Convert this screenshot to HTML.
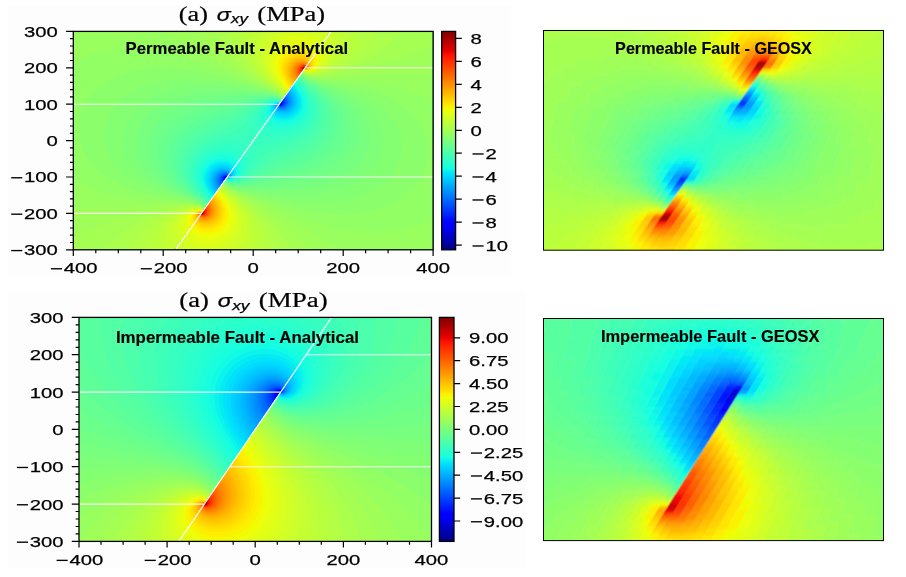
<!DOCTYPE html>
<html><head><meta charset="utf-8"><title>Fault stress verification</title>
<style>
html,body{margin:0;padding:0;background:#fff}
svg{display:block}
text{font-family:"Liberation Sans",sans-serif;fill:#000;stroke:#000;stroke-width:.25px}
.s{font-family:"Liberation Serif",serif;stroke-width:.2px}
.b{font-weight:bold;stroke-width:.15px}
.t{mix-blend-mode:multiply}
</style></head><body>
<svg width="906" height="577" viewBox="0 0 906 577">
<rect width="906" height="577" fill="#fff"/>
<rect x="8.2" y="5" width="503.3" height="271.5" fill="#fdfdfd"/><rect x="8.2" y="290.8" width="517.6" height="277.4" fill="#fdfdfd"/>
<defs><linearGradient id="jet" x1="0" y1="1" x2="0" y2="0"><stop offset="0" stop-color="#000080"/><stop offset="0.11" stop-color="#0000ff"/><stop offset="0.125" stop-color="#0000ff"/><stop offset="0.34" stop-color="#00dbff"/><stop offset="0.35" stop-color="#00e5f7"/><stop offset="0.375" stop-color="#15ffe2"/><stop offset="0.5" stop-color="#7bff7b"/><stop offset="0.64" stop-color="#efff08"/><stop offset="0.65" stop-color="#f7f600"/><stop offset="0.66" stop-color="#ffec00"/><stop offset="0.89" stop-color="#ff1300"/><stop offset="0.91" stop-color="#e80000"/><stop offset="1" stop-color="#800000"/></linearGradient></defs>
<g id="p1"><clipPath id="aL"><path d="M73.3 31.4H331.1L175.3 249.8H73.3z"/></clipPath><clipPath id="aR"><path d="M433.1 31.4H331.1L175.3 249.8H433.1z"/></clipPath><g clip-path="url(#aL)"><rect x="72.3" y="30.4" width="361.8" height="220.4" fill="#000084"/><path fill="#00008d" d="M73.3 249.8v-218.4h259.9l-1 1v1l-3 3v1l-2 2v1l-3 3v1l-2 2v1l-3 3v1l-3 3v1l-2 2v1l-3 3.1v1l-2 2v1l-3 3v1l-2 2v1l-3 3v1l-2 2v1l-3 3v1l-2 2v1l-3 3v1l-2 2v1l-3 3v1l-2 2v1l-3 3v1l-2 2v1l-3 3v1l-2 2.1v1l-3 3v1l-2 2v1l-3 3v1l-2 2v1l-3 3v1l-2 2v1l-3 3v1l-2 2v1l-3 3v1l-2 2v1l-3 3v1l-2 2v1l-3 3v1l-2 2v1l-3 3v1l-2 2.1v1l-3 3v1l-2 2v1l-1 0.9v-1.2l-1-0.5l-0.8 0.8l0.8 0.9l0.9 0.2l-1.9 1.9v1l-2 2v1l-3 3v1l-2 2v1l-3 3v1l-2 2v1l-3 3v1l-2 2v1l-3 3v1l-2 2v1l-3 3v1l-2 2v1l-3 3.1v1l-2 2v1l-3 3v1l-2 2v1l-3 3v1l-3 3v1l-2 2v1l-3 3v1l-1 1z"/><path fill="#000096" d="M73.3 249.8v-218.4h259.9l-1 1v1l-3 3v1l-2 2v1l-3 3v1l-2 2v1l-3 3v1l-3 3v1l-2 2v1l-3 3.1v1l-2 2v1l-3 3v1l-2 2v1l-3 3v1l-2 2v1l-3 3v1l-2 2v1l-3 3v1l-2 2v1l-3 3v1l-2 2v1l-3 3v1l-2 2v1l-3 3v1l-2 2.1v1l-3 3v1l-2 2v1l-3 3v1l-2 2v1l-3 3v1l-2 2v1l-3 3v1l-2 2v1l-3 3v1l-2 2v1l-3 3v1l-2 2v1l-3 3v1l-2 2v1l-3 3v1l-2 2.1v1l-3 3v1l-2 2v1l-0.9 0.9l0.1-0.9l-1.2-0.9l-0.9 0.9l0.9 1l0.7 0.3l-1.7 1.7v1l-2 2v1l-3 3v1l-2 2v1l-3 3v1l-2 2v1l-3 3v1l-2 2v1l-3 3v1l-2 2v1l-3 3v1l-2 2v1l-3 3.1v1l-2 2v1l-3 3v1l-2 2v1l-3 3v1l-3 3v1l-2 2v1l-3 3v1l-1 1z"/><path fill="#00009f" d="M73.3 249.8v-218.4h259.9l-1 1v1l-3 3v1l-2 2v1l-3 3v1l-2 2v1l-3 3v1l-3 3v1l-2 2v1l-3 3.1v1l-2 2v1l-3 3v1l-2 2v1l-3 3v1l-2 2v1l-3 3v1l-2 2v1l-3 3v1l-2 2v1l-3 3v1l-2 2v1l-3 3v1l-2 2v1l-3 3v1l-2 2.1v1l-3 3v1l-2 2v1l-3 3v1l-2 2v1l-3 3v1l-2 2v1l-3 3v1l-2 2v1l-3 3v1l-2 2v1l-3 3v1l-2 2v1l-3 3v1l-2 2v1l-3 3v1l-2 2.1v1l-3 3v1l-2 2v1l-0.9 0.9l0.1-0.9l-1.2-1l-1 0.9l0.8 1.1l0.8 0.4l-1.6 1.6v1l-2 2v1l-3 3v1l-2 2v1l-3 3v1l-2 2v1l-3 3v1l-2 2v1l-3 3v1l-2 2v1l-3 3v1l-2 2v1l-3 3.1v1l-2 2v1l-3 3v1l-2 2v1l-3 3v1l-3 3v1l-2 2v1l-3 3v1l-1 1z"/><path fill="#0000a8" d="M73.3 249.8v-218.4h259.9l-1 1v1l-3 3v1l-2 2v1l-3 3v1l-2 2v1l-3 3v1l-3 3v1l-2 2v1l-3 3.1v1l-2 2v1l-3 3v1l-2 2v1l-3 3v1l-2 2v1l-3 3v1l-2 2v1l-3 3v1l-2 2v1l-3 3v1l-2 2v1l-3 3v1l-2 2v1l-3 3v1l-2 2.1v1l-3 3v1l-2 2v1l-3 3v1l-2 2v1l-3 3v1l-2 2v1l-3 3v1l-2 2v1l-3 3v1l-2 2v1l-3 3v1l-2 2v1l-3 3v1l-2 2v1l-3 3v1l-2 2.1v1l-3 3v1l-2 2v1l-0.9 0.9l0.2-0.9l-1.3-1.1l-1 0.8v0.6l1.5 1.2l-1.5 1.5v1l-2 2v1l-3 3v1l-2 2v1l-3 3v1l-2 2v1l-3 3v1l-2 2v1l-3 3v1l-2 2v1l-3 3v1l-2 2v1l-3 3.1v1l-2 2v1l-3 3v1l-2 2v1l-3 3v1l-3 3v1l-2 2v1l-3 3v1l-1 1z"/><path fill="#0000b1" d="M73.3 249.8v-218.4h259.9l-1 1v1l-3 3v1l-2 2v1l-3 3v1l-2 2v1l-3 3v1l-3 3v1l-2 2v1l-3 3.1v1l-2 2v1l-3 3v1l-2 2v1l-3 3v1l-2 2v1l-3 3v1l-2 2v1l-3 3v1l-2 2v1l-3 3v1l-2 2v1l-3 3v1l-2 2v1l-3 3v1l-2 2.1v1l-3 3v1l-2 2v1l-3 3v1l-2 2v1l-3 3v1l-2 2v1l-3 3v1l-2 2v1l-3 3v1l-2 2v1l-3 3v1l-2 2v1l-3 3v1l-2 2v1l-3 3v1l-2 2.1v1l-3 3v1l-2 2v1l-0.8 0.8l0.1-0.8l-1.3-1.1l-1 0.6l-0.3 0.5l0.3 0.6l1.4 1l-1.4 1.4v1l-2 2v1l-3 3v1l-2 2v1l-3 3v1l-2 2v1l-3 3v1l-2 2v1l-3 3v1l-2 2v1l-3 3v1l-2 2v1l-3 3.1v1l-2 2v1l-3 3v1l-2 2v1l-3 3v1l-3 3v1l-2 2v1l-3 3v1l-1 1z"/><path fill="#0000ba" d="M73.3 249.8v-218.4h259.9l-1 1v1l-3 3v1l-2 2v1l-3 3v1l-2 2v1l-3 3v1l-3 3v1l-2 2v1l-3 3.1v1l-2 2v1l-3 3v1l-2 2v1l-3 3v1l-2 2v1l-3 3v1l-2 2v1l-3 3v1l-2 2v1l-3 3v1l-2 2v1l-3 3v1l-2 2v1l-3 3v1l-2 2.1v1l-3 3v1l-2 2v1l-3 3v1l-2 2v1l-3 3v1l-2 2v1l-3 3v1l-2 2v1l-3 3v1l-2 2v1l-3 3v1l-2 2v1l-3 3v1l-2 2v1l-3 3v1l-2 2.1v1l-3 3v1l-2 2v1l-0.8 0.8l0.1-0.8l-1.3-1.2l-1 0.5l-0.4 0.7l0.4 0.8l1.2 1l-1.2 1.2v1l-2 2v1l-3 3v1l-2 2v1l-3 3v1l-2 2v1l-3 3v1l-2 2v1l-3 3v1l-2 2v1l-3 3v1l-2 2v1l-3 3.1v1l-2 2v1l-3 3v1l-2 2v1l-3 3v1l-3 3v1l-2 2v1l-3 3v1l-1 1z"/><path fill="#0000c3" d="M73.3 249.8v-218.4h259.9l-1 1v1l-3 3v1l-2 2v1l-3 3v1l-2 2v1l-3 3v1l-3 3v1l-2 2v1l-3 3.1v1l-2 2v1l-3 3v1l-2 2v1l-3 3v1l-2 2v1l-3 3v1l-2 2v1l-3 3v1l-2 2v1l-3 3v1l-2 2v1l-3 3v1l-2 2v1l-3 3v1l-2 2.1v1l-3 3v1l-2 2v1l-3 3v1l-2 2v1l-3 3v1l-2 2v1l-3 3v1l-2 2v1l-3 3v1l-2 2v1l-3 3v1l-2 2v1l-3 3v1l-2 2v1l-3 3v1l-2 2.1v1l-3 3v1l-2 2v1l-0.8 0.8l0.1-0.8l-1.3-1.2l-1 0.3l-0.5 0.9l0.5 1.1l1.1 0.8l-1.1 1.1v1l-2 2v1l-3 3v1l-2 2v1l-3 3v1l-2 2v1l-3 3v1l-2 2v1l-3 3v1l-2 2v1l-3 3v1l-2 2v1l-3 3.1v1l-2 2v1l-3 3v1l-2 2v1l-3 3v1l-3 3v1l-2 2v1l-3 3v1l-1 1z"/><path fill="#0000cc" d="M73.3 249.8v-218.4h259.9l-1 1v1l-3 3v1l-2 2v1l-3 3v1l-2 2v1l-3 3v1l-3 3v1l-2 2v1l-3 3.1v1l-2 2v1l-3 3v1l-2 2v1l-3 3v1l-2 2v1l-3 3v1l-2 2v1l-3 3v1l-2 2v1l-3 3v1l-2 2v1l-3 3v1l-2 2v1l-3 3v1l-2 2.1v1l-3 3v1l-2 2v1l-3 3v1l-2 2v1l-3 3v1l-2 2v1l-3 3v1l-2 2v1l-3 3v1l-2 2v1l-3 3v1l-2 2v1l-3 3v1l-2 2v1l-3 3v1l-2 2.1v1l-3 3v1l-2 2v1l-0.8 0.7l0.2-0.7l-1.4-1.3l-1 0.3l-0.6 1l0.6 1.3l1 0.7l-1 1v1l-2 2v1l-3 3v1l-2 2v1l-3 3v1l-2 2v1l-3 3v1l-2 2v1l-3 3v1l-2 2v1l-3 3v1l-2 2v1l-3 3.1v1l-2 2v1l-3 3v1l-2 2v1l-3 3v1l-3 3v1l-2 2v1l-3 3v1l-1 1z"/><path fill="#0000d6" d="M73.3 249.8v-218.4h259.9l-1 1v1l-3 3v1l-2 2v1l-3 3v1l-2 2v1l-3 3v1l-3 3v1l-2 2v1l-3 3.1v1l-2 2v1l-3 3v1l-2 2v1l-3 3v1l-2 2v1l-3 3v1l-2 2v1l-3 3v1l-2 2v1l-3 3v1l-2 2v1l-3 3v1l-2 2v1l-3 3v1l-2 2.1v1l-3 3v1l-2 2v1l-3 3v1l-2 2v1l-3 3v1l-2 2v1l-3 3v1l-2 2v1l-3 3v1l-2 2v1l-3 3v1l-2 2v1l-3 3v1l-2 2v1l-3 3v1l-2 2.1v1l-3 3v1l-2 2v1l-0.7 0.7l0.1-0.7l-1.4-1.4l-1.2 0.4l-0.5 1l0.2 1l1.3 1.2l-0.8 0.8v1l-2 2v1l-3 3v1l-2 2v1l-3 3v1l-2 2v1l-3 3v1l-2 2v1l-3 3v1l-2 2v1l-3 3v1l-2 2v1l-3 3.1v1l-2 2v1l-3 3v1l-2 2v1l-3 3v1l-3 3v1l-2 2v1l-3 3v1l-1 1z"/><path fill="#0000df" d="M73.3 249.8v-218.4h259.9l-1 1v1l-3 3v1l-2 2v1l-3 3v1l-2 2v1l-3 3v1l-3 3v1l-2 2v1l-3 3.1v1l-2 2v1l-3 3v1l-2 2v1l-3 3v1l-2 2v1l-3 3v1l-2 2v1l-3 3v1l-2 2v1l-3 3v1l-2 2v1l-3 3v1l-2 2v1l-3 3v1l-2 2.1v1l-3 3v1l-2 2v1l-3 3v1l-2 2v1l-3 3v1l-2 2v1l-3 3v1l-2 2v1l-3 3v1l-2 2v1l-3 3v1l-2 2v1l-3 3v1l-2 2v1l-3 3v1l-2 2.1v1l-3 3v1l-2 2v1l-0.7 0.7l0.1-0.7l-1.4-1.4l-1.3 0.4l-0.6 1l0.3 1l1.2 1.4l-0.6 0.6v1l-2 2v1l-3 3v1l-2 2v1l-3 3v1l-2 2v1l-3 3v1l-2 2v1l-3 3v1l-2 2v1l-3 3v1l-2 2v1l-3 3.1v1l-2 2v1l-3 3v1l-2 2v1l-3 3v1l-3 3v1l-2 2v1l-3 3v1l-1 1z"/><path fill="#0000e8" d="M73.3 249.8v-218.4h259.9l-1 1v1l-3 3v1l-2 2v1l-3 3v1l-2 2v1l-3 3v1l-3 3v1l-2 2v1l-3 3.1v1l-2 2v1l-3 3v1l-2 2v1l-3 3v1l-2 2v1l-3 3v1l-2 2v1l-3 3v1l-2 2v1l-3 3v1l-2 2v1l-3 3v1l-2 2v1l-3 3v1l-2 2.1v1l-3 3v1l-2 2v1l-3 3v1l-2 2v1l-3 3v1l-2 2v1l-3 3v1l-2 2v1l-3 3v1l-2 2v1l-3 3v1l-2 2v1l-3 3v1l-2 2v1l-3 3v1l-2 2.1v1l-3 3v1l-2 2v1l-0.7 0.7l0.1-0.7l-1.4-1.5l-1.5 0.5l-0.5 1l0.2 1l1.3 1.5l-0.5 0.5v1l-2 2v1l-3 3v1l-2 2v1l-3 3v1l-2 2v1l-3 3v1l-2 2v1l-3 3v1l-2 2v1l-3 3v1l-2 2v1l-3 3.1v1l-2 2v1l-3 3v1l-2 2v1l-3 3v1l-3 3v1l-2 2v1l-3 3v1l-1 1z"/><path fill="#0000f1" d="M73.3 249.8v-218.4h259.9l-1 1v1l-3 3v1l-2 2v1l-3 3v1l-2 2v1l-3 3v1l-3 3v1l-2 2v1l-3 3.1v1l-2 2v1l-3 3v1l-2 2v1l-3 3v1l-2 2v1l-3 3v1l-2 2v1l-3 3v1l-2 2v1l-3 3v1l-2 2v1l-3 3v1l-2 2v1l-3 3v1l-2 2.1v1l-3 3v1l-2 2v1l-3 3v1l-2 2v1l-3 3v1l-2 2v1l-3 3v1l-2 2v1l-3 3v1l-2 2v1l-3 3v1l-2 2v1l-3 3v1l-2 2v1l-3 3v1l-2 2.1v1l-3 3v1l-2 2v1l-0.7 0.6l0.1-0.6l-1.4-1.5l-1.6 0.5l-0.6 1l0.2 1l1.3 1.7l-0.3 0.3v1l-2 2v1l-3 3v1l-2 2v1l-3 3v1l-2 2v1l-3 3v1l-2 2v1l-3 3v1l-2 2v1l-3 3v1l-2 2v1l-3 3.1v1l-2 2v1l-3 3v1l-2 2v1l-3 3v1l-3 3v1l-2 2v1l-3 3v1l-1 1zM279.2 104.3l-0.4 0.2l0.4 0.5z"/><path fill="#0000fa" d="M73.3 249.8v-218.4h259.9l-1 1v1l-3 3v1l-2 2v1l-3 3v1l-2 2v1l-3 3v1l-3 3v1l-2 2v1l-3 3.1v1l-2 2v1l-3 3v1l-2 2v1l-3 3v1l-2 2v1l-3 3v1l-2 2v1l-3 3v1l-2 2v1l-3 3v1l-2 2v1l-3 3v1l-2 2v1l-3 3v1l-2 2.1v1l-3 3v1l-2 2v1l-3 3v1l-2 2v1l-3 3v1l-2 2v1l-3 3v1l-2 2v1l-3 3v1l-2 2v1l-3 3v1l-2 2v1l-3 3v1l-2 2v1l-3 3v1l-2 2.1v1l-3 3v1l-2 2v1l-0.6 0.6l0.1-0.6l-1.5-1.6l-1 0.1l-0.8 0.5l-0.6 1l0.1 1l1.4 1.9l-0.1 1.1l-2 2v1l-3 3v1l-2 2v1l-3 3v1l-2 2v1l-3 3v1l-2 2v1l-3 3v1l-2 2v1l-3 3v1l-2 2v1l-3 3.1v1l-2 2v1l-3 3v1l-2 2v1l-3 3v1l-3 3v1l-2 2v1l-3 3v1l-1 1zM279.2 104.2l-0.5 0.3l0.5 0.6z"/><path fill="#0000ff" d="M73.3 249.8v-218.4h259.9l-1 1v1l-3 3v1l-2 2v1l-3 3v1l-2 2v1l-3 3v1l-3 3v1l-2 2v1l-3 3.1v1l-2 2v1l-3 3v1l-2 2v1l-3 3v1l-2 2v1l-3 3v1l-2 2v1l-3 3v1l-2 2v1l-3 3v1l-2 2v1l-3 3v1l-2 2v1l-3 3v1l-2 2.1v1l-3 3v1l-2 2v1l-3 3v1l-2 2v1l-3 3v1l-2 2v1l-3 3v1l-2 2v1l-3 3v1l-2 2v1l-3 3v1l-2 2v1l-3 3v1l-2 2v1l-3 3v1l-2 2.1v1l-3 3v1l-2 2v1l-0.6 0.6l0.1-0.6l-1.5-1.7l-1 0.1l-1 0.6l-0.5 1v1l1.5 2.1v0.9l-2 2v1l-3 3v1l-2 2v1l-3 3v1l-2 2v1l-3 3v1l-2 2v1l-3 3v1l-2 2v1l-3 3v1l-2 2v1l-3 3.1v1l-2 2v1l-3 3v1l-2 2v1l-3 3v1l-3 3v1l-2 2v1l-3 3v1l-1 1zM279.2 104.2l-0.6 0.3l0.6 0.7l0.2-0.7z"/><path fill="#0000ff" d="M73.3 249.8v-218.4h259.9l-1 1v1l-3 3v1l-2 2v1l-3 3v1l-2 2v1l-3 3v1l-3 3v1l-2 2v1l-3 3.1v1l-2 2v1l-3 3v1l-2 2v1l-3 3v1l-2 2v1l-3 3v1l-2 2v1l-3 3v1l-2 2v1l-3 3v1l-2 2v1l-3 3v1l-2 2v1l-3 3v1l-2 2.1v1l-3 3v1l-2 2v1l-3 3v1l-2 2v1l-3 3v1l-2 2v1l-3 3v1l-2 2v1l-3 3v1l-2 2v1l-3 3v1l-2 2v1l-3 3v1l-2 2v1l-3 3v1l-2 2.1v1l-3 3v1l-2 2v1l-0.6 0.6l0.1-0.6l-1.5-1.7h-1l-1.2 0.7l-0.5 1v1l0.7 1.5l1 1v0.5l-2 2v1l-3 3v1l-2 2v1l-3 3v1l-2 2v1l-3 3v1l-2 2v1l-3 3v1l-2 2v1l-3 3v1l-2 2v1l-3 3.1v1l-2 2v1l-3 3v1l-2 2v1l-3 3v1l-3 3v1l-2 2v1l-3 3v1l-1 1zM279.2 104.2l-0.6 0.3l0.6 0.7l0.2-0.7z"/><path fill="#0004ff" d="M73.3 249.8v-218.4h259.9l-1 1v1l-3 3v1l-2 2v1l-3 3v1l-2 2v1l-3 3v1l-3 3v1l-2 2v1l-3 3.1v1l-2 2v1l-3 3v1l-2 2v1l-3 3v1l-2 2v1l-3 3v1l-2 2v1l-3 3v1l-2 2v1l-3 3v1l-2 2v1l-3 3v1l-2 2v1l-3 3v1l-2 2.1v1l-3 3v1l-2 2v1l-3 3v1l-2 2v1l-3 3v1l-2 2v1l-3 3v1l-2 2v1l-3 3v1l-2 2v1l-3 3v1l-2 2v1l-3 3v1l-2 2v1l-3 3v1l-2 2.1v1l-3 3v1l-2 2v1l-0.5 0.5v-0.5l-1.5-1.8h-1l-1.4 0.8l-0.5 1v1l0.3 1l1.6 2l-2 2v1l-3 3v1l-2 2v1l-3 3v1l-2 2v1l-3 3v1l-2 2v1l-3 3v1l-2 2v1l-3 3v1l-2 2v1l-3 3.1v1l-2 2v1l-3 3v1l-2 2v1l-3 3v1l-3 3v1l-2 2v1l-3 3v1l-1 1zM279.2 104.1l-0.7 0.4l0.7 0.8l0.2-0.8z"/><path fill="#000cff" d="M73.3 249.8v-218.4h259.9l-1 1v1l-3 3v1l-2 2v1l-3 3v1l-2 2v1l-3 3v1l-3 3v1l-2 2v1l-3 3.1v1l-2 2v1l-3 3v1l-2 2v1l-3 3v1l-2 2v1l-3 3v1l-2 2v1l-3 3v1l-2 2v1l-3 3v1l-2 2v1l-3 3v1l-2 2v1l-3 3v1l-2 2.1v1l-3 3v1l-2 2v1l-3 3v1l-2 2v1l-3 3v1l-2 2v1l-3 3v1l-2 2v1l-3 3v1l-2 2v1l-3 3v1l-2 2v1l-3 3v1l-2 2v1l-3 3v1l-2 2.1v1l-3 3v1l-2 2v1l-0.5 0.5l0.1-0.5l-1.6-1.8l-1-0.1l-1.6 0.9l-0.5 1l0.1 1.8l0.7 1.2l1.2 1.1l-1.9 1.9v1l-3 3v1l-2 2v1l-3 3v1l-2 2v1l-3 3v1l-2 2v1l-3 3v1l-2 2v1l-3 3v1l-2 2v1l-3 3.1v1l-2 2v1l-3 3v1l-2 2v1l-3 3v1l-3 3v1l-2 2v1l-3 3v1l-1 1zM279.2 104.1l-0.7 0.4l0.7 0.8l0.3-0.8z"/><path fill="#0014ff" d="M73.3 249.8v-218.4h259.9l-1 1v1l-3 3v1l-2 2v1l-3 3v1l-2 2v1l-3 3v1l-3 3v1l-2 2v1l-3 3.1v1l-2 2v1l-3 3v1l-2 2v1l-3 3v1l-2 2v1l-3 3v1l-2 2v1l-3 3v1l-2 2v1l-3 3v1l-2 2v1l-3 3v1l-2 2v1l-3 3v1l-2 2.1v1l-3 3v1l-2 2v1l-3 3v1l-2 2v1l-3 3v1l-2 2v1l-3 3v1l-2 2v1l-3 3v1l-2 2v1l-3 3v1l-2 2v1l-3 3v1l-2 2v1l-3 3v1l-2 2.1v1l-3 3v1l-2 2v1l-0.5 0.5l0.1-0.5l-1.6-1.9l-2 0.2l-0.8 0.7l-0.6 1l0.2 2l1.8 2.4l-1.6 1.6v1l-3 3v1l-2 2v1l-3 3v1l-2 2v1l-3 3v1l-2 2v1l-3 3v1l-2 2v1l-3 3v1l-2 2v1l-3 3.1v1l-2 2v1l-3 3v1l-2 2v1l-3 3v1l-3 3v1l-2 2v1l-3 3v1l-1 1zM279.2 104.1l-0.8 0.4l0.8 0.9l0.3-0.9z"/><path fill="#001cff" d="M73.3 249.8v-218.4h259.9l-1 1v1l-3 3v1l-2 2v1l-3 3v1l-2 2v1l-3 3v1l-3 3v1l-2 2v1l-3 3.1v1l-2 2v1l-3 3v1l-2 2v1l-3 3v1l-2 2v1l-3 3v1l-2 2v1l-3 3v1l-2 2v1l-3 3v1l-2 2v1l-3 3v1l-2 2v1l-3 3v1l-2 2.1v1l-3 3v1l-2 2v1l-3 3v1l-2 2v1l-3 3v1l-2 2v1l-3 3v1l-2 2v1l-3 3v1l-2 2v1l-3 3v1l-2 2v1l-3 3v1l-2 2v1l-3 3v1l-2 2.1v1l-3 3v1l-2 2v1l-0.5 0.4l0.1-0.4l-1.6-2l-2 0.2l-1.1 0.8l-0.5 1v2l1.9 2.7l-1.3 1.3v1l-3 3v1l-2 2v1l-3 3v1l-2 2v1l-3 3v1l-2 2v1l-3 3v1l-2 2v1l-3 3v1l-2 2v1l-3 3.1v1l-2 2v1l-3 3v1l-2 2v1l-3 3v1l-3 3v1l-2 2v1l-3 3v1l-1 1zM279.2 104l-0.8 0.5l0.8 1l0.3-1z"/><path fill="#0024ff" d="M73.3 249.8v-218.4h259.9l-1 1v1l-3 3v1l-2 2v1l-3 3v1l-2 2v1l-3 3v1l-3 3v1l-2 2v1l-3 3.1v1l-2 2v1l-3 3v1l-2 2v1l-3 3v1l-2 2v1l-3 3v1l-2 2v1l-3 3v1l-2 2v1l-3 3v1l-2 2v1l-3 3v1l-1 1h-0.9l0.7 0.2l-0.8 0.8v1l-3 3v1l-2 2.1v1l-3 3v1l-2 2v1l-3 3v1l-2 2v1l-3 3v1l-2 2v1l-3 3v1l-2 2v1l-3 3v1l-2 2v1l-3 3v1l-2 2v1l-3 3v1l-2 2v1l-3 3v1l-2 2.1v1l-3 3v1l-2 2v1l-0.4 0.4v-0.4l-1.6-2l-1-0.2l-1 0.2l-1.4 1l-0.5 1v2l0.9 1.8l1.1 1.1l-1.1 1.1v1l-3 3v1l-2 2v1l-3 3v1l-2 2v1l-3 3v1l-2 2v1l-3 3v1l-2 2v1l-3 3v1l-2 2v1l-3 3.1v1l-2 2v1l-3 3v1l-2 2v1l-3 3v1l-3 3v1l-2 2v1l-3 3v1l-1 1zM279.2 104l-0.9 0.5l0.9 1l0.3-1z"/><path fill="#002cff" d="M73.3 249.8v-218.4h259.9l-1 1v1l-3 3v1l-2 2v1l-3 3v1l-2 2v1l-3 3v1l-3 3v1l-2 2v1l-3 3.1v1l-2 2v1l-3 3v1l-2 2v1l-3 3v1l-2 2v1l-3 3v1l-2 2v1l-3 3v1l-2 2v1l-3 3v1l-2 2v1l-3 3v1l-1 1l-1-1.5l-0.9 0.5l0.9 1.2l0.7 0.1l-0.7 0.7v1l-3 3v1l-2 2.1v1l-3 3v1l-2 2v1l-3 3v1l-2 2v1l-3 3v1l-2 2v1l-3 3v1l-2 2v1l-3 3v1l-2 2v1l-3 3v1l-2 2v1l-3 3v1l-2 2v1l-3 3v1l-2 2.1v1l-3 3v1l-2 2v1l-0.4 0.4l0.1-0.4l-1.5-2l-1.2-0.4l-1.4 0.4l-1.3 1l-0.5 1v2l0.9 2l1.1 1.2l-0.8 0.8v1l-3 3v1l-2 2v1l-3 3v1l-2 2v1l-3 3v1l-2 2v1l-3 3v1l-2 2v1l-3 3v1l-2 2v1l-3 3.1v1l-2 2v1l-3 3v1l-2 2v1l-3 3v1l-3 3v1l-2 2v1l-3 3v1l-1 1z"/><path fill="#0034ff" d="M73.3 249.8v-218.4h259.9l-1 1v1l-3 3v1l-2 2v1l-3 3v1l-2 2v1l-3 3v1l-3 3v1l-2 2v1l-3 3.1v1l-2 2v1l-3 3v1l-2 2v1l-3 3v1l-2 2v1l-3 3v1l-2 2v1l-3 3v1l-2 2v1l-3 3v1l-2 2v1l-3 3v1l-0.9 0.9l-1.1-1.5l-1 0.6l0.6 1l1 0.5l-0.6 0.5v1l-3 3v1l-2 2.1v1l-3 3v1l-2 2v1l-3 3v1l-2 2v1l-3 3v1l-2 2v1l-3 3v1l-2 2v1l-3 3v1l-2 2v1l-3 3v1l-2 2v1l-3 3v1l-2 2v1l-3 3v1l-2 2.1v1l-3 3v1l-2 2v1l-0.4 0.4l0.1-0.4l-1.3-2l-1.4-0.5l-1.8 0.5l-1.2 1l-0.5 1l-0.1 2l0.8 2l1.3 1.5l-0.5 0.5v1l-3 3v1l-2 2v1l-3 3v1l-2 2v1l-3 3v1l-2 2v1l-3 3v1l-2 2v1l-3 3v1l-2 2v1l-3 3.1v1l-2 2v1l-3 3v1l-2 2v1l-3 3v1l-3 3v1l-2 2v1l-3 3v1l-1 1z"/><path fill="#003cff" d="M73.3 249.8v-218.4h259.9l-1 1v1l-3 3v1l-2 2v1l-3 3v1l-2 2v1l-3 3v1l-3 3v1l-2 2v1l-3 3.1v1l-2 2v1l-3 3v1l-2 2v1l-3 3v1l-2 2v1l-3 3v1l-2 2v1l-3 3v1l-2 2v1l-3 3v1l-2 2v1l-3 3v1l-0.9 0.9l-1.1-1.5l-1 0.6l0.5 1l0.9 0.6l-0.4 0.4v1l-3 3v1l-2 2.1v1l-3 3v1l-2 2v1l-3 3v1l-2 2v1l-3 3v1l-2 2v1l-3 3v1l-2 2v1l-3 3v1l-2 2v1l-3 3v1l-2 2v1l-3 3v1l-2 2v1l-3 3v1l-2 2.1v1l-3 3v1l-2 2v1l-0.4 0.3l0.1-0.3l-1.2-2l-1.5-0.7l-2 0.5l-1.3 1.2l-0.5 1l-0.2 2l0.7 2l1.5 1.8l-0.2 1.2l-3 3v1l-2 2v1l-3 3v1l-2 2v1l-3 3v1l-2 2v1l-3 3v1l-2 2v1l-3 3v1l-2 2v1l-3 3.1v1l-2 2v1l-3 3v1l-2 2v1l-3 3v1l-3 3v1l-2 2v1l-3 3v1l-1 1z"/><path fill="#0044ff" d="M73.3 249.8v-218.4h259.9l-1 1v1l-3 3v1l-2 2v1l-3 3v1l-2 2v1l-3 3v1l-3 3v1l-2 2v1l-3 3.1v1l-2 2v1l-3 3v1l-2 2v1l-3 3v1l-2 2v1l-3 3v1l-2 2v1l-3 3v1l-2 2v1l-3 3v1l-2 2v1l-3 3v1l-0.9 0.9l-1.1-1.5l-1.1 0.6l0.4 1l1 0.7l-0.3 0.3v1l-3 3v1l-2 2.1v1l-3 3v1l-2 2v1l-3 3v1l-2 2v1l-3 3v1l-2 2v1l-3 3v1l-2 2v1l-3 3v1l-2 2v1l-3 3v1l-2 2v1l-3 3v1l-2 2v1l-3 3v1l-2 2.1v1l-3 3v1l-2 2v1l-0.3 0.3l-1-2.3l-0.7-0.6l-1-0.2l-2 0.4l-1.7 1.4l-0.5 1l-0.2 2l0.6 2l1.8 2.4v0.6l-3 3v1l-2 2v1l-3 3v1l-2 2v1l-3 3v1l-2 2v1l-3 3v1l-2 2v1l-3 3v1l-2 2v1l-3 3.1v1l-2 2v1l-3 3v1l-2 2v1l-3 3v1l-3 3v1l-2 2v1l-3 3v1l-1 1z"/><path fill="#004cff" d="M73.3 249.8v-218.4h259.9l-1 1v1l-3 3v1l-2 2v1l-3 3v1l-2 2v1l-3 3v1l-3 3v1l-2 2v1l-3 3.1v1l-2 2v1l-3 3v1l-2 2v1l-3 3v1l-2 2v1l-3 3v1l-2 2v1l-3 3v1l-2 2v1l-3 3v1l-2 2v1l-3 3v1l-0.9 0.9l-1.1-1.6l-1.2 0.7l0.3 1l1.1 0.8l-0.2 1.2l-3 3v1l-2 2.1v1l-3 3v1l-2 2v1l-3 3v1l-2 2v1l-3 3v1l-2 2v1l-3 3v1l-2 2v1l-3 3v1l-2 2v1l-3 3v1l-2 2v1l-3 3v1l-2 2v1l-3 3v1l-2 2.1v1l-3 3v1l-2 2v1l-0.3 0.3l-0.8-2.3l-0.9-0.8l-1-0.2l-2 0.3l-2.1 1.7l-0.7 2l0.2 2l0.9 2l1.7 2l-3 3v1l-2 2v1l-3 3v1l-2 2v1l-3 3v1l-2 2v1l-3 3v1l-2 2v1l-3 3v1l-2 2v1l-3 3.1v1l-2 2v1l-3 3v1l-2 2v1l-3 3v1l-3 3v1l-2 2v1l-3 3v1l-1 1z"/><path fill="#0054ff" d="M73.3 249.8v-218.4h259.9l-1 1v1l-3 3v1l-2 2v1l-3 3v1l-2 2v1l-3 3v1l-3 3v1l-2 2v1l-3 3.1v1l-2 2v1l-3 3v1l-2 2v1l-3 3v1l-2 2v1l-3 3v1l-2 2v1l-3 3v1l-2 2v1l-3 3v1l-2 2v1l-3 3v1l-0.8 0.8l-1.2-1.5l-1.4 0.7l0.4 1.2l1.1 0.8l-0.1 1l-3 3v1l-2 2.1v1l-3 3v1l-2 2v1l-3 3v1l-2 2v1l-3 3v1l-2 2v1l-3 3v1l-2 2v1l-3 3v1l-2 2v1l-3 3v1l-2 2v1l-3 3v1l-2 2v1l-3 3v1l-2 2.1v1l-3 3v1l-2 2v1l-0.3 0.3l-0.7-2.5l-1-0.7l-1-0.3l-1.6 0.2l-1.4 0.5l-1.5 1.5l-0.7 2l0.1 2l0.8 2l1.9 2.4l-2.6 2.6v1l-2 2v1l-3 3v1l-2 2v1l-3 3v1l-2 2v1l-3 3v1l-2 2v1l-3 3v1l-2 2v1l-3 3.1v1l-2 2v1l-3 3v1l-2 2v1l-3 3v1l-3 3v1l-2 2v1l-3 3v1l-1 1z"/><path fill="#005cff" d="M73.3 249.8v-218.4h259.9l-1 1v1l-3 3v1l-2 2v1l-3 3v1l-2 2v1l-3 3v1l-3 3v1l-2 2v1l-3 3.1v1l-2 2v1l-3 3v1l-2 2v1l-3 3v1l-2 2v1l-3 3v1l-2 2v1l-3 3v1l-2 2v1l-3 3v1l-2 2v1l-3 3v1l-0.8 0.8l-1.2-1.5l-1.5 0.7l0.5 1.4l1 0.7v0.9l-3 3v1l-2 2.1v1l-3 3v1l-2 2v1l-3 3v1l-2 2v1l-3 3v1l-2 2v1l-3 3v1l-2 2v1l-3 3v1l-2 2v1l-3 3v1l-2 2v1l-3 3v1l-2 2v1l-3 3v1l-2 2.1v1l-3 3v1l-2 2v1l-0.2 0.2l-0.8-2.6l-2-1h-1l-2 0.6l-1.9 1.8l-0.8 2l0.1 2l0.7 2l2.1 2.8l-2.2 2.2v1l-2 2v1l-3 3v1l-2 2v1l-3 3v1l-2 2v1l-3 3v1l-2 2v1l-3 3v1l-2 2v1l-3 3.1v1l-2 2v1l-3 3v1l-2 2v1l-3 3v1l-3 3v1l-2 2v1l-3 3v1l-1 1z"/><path fill="#0064ff" d="M73.3 249.8v-218.4h259.9l-1 1v1l-3 3v1l-2 2v1l-3 3v1l-2 2v1l-3 3v1l-3 3v1l-2 2v1l-3 3.1v1l-2 2v1l-3 3v1l-2 2v1l-3 3v1l-2 2v1l-3 3v1l-2 2v1l-3 3v1l-2 2v1l-3 3v1l-2 2v1l-3 3v1l-1 0.7l-1-1.5l-1.6 0.8l0.1 1l1.5 1.4v0.6l-3 3v1l-2 2.1v1l-3 3v1l-2 2v1l-3 3v1l-2 2v1l-3 3v1l-2 2v1l-3 3v1l-2 2v1l-3 3v1l-2 2v1l-3 3v1l-2 2v1l-3 3v1l-2 2v1l-3 3v1l-2 2.1v1l-3 3v1l-2 2v1l-0.2 0.2l-0.3-2.2l-0.5-0.7l-2-0.9l-3 0.4l-1.6 1.2l-0.8 1l-0.7 2v2l1.1 2.9l1.8 2.3l-1.8 1.8v1l-2 2v1l-3 3v1l-2 2v1l-3 3v1l-2 2v1l-3 3v1l-2 2v1l-3 3v1l-2 2v1l-3 3.1v1l-2 2v1l-3 3v1l-2 2v1l-3 3v1l-3 3v1l-2 2v1l-3 3v1l-1 1z"/><path fill="#006cff" d="M73.3 249.8v-218.4h259.9l-1 1v1l-3 3v1l-2 2v1l-3 3v1l-2 2v1l-3 3v1l-3 3v1l-2 2v1l-3 3.1v1l-2 2v1l-3 3v1l-2 2v1l-3 3v1l-2 2v1l-3 3v1l-2 2v1l-3 3v1l-2 2v1l-3 3v1l-2 2v1l-3 3v1l-1 0.7l-1-1.5l-1 0.2l-0.7 0.6l0.1 1l0.6 0.9l1 0.7v0.4l-3 3v1l-2 2.1v1l-3 3v1l-2 2v1l-3 3v1l-2 2v1l-3 3v1l-2 2v1l-3 3v1l-2 2v1l-3 3v1l-2 2v1l-3 3v1l-2 2v1l-3 3v1l-2 2v1l-3 3v1l-2 2.1v1l-3 3v1l-2 2v1l-0.2 0.2l-0.2-2.2l-0.6-0.9l-2-1l-3 0.4l-2 1.3l-0.9 1.2l-0.7 2l0.2 3l0.8 2l1.9 2.7l-1.3 1.3v1l-2 2v1l-3 3v1l-2 2v1l-3 3v1l-2 2v1l-3 3v1l-2 2v1l-3 3v1l-2 2v1l-3 3.1v1l-2 2v1l-3 3v1l-2 2v1l-3 3v1l-3 3v1l-2 2v1l-3 3v1l-1 1z"/><path fill="#0074ff" d="M73.3 249.8v-218.4h259.9l-1 1v1l-3 3v1l-2 2v1l-3 3v1l-2 2v1l-3 3v1l-3 3v1l-2 2v1l-3 3.1v1l-2 2v1l-3 3v1l-2 2v1l-3 3v1l-2 2v1l-3 3v1l-2 2v1l-3 3v1l-2 2v1l-3 3v1l-2 2v1l-3 3v1l-0.7 0.7h-0.3l-1-1.5l-1 0.1l-0.8 0.7v1l0.6 1l1.2 1l-3 3v1l-2 2.1v1l-3 3v1l-2 2v1l-3 3v1l-2 2v1l-3 3v1l-2 2v1l-3 3v1l-2 2v1l-3 3v1l-2 2v1l-3 3v1l-2 2v1l-3 3v1l-2 2v1l-3 3v1l-2 2.1v1l-3 3v1l-2 2v1l-0.2-2l-0.6-1l-1.2-0.9l-1-0.2l-3 0.2l-1.6 0.9l-1.4 1.3l-0.9 1.7l-0.3 3l1 3l2.1 3.1l-0.9 0.9v1l-2 2v1l-3 3v1l-2 2v1l-3 3v1l-2 2v1l-3 3v1l-2 2v1l-3 3v1l-2 2v1l-3 3.1v1l-2 2v1l-3 3v1l-2 2v1l-3 3v1l-3 3v1l-2 2v1l-3 3v1l-1 1z"/><path fill="#007cff" d="M73.3 249.8v-218.4h259.9l-1 1v1l-3 3v1l-2 2v1l-3 3v1l-2 2v1l-3 3v1l-3 3v1l-2 2v1l-3 3.1v1l-2 2v1l-3 3v1l-2 2v1l-3 3v1l-2 2v1l-3 3v1l-2 2v1l-3 3v1l-2 2v1l-3 3v1l-2 2v1l-3 3v1l-0.7 0.7h-0.3l-1-1.6l-1 0.1l-0.9 0.8l-0.1 1l0.5 1l1.4 1.1l-2.9 2.9v1l-2 2.1v1l-3 3v1l-2 2v1l-3 3v1l-2 2v1l-3 3v1l-2 2v1l-3 3v1l-2 2v1l-3 3v1l-2 2v1l-3 3v1l-2 2v1l-3 3v1l-2 2v1l-3 3v1l-2 2.1v1l-3 3v1l-2 2v1v-2l-1-1.6l-2-0.8l-2-0.1l-1.6 0.5l-1.4 0.7l-1.4 1.3l-1.1 2l-0.3 3l0.9 3l2.3 3.6l-0.4 0.4v1l-2 2v1l-3 3v1l-2 2v1l-3 3v1l-2 2v1l-3 3v1l-2 2v1l-3 3v1l-2 2v1l-3 3.1v1l-2 2v1l-3 3v1l-2 2v1l-3 3v1l-3 3v1l-2 2v1l-3 3v1l-1 1z"/><path fill="#0083ff" d="M73.3 249.8v-218.4h259.9l-1 1v1l-3 3v1l-2 2v1l-3 3v1l-2 2v1l-3 3v1l-3 3v1l-2 2v1l-3 3.1v1l-2 2v1l-3 3v1l-2 2v1l-3 3v1l-2 2v1l-3 3v1l-2 2v1l-3 3v1l-2 2v1l-3 3v1l-2 2v1l-3 3v1l-0.7 0.7l-0.3-0.1l-1-1.5h-1l-1.1 0.9l-0.1 1l0.4 1l1.5 1.3l-2.7 2.7v1l-2 2.1v1l-3 3v1l-2 2v1l-3 3v1l-2 2v1l-3 3v1l-2 2v1l-3 3v1l-2 2v1l-3 3v1l-2 2v1l-3 3v1l-2 2v1l-3 3v1l-2 2v1l-3 3v1l-2 2.1v1l-3 3v1l-1.9 1.9l-0.1-1.5l-1-1.3l-2-0.9h-2l-3 1l-2 1.8l-1.3 3l0.1 3l1.1 3l2.1 3.2v0.8l-2 2v1l-3 3v1l-2 2v1l-3 3v1l-2 2v1l-3 3v1l-2 2v1l-3 3v1l-2 2v1l-3 3.1v1l-2 2v1l-3 3v1l-2 2v1l-3 3v1l-3 3v1l-2 2v1l-3 3v1l-1 1z"/><path fill="#008bff" d="M73.3 249.8v-218.4h259.9l-1 1v1l-3 3v1l-2 2v1l-3 3v1l-2 2v1l-3 3v1l-3 3v1l-2 2v1l-3 3.1v1l-2 2v1l-3 3v1l-2 2v1l-3 3v1l-2 2v1l-3 3v1l-2 2v1l-3 3v1l-2 2v1l-3 3v1l-2 2v1l-3 3v1l-0.6 0.7l-0.4-0.1l-1-1.5l-1-0.1l-1.3 1l-0.2 1l0.4 1l1.5 1.6l-2.4 2.4v1l-2 2.1v1l-3 3v1l-2 2v1l-3 3v1l-2 2v1l-3 3v1l-2 2v1l-3 3v1l-2 2v1l-3 3v1l-2 2v1l-3 3v1l-2 2v1l-3 3v1l-2 2v1l-3 3v1l-2 2.1v1l-3 3v1l-1.6 1.6l-0.3-1.6l-1.1-1.3l-2-0.8l-2-0.1l-3 0.8l-2.7 2.4l-1.2 3v3l1 3l2.8 4.1l-1.9 1.9v1l-3 3v1l-2 2v1l-3 3v1l-2 2v1l-3 3v1l-2 2v1l-3 3v1l-2 2v1l-3 3.1v1l-2 2v1l-3 3v1l-2 2v1l-3 3v1l-3 3v1l-2 2v1l-3 3v1l-1 1z"/><path fill="#0093ff" d="M73.3 249.8v-218.4h259.9l-1 1v1l-3 3v1l-2 2v1l-3 3v1l-2 2v1l-3 3v1l-3 3v1l-2 2v1l-3 3.1v1l-2 2v1l-3 3v1l-2 2v1l-3 3v1l-2 2v1l-3 3v1l-2 2v1l-3 3v1l-2 2v1l-3 3v1l-2 2v1l-3 3v1l-0.6 0.6h-0.4l-1-1.6l-1-0.1l-1.5 1.1l-0.2 1l0.3 1l1.6 1.8l-2.2 2.2v1l-2 2.1v1l-3 3v1l-2 2v1l-3 3v1l-2 2v1l-3 3v1l-2 2v1l-3 3v1l-2 2v1l-3 3v1l-2 2v1l-3 3v1l-2 2v1l-3 3v1l-2 2v1l-3 3v1l-2 2.1v1l-3 3v1l-1.4 1.4l-0.2-1.4l-1.4-1.7l-2-0.8l-2-0.1l-2 0.3l-2 0.9l-2.4 2.4l-1.2 3v3l1.5 4l2.5 3.7l-1.4 1.3v1l-3 3v1l-2 2v1l-3 3v1l-2 2v1l-3 3v1l-2 2v1l-3 3v1l-2 2v1l-3 3.1v1l-2 2v1l-3 3v1l-2 2v1l-3 3v1l-3 3v1l-2 2v1l-3 3v1l-1 1z"/><path fill="#009bff" d="M73.3 249.8v-218.4h259.9l-1 1v1l-3 3v1l-2 2v1l-3 3v1l-2 2v1l-3 3v1l-3 3v1l-2 2v1l-3 3.1v1l-2 2v1l-3 3v1l-2 2v1l-3 3v1l-2 2v1l-3 3v1l-2 2v1l-3 3v1l-2 2v1l-3 3v1l-2 2v1l-3 3v1l-0.6 0.6l-0.4-0.1l-1-1.5l-1-0.2l-1.7 1.2l-0.1 2l0.8 1.3l1 0.8l-2 1.9v1l-2 2.1v1l-3 3v1l-2 2v1l-3 3v1l-2 2v1l-3 3v1l-2 2v1l-3 3v1l-2 2v1l-3 3v1l-2 2v1l-3 3v1l-2 2v1l-3 3v1l-2 2v1l-3 3v1l-2 2.1v1l-3 3v1l-1.1 1.1l-0.1-1.1l-0.6-1l-1.2-1.1l-2-0.8l-2-0.2l-2 0.3l-2 0.8l-1.4 1l-1.6 1.7l-1.3 3.3v3l1.4 4l2.7 4.2l-0.8 0.8v1l-3 3v1l-2 2v1l-3 3v1l-2 2v1l-3 3v1l-2 2v1l-3 3v1l-2 2v1l-3 3.1v1l-2 2v1l-3 3v1l-2 2v1l-3 3v1l-3 3v1l-2 2v1l-3 3v1l-1 1z"/><path fill="#00a3ff" d="M73.3 249.8v-218.4h259.9l-1 1v1l-3 3v1l-2 2v1l-3 3v1l-2 2v1l-3 3v1l-3 3v1l-2 2v1l-3 3.1v1l-2 2v1l-3 3v1l-2 2v1l-3 3v1l-2 2v1l-3 3v1l-2 2v1l-3 3v1l-2 2v1l-3 3v1l-2 2v1l-3 3v1l-0.6 0.6l-0.4-0.1l-1-1.6l-1-0.2l-0.8 0.3l-1.1 1l-0.2 2l0.5 1l1.2 1.4l-1.6 1.6v1l-2 2.1v1l-3 3v1l-2 2v1l-3 3v1l-2 2v1l-3 3v1l-2 2v1l-3 3v1l-2 2v1l-3 3v1l-2 2v1l-3 3v1l-2 2v1l-3 3v1l-2 2v1l-3 3v1l-2 2.1v1l-3 3v1l-0.8 0.8l-0.6-1.8l-1.6-1.6l-2-0.8l-2-0.2l-2 0.2l-2 0.7l-2 1.3l-1.3 1.4l-1.5 3l-0.3 2l0.1 2l1.2 4l3.1 4.7l-0.3 1.3l-3 3v1l-2 2v1l-3 3v1l-2 2v1l-3 3v1l-2 2v1l-3 3v1l-2 2v1l-3 3.1v1l-2 2v1l-3 3v1l-2 2v1l-3 3v1l-3 3v1l-2 2v1l-3 3v1l-1 1z"/><path fill="#00abff" d="M73.3 249.8v-218.4h259.9l-1 1v1l-3 3v1l-2 2v1l-3 3v1l-2 2v1l-3 3v1l-3 3v1l-2 2v1l-3 3.1v1l-2 2v1l-3 3v1l-2 2v1l-3 3v1l-2 2v1l-3 3v1l-2 2v1l-3 3v1l-2 2v1l-3 3v1l-2 2v1l-3 3v1l-0.5 0.6l-0.5-0.1l-1-1.7l-1-0.2l-1.1 0.4l-1 1l-0.4 2l0.5 1.2l1.3 1.5l-1.3 1.3v1l-2 2.1v1l-3 3v1l-2 2v1l-3 3v1l-2 2v1l-3 3v1l-2 2v1l-3 3v1l-2 2v1l-3 3v1l-2 2v1l-3 3v1l-2 2v1l-3 3v1l-2 2v1l-3 3v1l-2 2.1v1l-3 3v1l-0.5 0.5l-0.5-1.7l-2-1.9l-2-0.8l-2-0.2l-2 0.2l-2.6 0.9l-1.6 1l-2 2l-1.1 2l-0.5 2l0.2 4l1.5 4l3.1 5l-3 3v1l-2 2v1l-3 3v1l-2 2v1l-3 3v1l-2 2v1l-3 3v1l-2 2v1l-3 3.1v1l-2 2v1l-3 3v1l-2 2v1l-3 3v1l-3 3v1l-2 2v1l-3 3v1l-1 1z"/><path fill="#00b3ff" d="M73.3 249.8v-218.4h259.9l-1 1v1l-3 3v1l-2 2v1l-3 3v1l-2 2v1l-3 3v1l-3 3v1l-2 2v1l-3 3.1v1l-2 2v1l-3 3v1l-2 2v1l-3 3v1l-2 2v1l-3 3v1l-2 2v1l-3 3v1l-2 2v1l-3 3v1l-2 2v1l-3 3v1l-0.5 0.5l-0.5-0.1l-1-1.7l-1-0.2l-1.4 0.5l-1 1l-0.4 1l0.2 2l1.6 2l-1 1v1l-2 2.1v1l-3 3v1l-2 2v1l-3 3v1l-2 2v1l-3 3v1l-2 2v1l-3 3v1l-2 2v1l-3 3v1l-2 2v1l-3 3v1l-2 2v1l-3 3v1l-2 2v1l-3 3v1l-2 2.1v1l-3 3v1l-0.2 0.1l-0.8-2.1l-2-1.7l-2-0.8l-2-0.2l-3 0.3l-2 0.8l-2.4 1.6l-1.7 2l-1 2l-0.5 2l0.1 4l1.5 4l3.6 5.5l-2.6 2.5v1l-2 2v1l-3 3v1l-2 2v1l-3 3v1l-2 2v1l-3 3v1l-2 2v1l-3 3.1v1l-2 2v1l-3 3v1l-2 2v1l-3 3v1l-3 3v1l-2 2v1l-3 3v1l-1 1z"/><path fill="#00bbff" d="M73.3 249.8v-218.4h259.9l-1 1v1l-3 3v1l-2 2v1l-3 3v1l-2 2v1l-3 3v1l-3 3v1l-2 2v1l-3 3.1v1l-2 2v1l-3 3v1l-2 2v1l-3 3v1l-2 2v1l-3 3v1l-2 2v1l-3 3v1l-2 2v1l-3 3v1l-2 2v1l-3 3v1l-0.5 0.5l-0.5-0.1l-1-1.8l-1-0.2l-1.7 0.6l-1 1l-0.4 1l0.1 2l1.6 2.4l-0.6 0.6v1l-2 2.1v1l-3 3v1l-2 2v1l-3 3v1l-2 2v1l-3 3v1l-2 2v1l-3 3v1l-2 2v1l-3 3v1l-2 2v1l-3 3v1l-2 2v1l-3 3v1l-2 2v1l-3 3v1l-2 2.1v1l-3 3l-1-1.8l-2-1.5l-3-1h-3l-4 1.4l-2 1.3l-1.4 1.6l-1.2 2l-0.7 2l-0.3 2l0.3 3l1.9 5l3.4 5l-2 2v1l-2 2v1l-3 3v1l-2 2v1l-3 3v1l-2 2v1l-3 3v1l-2 2v1l-3 3.1v1l-2 2v1l-3 3v1l-2 2v1l-3 3v1l-3 3v1l-2 2v1l-3 3v1l-1 1z"/><path fill="#00c3ff" d="M73.3 249.8v-218.4h259.9l-1 1v1l-3 3v1l-2 2v1l-3 3v1l-2 2v1l-3 3v1l-3 3v1l-2 2v1l-3 3.1v1l-2 2v1l-3 3v1l-2 2v1l-3 3v1l-2 2v1l-3 3v1l-2 2v1l-3 3v1l-2 2v1l-3 3v1l-2 2v1l-3 3v1l-0.5 0.5l-0.5-0.1l-1-1.9l-1-0.2l-2 0.7l-1 1l-0.5 1v2l0.5 1.3l1.2 1.6l-0.2 1.1l-2 2.1v1l-3 3v1l-2 2v1l-3 3v1l-2 2v1l-3 3v1l-2 2v1l-3 3v1l-2 2v1l-3 3v1l-2 2v1l-3 3v1l-2 2v1l-3 3v1l-2 2v1l-3 3v1l-2 2.1v1l-2.6 2.5l-1.4-2.1l-2-1.4l-3-1h-3l-3 0.7l-2 1l-2 1.5l-1.5 1.8l-1.1 2l-0.6 2l-0.3 2l0.3 3l1.9 5l3.7 5.6l-1.4 1.4v1l-2 2v1l-3 3v1l-2 2v1l-3 3v1l-2 2v1l-3 3v1l-2 2v1l-3 3.1v1l-2 2v1l-3 3v1l-2 2v1l-3 3v1l-3 3v1l-2 2v1l-3 3v1l-1 1z"/><path fill="#00cbff" d="M73.3 249.8v-218.4h259.9l-1 1v1l-3 3v1l-2 2v1l-3 3v1l-2 2v1l-3 3v1l-3 3v1l-2 2v1l-3 3.1v1l-2 2v1l-3 3v1l-2 2v1l-3 3v1l-2 2v1l-3 3v1l-2 2v1l-3 3v1l-2 2v1l-3 3v1l-2 2v1l-3 3v1l-0.4 0.5l-0.6-0.2l-0.4-1.3l-0.6-0.6l-1-0.2l-2 0.6l-1.4 1.2l-0.5 1l-0.1 2l0.7 2l1.3 1.6v0.4l-2 2.1v1l-3 3v1l-2 2v1l-3 3v1l-2 2v1l-3 3v1l-2 2v1l-3 3v1l-2 2v1l-3 3v1l-2 2v1l-3 3v1l-2 2v1l-3 3v1l-2 2v1l-3 3v1l-2 2.1v1l-2.1 2.1l-1.4-2.1l-2.5-1.8l-3-0.9l-3-0.1l-3 0.6l-2 0.9l-2 1.3l-2 2l-1.2 2l-0.8 2l-0.4 2l0.1 3l0.7 3l1.3 3l4.1 6.2l-0.8 0.8v1l-2 2v1l-3 3v1l-2 2v1l-3 3v1l-2 2v1l-3 3v1l-2 2v1l-3 3.1v1l-2 2v1l-3 3v1l-2 2v1l-3 3v1l-3 3v1l-2 2v1l-3 3v1l-1 1z"/><path fill="#00d3ff" d="M73.3 249.8v-218.4h259.9l-1 1v1l-3 3v1l-2 2v1l-3 3v1l-2 2v1l-3 3v1l-3 3v1l-2 2v1l-3 3.1v1l-2 2v1l-3 3v1l-2 2v1l-3 3v1l-2 2v1l-3 3v1l-2 2v1l-3 3v1l-2 2v1l-3 3v1l-2 2v1l-3 3v1l-0.4 0.4l-0.6-0.1l-0.3-1.3l-0.7-0.7l-1-0.2l-2 0.5l-1.8 1.4l-0.8 2l0.2 2l0.9 2l1.2 1.3l-1.7 1.8v1l-3 3v1l-2 2v1l-3 3v1l-2 2v1l-3 3v1l-2 2v1l-3 3v1l-2 2v1l-3 3v1l-2 2v1l-3 3v1l-2 2v1l-3 3v1l-2 2v1l-3 3v1l-2 2.1v1l-1.6 1.6l-1.4-2.2l-3-2.1l-3-0.9l-3-0.1l-3 0.5l-3 1.3l-2.5 1.9l-1.7 2l-1.2 2l-0.8 3l-0.2 2l0.3 3l1.8 5l4.5 6.9l-0.2 1.1l-2 2v1l-3 3v1l-2 2v1l-3 3v1l-2 2v1l-3 3v1l-2 2v1l-3 3.1v1l-2 2v1l-3 3v1l-2 2v1l-3 3v1l-3 3v1l-2 2v1l-3 3v1l-1 1z"/><path fill="#00dbff" d="M73.3 249.8v-218.4h259.9l-1 1v1l-3 3v1l-2 2v1l-3 3v1l-2 2v1l-3 3v1l-3 3v1l-2 2v1l-3 3.1v1l-2 2v1l-3 3v1l-2 2v1l-3 3v1l-2 2v1l-3 3v1l-2 2v1l-3 3v1l-2 2v1l-3 3v1l-2 2v1l-3 3v1l-0.4 0.4l-0.6-0.1l-0.3-1.3l-0.7-0.8l-1-0.2l-2 0.3l-1.3 0.7l-0.9 1l-0.9 2v2l0.7 2l1.5 1.9l-1.1 1.2v1l-3 3v1l-2 2v1l-3 3v1l-2 2v1l-3 3v1l-2 2v1l-3 3v1l-2 2v1l-3 3v1l-2 2v1l-3 3v1l-2 2v1l-3 3v1l-2 2v1l-3 3v1l-2 2.1v1l-1.1 1.1l-1.2-2.1l-2.7-2.2l-3-1.2l-4-0.3l-3 0.5l-3 1.1l-3 2.1l-2 2.1l-1.5 2.9l-0.6 2l-0.3 3l0.3 3l0.9 3l1.5 3l4.7 7.1l-2 1.9v1l-3 3v1l-2 2v1l-3 3v1l-2 2v1l-3 3v1l-2 2v1l-3 3.1v1l-2 2v1l-3 3v1l-2 2v1l-3 3v1l-3 3v1l-2 2v1l-3 3v1l-1 1z"/><path fill="#00e3f9" d="M73.3 249.8v-218.4h259.9l-1 1v1l-3 3v1l-2 2v1l-3 3v1l-2 2v1l-3 3v1l-3 3v1l-2 2v1l-3 3.1v1l-2 2v1l-3 3v1l-2 2v1l-3 3v1l-2 2v1l-3 3v1l-2 2v1l-3 3v1l-2 2v1l-3 3v1l-2 2v1l-3 3v1l-0.4 0.4l-0.6-0.2l-0.2-1.2l-0.8-0.9l-1-0.2l-1.7 0.1l-1.3 0.6l-1.7 1.4l-1 2l-0.2 2l0.6 2l1.7 2.6l-0.4 0.5v1l-3 3v1l-2 2v1l-3 3v1l-2 2v1l-3 3v1l-2 2v1l-3 3v1l-2 2v1l-3 3v1l-2 2v1l-3 3v1l-2 2v1l-3 3v1l-2 2v1l-3 3v1l-2 2.1v1l-0.4 0.4l-1.6-2.5l-3-2.3l-3-1.1l-4-0.3l-4 0.7l-3 1.2l-2.6 1.9l-2.4 2.5l-1.4 2.5l-0.9 3l-0.2 3l0.3 3l1 3l1.4 3l5.1 7.7l-1.3 1.3v1l-3 3v1l-2 2v1l-3 3v1l-2 2v1l-3 3v1l-2 2v1l-3 3.1v1l-2 2v1l-3 3v1l-2 2v1l-3 3v1l-3 3v1l-2 2v1l-3 3v1l-1 1z"/><path fill="#04ebf2" d="M73.3 249.8v-218.4h259.9l-1 1v1l-3 3v1l-2 2v1l-3 3v1l-2 2v1l-3 3v1l-3 3v1l-2 2v1l-3 3.1v1l-2 2v1l-3 3v1l-2 2v1l-3 3v1l-2 2v1l-3 3v1l-2 2v1l-3 3v1l-2 2v1l-3 3v1l-2 2v1l-3 3v1l-0.3 0.4l-0.7-0.2l-0.1-1.2l-0.9-1l-2-0.3l-2 0.6l-2.3 1.7l-1 2l-0.3 3l0.7 2l1.9 2.7v0.4l-3 3v1l-2 2v1l-3 3v1l-2 2v1l-3 3v1l-2 2v1l-3 3v1l-2 2v1l-3 3v1l-2 2v1l-3 3v1l-2 2v1l-3 3v1l-2 2v1l-3 3v1l-2 2.2l-2-2.8l-3-2l-4-1.2l-4-0.1l-4 0.9l-3 1.4l-3 2.1l-2.2 2.6l-1.6 3l-0.8 3l-0.1 3l0.4 3l1 3l1.5 3l5.5 8.3l-0.7 0.7v1l-3 3v1l-2 2v1l-3 3v1l-2 2v1l-3 3v1l-2 2v1l-3 3.1v1l-2 2v1l-3 3v1l-2 2v1l-3 3v1l-3 3v1l-2 2v1l-3 3v1l-1 1z"/><path fill="#0bf3ec" d="M73.3 249.8v-218.4h259.9l-1 1v1l-3 3v1l-2 2v1l-3 3v1l-2 2v1l-3 3v1l-3 3v1l-2 2v1l-3 3.1v1l-2 2v1l-3 3v1l-2 2v1l-3 3v1l-2 2v1l-3 3v1l-2 2v1l-3 3v1l-2 2v1l-3 3v1l-2 2v1l-3 3v1l-0.3 0.3l-0.7-0.1v-1.2l-1-1.1l-2-0.4l-2.2 0.5l-2.7 2l-1.1 2l-0.5 3l0.8 3l2 2.8l-2.3 2.3v1l-2 2v1l-3 3v1l-2 2v1l-3 3v1l-2 2v1l-3 3v1l-2 2v1l-3 3v1l-2 2v1l-3 3v1l-2 2v1l-3 3v1l-2 2v1l-3 3v1l-1.2 1.3l-1.4-2.3l-1.4-1.3l-2-1.3l-2-0.9l-3-0.7h-4l-4 0.7l-3.5 1.5l-2.9 2l-2.8 3.1l-1.6 3l-0.9 3l-0.3 3l0.4 3l0.8 3l1.3 3l2.4 4l4.2 5.9l-0.1 1.1l-3 3v1l-2 2v1l-3 3v1l-2 2v1l-3 3v1l-2 2v1l-3 3.1v1l-2 2v1l-3 3v1l-2 2v1l-3 3v1l-3 3v1l-2 2v1l-3 3v1l-1 1z"/><path fill="#11fbe5" d="M73.3 249.8v-218.4h259.9l-1 1v1l-3 3v1l-2 2v1l-3 3v1l-2 2v1l-3 3v1l-3 3v1l-2 2v1l-3 3.1v1l-2 2v1l-3 3v1l-2 2v1l-3 3v1l-2 2v1l-3 3v1l-2 2v1l-3 3v1l-2 2v1l-3 3v1l-2 2v1l-3 3v1l-0.3 0.3l-0.7-0.1l0.1-1.2l-1.1-1.3l-1-0.3h-2l-3 1.3l-2.3 2.3l-0.9 2l-0.3 3l0.9 3.1l1.9 2.7l-1.3 1.3v1l-2 2v1l-3 3v1l-2 2v1l-3 3v1l-2 2v1l-3 3v1l-2 2v1l-3 3v1l-2 2v1l-3 3v1l-2 2v1l-3 3v1l-2 2v1l-3 3v1l-0.2 0.3l-1.4-2.3l-1.4-1.4l-3-1.9l-4-1.3l-4-0.3l-5 0.8l-4 1.7l-3.6 2.4l-2.7 3.1l-1.7 3l-0.9 3l-0.4 3l0.4 4l1.3 4l1.5 3l7 10.1l-2.9 2.9v1l-2 2v1l-3 3v1l-2 2v1l-3 3v1l-2 2v1l-3 3.1v1l-2 2v1l-3 3v1l-2 2v1l-3 3v1l-3 3v1l-2 2v1l-3 3v1l-1 1z"/><path fill="#18ffdf" d="M73.3 249.8v-218.4h259.9l-1 1v1l-3 3v1l-2 2v1l-3 3v1l-2 2v1l-3 3v1l-3 3v1l-2 2v1l-3 3.1v1l-2 2v1l-3 3v1l-2 2v1l-3 3v1l-2 2v1l-3 3v1l-2 2v1l-3 3v1l-2 2v1l-3 3v1l-2 2v1l-3 3v1l-0.3 0.3l-0.7-0.2l0.2-1.1l-1.2-1.5l-3-0.3l-3 1l-1.3 0.8l-1.8 2l-1.3 3l-0.2 3l0.8 3.1l1.9 2.9l-0.1 1.1l-2 2v1l-3 3v1l-2 2v1l-3 3v1l-2 2v1l-3 3v1l-2 2v1l-3 3v1l-2 2v1l-3 3v1l-2 2v1l-3 3v1l-2 2v1l-2.4 2.5l-2.6-3.3l-4-2.5l-5-1.2h-5l-4 0.9l-4 1.8l-4 2.8l-2.6 3l-1.7 3.1l-1.2 4l-0.2 3l0.5 4l1 3l2 4l7.5 10.7l-2.3 2.3v1l-2 2v1l-3 3v1l-2 2v1l-3 3v1l-2 2v1l-3 3.1v1l-2 2v1l-3 3v1l-2 2v1l-3 3v1l-3 3v1l-2 2v1l-3 3v1l-1 1z"/><path fill="#1effd9" d="M73.3 249.8v-218.4h259.9l-1 1v1l-3 3v1l-2 2v1l-3 3v1l-2 2v1l-3 3v1l-3 3v1l-2 2v1l-3 3.1v1l-2 2v1l-3 3v1l-2 2v1l-3 3v1l-2 2v1l-3 3v1l-2 2v1l-3 3v1l-2 2v1l-3 3v1l-2 2v1l-3 3v1l-0.2 0.3l-0.8-0.2l0.4-1.1l-0.4-0.8l-1-0.8l-3-0.5l-3.7 1.1l-1.5 1l-1.9 2l-1.5 3l-0.4 4l1 3.8l2.1 3.1l-1.1 1.2v1l-3 3v1l-2 2v1l-3 3v1l-2 2v1l-3 3v1l-2 2v1l-3 3v1l-2 2v1l-3 3v1l-2 2v1l-3 3v1l-2 2v1l-1.1 1.1l-1.3-2.1l-1.6-1.7l-2-1.4l-3-1.4l-4-1l-5-0.1l-5 1l-5 2.2l-4 2.8l-3 3.4l-1.8 3.3l-1.2 4l-0.2 4l0.7 4l1 3l2.1 4l8.1 11.3l-1.7 1.7v1l-2 2v1l-3 3v1l-2 2v1l-3 3v1l-2 2v1l-3 3.1v1l-2 2v1l-3 3v1l-2 2v1l-3 3v1l-3 3v1l-2 2v1l-3 3v1l-1 1z"/><path fill="#25ffd2" d="M73.3 249.8v-218.4h259.9l-1 1v1l-3 3v1l-2 2v1l-3 3v1l-2 2v1l-3 3v1l-3 3v1l-2 2v1l-3 3.1v1l-2 2v1l-3 3v1l-2 2v1l-3 3v1l-2 2v1l-3 3v1l-2 2v1l-3 3v1l-2 2v1l-3 3v1l-2 2v1l-3 3v1l-1 0.1l0.5-1.1l-0.5-1l-1-0.8l-2-0.6l-2 0.1l-2 0.6l-2 1l-2.2 1.7l-1.6 2l-1.7 4l-0.1 4.1l1.2 4l2.2 3.1l-2.8 2.9v1l-2 2v1l-3 3v1l-2 2v1l-3 3v1l-2 2v1l-3 3v1l-2 2v1l-3 3v1l-2 2v1l-3 3v1l-1.7 1.8l-1.3-1.9l-1.8-1.9l-4.2-2.5l-5-1.3l-6-0.1l-5 1l-5 2.1l-4.3 2.8l-3.8 4l-2.3 4.1l-1.2 4l-0.2 4l0.6 4l1.3 4l2.2 4l8.8 11.9l-1.1 1.1v1l-2 2v1l-3 3v1l-2 2v1l-3 3v1l-2 2v1l-3 3.1v1l-2 2v1l-3 3v1l-2 2v1l-3 3v1l-3 3v1l-2 2v1l-3 3v1l-1 1z"/><path fill="#2bffcc" d="M73.3 249.8v-218.4h259.9l-1 1v1l-3 3v1l-2 2v1l-3 3v1l-2 2v1l-3 3v1l-3 3v1l-2 2v1l-3 3.1v1l-2 2v1l-3 3v1l-2 2v1l-3 3v1l-2 2v1l-3 3v1l-2 2v1l-3 3v1l-2 2v1l-3 3v1l-2 2v1l-3 3v1h-1l0.6-1l-0.6-1.3l-1-0.7l-2-0.6h-2l-2.6 0.6l-2.1 1l-2.7 2l-1.7 2l-2 4l-0.7 4.1l0.3 3l0.5 2l1 2l1.6 2.3l-0.6 0.7v1l-2 2v1l-3 3v1l-2 2v1l-3 3v1l-2 2v1l-3 3v1l-2 2v1l-3 3v1l-2 2v1l-3 3l-1.3-2l-1.7-1.6l-4-2.5l-3-1l-3-0.5h-6l-6 1.1l-6 2.5l-5 3.4l-4 4.5l-2.2 4.1l-1.2 4.1l-0.2 4l0.8 5l1.5 4l2.3 4l9.5 12.5l-0.5 0.5v1l-2 2v1l-3 3v1l-2 2v1l-3 3v1l-2 2v1l-3 3.1v1l-2 2v1l-3 3v1l-2 2v1l-3 3v1l-3 3v1l-2 2v1l-3 3v1l-1 1z"/><path fill="#31ffc5" d="M73.3 249.8v-218.4h259.9l-1 1v1l-3 3v1l-2 2v1l-3 3v1l-2 2v1l-3 3v1l-3 3v1l-2 2v1l-3 3.1v1l-2 2v1l-3 3v1l-2 2v1l-3 3v1l-2 2v1l-3 3v1l-2 2v1l-3 3v1l-2 2v1l-3 3v1l-2 2v1l-3 3v1h-0.9l0.6-1l-0.3-1l-1.4-1.2l-2-0.6h-3l-3 0.8l-3 1.7l-2.7 2.3l-1.6 2l-1.2 2l-1.2 3l-0.7 5.1l0.8 5l1.3 3l1.4 1.8l-0.1 1.2l-3 3v1l-2 2v1l-3 3v1l-2 2v1l-3 3v1l-2 2v1l-3 3v1l-2 2l-0.1 1.1l-1.3-2.1l-1.9-2l-1.7-1.2l-3-1.5l-3-0.8l-3-0.5l-7 0.1l-7 1.5l-7 2.9l-5.1 3.5l-2.1 2l-2.4 3l-2.4 4.3l-1.3 4.8l-0.3 4l0.8 5l1.5 4l2.2 4l2.9 4l8.2 10.2v0.8l-2 2v1l-3 3v1l-2 2v1l-3 3v1l-2 2v1l-3 3.1v1l-2 2v1l-3 3v1l-2 2v1l-3 3v1l-3 3v1l-2 2v1l-3 3v1l-1 1z"/><path fill="#38ffbf" d="M73.3 249.8v-218.4h259.9l-1 1v1l-3 3v1l-2 2v1l-3 3v1l-2 2v1l-3 3v1l-3 3v1l-2 2v1l-3 3.1v1l-2 2v1l-3 3v1l-2 2v1l-3 3v1l-2 2v1l-3 3v1l-2 2v1l-3 3v1l-2 2v1l-3 3v1l-2 2v1l-3 3v1h-0.7l0.5-1l-0.2-1l-1.6-1.5l-3-0.7l-3 0.1l-3.5 1.1l-3.5 2l-2.3 2l-2.5 3l-1.8 3l-1.2 3.1l-0.9 3l-0.5 4l0.2 4l0.6 3l1.4 2.9l1.4 1.7l-1.4 1.4v1l-3 3v1l-2 2v1l-3 3v1l-2 2v1l-1.3 1.3l-1.5-2.3l-1.2-1.2l-2-1.2l-3-1.1l-4-0.7l-4-0.2l-9 0.8l-8 2.1l-7 3.1l-6 4.3l-2.1 2.1l-2.4 3l-2.7 5l-1.3 5.1l-0.1 5l1 5l1.7 4l2.3 4l3.1 4l6.5 7.5l2.8 3.8l-1.8 1.7v1l-3 3v1l-2 2v1l-3 3v1l-2 2v1l-3 3.1v1l-2 2v1l-3 3v1l-2 2v1l-3 3v1l-3 3v1l-2 2v1l-3 3v1l-1 1z"/><path fill="#3effb8" d="M73.3 249.8v-218.4h259.9l-1 1v1l-3 3v1l-2 2v1l-3 3v1l-2 2v1l-3 3v1l-3 3v1l-2 2v1l-3 3.1v1l-2 2v1l-3 3v1l-2 2v1l-3 3v1l-2 2v1l-3 3v1l-2 2v1l-3 3v1l-2 2v1l-3 3v1l-2 2v1l-3 3l-0.1 1.1l-0.4-0.1l0.5-1l-0.2-1l-0.8-1l-2-1.2l-2-0.4h-2l-3 0.5l-5.1 2.1l-2.9 2l-2.3 2l-4 5l-3.1 6.1l-4.8 12l-1.8 2.7l-2 2l-2.2 1.3l-2.8 1.1l-19 4.5l-5 1.6l-5 2.1l-5 2.7l-4 2.7l-3 2.7l-3.1 3.6l-2.9 5l-1.1 3l-0.7 3l-0.2 5.1l1.1 6l1.7 4l3.1 5l3.2 4l6.9 7.5l3.2 4.3l-1.2 1.2v1l-3 3v1l-2 2v1l-3 3v1l-2 2v1l-3 3.1v1l-2 2v1l-3 3v1l-2 2v1l-3 3v1l-3 3v1l-2 2v1l-3 3v1l-1 1z"/><path fill="#45ffb2" d="M73.3 249.8v-218.4h259.9l-1 1v1l-3 3v1l-2 2v1l-3 3v1l-2 2v1l-3 3v1l-3 3v1l-2 2v1l-3 3.1v1l-2 2v1l-3 3v1l-2 2v1l-3 3v1l-2 2v1l-3 3v1l-2 2v1l-3 3v1l-2 2v1l-3 3v1l-2 2v1l-2.9 2.9l-0.1-0.9l-0.7-1l-1.3-1l-2-0.7l-2-0.3l-5 0.5l-3 1l-3.1 1.5l-4.4 3l-3.3 3l-3.5 4l-8.7 11.6l-4.9 4.5l-6.1 3.4l-18 6.7l-8 3.9l-4 2.5l-4 3.1l-3 2.9l-2.8 3.5l-2.8 5l-1.8 6l-0.2 6.1l1.2 6l2.2 5l3.3 5l3.5 4l7.4 7.6l3.7 4.7l-0.7 0.7v1l-3 3v1l-2 2v1l-3 3v1l-2 2v1l-3 3.1v1l-2 2v1l-3 3v1l-2 2v1l-3 3v1l-3 3v1l-2 2v1l-3 3v1l-1 1z"/><path fill="#4bffac" d="M73.3 249.8v-218.4h259.9l-1 1v1l-3 3v1l-2 2v1l-3 3v1l-2 2v1l-3 3v1l-3 3v1l-2 2v1l-3 3.1v1l-2 2v1l-3 3v1l-2 2v1l-3 3v1l-2 2v1l-3 3v1l-2 2v1l-3 3v1l-2 2v1l-3 3v1l-2 2v1l-2.7 2.7l-0.7-1.7l-1.6-1.3l-2-0.8l-3-0.4l-3 0.2l-3 0.7l-6.6 2.6l-3.3 2l-4 3l-12.1 11.3l-6 4.7l-7 4.1l-17 7.6l-8 4.3l-4 2.7l-4 3.4l-2.9 3l-2.4 3l-3.3 6l-1.8 6l-0.3 3l0.2 4.1l1.3 6l2.3 5l3.4 5l4.5 5l9 8.7l3.2 4.1l-0.2 1.2l-3 3v1l-2 2v1l-3 3v1l-2 2v1l-3 3.1v1l-2 2v1l-3 3v1l-2 2v1l-3 3v1l-3 3v1l-2 2v1l-3 3v1l-1 1z"/><path fill="#52ffa5" d="M73.3 249.8v-218.4h259.9l-1 1v1l-3 3v1l-2 2v1l-3 3v1l-2 2v1l-3 3v1l-3 3v1l-2 2v1l-3 3.1v1l-2 2v1l-3 3v1l-2 2v1l-3 3v1l-2 2v1l-3 3v1l-2 2v1l-3 3v1l-2 2v1l-3 3v1l-2 2v1l-2.5 2.5l-0.6-1.5l-1.9-1.7l-3-1l-3-0.2l-3 0.1l-3.9 0.8l-3.1 1l-4.6 2l-6.7 4l-13.7 9.8l-6 3.7l-7 3.7l-15 7.1l-8 4.6l-4 2.7l-4 3.3l-3.2 3.2l-2.8 3.4l-2.3 3.6l-1.4 3l-1.3 3.5l-0.7 3.5l-0.4 4l0.2 3.1l0.5 3l1.1 4l3 6l3.7 5l4.9 5l9.7 8.8l2.8 3.2l1.2 2l-3 3v1l-2 2v1l-3 3v1l-2 2v1l-3 3.1v1l-2 2v1l-3 3v1l-2 2v1l-3 3v1l-3 3v1l-2 2v1l-3 3v1l-1 1z"/><path fill="#58ff9f" d="M73.3 249.8v-218.4h259.9l-1 1v1l-3 3v1l-2 2v1l-3 3v1l-2 2v1l-3 3v1l-3 3v1l-2 2v1l-3 3.1v1l-2 2v1l-3 3v1l-2 2v1l-3 3v1l-2 2v1l-3 3v1l-2 2v1l-3 3v1l-2 2v1l-3 3v1l-2 2v1l-2.3 2.3l-0.7-1.6l-2-1.7l-3-1.1l-3-0.4l-4 0.2l-4 0.7l-8.1 2.6l-8.3 4l-17.6 9.7l-21 10l-8 4.3l-5 3.2l-5 3.9l-4 3.8l-3.4 4.2l-2 3l-2 4l-1.4 4l-0.8 4l-0.3 4l0.3 4l0.8 4.1l1.1 3l3.1 6l3.8 5l5.1 5l11.7 9.8l3 3.2l1.6 2.4l-2.6 2.6v1l-2 2v1l-3 3v1l-2 2v1l-3 3.1v1l-2 2v1l-3 3v1l-2 2v1l-3 3v1l-3 3v1l-2 2v1l-3 3v1l-1 1z"/><path fill="#5eff98" d="M73.3 249.8v-218.4h259.9l-1 1v1l-3 3v1l-2 2v1l-3 3v1l-2 2v1l-3 3v1l-3 3v1l-2 2v1l-3 3.1v1l-2 2v1l-3 3v1l-2 2v1l-3 3v1l-2 2v1l-3 3v1l-2 2v1l-3 3v1l-2 2v1l-3 3v1l-2 2v1l-2.1 2.1l-0.9-1.9l-2-1.6l-3-1.1l-4-0.6l-4 0.1l-5 0.7l-5.1 1.3l-5.9 2l-39 16.6l-12 5.9l-6 3.6l-6 4.4l-4.8 4.6l-4.1 5l-2.4 4l-1.9 4l-1.2 4l-0.8 4l-0.1 4l0.3 4l0.9 4.1l1.4 4l3.4 6l4.9 6l5.5 5l12.9 9.9l3 3l2.1 3l-2.1 2.1v1l-2 2v1l-3 3v1l-2 2v1l-3 3.1v1l-2 2v1l-3 3v1l-2 2v1l-3 3v1l-3 3v1l-2 2v1l-3 3v1l-1 1z"/><path fill="#65ff92" d="M73.3 249.8v-218.4h259.9l-1 1v1l-3 3v1l-2 2v1l-3 3v1l-2 2v1l-3 3v1l-3 3v1l-2 2v1l-3 3.1v1l-2 2v1l-3 3v1l-2 2v1l-3 3v1l-2 2v1l-3 3v1l-2 2v1l-3 3v1l-2 2v1l-3 3v1l-2 2v1l-1.9 1.9l-1.1-2.1l-3-2.1l-4-1.1l-6-0.4l-6 0.6l-6.4 1.2l-16.9 5l-26.7 9.4l-8 3.4l-7 3.4l-6.5 3.9l-5.5 4l-5.4 5l-4.1 5l-2.5 4l-2 4l-1.3 4l-1 5l-0.2 5l0.5 4l1.2 5.1l1.6 4l1.6 3l2.7 4l5.5 6l6 5l15.4 10.9l3 2.9l1.7 2.5l-1.7 1.7v1l-2 2v1l-3 3v1l-2 2v1l-3 3.1v1l-2 2v1l-3 3v1l-2 2v1l-3 3v1l-3 3v1l-2 2v1l-3 3v1l-1 1z"/><path fill="#6bff8b" d="M73.3 249.8v-218.4h259.9l-1 1v1l-3 3v1l-2 2v1l-3 3v1l-2 2v1l-3 3v1l-3 3v1l-2 2v1l-3 3.1v1l-2 2v1l-3 3v1l-2 2v1l-3 3v1l-2 2v1l-3 3v1l-2 2v1l-3 3v1l-2 2v1l-3 3v1l-2 2v1l-1.6 1.7l-0.8-1.7l-1.6-1.6l-4-1.9l-5-0.9l-7-0.2l-8 0.9l-9.5 1.7l-26.5 6.6l-9 2.6l-8 2.8l-7.1 3.1l-6.9 3.5l-5.6 3.5l-5.2 4l-4.2 4l-4.2 5l-2.8 4.4l-2.1 4.6l-1.6 5l-0.7 5l-0.1 5l0.8 5l1.5 5l1.8 4.1l1.7 3l2.9 4l5.8 6l7.7 6l17.3 11l3 2.6l2.3 3.2l-1.3 1.2v1l-2 2v1l-3 3v1l-2 2v1l-3 3.1v1l-2 2v1l-3 3v1l-2 2v1l-3 3v1l-3 3v1l-2 2v1l-3 3v1l-1 1z"/><path fill="#72ff85" d="M73.3 249.8v-218.4h259.9l-1 1v1l-3 3v1l-2 2v1l-3 3v1l-2 2v1l-3 3v1l-3 3v1l-2 2v1l-3 3.1v1l-2 2v1l-3 3v1l-2 2v1l-3 3v1l-2 2v1l-3 3v1l-2 2v1l-3 3v1l-2 2v1l-3 3v1l-2 2v1l-1.4 1.4l-0.6-1.4l-1-1.2l-2-1.5l-2-1l-6-1.5l-8-0.4l-10 0.5l-12 1.4l-15 2.4l-13 2.6l-9 2.3l-7.5 2.4l-7.5 3l-6.1 3l-6.5 4.1l-5.2 4l-4.2 4l-4.1 5l-3.1 5l-2.3 5l-1.4 5l-0.7 5l0.1 6l0.8 5l1.7 5l2.4 5.1l5 7l3.9 4l3.4 3l8.7 6l18.6 10.4l4 3.1l2.9 3.7l-0.9 0.8v1l-2 2v1l-3 3v1l-2 2v1l-3 3.1v1l-2 2v1l-3 3v1l-2 2v1l-3 3v1l-3 3v1l-2 2v1l-3 3v1l-1 1z"/><path fill="#78ff7f" d="M73.3 249.8v-218.4h259.9l-1 1v1l-3 3v1l-2 2v1l-3 3v1l-2 2v1l-3 3v1l-3 3v1l-2 2v1l-3 3.1v1l-2 2v1l-3 3v1l-2 2v1l-3 3v1l-2 2v1l-3 3v1l-2 2v1l-3 3v1l-2 2v1l-3 3v1l-2 2v1l-1.1 1.2l-0.9-1.8l-1-1.1l-2-1.5l-2-1l-6-1.7l-8-0.9l-12-0.1l-17 0.9l-15 1.3l-13 1.9l-9 2l-8 2.3l-7 2.6l-7 3.3l-6 3.6l-6 4.5l-4.7 4.6l-4.1 5l-3 5l-2.6 6l-1.3 5l-0.7 6l0.4 6l1 5l2.3 6l2.7 5.1l2.9 4l3.5 4l4.3 4l3.8 3l9.7 6l17.8 8.5l5 2.8l4 3l2.5 3.2l-0.5 0.5v1l-2 2v1l-3 3v1l-2 2v1l-3 3.1v1l-2 2v1l-3 3v1l-2 2v1l-3 3v1l-3 3v1l-2 2v1l-3 3v1l-1 1z"/><path fill="#7fff78" d="M73.3 249.8v-218.4h259.9l-1 1v1l-3 3v1l-2 2v1l-3 3v1l-2 2v1l-3 3v1l-3 3v1l-2 2v1l-3 3.1v1l-2 2v1l-3 3v1l-2 2v1l-3 3v1l-2 2v1l-3 3v1l-2 2v1l-3 3v1l-2 2v1l-3 3v1l-2 2v1l-0.9 0.9l-0.9-1.9l-1.2-1.3l-4-2.5l-6-1.9l-9-1.4l-16-1l-20-0.4l-14 0.4l-13 1.2l-9 1.6l-9 2.2l-8 2.8l-7 3.2l-6.9 4l-5.6 4.1l-5.4 5.1l-4.1 5l-3.7 6l-2.5 6l-1.4 6l-0.5 6l0.5 6l1.4 6l2.4 6l3.6 6.1l4 5l4 4l4.8 4l4.3 3l6.9 4l6.2 3l19 7.7l6 2.8l4 2.6l1.9 1.9l1.3 1.9l-0.2 1.1l-2 2v1l-3 3v1l-2 2v1l-3 3.1v1l-2 2v1l-3 3v1l-2 2v1l-3 3v1l-3 3v1l-2 2v1l-3 3v1l-1 1z"/><path fill="#85ff72" d="M73.3 249.8v-218.4h259.9l-1 1v1l-3 3v1l-2 2v1l-3 3v1l-2 2v1l-3 3v1l-3 3v1l-2 2v1l-3 3.1v1l-2 2v1l-3 3v1l-2 2v1l-3 3v1l-2 2v1l-3 3v1l-2 2v1l-3 3v1l-2 2v1l-3 3v1l-2 2v1l-0.6 0.6l-0.7-1.6l-1.7-1.9l-4-2.5l-6-2.1l-7-1.5l-15-2.2l-22-2.4l-14-0.9l-13-0.1l-9 0.4l-9 1.1l-8 1.6l-8 2.2l-6.9 2.5l-7 3.3l-6 3.6l-6 4.5l-6 5.9l-5 6.6l-3.7 7l-1.4 4l-1 4l-0.6 4l-0.1 4l0.2 4l0.6 4l1 4l1.5 4l3.6 7l4.4 6.1l4.8 5l6 5l6 4l7.3 4l9.2 4l8.4 3l16.7 5.3l6 2.4l3 1.7l2.2 1.6l1.9 2l0.9 2l-2 2v1l-3 3v1l-2 2v1l-3 3.1v1l-2 2v1l-3 3v1l-2 2v1l-3 3v1l-3 3v1l-2 2v1l-3 3v1l-1 1z"/><path fill="#8bff6b" d="M73.3 249.8v-218.4h259.9l-1 1v1l-3 3v1l-2 2v1l-3 3v1l-2 2v1l-3 3v1l-3 3v1l-2 2v1l-3 3.1v1l-2 2v1l-3 3v1l-2 2v1l-3 3v1l-2 2v1l-3 3v1l-2 2v1l-3 3v1l-2 2v1l-3 3v1l-2 2v1l-0.3 0.3l-1.7-2.8l-4-3l-6-2.6l-8-2.2l-26-5.4l-21-3.8l-15-2l-13-0.8l-10 0.1l-9 0.8l-8.9 1.4l-9 2.2l-8.2 2.8l-7.8 3.6l-7 4.1l-5.8 4.3l-3.4 3l-3.8 4l-3.1 4l-2.6 4l-2.1 4.1l-1.7 4l-1.2 4l-1 5l-0.3 5l0.1 4l1.3 8l1.2 4l2.2 5l2.2 4l2.7 4l5 6.1l6.6 6l7 5l8.9 5l9.2 4l8.7 3l11 3l18.8 4.5l7 2.2l4 1.8l3 2l1.5 1.5l1.3 2.2l-1.8 1.8v1l-3 3v1l-2 2v1l-3 3.1v1l-2 2v1l-3 3v1l-2 2v1l-3 3v1l-3 3v1l-2 2v1l-3 3v1l-1 1z"/><path fill="#92ff65" d="M73.3 249.8v-218.4h259.9l-1 1v1l-3 3v1l-2 2v1l-3 3v1l-2 2v1l-3 3v1l-3 3v1l-2 2v1l-3 3.1v1l-2 2v1l-3 3v1l-2 2v1l-3 3v1l-2 2v1l-3 3v1l-2 2v1l-3 3v1l-2 2v1l-3 3v1l-2 2v0.9l-2-3.1l-4-3l-5-2.4l-9-3l-42-12.2l-15-4l-17-3.5l-16-1.9l-11-0.3l-10.9 0.5l-10 1.3l-10 2.2l-9 2.9l-9 3.9l-8 4.5l-7 5.2l-4.5 4l-3.7 4l-3.1 4l-3.2 5l-2.5 5l-1.9 5.1l-1.3 5l-0.8 5l-0.2 5l0.4 6l1 5l1.4 5l2.1 5l2.7 5l3.3 5l3.3 4l7 7.1l7.9 6l9.1 5.4l10 4.6l11.5 4l11.7 3l11.8 2.2l23.9 3.6l9 2l5 1.8l3 1.7l2 1.8l1.5 2.4l-1.5 1.5v1l-3 3v1l-2 2v1l-3 3.1v1l-2 2v1l-3 3v1l-2 2v1l-3 3v1l-3 3v1l-2 2v1l-3 3v1l-1 1z"/><path fill="#98ff5e" d="M73.3 62.8v-31.4h259.9l-1 1v1l-3 3v1l-2 2v1l-3 3v1l-2 2v1l-3 3v1l-3 3v1l-2 2v1l-3 3.1v1l-2 2v1l-3 3v1l-2 2v1l-3 3v1l-2 2v1l-3 3v1l-2 2v1l-3 3v1l-2 2v1l-3 3v1l-1.9 1.9l-1.3-1.9l-2.8-2.6l-3-1.9l-4-2l-30.6-11.5l-35.4-14.5l-13-4.9l-12-3.8l-11-2.9l-10.9-2.3l-12-1.7l-12-0.7l-12 0.1l-11 1.1l-11 2l-10 2.7l-10 3.8zM73.3 249.8v-70.4l9 4.9l9 4l9.6 3.4l11 3l12.4 2.5l14 1.8l14 1l26.9 1.3l11 1.2l6 1.3l4 1.6l3.4 2.3l0.9 1l0.9 1.9l-1.2 1.1v1l-3 3v1l-2 2v1l-3 3.1v1l-2 2v1l-3 3v1l-2 2v1l-3 3v1l-3 3v1l-2 2v1l-3 3v1l-1 1z"/><path fill="#9fff58" d="M163 31.4h170.2l-1 1v1l-3 3v1l-2 2v1l-3 3v1l-2 2v1l-3 3v1l-3 3v1l-2 2v1l-3 3.1v1l-2 2v1l-3 3v1l-2 2v1l-3 3v1l-2 2v1l-3 3v1l-2 2v1l-3 3v1l-2 2v1l-3 3v1l-1.6 1.6l-1.4-2.2l-2-2l-5-3.3l-24.5-11.1l-11.9-6l-14.2-8l-36.4-21.6l-13-7zM205.1 210.8l-0.9 0.9v1l-3 3v1l-2 2v1l-3 3.1v1l-2 2v1l-3 3v1l-2 2v1l-3 3v1l-3 3v1l-2 2v1l-3 3v1l-1 1h-103.9v-43l18 1l20-0.1l19-1l38.9-3.3l15-0.4l8 0.7l6 1.4l3 1.4l2 1.4l1 1.1z"/><path fill="#a5ff52" d="M196.4 31.4h136.8l-1 1v1l-3 3v1l-2 2v1l-3 3v1l-2 2v1l-3 3v1l-3 3v1l-2 2v1l-3 3.1v1l-2 2v1l-3 3v1l-2 2v1l-3 3v1l-2 2v1l-3 3v1l-2 2v1l-3 3v1l-2 2v1l-3 3v1l-1.2 1.2l-2.8-3.7l-4-3l-26.8-14.5l-9.4-6l-8.2-6l-8.7-7.1l-9.2-8zM204.9 211.1l-0.7 0.6v1l-3 3v1l-2 2v1l-3 3.1v1l-2 2v1l-3 3v1l-2 2v1l-3 3v1l-3 3v1l-2 2v1l-3 3v1l-1 1h-103.9v-14.4l36-12.6l28.2-9.1l14.5-4l12.2-2.8l11-1.8l9-0.8l8 0.2l6 1.2l4 1.9l2 2.1z"/><path fill="#acff4b" d="M215.2 31.4h118l-1 1v1l-3 3v1l-2 2v1l-3 3v1l-2 2v1l-3 3v1l-3 3v1l-2 2v1l-3 3.1v1l-2 2v1l-3 3v1l-2 2v1l-3 3v1l-2 2v1l-3 3v1l-2 2v1l-3 3v1l-2 2v1l-3 3v1l-0.8 0.8l-2.2-3.1l-4-3.4l-23.3-14.3l-8-6l-6.9-6l-7.7-8.1l-6.6-8l-6.2-9zM204.6 211.3l-0.4 0.4v1l-3 3v1l-2 2v1l-3 3.1v1l-2 2v1l-3 3v1l-2 2v1l-3 3v1l-3 3v1l-2 2v1l-3 3v1l-1 1h-73.9l6.1-6l6.8-6l6.4-5l7.1-5l7.9-5l7.2-4.1l8.3-4l7.2-3l8.8-3l7.1-1.8l7-1.3l6-0.4l5 0.2l5 1.2l3 1.5l1 0.9z"/><path fill="#b2ff45" d="M229.1 31.4h104.1l-1 1v1l-3 3v1l-2 2v1l-3 3v1l-2 2v1l-3 3v1l-3 3v1l-2 2v1l-3 3.1v1l-2 2v1l-3 3v1l-2 2v1l-3 3v1l-2 2v1l-3 3v1l-2 2v1l-3 3v1l-2 2v1l-3 3v1l-0.4 0.4l-2.4-3.4l-3.2-2.9l-16.5-11.1l-6.6-5l-5.6-5l-5.6-6l-5.9-8.1l-4.7-8l-3.5-8zM204.1 210.7l0.3 0.9l-0.2 1.1l-3 3v1l-2 2v1l-3 3.1v1l-2 2v1l-3 3v1l-2 2v1l-3 3v1l-3 3v1l-2 2v1l-3 3v1l-1 1h-47.9l2.6-5l3.2-5l3.7-5l4.5-5l5.3-5l5-4.1l5.9-4l5.3-3l6.4-3l6-2.2l6-1.6l6-0.8h5l5 0.9l3 1.5z"/><path fill="#b8ff3e" d="M240.4 33.4v-2h92.8l-1 1v1l-3 3v1l-2 2v1l-3 3v1l-2 2v1l-3 3v1l-3 3v1l-2 2v1l-3 3.1v1l-2 2v1l-3 3v1l-2 2v1l-3 3v1l-2 2v1l-3 3v1l-2 2v1l-3 3v1l-2 2v1l-3 3v0.9l-2-2.9l-3-3l-14.8-11l-5.9-5l-4.9-5l-4-5l-4.4-7.1l-3.6-8l-2.2-8zM203.8 210.7l0.4 1l-0.2 1.2l-2.8 2.8v1l-2 2v1l-3 3.1v1l-2 2v1l-3 3v1l-2 2v1l-3 3v1l-3 3v1l-2 2v1l-3 3v1l-1 1h-31.4l1-5l1.7-5l2.3-5l2.3-4l3-4l3.5-4l4.4-4.1l3.9-3l4.8-3l6.4-3l5.1-1.7l5-1l5-0.3l4 0.5l3 1.1l1.9 1.4z"/><path fill="#bfff38" d="M250.5 53.4l-1.1-5l-0.4-6l0.4-6l1-5h82.8l-1 1v1l-3 3v1l-2 2v1l-3 3v1l-2 2v1l-3 3v1l-3 3v1l-2 2v1l-3 3.1v1l-2 2v1l-3 3v1l-2 2v1l-3 3v1l-2 2v1l-3 3v1l-2 2v1l-3 3v1l-2 2v1l-2.9 2.9l-2.1-2.9l-2-2.1l-14.6-11.9l-6.9-7l-3-4l-3.2-5l-2.3-5.1zM203.2 210.3l0.7 1.4l0.1 1l-0.4 0.7l-2.4 2.3v1l-2 2v1l-3 3.1v1l-2 2v1l-3 3v1l-2 2v1l-3 3v1l-3 3v1l-2 2v1l-3 3v1l-1 1h-18.9l-0.4-4l0.3-5l0.7-4l1.7-5l1.9-4l2.6-4l3.3-4.1l3.2-3l4-3l5.2-3l4.4-1.8l4-1.1l4-0.5l4 0.2l3 0.7l2 1.1z"/><path fill="#c5ff31" d="M257.9 62.5l-1.4-4.1l-0.9-4l-0.4-4v-4l0.5-4l1-4l1.5-4l1.5-3h73.5l-1 1v1l-3 3v1l-2 2v1l-3 3v1l-2 2v1l-3 3v1l-3 3v1l-2 2v1l-3 3.1v1l-2 2v1l-3 3v1l-2 2v1l-3 3v1l-2 2v1l-3 3v1l-2 2v1l-3 3v1l-2 2v1l-2.4 2.4l-3.6-4.5l-12.3-10.9l-4.9-5l-4.5-6zM202.2 209.7l1.5 2l0.1 1l-0.6 1l-2 2v1l-2 2v1l-3 3.1v1l-2 2v1l-3 3v1l-2 2v1l-3 3v1l-3 3v1l-2 2v1l-3 3v1l-1 1h-8.4l-1.5-4l-0.9-4l-0.2-4l0.3-4l0.9-4l1.6-4l2.3-4.1l2.3-3l3-3l3.9-3l3.5-2l4.2-1.7l4-0.9l4-0.3l3 0.5z"/><path fill="#ccff2b" d="M327.9 31.4l2.7 3.6l-1.4 1.4v1l-2 2v1l-3 3v1l-2 2v1l-3 3v1l-3 3v1l-2 2v1l-3 3.1v1l-2 2v1l-3 3v1l-2 2v1l-3 3v1l-2 2v1l-3 3v1l-2 2v1l-3 3v1l-2 2v1l-1.9 1.9l-4.1-5.1l-9.4-8.8l-4.6-5l-4.3-6l-2.8-6l-1.8-7.1l-0.2-7l0.6-4l0.8-3l1.7-3.9l1.7-3.1l4-5zM201.2 209.4l1.7 1.3l0.6 1l0.1 1l-0.4 1.1l-2 1.9v1l-2 2v1l-3 3.1v1l-2 2v1l-3 3v1l-2 2v1l-3 3v1l-3 3v1l-2 2v1l-3 3v1l-0.3 0.3l-2.3-3.3l-1.9-4l-1-3l-0.6-4v-3l0.6-4l1.4-4l1.5-3.1l2.2-3l2.9-3l2.5-2l4-2.3l4-1.4l4-0.7l3 0.1z"/><path fill="#d2ff25" d="M317.5 31.4l2.9 2l2.8 2.5l3.7 4.8l-2.7 2.7v1l-2 2v1l-3 3v1l-3 3v1l-2 2v1l-3 3.1v1l-2 2v1l-3 3v1l-2 2v1l-3 3v1l-2 2v1l-3 3v1l-2 2v1l-3 3v1l-2 2v1l-1.4 1.4l-3.6-4.7l-8.7-8.7l-3.5-4l-3.5-5l-2-4l-2-6l-0.6-6.1l0.7-6l1.6-5l2.2-4l3.2-4l3.6-3.3l4-2.7zM201.2 209.7l1 0.6l1.1 1.4l0.1 1l-0.5 1l0.3 0.1l-2 1.9v1l-2 2v1l-3 3.1v1l-2 2v1l-3 3v1l-2 2v1l-3 3v1l-3 3v1l-1.6 1.7l-1.9-2.7l-1.5-3l-1-3l-0.6-3l-0.1-3l0.4-3l0.9-3l1.4-3.1l2-3l1.8-2l2.4-2l3.8-2.2l3-1.1l3-0.6h3z"/><path fill="#d9ff1e" d="M310.2 33.9l4 1.8l4 2.6l3 2.8l2.6 3.7l-1.6 1.6v1l-3 3v1l-3 3v1l-2 2v1l-3 3.1v1l-2 2v1l-3 3v1l-2 2v1l-3 3v1l-2 2v1l-3 3v1l-2 2v1l-3 3v1l-2 2v1l-0.9 0.9l-3.1-4.2l-10.6-11.7l-2.8-4l-2.1-4l-1.8-5l-0.7-5l0.2-5.1l1.3-5l2.6-5l3.9-4.6l5-3.9l5-2.5l6-1.8l7-0.7l6 0.4zM201.2 210l1 0.6l0.9 1.1l0.1 1l-0.5 1l0.4 0.1l-1.9 1.9v1l-2 2v1l-3 3.1v1l-2 2v1l-3 3v1l-2 2v1l-3 3v1l-1.6 1.6l-2.9-4.6l-1.1-3l-0.5-3l0.2-5l1.8-5.1l2.1-3l1.9-2l4.5-3l2.6-1l3-0.5l3 0.1z"/><path fill="#dfff18" d="M309.2 38.2l4 1.9l3 2l3 2.9l2.2 3.2l-2.2 2.2v1l-3 3v1l-2 2v1l-3 3.1v1l-2 2v1l-3 3v1l-2 2v1l-3 3v1l-2 2v1l-3 3v1l-2 2v1l-3 3v1l-2 2v1l-0.3 0.3l-2.7-3.7l-9.3-10.6l-2.7-4l-2.1-4l-1.3-4l-0.8-5l0.3-5.1l1.1-4l2.6-5l3.2-3.8l4-3.2l5-2.7l6-1.8l6-0.6l6 0.6zM201.2 210.2l1.7 1.5l0.2 1l-0.5 1l0.5 0.1l-1.9 1.9v1l-2 2v1l-3 3.1v1l-2 2v1l-3 3v1l-2 2v1l-2.2 2.2l-2.7-4.2l-0.8-2l-0.6-3l-0.1-3l0.4-2.1l1.4-4l3.1-4l2.6-2l1.9-1l2-0.7l3-0.5l2 0.1z"/><path fill="#e5ff11" d="M308.2 41.7l4 1.9l3 2.1l3.4 3.7l0.6 1v1l-3 3v1l-2 2v1l-3 3.1v1l-2 2v1l-3 3v1l-2 2v1l-3 3v1l-2 2v1l-3 3v1l-2 2v1l-3 3v1l-2 2v0.4l-10.8-13.4l-2.5-4l-1.5-3l-1.5-5l-0.5-4l0.3-4l1.1-4.1l2.4-4.4l3.1-3.6l3.9-3l5-2.5l5-1.4l5-0.5l5 0.4zM201.2 210.5l1.5 1.2l0.3 1l-0.6 1l0.7 0.2l-1.9 1.8v1l-2 2v1l-3 3.1v1l-2 2v1l-3 3v1l-2 2v0.8l-2.6-3.8l-1.3-4l-0.2-3l0.2-2.1l1.5-4l1.4-2l2.1-2l3.3-2l3.6-0.9l2 0.1z"/><path fill="#ecff0b" d="M308.2 44.9l3 1.5l2.8 2l2.2 2.2l1.5 2.3l-1.5 1.5v1l-2 2v1l-3 3.1v1l-2 2v1l-3 3v1l-2 2v1l-3 3v1l-2 2v1l-3 3v1l-2 2v1l-3 3v1l-1.6 1.6l-9.8-12.6l-2.4-4l-1.3-3l-1.1-4l-0.4-4l0.4-4l0.9-3.1l2.1-4l3.2-3.7l4-2.9l4-1.9l5-1.4l5-0.3l5 0.5zM201.2 210.7l1 0.7l0.7 1.3l-0.6 1l0.8 0.2l-1.9 1.8v1l-2 2v1l-3 3.1v1l-2 2v1l-3 3v1l-0.4 0.4l-2.4-3.4l-1.3-4l0.1-4.1l1-3l2.2-3l1.8-1.5l2-1.2l2-0.6l2-0.3z"/><path fill="#f2fb04" d="M307.2 47.3l3 1.4l3 2.2l2.3 2.5l0.7 1.1v0.9l-2 2v1l-3 3.1v1l-2 2v1l-3 3v1l-2 2v1l-3 3v1l-2 2v1l-3 3v1l-2 2v1l-3 3v1l-1 1l-8.3-11l-2.5-4l-1.3-3l-1.2-4l-0.4-3l0.3-4l0.8-3l2-4.1l2.5-3l3.1-2.5l4-2.2l4-1.3l5-0.6l5 0.4zM201.2 210.9l1 0.7l0.6 1.1l-0.6 1l0.8 0.2l-1.8 1.8v1l-2 2v1l-3 3.1v1l-2 2v1l-2.3 2.3l-2.1-3.3l-1-3v-4.1l1.2-3l2.5-3l2.7-1.6l3-0.7z"/><path fill="#f9f300" d="M307.2 49.6l3 1.6l2 1.5l1.7 1.7l1.3 2l-1 1v1l-3 3.1v1l-2 2v1l-3 3v1l-2 2v1l-3 3v1l-2 2v1l-3 3v1l-2 2v1l-3 3v1l-0.5 0.4l-8.2-11.4l-3-6l-1-4l-0.2-3l0.3-3l0.9-3l1.5-3.1l2.3-3l2.9-2.4l4-2.2l4-1.2l5-0.5l4 0.4zM201.2 211.1l1 0.8l0.4 0.8l-0.4 1l0.8 0.2l-1.8 1.8v1l-2 2v1l-3 3.1v1l-2 2v1l-0.9 0.9l-2.1-2.9l-1-3.1l-0.1-3l0.9-3l1.4-2l2.8-2.2l3-0.8z"/><path fill="#ffec00" d="M307.2 51.6l3 1.7l2 1.7l1.7 2.4l0.3 1l-3 3.1v1l-2 2v1l-3 3v1l-2 2v1l-3 3v1l-2 2v1l-3 3v1l-2 2v1l-3 3v0.6l-6.9-9.6l-3.1-6l-0.8-3l-0.5-4l0.3-3l0.9-3l1.6-3.1l2.5-3l3-2.2l4-1.9l4-1l4-0.2l4 0.5zM201.2 211.2l1.3 1.5l-0.3 1l0.8 0.3l-1.8 1.7v1l-2 2v1l-3 3.1v1l-2 2v0.4l-1.7-2.4l-1.1-3.1l-0.1-3l0.6-2l1.3-2l2.5-2l2.5-0.8z"/><path fill="#ffe500" d="M306.2 53l2 0.9l2.2 1.5l1.8 1.9l1.2 1.9l-2.2 2.3v1l-2 2v1l-3 3v1l-2 2v1l-3 3v1l-2 2v1l-3 3v1l-2 2v1l-2.6 2.6l-6.1-8.6l-3-6l-0.8-3l-0.3-3l0.3-3l0.8-3l1.6-3l2.1-2.5l3-2.3l3-1.5l3-0.9l4-0.5l4 0.3zM201.2 211.4l1.2 1.3l-0.3 1l0.9 0.3l-1.8 1.7v1l-2 2v1l-3 3.1v1l-1.1 1.1l-1.7-2.1l-0.8-2.1l-0.3-3l0.4-2l1.2-2l2.6-2l2.7-0.7z"/><path fill="#ffdd00" d="M306.2 54.5l2 1l2 1.5l2.3 3.1l-1.3 1.4v1l-2 2v1l-3 3v1l-2 2v1l-3 3v1l-2 2v1l-3 3v1l-2 2v1l-2 2l-5.6-8l-2.9-6l-0.7-3l-0.2-3l0.4-3l0.6-2l1.6-3l1.8-2.2l3-2.3l3-1.5l3-0.9l4-0.3l3 0.3zM201.2 211.6l1.1 1.1l-0.1 1.2l0.7 0.1l-1.7 1.7v1l-2 2v1l-3 3.1v1l-0.2 0.2l-1.8-2.2l-0.8-2.1l-0.2-2l0.3-2l1.1-2l1-1l1.6-1l2-0.5z"/><path fill="#ffd600" d="M306.2 55.8l3 1.8l1.7 1.9l0.9 1.3l-0.6 0.7v1l-2 2v1l-3 3v1l-2 2v1l-3 3v1l-2 2v1l-3 3v1l-2 2v1l-1.4 1.4l-5.1-7.4l-2.8-6l-0.8-5l0.3-3l0.8-2.6l1.3-2.4l2.7-3l2-1.4l3-1.4l3-0.8l3-0.3l3 0.3zM201.2 211.7l1 1v1.2l0.7 0.2l-1.7 1.6v1l-2 2v1l-2.9 3l-1.5-2l-0.7-2l-0.1-2l0.6-2l1.6-2l1-0.7l2-0.6z"/><path fill="#ffce00" d="M306.2 57l2 1.2l1.5 1.3l1.4 2l0.1 1l-2 2v1l-3 3v1l-2 2v1l-3 3v1l-2 2v1l-3 3v1l-2 2v1l-0.8 0.8l-4.6-6.8l-1.6-3l-1.2-3l-0.7-5l0.4-3l0.7-2l1.1-2l1.7-2.2l2.3-1.9l2.7-1.4l3-0.9l3-0.3l3 0.3zM201.2 211.8l0.9 0.9l0.1 1.2l0.7 0.2l-1.7 1.6v1l-2 2v1l-2.2 2.3l-1.1-1.3l-1-2l-0.2-2l0.4-2l1.6-2l1.5-0.8l2-0.3z"/><path fill="#ffc700" d="M305.2 57.7l3.1 1.8l1.9 2l0.6 1.3l-1.6 1.7v1l-3 3v1l-2 2v1l-3 3v1l-2 2v1l-3 3v1l-2 2l-0.2 1.2l-4.2-6.2l-2.4-5l-1-5l0.3-3l0.6-2l1-2l1.5-2l2.4-2l2-1.2l3-1l3-0.4l3 0.3zM201.2 211.9l0.8 0.8l0.2 1.3l0.7 0.1l-1.7 1.6v1l-2 2v1l-1.6 1.7l-1.4-1.7l-0.8-2l0.2-3l1.6-2l2-0.9z"/><path fill="#ffc000" d="M306.2 59.1l3 2.3l1.1 1.9l-1.1 1.2v1l-3 3v1l-2 2v1l-3 3v1l-2 2v1l-3 3v1l-2 2l-3.9-6l-2.2-5l-0.5-3l-0.1-2l1-4l1.2-2l1.7-2l1.8-1.4l3-1.5l2-0.5l3-0.2l3 0.4zM201.2 212l0.7 0.7l0.3 1.3l0.6 0.1l-1.6 1.6v1l-2 2v1l-1 1.1l-1-1.1l-1.1-2l-0.2-2l0.7-2l1.6-1.4l1-0.3z"/><path fill="#ffb800" d="M306.2 59.9l2 1.4l1.6 2.5l-0.6 0.7v1l-3 3v1l-2 2v1l-3 3v1l-2 2v1l-3 3v1l-1.4 1.3l-3.5-5.3l-2.2-5l-0.5-3v-2l1.1-4l1.3-2l2-2l2.2-1.4l2-0.8l2-0.4l3-0.1zM201.2 212.1l0.6 0.6l0.4 1.3l0.6 0.2l-1.6 1.5v1l-2 2v1l-0.5 0.6l-2-2.6l-0.3-1l0.1-2l0.5-1l1.2-1.1l2-0.7z"/><path fill="#ffb100" d="M305.2 60.2l2 1.1l1.2 1.2l1 1.7l-0.2 0.3v1l-3 3v1l-2 2v1l-3 3v1l-2 2v1l-3 3v1l-0.8 0.7l-3.7-5.7l-1.7-4l-0.5-4l0.8-4l1.9-3l2-1.8l2-1.1l2-0.7l3-0.4zM201.2 212.2l0.6 0.5l0.4 1.4l0.6 0.1l-1.6 1.5v1l-2 2l-0.1 1.1l-1.9-2.2l-0.4-1.9l0.1-1l0.5-1l0.9-1l1.9-0.7z"/><path fill="#ffaa00" d="M305.2 60.9l2 1.1l1 1l0.8 1.5l0.2 1l-3 3v1l-2 2v1l-3 3v1l-2 2v1l-3 3l-0.2 1.1l-3.4-5.1l-1.7-4l-0.5-4l0.3-2l0.7-2l2.1-3l1.7-1.4l2-1l4-0.9zM201.2 212.3l1 1.8l0.6 0.1l-1.6 1.5v1l-2 2v0.5l-1-1l-0.8-1.5l-0.1-2l0.4-1l0.9-1l1.6-0.6z"/><path fill="#ffa200" d="M305.2 61.5l1.6 1l1.1 1l1 2.3l-2.7 2.7v1l-2 2v1l-3 3v1l-2 2v1l-3 3l-2.7-4l-1.7-4l-0.5-4l0.6-3l1.8-3l1.5-1.4l2-1.2l4-1l2 0.1zM201.2 212.4l1 1.7l0.5 0.1l-1.5 1.5v1l-1.8 1.9l-1.5-1.9l-0.3-2l0.4-1l1-1l1.2-0.4z"/><path fill="#ff9b00" d="M305.2 62.1l2.1 1.4l0.8 1l0.4 1.6l-2.3 2.4v1l-2 2v1l-3 3v1l-2 2v1l-2.4 2.4l-2.6-3.9l-1.5-3.5l-0.6-4l0.7-3l1.9-3l1.5-1.3l2-1l2-0.6l2-0.1zM201.2 212.4l1 1.8l0.5 0.1l-1.5 1.4v1l-1.5 1.6l-1.4-1.6l-0.4-2l0.3-1l1.1-1l0.9-0.3z"/><path fill="#ff9300" d="M305.2 62.6l1 0.5l1.4 1.4l0.6 1.9l-2 2.1v1l-2 2v1l-3 3v1l-2 2v1l-1.8 1.8l-2.6-3.8l-1.3-3l-0.6-4l0.7-3l2.1-3l2.5-1.7l2-0.6l2-0.2zM201.2 212.5l1 1.7l0.5 0.1l-1.5 1.4v1l-1.2 1.3l-1.2-1.3l-0.6-2l0.3-1l1-1z"/><path fill="#ff8c00" d="M305.2 63l2 1.5l0.6 1l0.1 1.2l-1.7 1.8v1l-2 2v1l-3 3v1l-2 2v1l-1.3 1.3l-2.7-4.2l-1.2-3.1l-0.4-3l0.8-3l1.8-2.6l3-1.9l3-0.5zM201.2 212.6l1 1.6l0.5 0.1l-1.5 1.4v1l-0.9 1l-1.1-1l-0.8-2l0.3-1l1.1-1z"/><path fill="#ff8500" d="M305.2 63.4l2 1.6l0.5 1.5v0.5l-1.5 1.5v1l-2 2v1l-3 3v1l-2 2v1l-0.8 0.7l-2.5-3.7l-1.2-3l-0.3-3l0.7-3l1.4-2l2.7-1.9l3-0.7zM200.2 212.7h1l1 1.6h0.4l-1.4 1.4v1l-0.7 0.7l-1.3-1.2l-0.5-1.5l0.2-1z"/><path fill="#ff7d00" d="M305.2 63.8l2 1.7l0.3 1l-0.1 0.8l-1.2 1.2v1l-2 2v1l-3 3v1l-2 2l-0.2 1.2l-2.3-3.2l-1.3-3l-0.4-3l0.4-2l1.8-2.9l2-1.5l3-0.8zM200.2 212.8h1l1 1.5l0.4 0.1l-1.4 1.3v1l-0.4 0.5l-1.6-1.5l-0.3-1l0.2-1z"/><path fill="#ff7600" d="M305.2 64.1l1.7 1.4l0.4 1l-0.1 1l-1 1v1l-2 2v1l-3 3v1l-2 2v0.3l-2-2.9l-1.1-2.4l-0.4-3l0.3-2l1.2-2.1l2.4-1.9l2.6-0.8zM201.2 212.8l1 1.5l0.4 0.1l-1.4 1.3l-0.2 1.3l-1.5-1.3l-0.4-1l0.2-1l0.9-0.8z"/><path fill="#ff6f00" d="M305.2 64.5l1.3 1l0.6 1v1l-0.9 1v1l-2 2v1l-3 3v1l-1.7 1.6l-1.8-2.6l-0.9-2l-0.5-3l0.3-2l1.1-2l2.5-1.9l3-0.6zM201.2 212.8l1 1.6h0.3l-1.3 1.3v1l-1-0.6l-0.9-1.4l0.1-1l0.8-0.7z"/><path fill="#ff6700" d="M305.2 64.7l1 0.8l0.7 1l0.2 1l-0.9 1v1l-2 2v1l-3 3v1l-1.2 1.2l-1.8-2.6l-1.1-2.6l-0.3-2l0.4-2l1.2-2l1.8-1.4l3-0.8zM201.2 212.9l1.3 1.5l-1.3 1.3v0.8l-1-0.7l-0.7-1.1v-1l0.7-0.6z"/><path fill="#ff6000" d="M305.2 65l1 0.7l0.5 0.8l0.1 1l0.3 0.1l-0.9 0.9v1l-2 2v1l-3 3v1l-0.8 0.7l-1.9-2.7l-0.8-2l-0.3-2l0.3-2l1.3-2l2.2-1.5l2-0.4zM201.2 212.9l1.3 1.6l-1.3 1.2v0.5l-1.5-1.5l-0.1-1l0.6-0.5z"/><path fill="#ff5800" d="M305.2 65.2l1 0.7l0.5 1.6l0.3 0.1l-0.8 0.9v1l-2 2v1l-3 3v1l-0.3 0.3l-1.7-2.3l-1-2l-0.3-2l0.3-2l1.3-2l1.7-1.2l2-0.5zM199.7 213.7l1.5-0.8l1.3 1.6l-1.3 1.5l-1.3-1.3z"/><path fill="#ff5100" d="M304.2 65.1l2 1.1l0.3 1.3l0.5 0.1l-0.8 0.9v1l-2 2v1l-3 3v0.7l-1.4-1.7l-1-2l-0.4-2l0.3-2l1.3-2l1.2-0.8l2-0.6zM199.9 213.7l1.3-0.7l1.2 1.5l-1.2 1.2l-1-0.7z"/><path fill="#ff4a00" d="M305.2 65.6l1 0.9l0.2 1l0.6 0.1l-0.8 0.9v1l-2 2v1l-3 2.9l-1.4-1.9l-0.8-2l-0.1-2l0.7-2l1.6-1.5l2-0.7zM200 213.7l1.2-0.7l1.2 1.5l-1.2 1.1l-1-0.9z"/><path fill="#ff4200" d="M305.2 65.8l0.8 0.7l0.3 1l0.7 0.2l-0.8 0.8v1l-2 2v1l-2.6 2.6l-1.2-1.6l-0.9-2l-0.2-2l0.2-1l1.5-2l1.2-0.7l2-0.3zM200.1 213.7l1.1-0.7l1.2 1.6l-1.2 0.8l-0.8-0.7z"/><path fill="#ff3b00" d="M305.2 65.9l0.6 0.6l0.4 1l0.7 0.2l-0.7 0.8v1l-2 2v1l-2.3 2.2l-2-3.2l-0.2-2l0.7-2l1.8-1.4l2-0.4zM200.2 213.7l1-0.6l1.2 1.5l-0.8 0.8l-1-0.7z"/><path fill="#ff3400" d="M305.2 66.1l0.9 1.4l0.8 0.2l-0.7 0.8v1l-2 2v1l-1.9 1.9l-1.9-2.9l-0.3-2l0.2-1l0.5-1l1.4-1.2l2-0.5zM200.3 213.7l0.9-0.6l1.1 1.5l-0.6 0.7l-0.5-0.2z"/><path fill="#ff2c00" d="M305.2 66.2l0.9 1.3l0.8 0.3l-0.7 0.7v1l-2 2v1l-1.6 1.6l-1.8-2.6l-0.4-2l0.2-1l0.6-1l1.1-1l1.9-0.5zM200.3 213.7l0.9-0.6l1.1 1.6l-0.5 0.4l-0.6-0.1z"/><path fill="#ff2500" d="M304.2 66.1l1 0.3l0.8 1.1l0.8 0.3l-0.6 0.7v1l-2 2v1l-1.3 1.2l-1.7-2.2l-0.4-2l0.7-2l1.3-1zM200.4 213.7l0.8-0.5l1.1 1.5l-0.3 0.3l-0.8-0.2z"/><path fill="#ff1d00" d="M304.2 66.3l1 0.2l0.8 1l0.8 0.3l-0.6 0.7v1l-2 2v1l-1 0.9l-1.6-1.9l-0.5-2l0.6-2l1.5-1zM201.2 213.2l0.4 0.5l-0.4 1l-0.8-1z"/><path fill="#ff1600" d="M305.2 66.6l0.7 0.9l0.9 0.3l-0.6 0.7v1l-2 2v1l-0.7 0.7l-1.3-1.5l-0.7-1.2v-2l0.5-1l1.2-0.9zM201.2 213.2l0.3 0.5l-0.3 0.9l-0.7-0.9z"/><path fill="#fa0f00" d="M305.2 66.6l0.7 0.9l0.9 0.4l-0.6 0.6v1l-2 2v1l-0.5 0.4l-1.8-2.4l-0.2-2l0.6-1l0.9-0.7zM201.2 213.3l0.3 0.4l-0.3 0.9l-0.7-0.9z"/><path fill="#f10700" d="M305.2 66.7l0.6 0.8l0.9 0.4l-0.5 0.6v1l-2 2l-0.2 1.1l-1.8-2.1l-0.2-2l0.5-1l1.7-0.9zM201.2 213.3l0.3 0.4l-0.3 0.8l-0.6-0.8z"/><path fill="#e80000" d="M305.2 66.8l0.6 0.7l0.9 0.4l-0.5 0.6v1l-2 2v0.8l-1.7-1.8l-0.3-2l1-1.4l1-0.4zM201.2 213.3l0.3 0.4l-0.3 0.7l-0.6-0.7z"/><path fill="#df0000" d="M305.2 66.8l1.5 1.2l-0.5 0.5v1l-2 2v0.5l-1.4-1.5l-0.4-2l0.8-1.2l1-0.5zM201.2 213.4l0.3 0.3l-0.3 0.7l-0.5-0.7z"/><path fill="#d60000" d="M305.2 66.9l1.4 1.1l-0.4 0.5v1l-2 2.1l-1.1-1.1l-0.5-1v-1l0.6-1l1-0.6zM201.2 213.4l0.2 0.3l-0.2 0.6l-0.5-0.6z"/><path fill="#cc0000" d="M305.2 66.9l1.4 1.1l-0.4 0.5v1l-1.9 1.9l-1.1-1.3l-0.4-1.6l0.5-1l0.9-0.5zM201.2 213.4v0.9l-0.4-0.6z"/><path fill="#c30000" d="M305.2 67l1.4 1l-0.4 0.5v1l-1.7 1.7l-1.3-1.5l-0.3-1.2l0.6-1l0.7-0.4z"/><path fill="#ba0000" d="M305.2 67.1l1.4 1l-0.4 0.4v1l-1.6 1.5l-1.3-1.5l-0.2-1l0.5-1z"/><path fill="#b10000" d="M305.2 67.1l1.3 1l-0.3 0.4v1l-1.4 1.4l-1.3-1.4l-0.2-1l0.5-1z"/><path fill="#a80000" d="M305.2 67.2l1.3 0.9l-0.3 0.4v1l-1.3 1.2l-1.2-1.2l-0.3-1l0.5-1z"/><path fill="#9f0000" d="M305.2 67.3l1.3 0.9l-0.3 0.3v1l-1.1 1l-0.9-0.6l-0.7-1.4l0.6-1z"/><path fill="#960000" d="M304.3 67.5l0.9-0.2l1.2 0.9l-0.2 0.3v1l-0.9 0.9l-1.1-0.8l-0.6-1.1z"/><path fill="#8d0000" d="M305.2 67.4l1.2 0.8l-0.2 1.3l-0.8 0.8l-1.2-0.9l-0.5-0.9l0.5-0.8z"/><path fill="#840000" d="M305.2 67.4l1.2 0.8l-0.2 1.3l-0.7 0.6l-1-0.6l-0.7-1l0.4-0.6z"/></g><g clip-path="url(#aR)"><rect x="72.3" y="30.4" width="361.8" height="220.4" fill="#000084"/><path fill="#00008d" d="M433.1 31.4v218.4h-259.9l1-1v-1l3-3v-1l2-2v-1l3-3v-1l2-2v-1l3-3v-1l3-3v-1l2-2v-1l3-3.1v-1l2-2v-1l3-3v-1l2-2v-1l3-3v-1l2-2v-1l3-3v-1l2-2v-1l3-3v-1l2-2v-1l3-3v-1l2-2v-1l3-3v-1l2-2v-1l3-3v-1l2-2.1v-1l3-3v-1l2-2v-1l3-3v-1l2-2v-1l3-3v-1l2-2v-1l3-3v-1l2-2v-1l3-3v-1l2-2v-1l3-3v-1l2-2v-1l3-3v-1l2-2v-1l3-3v-1l2-2.1v-1l3-3v-1l2-2v-1l1-0.9v1.2l1 0.5l0.8-0.8l-0.8-0.9l-0.9-0.2l1.9-1.9v-1l2-2v-1l3-3v-1l2-2v-1l3-3v-1l2-2v-1l3-3v-1l2-2v-1l3-3v-1l2-2v-1l3-3v-1l2-2v-1l3-3.1v-1l2-2v-1l3-3v-1l2-2v-1l3-3v-1l3-3v-1l2-2v-1l3-3v-1l1-1z"/><path fill="#000096" d="M433.1 31.4v218.4h-259.9l1-1v-1l3-3v-1l2-2v-1l3-3v-1l2-2v-1l3-3v-1l3-3v-1l2-2v-1l3-3.1v-1l2-2v-1l3-3v-1l2-2v-1l3-3v-1l2-2v-1l3-3v-1l2-2v-1l3-3v-1l2-2v-1l3-3v-1l2-2v-1l3-3v-1l2-2v-1l3-3v-1l2-2.1v-1l3-3v-1l2-2v-1l3-3v-1l2-2v-1l3-3v-1l2-2v-1l3-3v-1l2-2v-1l3-3v-1l2-2v-1l3-3v-1l2-2v-1l3-3v-1l2-2v-1l3-3v-1l2-2.1v-1l3-3v-1l2-2v-1l0.9-0.9l-0.1 0.9l1.2 0.9l0.9-0.9l-0.9-1l-0.7-0.3l1.7-1.7v-1l2-2v-1l3-3v-1l2-2v-1l3-3v-1l2-2v-1l3-3v-1l2-2v-1l3-3v-1l2-2v-1l3-3v-1l2-2v-1l3-3.1v-1l2-2v-1l3-3v-1l2-2v-1l3-3v-1l3-3v-1l2-2v-1l3-3v-1l1-1z"/><path fill="#00009f" d="M433.1 31.4v218.4h-259.9l1-1v-1l3-3v-1l2-2v-1l3-3v-1l2-2v-1l3-3v-1l3-3v-1l2-2v-1l3-3.1v-1l2-2v-1l3-3v-1l2-2v-1l3-3v-1l2-2v-1l3-3v-1l2-2v-1l3-3v-1l2-2v-1l3-3v-1l2-2v-1l3-3v-1l2-2v-1l3-3v-1l2-2.1v-1l3-3v-1l2-2v-1l3-3v-1l2-2v-1l3-3v-1l2-2v-1l3-3v-1l2-2v-1l3-3v-1l2-2v-1l3-3v-1l2-2v-1l3-3v-1l2-2v-1l3-3v-1l2-2.1v-1l3-3v-1l2-2v-1l0.9-0.9l-0.1 0.9l1.2 1l1-0.9l-0.8-1.1l-0.8-0.4l1.6-1.6v-1l2-2v-1l3-3v-1l2-2v-1l3-3v-1l2-2v-1l3-3v-1l2-2v-1l3-3v-1l2-2v-1l3-3v-1l2-2v-1l3-3.1v-1l2-2v-1l3-3v-1l2-2v-1l3-3v-1l3-3v-1l2-2v-1l3-3v-1l1-1z"/><path fill="#0000a8" d="M433.1 31.4v218.4h-259.9l1-1v-1l3-3v-1l2-2v-1l3-3v-1l2-2v-1l3-3v-1l3-3v-1l2-2v-1l3-3.1v-1l2-2v-1l3-3v-1l2-2v-1l3-3v-1l2-2v-1l3-3v-1l2-2v-1l3-3v-1l2-2v-1l3-3v-1l2-2v-1l3-3v-1l2-2v-1l3-3v-1l2-2.1v-1l3-3v-1l2-2v-1l3-3v-1l2-2v-1l3-3v-1l2-2v-1l3-3v-1l2-2v-1l3-3v-1l2-2v-1l3-3v-1l2-2v-1l3-3v-1l2-2v-1l3-3v-1l2-2.1v-1l3-3v-1l2-2v-1l0.9-0.9l-0.2 0.9l1.3 1.1l1-0.8v-0.6l-1.5-1.2l1.5-1.5v-1l2-2v-1l3-3v-1l2-2v-1l3-3v-1l2-2v-1l3-3v-1l2-2v-1l3-3v-1l2-2v-1l3-3v-1l2-2v-1l3-3.1v-1l2-2v-1l3-3v-1l2-2v-1l3-3v-1l3-3v-1l2-2v-1l3-3v-1l1-1z"/><path fill="#0000b1" d="M433.1 31.4v218.4h-259.9l1-1v-1l3-3v-1l2-2v-1l3-3v-1l2-2v-1l3-3v-1l3-3v-1l2-2v-1l3-3.1v-1l2-2v-1l3-3v-1l2-2v-1l3-3v-1l2-2v-1l3-3v-1l2-2v-1l3-3v-1l2-2v-1l3-3v-1l2-2v-1l3-3v-1l2-2v-1l3-3v-1l2-2.1v-1l3-3v-1l2-2v-1l3-3v-1l2-2v-1l3-3v-1l2-2v-1l3-3v-1l2-2v-1l3-3v-1l2-2v-1l3-3v-1l2-2v-1l3-3v-1l2-2v-1l3-3v-1l2-2.1v-1l3-3v-1l2-2v-1l0.8-0.8l-0.1 0.8l1.3 1.1l1-0.6l0.3-0.5l-0.3-0.6l-1.4-1l1.4-1.4v-1l2-2v-1l3-3v-1l2-2v-1l3-3v-1l2-2v-1l3-3v-1l2-2v-1l3-3v-1l2-2v-1l3-3v-1l2-2v-1l3-3.1v-1l2-2v-1l3-3v-1l2-2v-1l3-3v-1l3-3v-1l2-2v-1l3-3v-1l1-1z"/><path fill="#0000ba" d="M433.1 31.4v218.4h-259.9l1-1v-1l3-3v-1l2-2v-1l3-3v-1l2-2v-1l3-3v-1l3-3v-1l2-2v-1l3-3.1v-1l2-2v-1l3-3v-1l2-2v-1l3-3v-1l2-2v-1l3-3v-1l2-2v-1l3-3v-1l2-2v-1l3-3v-1l2-2v-1l3-3v-1l2-2v-1l3-3v-1l2-2.1v-1l3-3v-1l2-2v-1l3-3v-1l2-2v-1l3-3v-1l2-2v-1l3-3v-1l2-2v-1l3-3v-1l2-2v-1l3-3v-1l2-2v-1l3-3v-1l2-2v-1l3-3v-1l2-2.1v-1l3-3v-1l2-2v-1l0.8-0.8l-0.1 0.8l1.3 1.2l1-0.5l0.4-0.7l-0.4-0.8l-1.2-1l1.2-1.2v-1l2-2v-1l3-3v-1l2-2v-1l3-3v-1l2-2v-1l3-3v-1l2-2v-1l3-3v-1l2-2v-1l3-3v-1l2-2v-1l3-3.1v-1l2-2v-1l3-3v-1l2-2v-1l3-3v-1l3-3v-1l2-2v-1l3-3v-1l1-1z"/><path fill="#0000c3" d="M433.1 31.4v218.4h-259.9l1-1v-1l3-3v-1l2-2v-1l3-3v-1l2-2v-1l3-3v-1l3-3v-1l2-2v-1l3-3.1v-1l2-2v-1l3-3v-1l2-2v-1l3-3v-1l2-2v-1l3-3v-1l2-2v-1l3-3v-1l2-2v-1l3-3v-1l2-2v-1l3-3v-1l2-2v-1l3-3v-1l2-2.1v-1l3-3v-1l2-2v-1l3-3v-1l2-2v-1l3-3v-1l2-2v-1l3-3v-1l2-2v-1l3-3v-1l2-2v-1l3-3v-1l2-2v-1l3-3v-1l2-2v-1l3-3v-1l2-2.1v-1l3-3v-1l2-2v-1l0.8-0.8l-0.1 0.8l1.3 1.2l1-0.3l0.5-0.9l-0.5-1.1l-1.1-0.8l1.1-1.1v-1l2-2v-1l3-3v-1l2-2v-1l3-3v-1l2-2v-1l3-3v-1l2-2v-1l3-3v-1l2-2v-1l3-3v-1l2-2v-1l3-3.1v-1l2-2v-1l3-3v-1l2-2v-1l3-3v-1l3-3v-1l2-2v-1l3-3v-1l1-1z"/><path fill="#0000cc" d="M433.1 31.4v218.4h-259.9l1-1v-1l3-3v-1l2-2v-1l3-3v-1l2-2v-1l3-3v-1l3-3v-1l2-2v-1l3-3.1v-1l2-2v-1l3-3v-1l2-2v-1l3-3v-1l2-2v-1l3-3v-1l2-2v-1l3-3v-1l2-2v-1l3-3v-1l2-2v-1l3-3v-1l2-2v-1l3-3v-1l2-2.1v-1l3-3v-1l2-2v-1l3-3v-1l2-2v-1l3-3v-1l2-2v-1l3-3v-1l2-2v-1l3-3v-1l2-2v-1l3-3v-1l2-2v-1l3-3v-1l2-2v-1l3-3v-1l2-2.1v-1l3-3v-1l2-2v-1l0.8-0.7l-0.2 0.7l1.4 1.3l1-0.3l0.6-1l-0.6-1.3l-1-0.7l1-1v-1l2-2v-1l3-3v-1l2-2v-1l3-3v-1l2-2v-1l3-3v-1l2-2v-1l3-3v-1l2-2v-1l3-3v-1l2-2v-1l3-3.1v-1l2-2v-1l3-3v-1l2-2v-1l3-3v-1l3-3v-1l2-2v-1l3-3v-1l1-1z"/><path fill="#0000d6" d="M433.1 31.4v218.4h-259.9l1-1v-1l3-3v-1l2-2v-1l3-3v-1l2-2v-1l3-3v-1l3-3v-1l2-2v-1l3-3.1v-1l2-2v-1l3-3v-1l2-2v-1l3-3v-1l2-2v-1l3-3v-1l2-2v-1l3-3v-1l2-2v-1l3-3v-1l2-2v-1l3-3v-1l2-2v-1l3-3v-1l2-2.1v-1l3-3v-1l2-2v-1l3-3v-1l2-2v-1l3-3v-1l2-2v-1l3-3v-1l2-2v-1l3-3v-1l2-2v-1l3-3v-1l2-2v-1l3-3v-1l2-2v-1l3-3v-1l2-2.1v-1l3-3v-1l2-2v-1l0.7-0.7l-0.1 0.7l1.4 1.4l1.2-0.4l0.5-1l-0.2-1l-1.3-1.2l0.8-0.8v-1l2-2v-1l3-3v-1l2-2v-1l3-3v-1l2-2v-1l3-3v-1l2-2v-1l3-3v-1l2-2v-1l3-3v-1l2-2v-1l3-3.1v-1l2-2v-1l3-3v-1l2-2v-1l3-3v-1l3-3v-1l2-2v-1l3-3v-1l1-1z"/><path fill="#0000df" d="M433.1 31.4v218.4h-259.9l1-1v-1l3-3v-1l2-2v-1l3-3v-1l2-2v-1l3-3v-1l3-3v-1l2-2v-1l3-3.1v-1l2-2v-1l3-3v-1l2-2v-1l3-3v-1l2-2v-1l3-3v-1l2-2v-1l3-3v-1l2-2v-1l3-3v-1l2-2v-1l3-3v-1l2-2v-1l3-3v-1l2-2.1v-1l3-3v-1l2-2v-1l3-3v-1l2-2v-1l3-3v-1l2-2v-1l3-3v-1l2-2v-1l3-3v-1l2-2v-1l3-3v-1l2-2v-1l3-3v-1l2-2v-1l3-3v-1l2-2.1v-1l3-3v-1l2-2v-1l0.7-0.7l-0.1 0.7l1.4 1.4l1.3-0.4l0.6-1l-0.3-1l-1.2-1.4l0.6-0.6v-1l2-2v-1l3-3v-1l2-2v-1l3-3v-1l2-2v-1l3-3v-1l2-2v-1l3-3v-1l2-2v-1l3-3v-1l2-2v-1l3-3.1v-1l2-2v-1l3-3v-1l2-2v-1l3-3v-1l3-3v-1l2-2v-1l3-3v-1l1-1z"/><path fill="#0000e8" d="M433.1 31.4v218.4h-259.9l1-1v-1l3-3v-1l2-2v-1l3-3v-1l2-2v-1l3-3v-1l3-3v-1l2-2v-1l3-3.1v-1l2-2v-1l3-3v-1l2-2v-1l3-3v-1l2-2v-1l3-3v-1l2-2v-1l3-3v-1l2-2v-1l3-3v-1l2-2v-1l3-3v-1l2-2v-1l3-3v-1l2-2.1v-1l3-3v-1l2-2v-1l3-3v-1l2-2v-1l3-3v-1l2-2v-1l3-3v-1l2-2v-1l3-3v-1l2-2v-1l3-3v-1l2-2v-1l3-3v-1l2-2v-1l3-3v-1l2-2.1v-1l3-3v-1l2-2v-1l0.7-0.7l-0.1 0.7l1.4 1.5l1.5-0.5l0.5-1l-0.2-1l-1.3-1.5l0.5-0.5v-1l2-2v-1l3-3v-1l2-2v-1l3-3v-1l2-2v-1l3-3v-1l2-2v-1l3-3v-1l2-2v-1l3-3v-1l2-2v-1l3-3.1v-1l2-2v-1l3-3v-1l2-2v-1l3-3v-1l3-3v-1l2-2v-1l3-3v-1l1-1z"/><path fill="#0000f1" d="M433.1 31.4v218.4h-259.9l1-1v-1l3-3v-1l2-2v-1l3-3v-1l2-2v-1l3-3v-1l3-3v-1l2-2v-1l3-3.1v-1l2-2v-1l3-3v-1l2-2v-1l3-3v-1l2-2v-1l3-3v-1l2-2v-1l3-3v-1l2-2v-1l3-3v-1l2-2v-1l3-3v-1l2-2v-1l3-3v-1l2-2.1v-1l3-3v-1l2-2v-1l3-3v-1l2-2v-1l3-3v-1l2-2v-1l3-3v-1l2-2v-1l3-3v-1l2-2v-1l3-3v-1l2-2v-1l3-3v-1l2-2v-1l3-3v-1l2-2.1v-1l3-3v-1l2-2v-1l0.7-0.6l-0.1 0.6l1.4 1.5l1.6-0.5l0.6-1l-0.2-1l-1.3-1.7l0.3-0.3v-1l2-2v-1l3-3v-1l2-2v-1l3-3v-1l2-2v-1l3-3v-1l2-2v-1l3-3v-1l2-2v-1l3-3v-1l2-2v-1l3-3.1v-1l2-2v-1l3-3v-1l2-2v-1l3-3v-1l3-3v-1l2-2v-1l3-3v-1l1-1zM227.2 176.2v0.7l0.4-0.2z"/><path fill="#0000fa" d="M433.1 31.4v218.4h-259.9l1-1v-1l3-3v-1l2-2v-1l3-3v-1l2-2v-1l3-3v-1l3-3v-1l2-2v-1l3-3.1v-1l2-2v-1l3-3v-1l2-2v-1l3-3v-1l2-2v-1l3-3v-1l2-2v-1l3-3v-1l2-2v-1l3-3v-1l2-2v-1l3-3v-1l2-2v-1l3-3v-1l2-2.1v-1l3-3v-1l2-2v-1l3-3v-1l2-2v-1l3-3v-1l2-2v-1l3-3v-1l2-2v-1l3-3v-1l2-2v-1l3-3v-1l2-2v-1l3-3v-1l2-2v-1l3-3v-1l2-2.1v-1l3-3v-1l2-2v-1l0.6-0.6l-0.1 0.6l1.5 1.6l1-0.1l0.8-0.5l0.6-1l-0.1-1l-1.4-1.9l0.1-1.1l2-2v-1l3-3v-1l2-2v-1l3-3v-1l2-2v-1l3-3v-1l2-2v-1l3-3v-1l2-2v-1l3-3v-1l2-2v-1l3-3.1v-1l2-2v-1l3-3v-1l2-2v-1l3-3v-1l3-3v-1l2-2v-1l3-3v-1l1-1zM227.2 176.1v0.9l0.5-0.3z"/><path fill="#0000ff" d="M433.1 31.4v218.4h-259.9l1-1v-1l3-3v-1l2-2v-1l3-3v-1l2-2v-1l3-3v-1l3-3v-1l2-2v-1l3-3.1v-1l2-2v-1l3-3v-1l2-2v-1l3-3v-1l2-2v-1l3-3v-1l2-2v-1l3-3v-1l2-2v-1l3-3v-1l2-2v-1l3-3v-1l2-2v-1l3-3v-1l2-2.1v-1l3-3v-1l2-2v-1l3-3v-1l2-2v-1l3-3v-1l2-2v-1l3-3v-1l2-2v-1l3-3v-1l2-2v-1l3-3v-1l2-2v-1l3-3v-1l2-2v-1l3-3v-1l2-2.1v-1l3-3v-1l2-2v-1l0.6-0.6l-0.1 0.6l1.5 1.7l1-0.1l1-0.6l0.5-1v-1l-0.5-1l-1-1.1v-0.9l2-2v-1l3-3v-1l2-2v-1l3-3v-1l2-2v-1l3-3v-1l2-2v-1l3-3v-1l2-2v-1l3-3v-1l2-2v-1l3-3.1v-1l2-2v-1l3-3v-1l2-2v-1l3-3v-1l3-3v-1l2-2v-1l3-3v-1l1-1zM227.2 176l-0.2 0.7l0.2 0.3l0.6-0.3z"/><path fill="#0000ff" d="M433.1 31.4v218.4h-259.9l1-1v-1l3-3v-1l2-2v-1l3-3v-1l2-2v-1l3-3v-1l3-3v-1l2-2v-1l3-3.1v-1l2-2v-1l3-3v-1l2-2v-1l3-3v-1l2-2v-1l3-3v-1l2-2v-1l3-3v-1l2-2v-1l3-3v-1l2-2v-1l3-3v-1l2-2v-1l3-3v-1l2-2.1v-1l3-3v-1l2-2v-1l3-3v-1l2-2v-1l3-3v-1l2-2v-1l3-3v-1l2-2v-1l3-3v-1l2-2v-1l3-3v-1l2-2v-1l3-3v-1l2-2v-1l3-3v-1l2-2.1v-1l3-3v-1l2-2v-1l0.6-0.6l-0.1 0.6l1.5 1.7h1l1.2-0.7l0.5-1v-1l-0.7-1.5l-1-1v-0.5l2-2v-1l3-3v-1l2-2v-1l3-3v-1l2-2v-1l3-3v-1l2-2v-1l3-3v-1l2-2v-1l3-3v-1l2-2v-1l3-3.1v-1l2-2v-1l3-3v-1l2-2v-1l3-3v-1l3-3v-1l2-2v-1l3-3v-1l1-1zM227.2 176l-0.2 0.7l0.2 0.3l0.6-0.3z"/><path fill="#0004ff" d="M433.1 31.4v218.4h-259.9l1-1v-1l3-3v-1l2-2v-1l3-3v-1l2-2v-1l3-3v-1l3-3v-1l2-2v-1l3-3.1v-1l2-2v-1l3-3v-1l2-2v-1l3-3v-1l2-2v-1l3-3v-1l2-2v-1l3-3v-1l2-2v-1l3-3v-1l2-2v-1l3-3v-1l2-2v-1l3-3v-1l2-2.1v-1l3-3v-1l2-2v-1l3-3v-1l2-2v-1l3-3v-1l2-2v-1l3-3v-1l2-2v-1l3-3v-1l2-2v-1l3-3v-1l2-2v-1l3-3v-1l2-2v-1l3-3v-1l2-2.1v-1l3-3v-1l2-2v-1l0.5-0.5v0.5l1.5 1.8h1l1.4-0.8l0.5-1v-1l-0.3-1l-1.6-2l2-2v-1l3-3v-1l2-2v-1l3-3v-1l2-2v-1l3-3v-1l2-2v-1l3-3v-1l2-2v-1l3-3v-1l2-2v-1l3-3.1v-1l2-2v-1l3-3v-1l2-2v-1l3-3v-1l3-3v-1l2-2v-1l3-3v-1l1-1zM227.2 175.9l-0.2 0.8l0.2 0.4l0.7-0.4z"/><path fill="#000cff" d="M433.1 31.4v218.4h-259.9l1-1v-1l3-3v-1l2-2v-1l3-3v-1l2-2v-1l3-3v-1l3-3v-1l2-2v-1l3-3.1v-1l2-2v-1l3-3v-1l2-2v-1l3-3v-1l2-2v-1l3-3v-1l2-2v-1l3-3v-1l2-2v-1l3-3v-1l2-2v-1l3-3v-1l2-2v-1l3-3v-1l2-2.1v-1l3-3v-1l2-2v-1l3-3v-1l2-2v-1l3-3v-1l2-2v-1l3-3v-1l2-2v-1l3-3v-1l2-2v-1l3-3v-1l2-2v-1l3-3v-1l2-2v-1l3-3v-1l2-2.1v-1l3-3v-1l2-2v-1l0.5-0.5l-0.1 0.5l1.6 1.8l1 0.1l1.6-0.9l0.5-1l-0.1-1.8l-0.7-1.2l-1.2-1.1l1.9-1.9v-1l3-3v-1l2-2v-1l3-3v-1l2-2v-1l3-3v-1l2-2v-1l3-3v-1l2-2v-1l3-3v-1l2-2v-1l3-3.1v-1l2-2v-1l3-3v-1l2-2v-1l3-3v-1l3-3v-1l2-2v-1l3-3v-1l1-1zM227.2 175.9l-0.3 0.8l0.3 0.4l0.7-0.4z"/><path fill="#0014ff" d="M433.1 31.4v218.4h-259.9l1-1v-1l3-3v-1l2-2v-1l3-3v-1l2-2v-1l3-3v-1l3-3v-1l2-2v-1l3-3.1v-1l2-2v-1l3-3v-1l2-2v-1l3-3v-1l2-2v-1l3-3v-1l2-2v-1l3-3v-1l2-2v-1l3-3v-1l2-2v-1l3-3v-1l2-2v-1l3-3v-1l2-2.1v-1l3-3v-1l2-2v-1l3-3v-1l2-2v-1l3-3v-1l2-2v-1l3-3v-1l2-2v-1l3-3v-1l2-2v-1l3-3v-1l2-2v-1l3-3v-1l2-2v-1l3-3v-1l2-2.1v-1l3-3v-1l2-2v-1l0.5-0.5l-0.1 0.5l1.6 1.9l2-0.2l0.8-0.7l0.6-1l-0.2-2l-1.8-2.4l1.6-1.6v-1l3-3v-1l2-2v-1l3-3v-1l2-2v-1l3-3v-1l2-2v-1l3-3v-1l2-2v-1l3-3v-1l2-2v-1l3-3.1v-1l2-2v-1l3-3v-1l2-2v-1l3-3v-1l3-3v-1l2-2v-1l3-3v-1l1-1zM227.2 175.8l-0.3 0.9l0.3 0.4l0.8-0.4z"/><path fill="#001cff" d="M433.1 31.4v218.4h-259.9l1-1v-1l3-3v-1l2-2v-1l3-3v-1l2-2v-1l3-3v-1l3-3v-1l2-2v-1l3-3.1v-1l2-2v-1l3-3v-1l2-2v-1l3-3v-1l2-2v-1l3-3v-1l2-2v-1l3-3v-1l2-2v-1l3-3v-1l2-2v-1l3-3v-1l2-2v-1l3-3v-1l2-2.1v-1l3-3v-1l2-2v-1l3-3v-1l2-2v-1l3-3v-1l2-2v-1l3-3v-1l2-2v-1l3-3v-1l2-2v-1l3-3v-1l2-2v-1l3-3v-1l2-2v-1l3-3v-1l2-2.1v-1l3-3v-1l2-2v-1l0.5-0.4l-0.1 0.4l1.6 2l2-0.2l1.1-0.8l0.5-1v-2l-1.9-2.7l1.3-1.3v-1l3-3v-1l2-2v-1l3-3v-1l2-2v-1l3-3v-1l2-2v-1l3-3v-1l2-2v-1l3-3v-1l2-2v-1l3-3.1v-1l2-2v-1l3-3v-1l2-2v-1l3-3v-1l3-3v-1l2-2v-1l3-3v-1l1-1zM227.2 175.7l-0.3 1l0.3 0.5l0.8-0.5z"/><path fill="#0024ff" d="M433.1 31.4v218.4h-259.9l1-1v-1l3-3v-1l2-2v-1l3-3v-1l2-2v-1l3-3v-1l3-3v-1l2-2v-1l3-3.1v-1l2-2v-1l3-3v-1l2-2v-1l3-3v-1l2-2v-1l3-3v-1l2-2v-1l3-3v-1l2-2v-1l3-3v-1l2-2v-1l3-3v-1l1-1h0.9l-0.7-0.2l0.8-0.8v-1l3-3v-1l2-2.1v-1l3-3v-1l2-2v-1l3-3v-1l2-2v-1l3-3v-1l2-2v-1l3-3v-1l2-2v-1l3-3v-1l2-2v-1l3-3v-1l2-2v-1l3-3v-1l2-2v-1l3-3v-1l2-2.1v-1l3-3v-1l2-2v-1l0.4-0.4v0.4l1.6 2l1 0.2l1-0.2l1.4-1l0.5-1v-2l-0.9-1.8l-1.1-1.1l1.1-1.1v-1l3-3v-1l2-2v-1l3-3v-1l2-2v-1l3-3v-1l2-2v-1l3-3v-1l2-2v-1l3-3v-1l2-2v-1l3-3.1v-1l2-2v-1l3-3v-1l2-2v-1l3-3v-1l3-3v-1l2-2v-1l3-3v-1l1-1zM227.2 175.7l-0.3 1l0.3 0.5l0.9-0.5z"/><path fill="#002cff" d="M433.1 31.4v218.4h-259.9l1-1v-1l3-3v-1l2-2v-1l3-3v-1l2-2v-1l3-3v-1l3-3v-1l2-2v-1l3-3.1v-1l2-2v-1l3-3v-1l2-2v-1l3-3v-1l2-2v-1l3-3v-1l2-2v-1l3-3v-1l2-2v-1l3-3v-1l2-2v-1l3-3v-1l1-1l1 1.5l0.9-0.5l-0.9-1.2l-0.7-0.1l0.7-0.7v-1l3-3v-1l2-2.1v-1l3-3v-1l2-2v-1l3-3v-1l2-2v-1l3-3v-1l2-2v-1l3-3v-1l2-2v-1l3-3v-1l2-2v-1l3-3v-1l2-2v-1l3-3v-1l2-2v-1l3-3v-1l2-2.1v-1l3-3v-1l2-2v-1l0.4-0.4l-0.1 0.4l1.5 2l1.2 0.4l1.4-0.4l1.3-1l0.5-1v-2l-0.9-2l-1.1-1.2l0.8-0.8v-1l3-3v-1l2-2v-1l3-3v-1l2-2v-1l3-3v-1l2-2v-1l3-3v-1l2-2v-1l3-3v-1l2-2v-1l3-3.1v-1l2-2v-1l3-3v-1l2-2v-1l3-3v-1l3-3v-1l2-2v-1l3-3v-1l1-1z"/><path fill="#0034ff" d="M433.1 31.4v218.4h-259.9l1-1v-1l3-3v-1l2-2v-1l3-3v-1l2-2v-1l3-3v-1l3-3v-1l2-2v-1l3-3.1v-1l2-2v-1l3-3v-1l2-2v-1l3-3v-1l2-2v-1l3-3v-1l2-2v-1l3-3v-1l2-2v-1l3-3v-1l2-2v-1l3-3v-1l0.9-0.9l1.1 1.5l1-0.6l-0.6-1l-1-0.5l0.6-0.5v-1l3-3v-1l2-2.1v-1l3-3v-1l2-2v-1l3-3v-1l2-2v-1l3-3v-1l2-2v-1l3-3v-1l2-2v-1l3-3v-1l2-2v-1l3-3v-1l2-2v-1l3-3v-1l2-2v-1l3-3v-1l2-2.1v-1l3-3v-1l2-2v-1l0.4-0.4l-0.1 0.4l1.3 2l1.4 0.5l1.8-0.5l1.2-1l0.5-1l0.1-2l-0.8-2l-1.3-1.5l0.5-0.5v-1l3-3v-1l2-2v-1l3-3v-1l2-2v-1l3-3v-1l2-2v-1l3-3v-1l2-2v-1l3-3v-1l2-2v-1l3-3.1v-1l2-2v-1l3-3v-1l2-2v-1l3-3v-1l3-3v-1l2-2v-1l3-3v-1l1-1z"/><path fill="#003cff" d="M433.1 31.4v218.4h-259.9l1-1v-1l3-3v-1l2-2v-1l3-3v-1l2-2v-1l3-3v-1l3-3v-1l2-2v-1l3-3.1v-1l2-2v-1l3-3v-1l2-2v-1l3-3v-1l2-2v-1l3-3v-1l2-2v-1l3-3v-1l2-2v-1l3-3v-1l2-2v-1l3-3v-1l0.9-0.9l1.1 1.5l1-0.6l-0.5-1l-0.9-0.6l0.4-0.4v-1l3-3v-1l2-2.1v-1l3-3v-1l2-2v-1l3-3v-1l2-2v-1l3-3v-1l2-2v-1l3-3v-1l2-2v-1l3-3v-1l2-2v-1l3-3v-1l2-2v-1l3-3v-1l2-2v-1l3-3v-1l2-2.1v-1l3-3v-1l2-2v-1l0.4-0.3l-0.1 0.3l1.2 2l1.5 0.7l2-0.5l1.3-1.2l0.5-1l0.2-2l-0.7-2l-1.5-1.8l0.2-1.2l3-3v-1l2-2v-1l3-3v-1l2-2v-1l3-3v-1l2-2v-1l3-3v-1l2-2v-1l3-3v-1l2-2v-1l3-3.1v-1l2-2v-1l3-3v-1l2-2v-1l3-3v-1l3-3v-1l2-2v-1l3-3v-1l1-1z"/><path fill="#0044ff" d="M433.1 31.4v218.4h-259.9l1-1v-1l3-3v-1l2-2v-1l3-3v-1l2-2v-1l3-3v-1l3-3v-1l2-2v-1l3-3.1v-1l2-2v-1l3-3v-1l2-2v-1l3-3v-1l2-2v-1l3-3v-1l2-2v-1l3-3v-1l2-2v-1l3-3v-1l2-2v-1l3-3v-1l0.9-0.9l1.1 1.5l1.1-0.6l-0.4-1l-1-0.7l0.3-0.3v-1l3-3v-1l2-2.1v-1l3-3v-1l2-2v-1l3-3v-1l2-2v-1l3-3v-1l2-2v-1l3-3v-1l2-2v-1l3-3v-1l2-2v-1l3-3v-1l2-2v-1l3-3v-1l2-2v-1l3-3v-1l2-2.1v-1l3-3v-1l2-2v-1l0.3-0.3l1 2.3l0.7 0.6l1 0.2l2-0.4l1.7-1.4l0.5-1l0.2-2l-0.6-2l-1.8-2.4v-0.6l3-3v-1l2-2v-1l3-3v-1l2-2v-1l3-3v-1l2-2v-1l3-3v-1l2-2v-1l3-3v-1l2-2v-1l3-3.1v-1l2-2v-1l3-3v-1l2-2v-1l3-3v-1l3-3v-1l2-2v-1l3-3v-1l1-1z"/><path fill="#004cff" d="M433.1 31.4v218.4h-259.9l1-1v-1l3-3v-1l2-2v-1l3-3v-1l2-2v-1l3-3v-1l3-3v-1l2-2v-1l3-3.1v-1l2-2v-1l3-3v-1l2-2v-1l3-3v-1l2-2v-1l3-3v-1l2-2v-1l3-3v-1l2-2v-1l3-3v-1l2-2v-1l3-3v-1l0.9-0.9l1.1 1.6l1.2-0.7l-0.3-1l-1.1-0.8l0.2-1.2l3-3v-1l2-2.1v-1l3-3v-1l2-2v-1l3-3v-1l2-2v-1l3-3v-1l2-2v-1l3-3v-1l2-2v-1l3-3v-1l2-2v-1l3-3v-1l2-2v-1l3-3v-1l2-2v-1l3-3v-1l2-2.1v-1l3-3v-1l2-2v-1l0.3-0.3l0.8 2.3l0.9 0.8l1 0.2l2-0.3l2.1-1.7l0.7-2l-0.2-2l-0.9-2l-1.7-2l3-3v-1l2-2v-1l3-3v-1l2-2v-1l3-3v-1l2-2v-1l3-3v-1l2-2v-1l3-3v-1l2-2v-1l3-3.1v-1l2-2v-1l3-3v-1l2-2v-1l3-3v-1l3-3v-1l2-2v-1l3-3v-1l1-1z"/><path fill="#0054ff" d="M433.1 31.4v218.4h-259.9l1-1v-1l3-3v-1l2-2v-1l3-3v-1l2-2v-1l3-3v-1l3-3v-1l2-2v-1l3-3.1v-1l2-2v-1l3-3v-1l2-2v-1l3-3v-1l2-2v-1l3-3v-1l2-2v-1l3-3v-1l2-2v-1l3-3v-1l2-2v-1l3-3v-1l0.8-0.8l1.2 1.5l1.4-0.7l-0.4-1.2l-1.1-0.8l0.1-1l3-3v-1l2-2.1v-1l3-3v-1l2-2v-1l3-3v-1l2-2v-1l3-3v-1l2-2v-1l3-3v-1l2-2v-1l3-3v-1l2-2v-1l3-3v-1l2-2v-1l3-3v-1l2-2v-1l3-3v-1l2-2.1v-1l3-3v-1l2-2v-1l0.3-0.3l0.7 2.5l1 0.7l1 0.3l1.6-0.2l1.4-0.5l1.5-1.5l0.7-2l-0.1-2l-0.8-2l-1.9-2.4l2.6-2.6v-1l2-2v-1l3-3v-1l2-2v-1l3-3v-1l2-2v-1l3-3v-1l2-2v-1l3-3v-1l2-2v-1l3-3.1v-1l2-2v-1l3-3v-1l2-2v-1l3-3v-1l3-3v-1l2-2v-1l3-3v-1l1-1z"/><path fill="#005cff" d="M433.1 31.4v218.4h-259.9l1-1v-1l3-3v-1l2-2v-1l3-3v-1l2-2v-1l3-3v-1l3-3v-1l2-2v-1l3-3.1v-1l2-2v-1l3-3v-1l2-2v-1l3-3v-1l2-2v-1l3-3v-1l2-2v-1l3-3v-1l2-2v-1l3-3v-1l2-2v-1l3-3v-1l0.8-0.8l1.2 1.5l1.5-0.7l-0.5-1.4l-1-0.7v-0.9l3-3v-1l2-2.1v-1l3-3v-1l2-2v-1l3-3v-1l2-2v-1l3-3v-1l2-2v-1l3-3v-1l2-2v-1l3-3v-1l2-2v-1l3-3v-1l2-2v-1l3-3v-1l2-2v-1l3-3v-1l2-2.1v-1l3-3v-1l2-2v-1l0.2-0.2l0.8 2.6l2 1h1l2-0.6l1.9-1.8l0.8-2l-0.1-2l-0.7-2l-2.1-2.8l2.2-2.2v-1l2-2v-1l3-3v-1l2-2v-1l3-3v-1l2-2v-1l3-3v-1l2-2v-1l3-3v-1l2-2v-1l3-3.1v-1l2-2v-1l3-3v-1l2-2v-1l3-3v-1l3-3v-1l2-2v-1l3-3v-1l1-1z"/><path fill="#0064ff" d="M433.1 31.4v218.4h-259.9l1-1v-1l3-3v-1l2-2v-1l3-3v-1l2-2v-1l3-3v-1l3-3v-1l2-2v-1l3-3.1v-1l2-2v-1l3-3v-1l2-2v-1l3-3v-1l2-2v-1l3-3v-1l2-2v-1l3-3v-1l2-2v-1l3-3v-1l2-2v-1l3-3v-1l1-0.7l1 1.5l1.6-0.8l-0.1-1l-1.5-1.4v-0.6l3-3v-1l2-2.1v-1l3-3v-1l2-2v-1l3-3v-1l2-2v-1l3-3v-1l2-2v-1l3-3v-1l2-2v-1l3-3v-1l2-2v-1l3-3v-1l2-2v-1l3-3v-1l2-2v-1l3-3v-1l2-2.1v-1l3-3v-1l2-2v-1l0.2-0.2l0.3 2.2l0.5 0.7l2 0.9l3-0.4l1.6-1.2l0.8-1l0.7-2v-2l-1.1-2.9l-1.8-2.3l1.8-1.8v-1l2-2v-1l3-3v-1l2-2v-1l3-3v-1l2-2v-1l3-3v-1l2-2v-1l3-3v-1l2-2v-1l3-3.1v-1l2-2v-1l3-3v-1l2-2v-1l3-3v-1l3-3v-1l2-2v-1l3-3v-1l1-1z"/><path fill="#006cff" d="M433.1 31.4v218.4h-259.9l1-1v-1l3-3v-1l2-2v-1l3-3v-1l2-2v-1l3-3v-1l3-3v-1l2-2v-1l3-3.1v-1l2-2v-1l3-3v-1l2-2v-1l3-3v-1l2-2v-1l3-3v-1l2-2v-1l3-3v-1l2-2v-1l3-3v-1l2-2v-1l3-3v-1l1-0.7l1 1.5l1-0.2l0.7-0.6l-0.1-1l-0.6-0.9l-1-0.7v-0.4l3-3v-1l2-2.1v-1l3-3v-1l2-2v-1l3-3v-1l2-2v-1l3-3v-1l2-2v-1l3-3v-1l2-2v-1l3-3v-1l2-2v-1l3-3v-1l2-2v-1l3-3v-1l2-2v-1l3-3v-1l2-2.1v-1l3-3v-1l2-2v-1l0.2-0.2l0.2 2.2l0.6 0.9l2 1l3-0.4l2-1.3l0.9-1.2l0.7-2l-0.2-3l-0.8-2l-1.9-2.7l1.3-1.3v-1l2-2v-1l3-3v-1l2-2v-1l3-3v-1l2-2v-1l3-3v-1l2-2v-1l3-3v-1l2-2v-1l3-3.1v-1l2-2v-1l3-3v-1l2-2v-1l3-3v-1l3-3v-1l2-2v-1l3-3v-1l1-1z"/><path fill="#0074ff" d="M433.1 31.4v218.4h-259.9l1-1v-1l3-3v-1l2-2v-1l3-3v-1l2-2v-1l3-3v-1l3-3v-1l2-2v-1l3-3.1v-1l2-2v-1l3-3v-1l2-2v-1l3-3v-1l2-2v-1l3-3v-1l2-2v-1l3-3v-1l2-2v-1l3-3v-1l2-2v-1l3-3v-1l0.7-0.7h0.3l1 1.5l1-0.1l0.8-0.7v-1l-0.6-1l-1.2-1l3-3v-1l2-2.1v-1l3-3v-1l2-2v-1l3-3v-1l2-2v-1l3-3v-1l2-2v-1l3-3v-1l2-2v-1l3-3v-1l2-2v-1l3-3v-1l2-2v-1l3-3v-1l2-2v-1l3-3v-1l2-2.1v-1l3-3v-1l2-2v-1l0.2 2l0.6 1l1.2 0.9l1 0.2l3-0.2l1.6-0.9l1.4-1.3l0.9-1.7l0.3-3l-1-3l-2.1-3.1l0.9-0.9v-1l2-2v-1l3-3v-1l2-2v-1l3-3v-1l2-2v-1l3-3v-1l2-2v-1l3-3v-1l2-2v-1l3-3.1v-1l2-2v-1l3-3v-1l2-2v-1l3-3v-1l3-3v-1l2-2v-1l3-3v-1l1-1z"/><path fill="#007cff" d="M433.1 31.4v218.4h-259.9l1-1v-1l3-3v-1l2-2v-1l3-3v-1l2-2v-1l3-3v-1l3-3v-1l2-2v-1l3-3.1v-1l2-2v-1l3-3v-1l2-2v-1l3-3v-1l2-2v-1l3-3v-1l2-2v-1l3-3v-1l2-2v-1l3-3v-1l2-2v-1l3-3v-1l0.7-0.7h0.3l1 1.6l1-0.1l0.9-0.8l0.1-1l-0.5-1l-1.4-1.1l2.9-2.9v-1l2-2.1v-1l3-3v-1l2-2v-1l3-3v-1l2-2v-1l3-3v-1l2-2v-1l3-3v-1l2-2v-1l3-3v-1l2-2v-1l3-3v-1l2-2v-1l3-3v-1l2-2v-1l3-3v-1l2-2.1v-1l3-3v-1l2-2v-1v2l1 1.6l2 0.8l2 0.1l1.6-0.5l1.4-0.7l1.4-1.3l1.1-2l0.3-3l-0.9-3l-2.3-3.6l0.4-0.4v-1l2-2v-1l3-3v-1l2-2v-1l3-3v-1l2-2v-1l3-3v-1l2-2v-1l3-3v-1l2-2v-1l3-3.1v-1l2-2v-1l3-3v-1l2-2v-1l3-3v-1l3-3v-1l2-2v-1l3-3v-1l1-1z"/><path fill="#0083ff" d="M433.1 31.4v218.4h-259.9l1-1v-1l3-3v-1l2-2v-1l3-3v-1l2-2v-1l3-3v-1l3-3v-1l2-2v-1l3-3.1v-1l2-2v-1l3-3v-1l2-2v-1l3-3v-1l2-2v-1l3-3v-1l2-2v-1l3-3v-1l2-2v-1l3-3v-1l2-2v-1l3-3v-1l0.7-0.7l0.3 0.1l1 1.5h1l1.1-0.9l0.1-1l-0.4-1l-1.5-1.3l2.7-2.7v-1l2-2.1v-1l3-3v-1l2-2v-1l3-3v-1l2-2v-1l3-3v-1l2-2v-1l3-3v-1l2-2v-1l3-3v-1l2-2v-1l3-3v-1l2-2v-1l3-3v-1l2-2v-1l3-3v-1l2-2.1v-1l3-3v-1l1.9-1.9l0.1 1.5l1 1.3l2 0.9h2l3-1l2-1.8l1.3-3l-0.1-3l-1.1-3l-2.1-3.2v-0.8l2-2v-1l3-3v-1l2-2v-1l3-3v-1l2-2v-1l3-3v-1l2-2v-1l3-3v-1l2-2v-1l3-3.1v-1l2-2v-1l3-3v-1l2-2v-1l3-3v-1l3-3v-1l2-2v-1l3-3v-1l1-1z"/><path fill="#008bff" d="M433.1 31.4v218.4h-259.9l1-1v-1l3-3v-1l2-2v-1l3-3v-1l2-2v-1l3-3v-1l3-3v-1l2-2v-1l3-3.1v-1l2-2v-1l3-3v-1l2-2v-1l3-3v-1l2-2v-1l3-3v-1l2-2v-1l3-3v-1l2-2v-1l3-3v-1l2-2v-1l3-3v-1l0.6-0.7l0.4 0.1l1 1.5l1 0.1l1.3-1l0.2-1l-0.4-1l-1.5-1.6l2.4-2.4v-1l2-2.1v-1l3-3v-1l2-2v-1l3-3v-1l2-2v-1l3-3v-1l2-2v-1l3-3v-1l2-2v-1l3-3v-1l2-2v-1l3-3v-1l2-2v-1l3-3v-1l2-2v-1l3-3v-1l2-2.1v-1l3-3v-1l1.6-1.6l0.3 1.6l1.1 1.3l2 0.8l2 0.1l3-0.8l2.7-2.4l1.2-3v-3l-1-3l-2.8-4.1l1.9-1.9v-1l3-3v-1l2-2v-1l3-3v-1l2-2v-1l3-3v-1l2-2v-1l3-3v-1l2-2v-1l3-3.1v-1l2-2v-1l3-3v-1l2-2v-1l3-3v-1l3-3v-1l2-2v-1l3-3v-1l1-1z"/><path fill="#0093ff" d="M433.1 31.4v218.4h-259.9l1-1v-1l3-3v-1l2-2v-1l3-3v-1l2-2v-1l3-3v-1l3-3v-1l2-2v-1l3-3.1v-1l2-2v-1l3-3v-1l2-2v-1l3-3v-1l2-2v-1l3-3v-1l2-2v-1l3-3v-1l2-2v-1l3-3v-1l2-2v-1l3-3v-1l0.6-0.6h0.4l1 1.6l1 0.1l1.5-1.1l0.2-1l-0.3-1l-1.6-1.8l2.2-2.2v-1l2-2.1v-1l3-3v-1l2-2v-1l3-3v-1l2-2v-1l3-3v-1l2-2v-1l3-3v-1l2-2v-1l3-3v-1l2-2v-1l3-3v-1l2-2v-1l3-3v-1l2-2v-1l3-3v-1l2-2.1v-1l3-3v-1l1.4-1.4l0.2 1.4l1.4 1.7l2 0.8l2 0.1l2-0.3l2-0.9l2.4-2.4l1.2-3v-3l-1.5-4l-2.5-3.7l1.4-1.3v-1l3-3v-1l2-2v-1l3-3v-1l2-2v-1l3-3v-1l2-2v-1l3-3v-1l2-2v-1l3-3.1v-1l2-2v-1l3-3v-1l2-2v-1l3-3v-1l3-3v-1l2-2v-1l3-3v-1l1-1z"/><path fill="#009bff" d="M433.1 31.4v218.4h-259.9l1-1v-1l3-3v-1l2-2v-1l3-3v-1l2-2v-1l3-3v-1l3-3v-1l2-2v-1l3-3.1v-1l2-2v-1l3-3v-1l2-2v-1l3-3v-1l2-2v-1l3-3v-1l2-2v-1l3-3v-1l2-2v-1l3-3v-1l2-2v-1l3-3v-1l0.6-0.6l0.4 0.1l1 1.5l1 0.2l1.7-1.2l0.1-2l-0.8-1.3l-1-0.8l2-1.9v-1l2-2.1v-1l3-3v-1l2-2v-1l3-3v-1l2-2v-1l3-3v-1l2-2v-1l3-3v-1l2-2v-1l3-3v-1l2-2v-1l3-3v-1l2-2v-1l3-3v-1l2-2v-1l3-3v-1l2-2.1v-1l3-3v-1l1.1-1.1l0.1 1.1l0.6 1l1.2 1.1l2 0.8l2 0.2l2-0.3l2-0.8l1.4-1l1.6-1.7l1.3-3.3v-3l-1.4-4l-2.7-4.2l0.8-0.8v-1l3-3v-1l2-2v-1l3-3v-1l2-2v-1l3-3v-1l2-2v-1l3-3v-1l2-2v-1l3-3.1v-1l2-2v-1l3-3v-1l2-2v-1l3-3v-1l3-3v-1l2-2v-1l3-3v-1l1-1z"/><path fill="#00a3ff" d="M433.1 31.4v218.4h-259.9l1-1v-1l3-3v-1l2-2v-1l3-3v-1l2-2v-1l3-3v-1l3-3v-1l2-2v-1l3-3.1v-1l2-2v-1l3-3v-1l2-2v-1l3-3v-1l2-2v-1l3-3v-1l2-2v-1l3-3v-1l2-2v-1l3-3v-1l2-2v-1l3-3v-1l0.6-0.6l0.4 0.1l1 1.6l1 0.2l0.8-0.3l1.1-1l0.2-2l-0.5-1l-1.2-1.4l1.6-1.6v-1l2-2.1v-1l3-3v-1l2-2v-1l3-3v-1l2-2v-1l3-3v-1l2-2v-1l3-3v-1l2-2v-1l3-3v-1l2-2v-1l3-3v-1l2-2v-1l3-3v-1l2-2v-1l3-3v-1l2-2.1v-1l3-3v-1l0.8-0.8l0.6 1.8l1.6 1.6l2 0.8l2 0.2l2-0.2l2-0.7l2-1.3l1.3-1.4l1.5-3l0.3-2l-0.1-2l-1.2-4l-3.1-4.7l0.3-1.3l3-3v-1l2-2v-1l3-3v-1l2-2v-1l3-3v-1l2-2v-1l3-3v-1l2-2v-1l3-3.1v-1l2-2v-1l3-3v-1l2-2v-1l3-3v-1l3-3v-1l2-2v-1l3-3v-1l1-1z"/><path fill="#00abff" d="M433.1 31.4v218.4h-259.9l1-1v-1l3-3v-1l2-2v-1l3-3v-1l2-2v-1l3-3v-1l3-3v-1l2-2v-1l3-3.1v-1l2-2v-1l3-3v-1l2-2v-1l3-3v-1l2-2v-1l3-3v-1l2-2v-1l3-3v-1l2-2v-1l3-3v-1l2-2v-1l3-3v-1l0.5-0.6l0.5 0.1l1 1.7l1 0.2l1.1-0.4l1-1l0.4-2l-0.5-1.2l-1.3-1.5l1.3-1.3v-1l2-2.1v-1l3-3v-1l2-2v-1l3-3v-1l2-2v-1l3-3v-1l2-2v-1l3-3v-1l2-2v-1l3-3v-1l2-2v-1l3-3v-1l2-2v-1l3-3v-1l2-2v-1l3-3v-1l2-2.1v-1l3-3v-1l0.5-0.5l0.5 1.7l2 1.9l2 0.8l2 0.2l2-0.2l2.6-0.9l1.6-1l2-2l1.1-2l0.5-2l-0.2-4l-1.5-4l-3.1-5l3-3v-1l2-2v-1l3-3v-1l2-2v-1l3-3v-1l2-2v-1l3-3v-1l2-2v-1l3-3.1v-1l2-2v-1l3-3v-1l2-2v-1l3-3v-1l3-3v-1l2-2v-1l3-3v-1l1-1z"/><path fill="#00b3ff" d="M433.1 31.4v218.4h-259.9l1-1v-1l3-3v-1l2-2v-1l3-3v-1l2-2v-1l3-3v-1l3-3v-1l2-2v-1l3-3.1v-1l2-2v-1l3-3v-1l2-2v-1l3-3v-1l2-2v-1l3-3v-1l2-2v-1l3-3v-1l2-2v-1l3-3v-1l2-2v-1l3-3v-1l0.5-0.5l0.5 0.1l1 1.7l1 0.2l1.4-0.5l1-1l0.4-1l-0.2-2l-1.6-2l1-1v-1l2-2.1v-1l3-3v-1l2-2v-1l3-3v-1l2-2v-1l3-3v-1l2-2v-1l3-3v-1l2-2v-1l3-3v-1l2-2v-1l3-3v-1l2-2v-1l3-3v-1l2-2v-1l3-3v-1l2-2.1v-1l3-3v-1l0.2-0.1l0.8 2.1l2 1.7l2 0.8l2 0.2l3-0.3l2-0.8l2.4-1.6l1.7-2l1-2l0.5-2l-0.1-4l-1.5-4l-3.6-5.5l2.6-2.5v-1l2-2v-1l3-3v-1l2-2v-1l3-3v-1l2-2v-1l3-3v-1l2-2v-1l3-3.1v-1l2-2v-1l3-3v-1l2-2v-1l3-3v-1l3-3v-1l2-2v-1l3-3v-1l1-1z"/><path fill="#00bbff" d="M433.1 31.4v218.4h-259.9l1-1v-1l3-3v-1l2-2v-1l3-3v-1l2-2v-1l3-3v-1l3-3v-1l2-2v-1l3-3.1v-1l2-2v-1l3-3v-1l2-2v-1l3-3v-1l2-2v-1l3-3v-1l2-2v-1l3-3v-1l2-2v-1l3-3v-1l2-2v-1l3-3v-1l0.5-0.5l0.5 0.1l1 1.8l1 0.2l1.7-0.6l1-1l0.4-1l-0.1-2l-1.6-2.4l0.6-0.6v-1l2-2.1v-1l3-3v-1l2-2v-1l3-3v-1l2-2v-1l3-3v-1l2-2v-1l3-3v-1l2-2v-1l3-3v-1l2-2v-1l3-3v-1l2-2v-1l3-3v-1l2-2v-1l3-3v-1l2-2.1v-1l3-3l1 1.8l2 1.5l3 1h3l4-1.4l2-1.3l1.4-1.6l1.2-2l0.7-2l0.3-2l-0.3-3l-1.9-5l-3.4-5l2-2v-1l2-2v-1l3-3v-1l2-2v-1l3-3v-1l2-2v-1l3-3v-1l2-2v-1l3-3.1v-1l2-2v-1l3-3v-1l2-2v-1l3-3v-1l3-3v-1l2-2v-1l3-3v-1l1-1z"/><path fill="#00c3ff" d="M433.1 31.4v218.4h-259.9l1-1v-1l3-3v-1l2-2v-1l3-3v-1l2-2v-1l3-3v-1l3-3v-1l2-2v-1l3-3.1v-1l2-2v-1l3-3v-1l2-2v-1l3-3v-1l2-2v-1l3-3v-1l2-2v-1l3-3v-1l2-2v-1l3-3v-1l2-2v-1l3-3v-1l0.5-0.5l0.5 0.1l1 1.9l1 0.2l2-0.7l1-1l0.5-1v-2l-0.5-1.3l-1.2-1.6l0.2-1.1l2-2.1v-1l3-3v-1l2-2v-1l3-3v-1l2-2v-1l3-3v-1l2-2v-1l3-3v-1l2-2v-1l3-3v-1l2-2v-1l3-3v-1l2-2v-1l3-3v-1l2-2v-1l3-3v-1l2-2.1v-1l2.6-2.5l1.4 2.1l2 1.4l3 1h3l3-0.7l2-1l2-1.5l1.5-1.8l1.1-2l0.6-2l0.3-2l-0.3-3l-1.9-5l-3.7-5.6l1.4-1.4v-1l2-2v-1l3-3v-1l2-2v-1l3-3v-1l2-2v-1l3-3v-1l2-2v-1l3-3.1v-1l2-2v-1l3-3v-1l2-2v-1l3-3v-1l3-3v-1l2-2v-1l3-3v-1l1-1z"/><path fill="#00cbff" d="M433.1 31.4v218.4h-259.9l1-1v-1l3-3v-1l2-2v-1l3-3v-1l2-2v-1l3-3v-1l3-3v-1l2-2v-1l3-3.1v-1l2-2v-1l3-3v-1l2-2v-1l3-3v-1l2-2v-1l3-3v-1l2-2v-1l3-3v-1l2-2v-1l3-3v-1l2-2v-1l3-3v-1l0.4-0.5l0.6 0.2l0.4 1.3l0.6 0.6l1 0.2l2-0.6l1.4-1.2l0.5-1l0.1-2l-0.7-2l-1.3-1.6v-0.4l2-2.1v-1l3-3v-1l2-2v-1l3-3v-1l2-2v-1l3-3v-1l2-2v-1l3-3v-1l2-2v-1l3-3v-1l2-2v-1l3-3v-1l2-2v-1l3-3v-1l2-2v-1l3-3v-1l2-2.1v-1l2.1-2.1l1.4 2.1l2.5 1.8l3 0.9l3 0.1l3-0.6l2-0.9l2-1.3l2-2l1.2-2l0.8-2l0.4-2l-0.1-3l-0.7-3l-1.3-3l-4.1-6.2l0.8-0.8v-1l2-2v-1l3-3v-1l2-2v-1l3-3v-1l2-2v-1l3-3v-1l2-2v-1l3-3.1v-1l2-2v-1l3-3v-1l2-2v-1l3-3v-1l3-3v-1l2-2v-1l3-3v-1l1-1z"/><path fill="#00d3ff" d="M433.1 31.4v218.4h-259.9l1-1v-1l3-3v-1l2-2v-1l3-3v-1l2-2v-1l3-3v-1l3-3v-1l2-2v-1l3-3.1v-1l2-2v-1l3-3v-1l2-2v-1l3-3v-1l2-2v-1l3-3v-1l2-2v-1l3-3v-1l2-2v-1l3-3v-1l2-2v-1l3-3v-1l0.4-0.4l0.6 0.1l0.3 1.3l0.7 0.7l1 0.2l2-0.5l1.8-1.4l0.8-2l-0.2-2l-0.9-2l-1.2-1.3l1.7-1.8v-1l3-3v-1l2-2v-1l3-3v-1l2-2v-1l3-3v-1l2-2v-1l3-3v-1l2-2v-1l3-3v-1l2-2v-1l3-3v-1l2-2v-1l3-3v-1l2-2v-1l3-3v-1l2-2.1v-1l1.6-1.6l1.4 2.2l3 2.1l3 0.9l3 0.1l3-0.5l3-1.3l2.5-1.9l1.7-2l1.2-2l0.8-3l0.2-2l-0.3-3l-1.8-5l-4.5-6.9l0.2-1.1l2-2v-1l3-3v-1l2-2v-1l3-3v-1l2-2v-1l3-3v-1l2-2v-1l3-3.1v-1l2-2v-1l3-3v-1l2-2v-1l3-3v-1l3-3v-1l2-2v-1l3-3v-1l1-1z"/><path fill="#00dbff" d="M433.1 31.4v218.4h-259.9l1-1v-1l3-3v-1l2-2v-1l3-3v-1l2-2v-1l3-3v-1l3-3v-1l2-2v-1l3-3.1v-1l2-2v-1l3-3v-1l2-2v-1l3-3v-1l2-2v-1l3-3v-1l2-2v-1l3-3v-1l2-2v-1l3-3v-1l2-2v-1l3-3v-1l0.4-0.4l0.6 0.1l0.3 1.3l0.7 0.8l1 0.2l2-0.3l1.3-0.7l0.9-1l0.9-2v-2l-0.7-2l-1.5-1.9l1.1-1.2v-1l3-3v-1l2-2v-1l3-3v-1l2-2v-1l3-3v-1l2-2v-1l3-3v-1l2-2v-1l3-3v-1l2-2v-1l3-3v-1l2-2v-1l3-3v-1l2-2v-1l3-3v-1l2-2.1v-1l1.1-1.1l1.2 2.1l2.7 2.2l3 1.2l4 0.3l3-0.5l3-1.1l3-2.1l2-2.1l1.5-2.9l0.6-2l0.3-3l-0.3-3l-0.9-3l-1.5-3l-4.7-7.1l2-1.9v-1l3-3v-1l2-2v-1l3-3v-1l2-2v-1l3-3v-1l2-2v-1l3-3.1v-1l2-2v-1l3-3v-1l2-2v-1l3-3v-1l3-3v-1l2-2v-1l3-3v-1l1-1z"/><path fill="#00e3f9" d="M433.1 31.4v218.4h-259.9l1-1v-1l3-3v-1l2-2v-1l3-3v-1l2-2v-1l3-3v-1l3-3v-1l2-2v-1l3-3.1v-1l2-2v-1l3-3v-1l2-2v-1l3-3v-1l2-2v-1l3-3v-1l2-2v-1l3-3v-1l2-2v-1l3-3v-1l2-2v-1l3-3v-1l0.4-0.4l0.6 0.2l0.2 1.2l0.8 0.9l1 0.2l1.7-0.1l1.3-0.6l1.7-1.4l1-2l0.2-2l-0.6-2l-1.7-2.6l0.4-0.5v-1l3-3v-1l2-2v-1l3-3v-1l2-2v-1l3-3v-1l2-2v-1l3-3v-1l2-2v-1l3-3v-1l2-2v-1l3-3v-1l2-2v-1l3-3v-1l2-2v-1l3-3v-1l2-2.1v-1l0.4-0.4l1.6 2.5l3 2.3l3 1.1l4 0.3l4-0.7l3-1.2l2.6-1.9l2.4-2.5l1.4-2.5l0.9-3l0.2-3l-0.3-3l-1-3l-1.4-3l-5.1-7.7l1.3-1.3v-1l3-3v-1l2-2v-1l3-3v-1l2-2v-1l3-3v-1l2-2v-1l3-3.1v-1l2-2v-1l3-3v-1l2-2v-1l3-3v-1l3-3v-1l2-2v-1l3-3v-1l1-1z"/><path fill="#04ebf2" d="M433.1 31.4v218.4h-259.9l1-1v-1l3-3v-1l2-2v-1l3-3v-1l2-2v-1l3-3v-1l3-3v-1l2-2v-1l3-3.1v-1l2-2v-1l3-3v-1l2-2v-1l3-3v-1l2-2v-1l3-3v-1l2-2v-1l3-3v-1l2-2v-1l3-3v-1l2-2v-1l3-3v-1l0.3-0.4l0.7 0.2l0.1 1.2l0.9 1l2 0.3l2-0.6l2.3-1.7l1-2l0.3-3l-0.7-2l-1.9-2.7v-0.4l3-3v-1l2-2v-1l3-3v-1l2-2v-1l3-3v-1l2-2v-1l3-3v-1l2-2v-1l3-3v-1l2-2v-1l3-3v-1l2-2v-1l3-3v-1l2-2v-1l3-3v-1l2-2.2l2 2.8l3 2l4 1.2l4 0.1l4-0.9l3-1.4l3-2.1l2.2-2.6l1.6-3l0.8-3l0.1-3l-0.4-3l-1-3l-1.5-3l-5.5-8.3l0.7-0.7v-1l3-3v-1l2-2v-1l3-3v-1l2-2v-1l3-3v-1l2-2v-1l3-3.1v-1l2-2v-1l3-3v-1l2-2v-1l3-3v-1l3-3v-1l2-2v-1l3-3v-1l1-1z"/><path fill="#0bf3ec" d="M433.1 31.4v218.4h-259.9l1-1v-1l3-3v-1l2-2v-1l3-3v-1l2-2v-1l3-3v-1l3-3v-1l2-2v-1l3-3.1v-1l2-2v-1l3-3v-1l2-2v-1l3-3v-1l2-2v-1l3-3v-1l2-2v-1l3-3v-1l2-2v-1l3-3v-1l2-2v-1l3-3v-1l0.3-0.3l0.7 0.1v1.2l1 1.1l2 0.4l2.2-0.5l2.7-2l1.1-2l0.5-3l-0.8-3l-2-2.8l2.3-2.3v-1l2-2v-1l3-3v-1l2-2v-1l3-3v-1l2-2v-1l3-3v-1l2-2v-1l3-3v-1l2-2v-1l3-3v-1l2-2v-1l3-3v-1l2-2v-1l3-3v-1l1.2-1.3l1.4 2.3l1.4 1.3l2 1.3l2 0.9l3 0.7h4l4-0.7l3.5-1.5l2.9-2l2.8-3.1l1.6-3l0.9-3l0.3-3l-0.4-3l-0.8-3l-1.3-3l-2.4-4l-4.2-5.9l0.1-1.1l3-3v-1l2-2v-1l3-3v-1l2-2v-1l3-3v-1l2-2v-1l3-3.1v-1l2-2v-1l3-3v-1l2-2v-1l3-3v-1l3-3v-1l2-2v-1l3-3v-1l1-1z"/><path fill="#11fbe5" d="M433.1 31.4v218.4h-259.9l1-1v-1l3-3v-1l2-2v-1l3-3v-1l2-2v-1l3-3v-1l3-3v-1l2-2v-1l3-3.1v-1l2-2v-1l3-3v-1l2-2v-1l3-3v-1l2-2v-1l3-3v-1l2-2v-1l3-3v-1l2-2v-1l3-3v-1l2-2v-1l3-3v-1l0.3-0.3l0.7 0.1l-0.1 1.2l1.1 1.3l1 0.3h2l3-1.3l2.3-2.3l0.9-2l0.3-3l-0.9-3.1l-1.9-2.7l1.3-1.3v-1l2-2v-1l3-3v-1l2-2v-1l3-3v-1l2-2v-1l3-3v-1l2-2v-1l3-3v-1l2-2v-1l3-3v-1l2-2v-1l3-3v-1l2-2v-1l3-3v-1l0.2-0.3l1.4 2.3l1.4 1.4l3 1.9l4 1.3l4 0.3l5-0.8l4-1.7l3.6-2.4l2.7-3.1l1.7-3l0.9-3l0.4-3l-0.4-4l-1.3-4l-1.5-3l-7-10.1l2.9-2.9v-1l2-2v-1l3-3v-1l2-2v-1l3-3v-1l2-2v-1l3-3.1v-1l2-2v-1l3-3v-1l2-2v-1l3-3v-1l3-3v-1l2-2v-1l3-3v-1l1-1z"/><path fill="#18ffdf" d="M433.1 31.4v218.4h-259.9l1-1v-1l3-3v-1l2-2v-1l3-3v-1l2-2v-1l3-3v-1l3-3v-1l2-2v-1l3-3.1v-1l2-2v-1l3-3v-1l2-2v-1l3-3v-1l2-2v-1l3-3v-1l2-2v-1l3-3v-1l2-2v-1l3-3v-1l2-2v-1l3-3v-1l0.3-0.3l0.7 0.2l-0.2 1.1l1.2 1.5l3 0.3l3-1l1.3-0.8l1.8-2l1.3-3l0.2-3l-0.8-3.1l-1.9-2.9l0.1-1.1l2-2v-1l3-3v-1l2-2v-1l3-3v-1l2-2v-1l3-3v-1l2-2v-1l3-3v-1l2-2v-1l3-3v-1l2-2v-1l3-3v-1l2-2v-1l2.4-2.5l2.6 3.3l4 2.5l5 1.2h5l4-0.9l4-1.8l4-2.8l2.6-3l1.7-3.1l1.2-4l0.2-3l-0.5-4l-1-3l-2-4l-7.5-10.7l2.3-2.3v-1l2-2v-1l3-3v-1l2-2v-1l3-3v-1l2-2v-1l3-3.1v-1l2-2v-1l3-3v-1l2-2v-1l3-3v-1l3-3v-1l2-2v-1l3-3v-1l1-1z"/><path fill="#1effd9" d="M433.1 31.4v218.4h-259.9l1-1v-1l3-3v-1l2-2v-1l3-3v-1l2-2v-1l3-3v-1l3-3v-1l2-2v-1l3-3.1v-1l2-2v-1l3-3v-1l2-2v-1l3-3v-1l2-2v-1l3-3v-1l2-2v-1l3-3v-1l2-2v-1l3-3v-1l2-2v-1l3-3v-1l0.2-0.3l0.8 0.2l-0.4 1.1l0.4 0.8l1 0.8l3 0.5l3.7-1.1l1.5-1l1.9-2l1.5-3l0.4-4l-1-3.8l-2.1-3.1l1.1-1.2v-1l3-3v-1l2-2v-1l3-3v-1l2-2v-1l3-3v-1l2-2v-1l3-3v-1l2-2v-1l3-3v-1l2-2v-1l3-3v-1l2-2v-1l1.1-1.1l1.3 2.1l1.6 1.7l2 1.4l3 1.4l4 1l5 0.1l5-1l5-2.2l4-2.8l3-3.4l1.8-3.3l1.2-4l0.2-4l-0.7-4l-1-3l-2.1-4l-8.1-11.3l1.7-1.7v-1l2-2v-1l3-3v-1l2-2v-1l3-3v-1l2-2v-1l3-3.1v-1l2-2v-1l3-3v-1l2-2v-1l3-3v-1l3-3v-1l2-2v-1l3-3v-1l1-1z"/><path fill="#25ffd2" d="M433.1 31.4v218.4h-259.9l1-1v-1l3-3v-1l2-2v-1l3-3v-1l2-2v-1l3-3v-1l3-3v-1l2-2v-1l3-3.1v-1l2-2v-1l3-3v-1l2-2v-1l3-3v-1l2-2v-1l3-3v-1l2-2v-1l3-3v-1l2-2v-1l3-3v-1l2-2v-1l3-3v-1l1-0.1l-0.5 1.1l0.5 1l1 0.8l2 0.6l2-0.1l2-0.6l2-1l2.2-1.7l1.6-2l1.7-4l0.1-4.1l-1.2-4l-2.2-3.1l2.8-2.9v-1l2-2v-1l3-3v-1l2-2v-1l3-3v-1l2-2v-1l3-3v-1l2-2v-1l3-3v-1l2-2v-1l3-3v-1l1.7-1.8l1.3 1.9l1.8 1.9l4.2 2.5l5 1.3l6 0.1l5-1l5-2.1l4.3-2.8l3.8-4l2.3-4.1l1.2-4l0.2-4l-0.6-4l-1.3-4l-2.2-4l-8.8-11.9l1.1-1.1v-1l2-2v-1l3-3v-1l2-2v-1l3-3v-1l2-2v-1l3-3.1v-1l2-2v-1l3-3v-1l2-2v-1l3-3v-1l3-3v-1l2-2v-1l3-3v-1l1-1z"/><path fill="#2bffcc" d="M433.1 31.4v218.4h-259.9l1-1v-1l3-3v-1l2-2v-1l3-3v-1l2-2v-1l3-3v-1l3-3v-1l2-2v-1l3-3.1v-1l2-2v-1l3-3v-1l2-2v-1l3-3v-1l2-2v-1l3-3v-1l2-2v-1l3-3v-1l2-2v-1l3-3v-1l2-2v-1l3-3v-1h1l-0.6 1l0.6 1.3l1 0.7l2 0.6h2l2.6-0.6l2.1-1l2.7-2l1.7-2l2-4l0.7-4.1l-0.3-3l-0.5-2l-1-2l-1.6-2.3l0.6-0.7v-1l2-2v-1l3-3v-1l2-2v-1l3-3v-1l2-2v-1l3-3v-1l2-2v-1l3-3v-1l2-2v-1l3-3l1.3 2l1.7 1.6l4 2.5l3 1l3 0.5h6l6-1.1l6-2.5l5-3.4l4-4.5l2.2-4.1l1.2-4.1l0.2-4l-0.8-5l-1.5-4l-2.3-4l-9.5-12.5l0.5-0.5v-1l2-2v-1l3-3v-1l2-2v-1l3-3v-1l2-2v-1l3-3.1v-1l2-2v-1l3-3v-1l2-2v-1l3-3v-1l3-3v-1l2-2v-1l3-3v-1l1-1z"/><path fill="#31ffc5" d="M433.1 31.4v218.4h-259.9l1-1v-1l3-3v-1l2-2v-1l3-3v-1l2-2v-1l3-3v-1l3-3v-1l2-2v-1l3-3.1v-1l2-2v-1l3-3v-1l2-2v-1l3-3v-1l2-2v-1l3-3v-1l2-2v-1l3-3v-1l2-2v-1l3-3v-1l2-2v-1l3-3v-1h0.9l-0.6 1l0.3 1l1.4 1.2l2 0.6h3l3-0.8l3-1.7l2.7-2.3l1.6-2l1.2-2l1.2-3l0.7-5.1l-0.8-5l-1.3-3l-1.4-1.8l0.1-1.2l3-3v-1l2-2v-1l3-3v-1l2-2v-1l3-3v-1l2-2v-1l3-3v-1l2-2l0.1-1.1l1.3 2.1l1.9 2l1.7 1.2l3 1.5l3 0.8l3 0.5l7-0.1l7-1.5l7-2.9l5.1-3.5l2.1-2l2.4-3l2.4-4.3l1.3-4.8l0.3-4l-0.8-5l-1.5-4l-2.2-4l-2.9-4l-8.2-10.2v-0.8l2-2v-1l3-3v-1l2-2v-1l3-3v-1l2-2v-1l3-3.1v-1l2-2v-1l3-3v-1l2-2v-1l3-3v-1l3-3v-1l2-2v-1l3-3v-1l1-1z"/><path fill="#38ffbf" d="M433.1 31.4v218.4h-259.9l1-1v-1l3-3v-1l2-2v-1l3-3v-1l2-2v-1l3-3v-1l3-3v-1l2-2v-1l3-3.1v-1l2-2v-1l3-3v-1l2-2v-1l3-3v-1l2-2v-1l3-3v-1l2-2v-1l3-3v-1l2-2v-1l3-3v-1l2-2v-1l3-3v-1h0.7l-0.5 1l0.2 1l1.6 1.5l3 0.7l3-0.1l3.5-1.1l3.5-2l2.3-2l2.5-3l1.8-3l1.2-3.1l0.9-3l0.5-4l-0.2-4l-0.6-3l-1.4-2.9l-1.4-1.7l1.4-1.4v-1l3-3v-1l2-2v-1l3-3v-1l2-2v-1l1.3-1.3l1.5 2.3l1.2 1.2l2 1.2l3 1.1l4 0.7l4 0.2l9-0.8l8-2.1l7-3.1l6-4.3l2.1-2.1l2.4-3l2.7-5l1.3-5.1l0.1-5l-1-5l-1.7-4l-2.3-4l-3.1-4l-6.5-7.5l-2.8-3.8l1.8-1.7v-1l3-3v-1l2-2v-1l3-3v-1l2-2v-1l3-3.1v-1l2-2v-1l3-3v-1l2-2v-1l3-3v-1l3-3v-1l2-2v-1l3-3v-1l1-1z"/><path fill="#3effb8" d="M433.1 31.4v218.4h-259.9l1-1v-1l3-3v-1l2-2v-1l3-3v-1l2-2v-1l3-3v-1l3-3v-1l2-2v-1l3-3.1v-1l2-2v-1l3-3v-1l2-2v-1l3-3v-1l2-2v-1l3-3v-1l2-2v-1l3-3v-1l2-2v-1l3-3v-1l2-2v-1l3-3l0.1-1.1l0.4 0.1l-0.5 1l0.2 1l0.8 1l2 1.2l2 0.4h2l3-0.5l5.1-2.1l2.9-2l2.3-2l4-5l3.1-6.1l4.8-12l1.8-2.7l2-2l2.2-1.3l2.8-1.1l19-4.5l5-1.6l5-2.1l5-2.7l4-2.7l3-2.7l3.1-3.6l2.9-5l1.1-3l0.7-3l0.2-5.1l-1.1-6l-2.2-5l-2.6-4l-3.2-4l-6.9-7.5l-3.2-4.3l1.2-1.2v-1l3-3v-1l2-2v-1l3-3v-1l2-2v-1l3-3.1v-1l2-2v-1l3-3v-1l2-2v-1l3-3v-1l3-3v-1l2-2v-1l3-3v-1l1-1z"/><path fill="#45ffb2" d="M433.1 31.4v218.4h-259.9l1-1v-1l3-3v-1l2-2v-1l3-3v-1l2-2v-1l3-3v-1l3-3v-1l2-2v-1l3-3.1v-1l2-2v-1l3-3v-1l2-2v-1l3-3v-1l2-2v-1l3-3v-1l2-2v-1l3-3v-1l2-2v-1l3-3v-1l2-2v-1l2.9-2.9l0.1 0.9l0.7 1l1.3 1l2 0.7l2 0.3l5-0.5l3-1l3.1-1.5l4.4-3l3.3-3l3.5-4l8.7-11.6l4.9-4.5l6.1-3.4l18-6.7l8-3.9l4-2.5l4-3.1l3-2.9l2.8-3.5l2.8-5l1.8-6l0.2-6.1l-1.2-6l-2.2-5l-3.3-5l-3.5-4l-7.4-7.6l-3.7-4.7l0.7-0.7v-1l3-3v-1l2-2v-1l3-3v-1l2-2v-1l3-3.1v-1l2-2v-1l3-3v-1l2-2v-1l3-3v-1l3-3v-1l2-2v-1l3-3v-1l1-1z"/><path fill="#4bffac" d="M433.1 31.4v218.4h-259.9l1-1v-1l3-3v-1l2-2v-1l3-3v-1l2-2v-1l3-3v-1l3-3v-1l2-2v-1l3-3.1v-1l2-2v-1l3-3v-1l2-2v-1l3-3v-1l2-2v-1l3-3v-1l2-2v-1l3-3v-1l2-2v-1l3-3v-1l2-2v-1l2.7-2.7l0.7 1.7l1.6 1.3l2 0.8l3 0.4l3-0.2l3-0.7l6.6-2.6l3.3-2l4-3l12.1-11.3l6-4.7l7-4.1l17-7.6l8-4.3l4-2.7l4-3.4l2.9-3l2.4-3l3.3-6l1.8-6l0.3-3l-0.2-4.1l-1.3-6l-2.3-5l-3.4-5l-4.5-5l-9-8.7l-3.2-4.1l0.2-1.2l3-3v-1l2-2v-1l3-3v-1l2-2v-1l3-3.1v-1l2-2v-1l3-3v-1l2-2v-1l3-3v-1l3-3v-1l2-2v-1l3-3v-1l1-1z"/><path fill="#52ffa5" d="M433.1 31.4v218.4h-259.9l1-1v-1l3-3v-1l2-2v-1l3-3v-1l2-2v-1l3-3v-1l3-3v-1l2-2v-1l3-3.1v-1l2-2v-1l3-3v-1l2-2v-1l3-3v-1l2-2v-1l3-3v-1l2-2v-1l3-3v-1l2-2v-1l3-3v-1l2-2v-1l2.5-2.5l0.6 1.5l1.9 1.7l3 1l3 0.2l3-0.1l3.9-0.8l3.1-1l4.6-2l6.7-4l13.7-9.8l6-3.7l7-3.7l15-7.1l8-4.6l4-2.7l4-3.3l3.2-3.2l2.8-3.4l2.3-3.6l1.4-3l1.3-3.5l0.7-3.5l0.4-4l-0.2-3.1l-0.5-3l-1.1-4l-3-6l-3.7-5l-4.9-5l-9.7-8.8l-2.8-3.2l-1.2-2l3-3v-1l2-2v-1l3-3v-1l2-2v-1l3-3.1v-1l2-2v-1l3-3v-1l2-2v-1l3-3v-1l3-3v-1l2-2v-1l3-3v-1l1-1z"/><path fill="#58ff9f" d="M433.1 31.4v218.4h-259.9l1-1v-1l3-3v-1l2-2v-1l3-3v-1l2-2v-1l3-3v-1l3-3v-1l2-2v-1l3-3.1v-1l2-2v-1l3-3v-1l2-2v-1l3-3v-1l2-2v-1l3-3v-1l2-2v-1l3-3v-1l2-2v-1l3-3v-1l2-2v-1l2.3-2.3l0.7 1.6l2 1.7l3 1.1l3 0.4l4-0.2l4-0.7l8.1-2.6l8.3-4l17.6-9.7l21-10l8-4.3l5-3.2l5-3.9l4-3.8l3.4-4.2l2-3l2-4l1.4-4l0.8-4l0.3-4l-0.3-4l-0.8-4.1l-1.1-3l-3.1-6l-3.8-5l-5.1-5l-11.7-9.8l-3-3.2l-1.6-2.4l2.6-2.6v-1l2-2v-1l3-3v-1l2-2v-1l3-3.1v-1l2-2v-1l3-3v-1l2-2v-1l3-3v-1l3-3v-1l2-2v-1l3-3v-1l1-1z"/><path fill="#5eff98" d="M433.1 31.4v218.4h-259.9l1-1v-1l3-3v-1l2-2v-1l3-3v-1l2-2v-1l3-3v-1l3-3v-1l2-2v-1l3-3.1v-1l2-2v-1l3-3v-1l2-2v-1l3-3v-1l2-2v-1l3-3v-1l2-2v-1l3-3v-1l2-2v-1l3-3v-1l2-2v-1l2.1-2.1l0.9 1.9l2 1.6l3 1.1l4 0.6l4-0.1l5-0.7l5.1-1.3l5.9-2l39-16.6l12-5.9l6-3.6l6-4.4l4.8-4.6l4.1-5l2.4-4l1.9-4l1.2-4l0.8-4l0.1-4l-0.3-4l-0.9-4.1l-1.4-4l-3.4-6l-4.9-6l-5.5-5l-12.9-9.9l-3-3l-2.1-3l2.1-2.1v-1l2-2v-1l3-3v-1l2-2v-1l3-3.1v-1l2-2v-1l3-3v-1l2-2v-1l3-3v-1l3-3v-1l2-2v-1l3-3v-1l1-1z"/><path fill="#65ff92" d="M433.1 31.4v218.4h-259.9l1-1v-1l3-3v-1l2-2v-1l3-3v-1l2-2v-1l3-3v-1l3-3v-1l2-2v-1l3-3.1v-1l2-2v-1l3-3v-1l2-2v-1l3-3v-1l2-2v-1l3-3v-1l2-2v-1l3-3v-1l2-2v-1l3-3v-1l2-2v-1l1.9-1.9l1.1 2.1l3 2.1l4 1.1l6 0.4l6-0.6l6.4-1.2l16.9-5l26.7-9.4l8-3.4l7-3.4l6.5-3.9l5.5-4l5.4-5l4.1-5l2.5-4l2-4l1.3-4l1-5l0.2-5l-0.5-4l-1.2-5.1l-1.6-4l-1.6-3l-2.7-4l-5.5-6l-6-5l-15.4-10.9l-3-2.9l-1.7-2.5l1.7-1.7v-1l2-2v-1l3-3v-1l2-2v-1l3-3.1v-1l2-2v-1l3-3v-1l2-2v-1l3-3v-1l3-3v-1l2-2v-1l3-3v-1l1-1z"/><path fill="#6bff8b" d="M433.1 31.4v218.4h-259.9l1-1v-1l3-3v-1l2-2v-1l3-3v-1l2-2v-1l3-3v-1l3-3v-1l2-2v-1l3-3.1v-1l2-2v-1l3-3v-1l2-2v-1l3-3v-1l2-2v-1l3-3v-1l2-2v-1l3-3v-1l2-2v-1l3-3v-1l2-2v-1l1.6-1.7l0.8 1.7l1.6 1.6l4 1.9l5 0.9l7 0.2l8-0.9l9.5-1.7l26.5-6.6l9-2.6l8-2.8l7.1-3.1l6.9-3.5l5.6-3.5l5.2-4l4.2-4l4.2-5l2.8-4.4l2.1-4.6l1.6-5l0.7-5l0.1-5l-0.8-5l-1.5-5l-1.8-4.1l-1.7-3l-2.9-4l-5.8-6l-7.7-6l-17.3-11l-3-2.6l-2.3-3.2l1.3-1.2v-1l2-2v-1l3-3v-1l2-2v-1l3-3.1v-1l2-2v-1l3-3v-1l2-2v-1l3-3v-1l3-3v-1l2-2v-1l3-3v-1l1-1z"/><path fill="#72ff85" d="M433.1 31.4v218.4h-259.9l1-1v-1l3-3v-1l2-2v-1l3-3v-1l2-2v-1l3-3v-1l3-3v-1l2-2v-1l3-3.1v-1l2-2v-1l3-3v-1l2-2v-1l3-3v-1l2-2v-1l3-3v-1l2-2v-1l3-3v-1l2-2v-1l3-3v-1l2-2v-1l1.4-1.4l0.6 1.4l1 1.2l2 1.5l2 1l6 1.5l8 0.4l10-0.5l12-1.4l15-2.4l13-2.6l9-2.3l7.5-2.4l7.5-3l6.1-3l6.5-4.1l5.2-4l4.2-4l4.1-5l3.1-5l2.3-5l1.4-5l0.7-5l-0.1-6l-0.8-5l-1.7-5l-2.4-5.1l-5-7l-3.9-4l-3.4-3l-8.7-6l-18.6-10.4l-4-3.1l-2.9-3.7l0.9-0.8v-1l2-2v-1l3-3v-1l2-2v-1l3-3.1v-1l2-2v-1l3-3v-1l2-2v-1l3-3v-1l3-3v-1l2-2v-1l3-3v-1l1-1z"/><path fill="#78ff7f" d="M433.1 31.4v218.4h-259.9l1-1v-1l3-3v-1l2-2v-1l3-3v-1l2-2v-1l3-3v-1l3-3v-1l2-2v-1l3-3.1v-1l2-2v-1l3-3v-1l2-2v-1l3-3v-1l2-2v-1l3-3v-1l2-2v-1l3-3v-1l2-2v-1l3-3v-1l2-2v-1l1.1-1.2l0.9 1.8l1 1.1l2 1.5l2 1l6 1.7l8 0.9l12 0.1l17-0.9l15-1.3l13-1.9l9-2l8-2.3l7-2.6l7-3.3l6-3.6l6-4.5l4.7-4.6l4.1-5l3-5l2.6-6l1.3-5l0.7-6l-0.4-6l-1-5l-2.3-6l-2.7-5.1l-2.9-4l-3.5-4l-4.3-4l-3.8-3l-9.7-6l-17.8-8.5l-5-2.8l-4-3l-2.5-3.2l0.5-0.5v-1l2-2v-1l3-3v-1l2-2v-1l3-3.1v-1l2-2v-1l3-3v-1l2-2v-1l3-3v-1l3-3v-1l2-2v-1l3-3v-1l1-1z"/><path fill="#7fff78" d="M433.1 31.4v218.4h-259.9l1-1v-1l3-3v-1l2-2v-1l3-3v-1l2-2v-1l3-3v-1l3-3v-1l2-2v-1l3-3.1v-1l2-2v-1l3-3v-1l2-2v-1l3-3v-1l2-2v-1l3-3v-1l2-2v-1l3-3v-1l2-2v-1l3-3v-1l2-2v-1l0.9-0.9l0.9 1.9l1.2 1.3l4 2.5l6 1.9l9 1.4l16 1l20 0.4l14-0.4l13-1.2l9-1.6l9-2.2l8-2.8l7-3.2l6.9-4l5.6-4.1l5.4-5.1l4.1-5l3.7-6l2.5-6l1.4-6l0.5-6l-0.5-6l-1.4-6l-2.4-6l-3.6-6.1l-4-5l-4-4l-4.8-4l-4.3-3l-6.9-4l-6.2-3l-19-7.7l-6-2.8l-4-2.6l-1.9-1.9l-1.3-1.9l0.2-1.1l2-2v-1l3-3v-1l2-2v-1l3-3.1v-1l2-2v-1l3-3v-1l2-2v-1l3-3v-1l3-3v-1l2-2v-1l3-3v-1l1-1z"/><path fill="#85ff72" d="M433.1 31.4v218.4h-259.9l1-1v-1l3-3v-1l2-2v-1l3-3v-1l2-2v-1l3-3v-1l3-3v-1l2-2v-1l3-3.1v-1l2-2v-1l3-3v-1l2-2v-1l3-3v-1l2-2v-1l3-3v-1l2-2v-1l3-3v-1l2-2v-1l3-3v-1l2-2v-1l0.6-0.6l0.7 1.6l1.7 1.9l4 2.5l6 2.1l7 1.5l15 2.2l22 2.4l14 0.9l13 0.1l9-0.4l9-1.1l8-1.6l8-2.2l6.9-2.5l7-3.3l6-3.6l6-4.5l6-5.9l5-6.6l3.7-7l1.4-4l1-4l0.6-4l0.1-4l-0.2-4l-0.6-4l-1-4l-1.5-4l-3.6-7l-4.4-6.1l-4.8-5l-6-5l-6-4l-7.3-4l-9.2-4l-8.4-3l-16.7-5.3l-6-2.4l-3-1.7l-2.2-1.6l-1.9-2l-0.9-2l2-2v-1l3-3v-1l2-2v-1l3-3.1v-1l2-2v-1l3-3v-1l2-2v-1l3-3v-1l3-3v-1l2-2v-1l3-3v-1l1-1z"/><path fill="#8bff6b" d="M433.1 31.4v218.4h-259.9l1-1v-1l3-3v-1l2-2v-1l3-3v-1l2-2v-1l3-3v-1l3-3v-1l2-2v-1l3-3.1v-1l2-2v-1l3-3v-1l2-2v-1l3-3v-1l2-2v-1l3-3v-1l2-2v-1l3-3v-1l2-2v-1l3-3v-1l2-2v-1l0.3-0.3l1.7 2.8l4 3l6 2.6l8 2.2l26 5.4l21 3.8l15 2l13 0.8l10-0.1l9-0.8l8.9-1.4l9-2.2l8.2-2.8l7.8-3.6l7-4.1l5.8-4.3l3.4-3l3.8-4l3.1-4l2.6-4l2.1-4.1l1.7-4l1.2-4l1-5l0.3-5l-0.1-4l-1.3-8l-1.2-4l-2.2-5l-2.2-4l-2.7-4l-5-6.1l-6.6-6l-7-5l-8.9-5l-9.2-4l-8.7-3l-11-3l-18.8-4.5l-7-2.2l-4-1.8l-3-2l-1.5-1.5l-1.3-2.2l1.8-1.8v-1l3-3v-1l2-2v-1l3-3.1v-1l2-2v-1l3-3v-1l2-2v-1l3-3v-1l3-3v-1l2-2v-1l3-3v-1l1-1z"/><path fill="#92ff65" d="M433.1 31.4v218.4h-259.9l1-1v-1l3-3v-1l2-2v-1l3-3v-1l2-2v-1l3-3v-1l3-3v-1l2-2v-1l3-3.1v-1l2-2v-1l3-3v-1l2-2v-1l3-3v-1l2-2v-1l3-3v-1l2-2v-1l3-3v-1l2-2v-1l3-3v-1l2-2v-0.9l2 3.1l4 3l5 2.4l9 3l42 12.2l15 4l17 3.5l16 1.9l11 0.3l10.9-0.5l10-1.3l10-2.2l9-2.9l9-3.9l8-4.5l7-5.2l4.5-4l3.7-4l3.1-4l3.2-5l2.5-5l1.9-5.1l1.3-5l0.8-5l0.2-5l-0.4-6l-1-5l-1.4-5l-2.1-5l-2.7-5l-3.3-5l-3.3-4l-7-7.1l-7.9-6l-9.1-5.4l-10-4.6l-11.5-4l-11.7-3l-11.8-2.2l-23.9-3.6l-9-2l-5-1.8l-3-1.7l-2-1.8l-1.5-2.4l1.5-1.5v-1l3-3v-1l2-2v-1l3-3.1v-1l2-2v-1l3-3v-1l2-2v-1l3-3v-1l3-3v-1l2-2v-1l3-3v-1l1-1z"/><path fill="#98ff5e" d="M301 70.6l1.2-1.1v-1l3-3v-1l2-2v-1l3-3.1v-1l2-2v-1l3-3v-1l2-2v-1l3-3v-1l3-3v-1l2-2v-1l3-3v-1l1-1h103.9v70.4l-9-4.9l-9-4l-9.6-3.4l-11-3l-12.4-2.5l-14-1.8l-14-1l-26.9-1.3l-11-1.2l-6-1.3l-4-1.6l-3.4-2.3l-0.9-1zM173.2 249.8l1-1v-1l3-3v-1l2-2v-1l3-3v-1l2-2v-1l3-3v-1l3-3v-1l2-2v-1l3-3.1v-1l2-2v-1l3-3v-1l2-2v-1l3-3v-1l2-2v-1l3-3v-1l2-2v-1l3-3v-1l2-2v-1l3-3v-1l1.9-1.9l1.3 1.9l2.8 2.6l3 1.9l4 2l30.6 11.5l35.4 14.5l13 4.9l12 3.8l11 2.9l10.9 2.3l12 1.7l12 0.7l12-0.1l11-1.1l11-2l10-2.7l10-3.8l9-4.4v31.4z"/><path fill="#9fff58" d="M301.3 70.4l0.9-0.9v-1l3-3v-1l2-2v-1l3-3.1v-1l2-2v-1l3-3v-1l2-2v-1l3-3v-1l3-3v-1l2-2v-1l3-3v-1l1-1h103.9v43l-18-1l-20 0.1l-19 1l-38.9 3.3l-15 0.4l-8-0.7l-6-1.4l-3-1.4l-2-1.4l-1-1.1zM173.2 249.8l1-1v-1l3-3v-1l2-2v-1l3-3v-1l2-2v-1l3-3v-1l3-3v-1l2-2v-1l3-3.1v-1l2-2v-1l3-3v-1l2-2v-1l3-3v-1l2-2v-1l3-3v-1l2-2v-1l3-3v-1l2-2v-1l3-3v-1l1.6-1.6l1.4 2.2l2 2l5 3.3l24.5 11.1l11.9 6l14.2 8l36.4 21.6l13 7l13.2 6.5z"/><path fill="#a5ff52" d="M301.5 70.1l0.7-0.6v-1l3-3v-1l2-2v-1l3-3.1v-1l2-2v-1l3-3v-1l2-2v-1l3-3v-1l3-3v-1l2-2v-1l3-3v-1l1-1h103.9v14.4l-36 12.6l-28.2 9.1l-14.5 4l-12.2 2.8l-11 1.8l-9 0.8l-8-0.2l-6-1.2l-4-1.9l-2-2.1zM173.2 249.8l1-1v-1l3-3v-1l2-2v-1l3-3v-1l2-2v-1l3-3v-1l3-3v-1l2-2v-1l3-3.1v-1l2-2v-1l3-3v-1l2-2v-1l3-3v-1l2-2v-1l3-3v-1l2-2v-1l3-3v-1l2-2v-1l3-3v-1l1.2-1.2l2.8 3.7l4 3l26.8 14.5l9.4 6l8.2 6l8.7 7.1l9.2 8l19.5 19z"/><path fill="#acff4b" d="M301.8 69.9l0.4-0.4v-1l3-3v-1l2-2v-1l3-3.1v-1l2-2v-1l3-3v-1l2-2v-1l3-3v-1l3-3v-1l2-2v-1l3-3v-1l1-1h73.9l-6.1 6l-6.8 6l-6.4 5l-7.1 5l-7.9 5l-7.2 4.1l-8.3 4l-7.2 3l-8.8 3l-7.1 1.8l-7 1.3l-6 0.4l-5-0.2l-5-1.2l-3-1.5l-1-0.9zM173.2 249.8l1-1v-1l3-3v-1l2-2v-1l3-3v-1l2-2v-1l3-3v-1l3-3v-1l2-2v-1l3-3.1v-1l2-2v-1l3-3v-1l2-2v-1l3-3v-1l2-2v-1l3-3v-1l2-2v-1l3-3v-1l2-2v-1l3-3v-1l0.8-0.8l2.2 3.1l4 3.4l23.3 14.3l8 6l6.9 6l7.7 8.1l6.6 8l6.2 9l5.3 9z"/><path fill="#b2ff45" d="M302.3 70.5l-0.3-0.9l0.2-1.1l3-3v-1l2-2v-1l3-3.1v-1l2-2v-1l3-3v-1l2-2v-1l3-3v-1l3-3v-1l2-2v-1l3-3v-1l1-1h47.9l-2.6 5l-3.2 5l-3.7 5l-4.5 5l-5.3 5l-5 4.1l-5.9 4l-5.3 3l-6.4 3l-6 2.2l-6 1.6l-6 0.8h-5l-5-0.9l-3-1.5zM173.2 249.8l1-1v-1l3-3v-1l2-2v-1l3-3v-1l2-2v-1l3-3v-1l3-3v-1l2-2v-1l3-3.1v-1l2-2v-1l3-3v-1l2-2v-1l3-3v-1l2-2v-1l3-3v-1l2-2v-1l3-3v-1l2-2v-1l3-3v-1l0.4-0.4l2.4 3.4l3.2 2.9l16.5 11.1l6.6 5l5.6 5l5.6 6l5.9 8.1l4.7 8l3.5 8l2.7 9z"/><path fill="#b8ff3e" d="M360.6 31.4l-1 5l-1.7 5l-2.3 5l-2.3 4l-3 4l-3.5 4l-4.4 4.1l-3.9 3l-4.8 3l-6.4 3l-5.1 1.7l-5 1l-5 0.3l-4-0.5l-3-1.1l-1.9-1.4l-0.7-1l-0.4-1l0.2-1.2l2.8-2.8v-1l2-2v-1l3-3.1v-1l2-2v-1l3-3v-1l2-2v-1l3-3v-1l3-3v-1l2-2v-1l3-3v-1l1-1zM266 247.8v2h-92.8l1-1v-1l3-3v-1l2-2v-1l3-3v-1l2-2v-1l3-3v-1l3-3v-1l2-2v-1l3-3.1v-1l2-2v-1l3-3v-1l2-2v-1l3-3v-1l2-2v-1l3-3v-1l2-2v-1l3-3v-1l2-2v-1l3-3v-0.9l2 2.9l3 3l14.8 11l5.9 5l4.9 5l4 5l4.4 7.1l3.6 8l2.2 8z"/><path fill="#bfff38" d="M348.1 31.4l0.4 4l-0.3 5l-0.7 4l-1.7 5l-1.9 4l-2.6 4l-3.3 4.1l-3.2 3l-4 3l-5.2 3l-4.4 1.8l-4 1.1l-4 0.5l-4-0.2l-3-0.7l-2-1.1l-1-1l-0.7-1.4l-0.1-1l0.4-0.7l2.4-2.3v-1l2-2v-1l3-3.1v-1l2-2v-1l3-3v-1l2-2v-1l3-3v-1l3-3v-1l2-2v-1l3-3v-1l1-1zM255.9 227.8l1.1 5l0.4 6l-0.4 6l-1 5h-82.8l1-1v-1l3-3v-1l2-2v-1l3-3v-1l2-2v-1l3-3v-1l3-3v-1l2-2v-1l3-3.1v-1l2-2v-1l3-3v-1l2-2v-1l3-3v-1l2-2v-1l3-3v-1l2-2v-1l3-3v-1l2-2v-1l2.9-2.9l2.1 2.9l2 2.1l14.6 11.9l6.9 7l3 4l3.2 5l2.3 5.1z"/><path fill="#c5ff31" d="M337.6 31.4l1.5 4l0.9 4l0.2 4l-0.3 4l-0.9 4l-1.6 4l-2.3 4.1l-2.3 3l-3 3l-3.9 3l-3.5 2l-4.2 1.7l-4 0.9l-4 0.3l-3-0.5l-3-1.4l-1.5-2l-0.1-1l0.6-1l2-2v-1l2-2v-1l3-3.1v-1l2-2v-1l3-3v-1l2-2v-1l3-3v-1l3-3v-1l2-2v-1l3-3v-1l1-1zM248.5 218.7l1.4 4.1l0.9 4l0.4 4v4l-0.5 4l-1 4l-1.5 4l-1.5 3h-73.5l1-1v-1l3-3v-1l2-2v-1l3-3v-1l2-2v-1l3-3v-1l3-3v-1l2-2v-1l3-3.1v-1l2-2v-1l3-3v-1l2-2v-1l3-3v-1l2-2v-1l3-3v-1l2-2v-1l3-3v-1l2-2v-1l2.4-2.4l3.6 4.5l12.3 10.9l4.9 5l4.5 6z"/><path fill="#ccff2b" d="M328.5 32.1l2.3 3.3l1.9 4l1 3l0.6 4v3l-0.6 4l-1.4 4l-1.5 3.1l-2.2 3l-2.9 3l-2.5 2l-4 2.3l-4 1.4l-4 0.7l-3-0.1l-3-1l-1.7-1.3l-0.6-1l-0.1-1l0.4-1.1l2-1.9v-1l2-2v-1l3-3.1v-1l2-2v-1l3-3v-1l2-2v-1l3-3v-1l3-3v-1l2-2v-1l3-3v-1zM219.1 185.8l4.1 5.1l9.4 8.8l4.6 5l4.3 6l2.8 6l1.8 7.1l0.2 7l-0.6 4l-0.8 3l-1.7 3.9l-1.7 3.1l-4 5h-59l-2.7-3.6l1.4-1.4v-1l2-2v-1l3-3v-1l2-2v-1l3-3v-1l3-3v-1l2-2v-1l3-3.1v-1l2-2v-1l3-3v-1l2-2v-1l3-3v-1l2-2v-1l3-3v-1l2-2v-1l3-3v-1l2-2v-1z"/><path fill="#d2ff25" d="M324.8 37.7l1.9 2.7l1.5 3l1 3l0.6 3l0.1 3l-0.4 3l-0.9 3l-1.4 3.1l-2 3l-1.8 2l-2.4 2l-3.8 2.2l-3 1.1l-3 0.6h-3l-3-0.9l-1-0.6l-1.1-1.4l-0.1-1l0.5-1l-0.3-0.1l2-1.9v-1l2-2v-1l3-3.1v-1l2-2v-1l3-3v-1l2-2v-1l3-3v-1l3-3v-1zM218.6 186.3l3.6 4.7l8.7 8.7l3.5 4l3.5 5l2 4l2 6l0.6 6.1l-0.7 6l-1.6 5l-2.2 4l-3.2 4l-3.6 3.3l-4 2.7h-38.3l-2.9-2l-2.8-2.5l-3.7-4.8l2.7-2.7v-1l2-2v-1l3-3v-1l3-3v-1l2-2v-1l3-3.1v-1l2-2v-1l3-3v-1l2-2v-1l3-3v-1l2-2v-1l3-3v-1l2-2v-1l3-3v-1l2-2v-1z"/><path fill="#d9ff1e" d="M321.8 41.8l2.9 4.6l1.1 3l0.5 3l-0.2 5l-1.8 5.1l-2.1 3l-1.9 2l-4.5 3l-2.6 1l-3 0.5l-3-0.1l-2-0.7l-1-0.6l-0.9-1.1l-0.1-1l0.5-1l-0.4-0.1l1.9-1.9v-1l2-2v-1l3-3.1v-1l2-2v-1l3-3v-1l2-2v-1l3-3v-1zM218.1 186.8l3.1 4.2l10.6 11.7l2.8 4l2.1 4l1.8 5l0.7 5l-0.2 5.1l-1.3 5l-2.6 5l-3.9 4.6l-5 3.9l-5 2.5l-6 1.8l-7 0.7l-6-0.4l-6-1.6l-4-1.8l-4-2.6l-3-2.8l-2.6-3.7l1.6-1.6v-1l3-3v-1l3-3v-1l2-2v-1l3-3.1v-1l2-2v-1l3-3v-1l2-2v-1l3-3v-1l2-2v-1l3-3v-1l2-2v-1l3-3v-1l2-2v-1z"/><path fill="#dfff18" d="M319.4 45.2l2.7 4.2l0.8 2l0.6 3l0.1 3l-0.4 2.1l-1.4 4l-3.1 4l-2.6 2l-1.9 1l-2 0.7l-3 0.5l-2-0.1l-2-0.6l-1.7-1.5l-0.2-1l0.5-1l-0.5-0.1l1.9-1.9v-1l2-2v-1l3-3.1v-1l2-2v-1l3-3v-1l2-2v-1zM217.5 187.4l2.7 3.7l9.3 10.6l2.7 4l2.1 4l1.3 4l0.8 5l-0.3 5.1l-1.1 4l-2.6 5l-3.2 3.8l-4 3.2l-5 2.7l-6 1.8l-6 0.6l-6-0.6l-5-1.3l-4-1.9l-3-2l-3-2.9l-2.2-3.2l2.2-2.2v-1l3-3v-1l2-2v-1l3-3.1v-1l2-2v-1l3-3v-1l2-2v-1l3-3v-1l2-2v-1l3-3v-1l2-2v-1l3-3v-1l2-2v-1z"/><path fill="#e5ff11" d="M317.2 47.6l2.6 3.8l1.3 4l0.2 3l-0.2 2.1l-1.5 4l-1.4 2l-2.1 2l-3.3 2l-3.6 0.9l-2-0.1l-2-0.6l-1.5-1.2l-0.3-1l0.6-1l-0.7-0.2l1.9-1.8v-1l2-2v-1l3-3.1v-1l2-2v-1l3-3v-1l2-2zM217.2 188.3l10.8 13.4l2.5 4l1.5 3l1.5 5l0.5 4l-0.3 4l-1.1 4.1l-2.4 4.4l-3.1 3.6l-3.9 3l-5 2.5l-5 1.4l-5 0.5l-5-0.4l-5-1.3l-4-1.9l-3-2.1l-3.4-3.7l-0.6-1v-1l3-3v-1l2-2v-1l3-3.1v-1l2-2v-1l3-3v-1l2-2v-1l3-3v-1l2-2v-1l3-3v-1l2-2v-1l3-3v-1l2-2z"/><path fill="#ecff0b" d="M315.6 50l2.4 3.4l1.3 4l-0.1 4.1l-1 3l-2.2 3l-1.8 1.5l-2 1.2l-2 0.6l-2 0.3l-3-0.6l-1-0.7l-0.7-1.3l0.6-1l-0.8-0.2l1.9-1.8v-1l2-2v-1l3-3.1v-1l2-2v-1l3-3v-1zM216.8 189.1l9.8 12.6l2.4 4l1.3 3l1.1 4l0.4 4l-0.4 4l-0.9 3.1l-2.1 4l-3.2 3.7l-4 2.9l-4 1.9l-5 1.4l-5 0.3l-5-0.5l-4-1.2l-3-1.5l-2.8-2l-2.2-2.2l-1.5-2.3l1.5-1.5v-1l2-2v-1l3-3.1v-1l2-2v-1l3-3v-1l2-2v-1l3-3v-1l2-2v-1l3-3v-1l2-2v-1l3-3v-1z"/><path fill="#f2fb04" d="M314.5 52.1l2.1 3.3l1 3v4.1l-1.2 3l-2.5 3l-2.7 1.6l-3 0.7l-3-0.5l-1-0.7l-0.6-1.1l0.6-1l-0.8-0.2l1.8-1.8v-1l2-2v-1l3-3.1v-1l2-2v-1zM216.2 189.7l8.3 11l2.5 4l1.3 3l1.2 4l0.4 3l-0.3 4l-0.8 3l-2 4.1l-2.5 3l-3.1 2.5l-4 2.2l-4 1.3l-5 0.6l-5-0.4l-4-1.1l-3-1.4l-3-2.2l-2.3-2.5l-0.7-1.1v-0.9l2-2v-1l3-3.1v-1l2-2v-1l3-3v-1l2-2v-1l3-3v-1l2-2v-1l3-3v-1l2-2v-1l3-3v-1z"/><path fill="#f9f300" d="M313.1 53.5l2.1 2.9l1 3.1l0.1 3l-0.9 3l-1.4 2l-2.8 2.2l-3 0.8l-3-0.4l-1-0.8l-0.4-0.8l0.4-1l-0.8-0.2l1.8-1.8v-1l2-2v-1l3-3.1v-1l2-2v-1zM215.7 190.3l8.2 11.4l3 6l1 4l0.2 3l-0.3 3l-0.9 3l-1.5 3.1l-2.3 3l-2.9 2.4l-4 2.2l-4 1.2l-5 0.5l-4-0.4l-4-1.1l-3-1.6l-2-1.5l-1.7-1.7l-1.3-2l1-1v-1l3-3.1v-1l2-2v-1l3-3v-1l2-2v-1l3-3v-1l2-2v-1l3-3v-1l2-2v-1l3-3v-1z"/><path fill="#ffec00" d="M312.2 55l1.7 2.4l1.1 3.1l0.1 3l-0.6 2l-1.3 2l-2.5 2l-2.5 0.8l-3-0.3l-1.3-1.5l0.3-1l-0.8-0.3l1.8-1.7v-1l2-2v-1l3-3.1v-1l2-2zM215.2 191.1l6.9 9.6l3.1 6l0.8 3l0.5 4l-0.3 3l-0.9 3l-1.6 3.1l-2.5 3l-3 2.2l-4 1.9l-4 1l-4 0.2l-4-0.5l-3-1l-3-1.7l-2-1.7l-1.7-2.4l-0.3-1l3-3.1v-1l2-2v-1l3-3v-1l2-2v-1l3-3v-1l2-2v-1l3-3v-1l2-2v-1l3-3z"/><path fill="#ffe500" d="M311.3 56.3l1.7 2.1l0.8 2.1l0.3 3l-0.4 2l-1.2 2l-2.6 2l-2.7 0.7l-2-0.4l-1.2-1.3l0.3-1l-0.9-0.3l1.8-1.7v-1l2-2v-1l3-3.1v-1zM214.8 192.1l6.1 8.6l3 6l0.8 3l0.3 3l-0.3 3l-0.8 3l-1.6 3l-2.1 2.5l-3 2.3l-3 1.5l-3 0.9l-4 0.5l-4-0.3l-3-0.9l-2-0.9l-2.2-1.5l-1.8-1.9l-1.2-1.9l2.2-2.3v-1l2-2v-1l3-3v-1l2-2v-1l3-3v-1l2-2v-1l3-3v-1l2-2v-1z"/><path fill="#ffdd00" d="M310.4 57.2l1.8 2.2l0.8 2.1l0.2 2l-0.3 2l-1.1 2l-1 1l-1.6 1l-2 0.5l-2-0.4l-1.1-1.1l0.1-1.2l-0.7-0.1l1.7-1.7v-1l2-2v-1l3-3.1v-1zM214.2 192.7l5.6 8l2.9 6l0.7 3l0.2 3l-0.4 3l-0.6 2l-1.6 3l-1.8 2.2l-3 2.3l-3 1.5l-3 0.9l-4 0.3l-3-0.3l-3-0.9l-2-1l-2-1.5l-2.3-3.1l1.3-1.4v-1l2-2v-1l3-3v-1l2-2v-1l3-3v-1l2-2v-1l3-3v-1l2-2v-1z"/><path fill="#ffd600" d="M310.1 58.5l1.5 2l0.7 2l0.1 2l-0.6 2l-1.6 2l-1 0.7l-2 0.6l-2-0.3l-1-1v-1.2l-0.7-0.2l1.7-1.6v-1l2-2v-1zM213.6 193.3l5.1 7.4l2.8 6l0.8 5l-0.3 3l-0.8 2.6l-1.3 2.4l-2.7 3l-2 1.4l-3 1.4l-3 0.8l-3 0.3l-3-0.3l-3-0.9l-3-1.8l-1.7-1.9l-0.9-1.3l0.6-0.7v-1l2-2v-1l3-3v-1l2-2v-1l3-3v-1l2-2v-1l3-3v-1l2-2v-1z"/><path fill="#ffce00" d="M309.4 59.2l1.1 1.3l1 2l0.2 2l-0.4 2l-1.6 2l-1.5 0.8l-2 0.3l-1-0.2l-0.9-0.9l-0.1-1.2l-0.7-0.2l1.7-1.6v-1l2-2v-1zM213 193.9l4.6 6.8l1.6 3l1.2 3l0.7 5l-0.4 3l-0.7 2l-1.1 2l-1.7 2.2l-2.3 1.9l-2.7 1.4l-3 0.9l-3 0.3l-3-0.3l-3-0.9l-2-1.2l-1.5-1.3l-1.4-2l-0.1-1l2-2v-1l3-3v-1l2-2v-1l3-3v-1l2-2v-1l3-3v-1l2-2v-1z"/><path fill="#ffc700" d="M308.8 59.8l1.4 1.7l0.8 2l-0.2 3l-1.6 2l-2 0.9l-2-0.1l-0.8-0.8l-0.2-1.3l-0.7-0.1l1.7-1.6v-1l2-2v-1zM212.4 194.5l4.2 6.2l2.4 5l1 5l-0.3 3l-0.6 2l-1 2l-1.5 2l-2.4 2l-2 1.2l-3 1l-3 0.4l-3-0.3l-2-0.5l-3.1-1.8l-1.9-2l-0.6-1.3l1.6-1.7v-1l3-3v-1l2-2v-1l3-3v-1l2-2v-1l3-3v-1l2-2z"/><path fill="#ffc000" d="M308.2 60.4l1 1.1l1.1 2l0.2 2l-0.7 2l-1.6 1.4l-1 0.3h-2l-0.7-0.7l-0.3-1.3l-0.6-0.1l1.6-1.6v-1l2-2v-1zM212.2 195.7l3.9 6l2.2 5l0.5 3l0.1 2l-1 4l-1.2 2l-1.7 2l-1.8 1.4l-3 1.5l-2 0.5l-3 0.2l-3-0.4l-2-0.8l-3-2.3l-1.1-1.9l1.1-1.2v-1l3-3v-1l2-2v-1l3-3v-1l2-2v-1l3-3v-1z"/><path fill="#ffb800" d="M307.7 60.9l2 2.6l0.3 1l-0.1 2l-0.5 1l-1.2 1.1l-2 0.7l-1-0.2l-0.6-0.6l-0.4-1.3l-0.6-0.2l1.6-1.5v-1l2-2v-1zM211.6 196.4l3.5 5.3l2.2 5l0.5 3v2l-1.1 4l-1.3 2l-2 2l-2.2 1.4l-2 0.8l-2 0.4l-3 0.1l-4-1.1l-2-1.4l-1.6-2.5l0.6-0.7v-1l3-3v-1l2-2v-1l3-3v-1l2-2v-1l3-3v-1z"/><path fill="#ffb100" d="M307.3 61.4l1.9 2.2l0.4 1.9l-0.1 1l-0.5 1l-0.9 1l-1.9 0.7l-1-0.2l-0.6-0.5l-0.4-1.4l-0.6-0.1l1.6-1.5v-1l2-2zM211 197l3.7 5.7l1.7 4l0.5 4l-0.8 4l-1.9 3l-2 1.8l-2 1.1l-2 0.7l-3 0.4l-4-0.7l-2-1.1l-1.2-1.2l-1-1.7l0.2-0.3v-1l3-3v-1l2-2v-1l3-3v-1l2-2v-1l3-3v-1z"/><path fill="#ffaa00" d="M307.2 62l1 1l0.8 1.5l0.1 2l-0.4 1l-0.9 1l-1.6 0.6l-1-0.2l-1-1.8l-0.6-0.1l1.6-1.5v-1l2-2zM210.4 197.6l3.4 5.1l1.7 4l0.5 4l-0.3 2l-0.7 2l-2.1 3l-1.7 1.4l-2 1l-4 0.9l-4-0.7l-2-1.1l-1-1l-0.8-1.5l-0.2-1l3-3v-1l2-2v-1l3-3v-1l2-2v-1l3-3z"/><path fill="#ffa200" d="M307 62.6l1.5 1.9l0.3 2l-0.4 1l-1 1l-1.2 0.4l-1-0.1l-1-1.7l-0.5-0.1l1.5-1.5v-1zM210.2 198.7l2.7 4l1.7 4l0.5 4l-0.6 3l-1.8 3l-1.5 1.4l-2 1.2l-4 1l-2-0.1l-2-0.5l-1.6-1l-1.1-1l-1-2.3l2.7-2.7v-1l2-2v-1l3-3v-1l2-2v-1z"/><path fill="#ff9b00" d="M306.7 62.9l1.4 1.6l0.4 2l-0.3 1l-1.1 1l-0.9 0.3h-1l-1-1.8l-0.5-0.1l1.5-1.4v-1zM209.6 199.3l2.6 3.9l1.5 3.5l0.6 4l-0.7 3l-1.9 3l-1.5 1.3l-2 1l-2 0.6l-2 0.1l-3-0.6l-2.1-1.4l-0.8-1l-0.4-1.6l2.3-2.4v-1l2-2v-1l3-3v-1l2-2v-1z"/><path fill="#ff9300" d="M306.4 63.2l1.2 1.3l0.6 2l-0.3 1l-1 1l-1.7 0.2l-1-1.7l-0.5-0.1l1.5-1.4v-1zM209 199.9l2.6 3.8l1.3 3l0.6 4l-0.7 3l-2.1 3l-2.5 1.7l-2 0.6l-2 0.2l-3-0.6l-1-0.5l-1.4-1.4l-0.6-1.9l2-2.1v-1l2-2v-1l3-3v-1l2-2v-1z"/><path fill="#ff8c00" d="M306.1 63.5l1.1 1l0.8 2l-0.3 1l-1.1 1l-1.4 0.1l-1-1.6l-0.5-0.1l1.5-1.4v-1zM208.5 200.4l2.7 4.2l1.2 3.1l0.4 3l-0.8 3l-1.8 2.6l-3 1.9l-3 0.5l-3-0.5l-2-1.5l-0.6-1l-0.1-1.2l1.7-1.8v-1l2-2v-1l3-3v-1l2-2v-1z"/><path fill="#ff8500" d="M305.9 63.8l1.3 1.2l0.5 1.5l-0.2 1l-1.3 1h-1l-1-1.6h-0.4l1.4-1.4v-1zM208 201l2.5 3.7l1.2 3l0.3 3l-0.7 3l-1.4 2l-2.7 1.9l-3 0.7l-3-0.5l-2-1.6l-0.5-1.5v-0.5l1.5-1.5v-1l2-2v-1l3-3v-1l2-2v-1z"/><path fill="#ff7d00" d="M305.6 64l1.6 1.5l0.3 1l-0.2 1l-1.1 0.9h-1l-1-1.5l-0.4-0.1l1.4-1.3v-1zM207.4 201.5l2.3 3.2l1.3 3l0.4 3l-0.4 2l-1.8 2.9l-2 1.5l-3 0.8l-3-0.5l-2-1.7l-0.3-1l0.1-0.8l1.2-1.2v-1l2-2v-1l3-3v-1l2-2z"/><path fill="#ff7600" d="M305.4 64.2l1.5 1.3l0.4 1l-0.2 1l-0.9 0.8l-1 0.1l-1-1.5l-0.4-0.1l1.4-1.3zM207.2 202.4l2 2.9l1.1 2.4l0.4 3l-0.3 2l-1.2 2.1l-2.4 1.9l-2.6 0.8l-3-0.4l-1.7-1.4l-0.4-1l0.1-1l1-1v-1l2-2v-1l3-3v-1l2-2z"/><path fill="#ff6f00" d="M305.2 64.5l1 0.6l0.9 1.4l-0.1 1l-0.8 0.7l-1 0.2l-1-1.6h-0.3l1.3-1.3zM206.9 203.1l1.8 2.6l0.9 2l0.5 3l-0.3 2l-1.1 2l-2.5 1.9l-3 0.6l-2-0.5l-1.3-1l-0.6-1v-1l0.9-1v-1l2-2v-1l3-3v-1z"/><path fill="#ff6700" d="M305.2 64.7l1 0.7l0.7 1.1v1l-0.7 0.6l-1 0.2l-1.3-1.5l1.3-1.3zM206.4 203.5l1.8 2.6l1.1 2.6l0.3 2l-0.4 2l-1.2 2l-1.8 1.4l-3 0.8l-2-0.4l-1-0.8l-0.7-1l-0.2-1l0.9-1v-1l2-2v-1l3-3v-1z"/><path fill="#ff6000" d="M305.2 65l1.5 1.5l0.1 1l-0.6 0.5l-1 0.3l-1.3-1.6l1.3-1.2zM206 204l1.9 2.7l0.8 2l0.3 2l-0.3 2l-1.3 2l-2.2 1.5l-2 0.4l-2-0.4l-1-0.7l-0.5-0.8l-0.1-1l-0.3-0.1l0.9-0.9v-1l2-2v-1l3-3v-1z"/><path fill="#ff5800" d="M305.2 65.2l1.3 1.3l0.2 1l-1.5 0.8l-1.3-1.6zM205.5 204.4l1.7 2.3l1 2l0.3 2l-0.3 2l-1.3 2l-1.7 1.2l-2 0.5l-2-0.4l-1-0.7l-0.5-1.6l-0.3-0.1l0.8-0.9v-1l2-2v-1l3-3v-1z"/><path fill="#ff5100" d="M305.2 65.5l1 0.7l0.3 1.3l-1.3 0.7l-1.2-1.5zM205.2 205l1.4 1.7l1 2l0.4 2l-0.3 2l-1.3 2l-1.2 0.8l-2 0.6h-1l-2-1.1l-0.3-1.3l-0.5-0.1l0.8-0.9v-1l2-2v-1l3-3z"/><path fill="#ff4a00" d="M304 66.7l1.2-1.1l1 0.9l0.2 1l-1.2 0.7zM205.2 205.8l1.4 1.9l0.8 2l0.1 2l-0.7 2l-1.6 1.5l-2 0.7l-2-0.3l-1-0.9l-0.2-1l-0.6-0.1l0.8-0.9v-1l2-2v-1z"/><path fill="#ff4200" d="M304 66.6l1.2-0.8l0.8 0.7l0.3 1l-1.1 0.7zM204.8 206.1l1.2 1.6l0.9 2l0.2 2l-0.2 1l-1.5 2l-1.2 0.7l-2 0.3l-1-0.3l-0.8-0.7l-0.3-1l-0.7-0.2l0.8-0.8v-1l2-2v-1z"/><path fill="#ff3b00" d="M304 66.6l0.8-0.8l1 0.7l0.4 1l-1 0.6zM204.5 206.5l2 3.2l0.2 2l-0.7 2l-1.8 1.4l-2 0.4l-1-0.2l-0.6-0.6l-0.4-1l-0.7-0.2l0.7-0.8v-1l2-2v-1z"/><path fill="#ff3400" d="M304.1 66.6l0.6-0.7l0.5 0.2l0.9 1.4l-0.9 0.6zM204.1 206.8l1.9 2.9l0.3 2l-0.2 1l-0.5 1l-1.4 1.2l-2 0.5l-1-0.3l-0.9-1.4l-0.8-0.2l0.7-0.8v-1l2-2v-1z"/><path fill="#ff2c00" d="M304.1 66.5l0.5-0.4l0.6 0.1l0.9 1.3l-0.9 0.6zM203.8 207.1l1.8 2.6l0.4 2l-0.2 1l-0.6 1l-1.1 1l-1.9 0.5l-1-0.2l-0.9-1.3l-0.8-0.3l0.7-0.7v-1l2-2v-1z"/><path fill="#ff2500" d="M304.1 66.5l0.3-0.3l0.8 0.2l0.8 1.1l-0.8 0.5zM203.5 207.5l1.7 2.2l0.4 2l-0.7 2l-1.3 1l-1.4 0.4l-1-0.3l-0.8-1.1l-0.8-0.3l0.6-0.7v-1l2-2v-1z"/><path fill="#ff1d00" d="M305.2 66.5l0.8 1l-0.8 0.5l-0.4-0.5zM203.2 207.8l1.6 1.9l0.5 2l-0.6 2l-1.5 1l-1 0.2l-1-0.2l-0.8-1l-0.8-0.3l0.6-0.7v-1l2-2v-1z"/><path fill="#ff1600" d="M305.2 66.6l0.7 0.9l-0.7 0.5l-0.3-0.5zM202.9 208l1.3 1.5l0.7 1.2v2l-0.5 1l-1.2 0.9h-2l-0.7-0.9l-0.9-0.3l0.6-0.7v-1l2-2v-1z"/><path fill="#fa0f00" d="M305.2 66.6l0.7 0.9l-0.7 0.4l-0.3-0.4zM202.7 208.3l1.8 2.4l0.2 2l-0.6 1l-0.9 0.7l-2 0.2l-0.7-0.9l-0.9-0.4l0.6-0.6v-1l2-2v-1z"/><path fill="#f10700" d="M305.2 66.7l0.6 0.8l-0.6 0.4l-0.3-0.4zM202.4 208.6l1.8 2.1l0.2 2l-0.5 1l-1.7 0.9l-1-0.1l-0.6-0.8l-0.9-0.4l0.5-0.6v-1l2-2z"/><path fill="#e80000" d="M305.2 66.8l0.6 0.7l-0.6 0.4l-0.3-0.4zM202.2 208.9l1.7 1.8l0.3 2l-1 1.4l-1 0.4l-1-0.1l-0.6-0.7l-0.9-0.4l0.5-0.6v-1l2-2z"/><path fill="#df0000" d="M305.2 66.8l0.5 0.7l-0.5 0.3l-0.3-0.3zM202.2 209.2l1.4 1.5l0.4 2l-0.8 1.2l-1 0.5h-1l-1.5-1.2l0.5-0.5v-1l2-2z"/><path fill="#d60000" d="M305.2 66.9l0.5 0.6l-0.5 0.3l-0.2-0.3zM202.2 209.6l1.1 1.1l0.5 1v1l-0.6 1l-1 0.6h-1l-1.4-1.1l0.4-0.5v-1z"/><path fill="#cc0000" d="M305.2 66.9l0.4 0.6l-0.4 0.3zM202.1 209.8l1.1 1.3l0.4 1.6l-0.5 1l-0.9 0.5l-1 0.1l-1.4-1.1l0.4-0.5v-1z"/><path fill="#c30000" d="M201.9 210l1.3 1.5l0.3 1.2l-0.6 1l-0.7 0.4l-1 0.1l-1.4-1l0.4-0.5v-1z"/><path fill="#ba0000" d="M201.8 210.2l1.3 1.5l0.2 1l-0.5 1l-1.6 0.4l-1.4-1l0.4-0.4v-1z"/><path fill="#b10000" d="M201.6 210.3l1.3 1.4l0.2 1l-0.5 1l-1.4 0.4l-1.3-1l0.3-0.4v-1z"/><path fill="#a80000" d="M201.5 210.5l1.2 1.2l0.3 1l-0.5 1l-1.3 0.3l-1.3-0.9l0.3-0.4v-1z"/><path fill="#9f0000" d="M201.3 210.7l0.9 0.6l0.7 1.4l-0.6 1l-1.1 0.2l-1.3-0.9l0.3-0.3v-1z"/><path fill="#960000" d="M201.1 210.8l1.1 0.8l0.6 1.1l-0.7 1l-0.9 0.2l-1.2-0.9l0.2-0.3v-1z"/><path fill="#8d0000" d="M201 210.9l1.2 0.9l0.5 0.9l-0.5 0.8l-1 0.3l-1.2-0.8l0.2-1.3z"/><path fill="#840000" d="M200 213l0.2-1.3l0.7-0.6l1 0.6l0.7 1l-0.4 0.6l-1 0.5z"/></g>
<g stroke="#fff" fill="none">
<path stroke-width="1.15" stroke-opacity="1" d="M175.3 249.8L331.1 31.4"/>
<path stroke-width="1.1" stroke-opacity="0.9" d="M73.3 104.2H279.2M73.3 213.4H201.3M305.1 67.8H433.1M227.2 177H433.1"/>
</g>
<rect x="73.3" y="31.4" width="359.8" height="218.4" fill="none" stroke="#000" stroke-width="1.3"/>
<path stroke="#000" stroke-width="1.2" fill="none" d="M73.3 249.8v6.2M95.8 249.8v3.4M118.3 249.8v3.4M140.8 249.8v3.4M163.2 249.8v6.2M185.7 249.8v3.4M208.2 249.8v3.4M230.7 249.8v3.4M253.2 249.8v6.2M275.7 249.8v3.4M298.2 249.8v3.4M320.7 249.8v3.4M343.2 249.8v6.2M365.6 249.8v3.4M388.1 249.8v3.4M410.6 249.8v3.4M433.1 249.8v6.2M73.3 249.8h-7.2M73.3 242.5h-3.4M73.3 235.2h-3.4M73.3 228h-3.4M73.3 220.7h-3.4M73.3 213.4h-7.2M73.3 206.1h-3.4M73.3 198.8h-3.4M73.3 191.6h-3.4M73.3 184.3h-3.4M73.3 177h-7.2M73.3 169.7h-3.4M73.3 162.4h-3.4M73.3 155.2h-3.4M73.3 147.9h-3.4M73.3 140.6h-7.2M73.3 133.3h-3.4M73.3 126h-3.4M73.3 118.8h-3.4M73.3 111.5h-3.4M73.3 104.2h-7.2M73.3 96.9h-3.4M73.3 89.6h-3.4M73.3 82.4h-3.4M73.3 75.1h-3.4M73.3 67.8h-7.2M73.3 60.5h-3.4M73.3 53.2h-3.4M73.3 46h-3.4M73.3 38.7h-3.4M73.3 31.4h-7.2"/>
<rect x="441.7" y="31.4" width="13.9" height="218.4" fill="url(#jet)" stroke="#000" stroke-width="1.3"/>
<path stroke="#000" stroke-width="1.2" fill="none" d="M455.6 245.2h6.2M455.6 222.2h6.2M455.6 199.2h6.2M455.6 176.2h6.2M455.6 153.2h6.2M455.6 130.3h6.2M455.6 107.3h6.2M455.6 84.3h6.2M455.6 61.3h6.2M455.6 38.3h6.2"/>
</g>
<g id="p3"><clipPath id="bL"><path d="M79 317.4H331.6L178.9 541.4H79z"/></clipPath><clipPath id="bR"><path d="M431.5 317.4H331.6L178.9 541.4H431.5z"/></clipPath><g clip-path="url(#bL)"><rect x="78" y="316.4" width="354.5" height="226" fill="#000084"/><path fill="#00008d" d="M79 541.4v-224h254.4v1l-3 3v1l-2 2v1l-2 2v1l-2.1 2v1l-2 2v1l-2 2v1l-2 2v1l-2 2v1l-3 3v1l-2 2v1l-2 2v1l-2 2v1l-2 2v1l-2 2v1l-2 2v1l-2 2v1l-3 3v1l-2 2v1l-2 2v1l-2 2v1l-2 2v1l-2 2v1l-2 2v1l-2.8 2.8l-0.2-1.2l-1-0.2l-0.9 0.6l0.2 1l1.5 1.2l-1.8 1.8v1l-2 2v1l-2 2v1l-2 2v1l-2 2v1l-2 2v1l-2 2v1l-3 3v1l-2 2v1l-2 2v1l-2 2v1l-2 2v1l-2.1 2v1l-2 2v1l-2 2v1l-3 3v1l-2 2v1l-2 2v1l-2 2v1l-2 2v1l-2 2v1l-2 2v1l-2 2v1l-3 3v1l-2 2v1l-2 2v1l-2 2v1l-2 2v1l-2 2v1l-2 2v1l-3 3v1l-2 2v1l-2 2v1l-2 2v1l-2 2v1l-2 2v1l-2 2v1l-2 2v1l-3 3v1l-2 2v1l-2 2v1l-2 2v1l-2 2v1l-2 2v1l-2 2v1l-2.1 2v1l-3 3v1z"/><path fill="#000096" d="M79 541.4v-224h254.4v1l-3 3v1l-2 2v1l-2 2v1l-2.1 2v1l-2 2v1l-2 2v1l-2 2v1l-2 2v1l-3 3v1l-2 2v1l-2 2v1l-2 2v1l-2 2v1l-2 2v1l-2 2v1l-2 2v1l-3 3v1l-2 2v1l-2 2v1l-2 2v1l-2 2v1l-2 2v1l-2 2v1l-2.8 2.7l-0.2-1.1l-1-0.3l-1 0.7l0.1 1l1.5 1.4l-1.6 1.6v1l-2 2v1l-2 2v1l-2 2v1l-2 2v1l-2 2v1l-2 2v1l-3 3v1l-2 2v1l-2 2v1l-2 2v1l-2 2v1l-2.1 2v1l-2 2v1l-2 2v1l-3 3v1l-2 2v1l-2 2v1l-2 2v1l-2 2v1l-2 2v1l-2 2v1l-2 2v1l-3 3v1l-2 2v1l-2 2v1l-2 2v1l-2 2v1l-2 2v1l-2 2v1l-3 3v1l-2 2v1l-2 2v1l-2 2v1l-2 2v1l-2 2v1l-2 2v1l-2 2v1l-3 3v1l-2 2v1l-2 2v1l-2 2v1l-2 2v1l-2 2v1l-2 2v1l-2.1 2v1l-3 3v1z"/><path fill="#00009f" d="M79 541.4v-224h254.4v1l-3 3v1l-2 2v1l-2 2v1l-2.1 2v1l-2 2v1l-2 2v1l-2 2v1l-2 2v1l-3 3v1l-2 2v1l-2 2v1l-2 2v1l-2 2v1l-2 2v1l-2 2v1l-2 2v1l-3 3v1l-2 2v1l-2 2v1l-2 2v1l-2 2v1l-2 2v1l-2 2v1l-2.7 2.7l-0.3-1.2l-1-0.3l-1.2 0.8l0.2 1.2l1.4 1.4l-1.4 1.4v1l-2 2v1l-2 2v1l-2 2v1l-2 2v1l-2 2v1l-2 2v1l-3 3v1l-2 2v1l-2 2v1l-2 2v1l-2 2v1l-2.1 2v1l-2 2v1l-2 2v1l-3 3v1l-2 2v1l-2 2v1l-2 2v1l-2 2v1l-2 2v1l-2 2v1l-2 2v1l-3 3v1l-2 2v1l-2 2v1l-2 2v1l-2 2v1l-2 2v1l-2 2v1l-3 3v1l-2 2v1l-2 2v1l-2 2v1l-2 2v1l-2 2v1l-2 2v1l-2 2v1l-3 3v1l-2 2v1l-2 2v1l-2 2v1l-2 2v1l-2 2v1l-2 2v1l-2.1 2v1l-3 3v1z"/><path fill="#0000a8" d="M79 541.4v-224h254.4v1l-3 3v1l-2 2v1l-2 2v1l-2.1 2v1l-2 2v1l-2 2v1l-2 2v1l-2 2v1l-3 3v1l-2 2v1l-2 2v1l-2 2v1l-2 2v1l-2 2v1l-2 2v1l-2 2v1l-3 3v1l-2 2v1l-2 2v1l-2 2v1l-2 2v1l-2 2v1l-2 2v1l-2.7 2.7l-0.3-1.2l-1-0.4l-1.3 0.9l0.3 1.6l1.2 1.1l-1.2 1.3v1l-2 2v1l-2 2v1l-2 2v1l-2 2v1l-2 2v1l-2 2v1l-3 3v1l-2 2v1l-2 2v1l-2 2v1l-2 2v1l-2.1 2v1l-2 2v1l-2 2v1l-3 3v1l-2 2v1l-2 2v1l-2 2v1l-2 2v1l-2 2v1l-2 2v1l-2 2v1l-3 3v1l-2 2v1l-2 2v1l-2 2v1l-2 2v1l-2 2v1l-2 2v1l-3 3v1l-2 2v1l-2 2v1l-2 2v1l-2 2v1l-2 2v1l-2 2v1l-2 2v1l-3 3v1l-2 2v1l-2 2v1l-2 2v1l-2 2v1l-2 2v1l-2 2v1l-2.1 2v1l-3 3v1z"/><path fill="#0000b1" d="M79 541.4v-224h254.4v1l-3 3v1l-2 2v1l-2 2v1l-2.1 2v1l-2 2v1l-2 2v1l-2 2v1l-2 2v1l-3 3v1l-2 2v1l-2 2v1l-2 2v1l-2 2v1l-2 2v1l-2 2v1l-2 2v1l-3 3v1l-2 2v1l-2 2v1l-2 2v1l-2 2v1l-2 2v1l-2 2v1l-2.7 2.6l-0.3-1.2l-1-0.4l-1.5 1v1l0.5 1l1.1 0.9l-1.1 1.1v1l-2 2v1l-2 2v1l-2 2v1l-2 2v1l-2 2v1l-2 2v1l-3 3v1l-2 2v1l-2 2v1l-2 2v1l-2 2v1l-2.1 2v1l-2 2v1l-2 2v1l-3 3v1l-2 2v1l-2 2v1l-2 2v1l-2 2v1l-2 2v1l-2 2v1l-2 2v1l-3 3v1l-2 2v1l-2 2v1l-2 2v1l-2 2v1l-2 2v1l-2 2v1l-3 3v1l-2 2v1l-2 2v1l-2 2v1l-2 2v1l-2 2v1l-2 2v1l-2 2v1l-3 3v1l-2 2v1l-2 2v1l-2 2v1l-2 2v1l-2 2v1l-2 2v1l-2.1 2v1l-3 3v1z"/><path fill="#0000ba" d="M79 541.4v-224h254.4v1l-3 3v1l-2 2v1l-2 2v1l-2.1 2v1l-2 2v1l-2 2v1l-2 2v1l-2 2v1l-3 3v1l-2 2v1l-2 2v1l-2 2v1l-2 2v1l-2 2v1l-2 2v1l-2 2v1l-3 3v1l-2 2v1l-2 2v1l-2 2v1l-2 2v1l-2 2v1l-2 2v1l-2.6 2.6l-0.4-1.2l-1-0.5l-1 0.4l-0.7 0.7v1l0.4 1l1.1 1.2l-0.8 0.8v1l-2 2v1l-2 2v1l-2 2v1l-2 2v1l-2 2v1l-2 2v1l-3 3v1l-2 2v1l-2 2v1l-2 2v1l-2 2v1l-2.1 2v1l-2 2v1l-2 2v1l-3 3v1l-2 2v1l-2 2v1l-2 2v1l-2 2v1l-2 2v1l-2 2v1l-2 2v1l-3 3v1l-2 2v1l-2 2v1l-2 2v1l-2 2v1l-2 2v1l-2 2v1l-3 3v1l-2 2v1l-2 2v1l-2 2v1l-2 2v1l-2 2v1l-2 2v1l-2 2v1l-3 3v1l-2 2v1l-2 2v1l-2 2v1l-2 2v1l-2 2v1l-2 2v1l-2.1 2v1l-3 3v1z"/><path fill="#0000c3" d="M79 541.4v-224h254.4v1l-3 3v1l-2 2v1l-2 2v1l-2.1 2v1l-2 2v1l-2 2v1l-2 2v1l-2 2v1l-3 3v1l-2 2v1l-2 2v1l-2 2v1l-2 2v1l-2 2v1l-2 2v1l-2 2v1l-3 3v1l-2 2v1l-2 2v1l-2 2v1l-2 2v1l-2 2v1l-2 2v1l-2.6 2.6l-0.4-1.3l-1-0.5l-1 0.3l-0.8 0.9l-0.1 1l0.3 1l1.2 1.4l-0.6 0.6v1l-2 2v1l-2 2v1l-2 2v1l-2 2v1l-2 2v1l-2 2v1l-3 3v1l-2 2v1l-2 2v1l-2 2v1l-2 2v1l-2.1 2v1l-2 2v1l-2 2v1l-3 3v1l-2 2v1l-2 2v1l-2 2v1l-2 2v1l-2 2v1l-2 2v1l-2 2v1l-3 3v1l-2 2v1l-2 2v1l-2 2v1l-2 2v1l-2 2v1l-2 2v1l-3 3v1l-2 2v1l-2 2v1l-2 2v1l-2 2v1l-2 2v1l-2 2v1l-2 2v1l-3 3v1l-2 2v1l-2 2v1l-2 2v1l-2 2v1l-2 2v1l-2 2v1l-2.1 2v1l-3 3v1z"/><path fill="#0000cc" d="M79 541.4v-224h254.4v1l-3 3v1l-2 2v1l-2 2v1l-2.1 2v1l-2 2v1l-2 2v1l-2 2v1l-2 2v1l-3 3v1l-2 2v1l-2 2v1l-2 2v1l-2 2v1l-2 2v1l-2 2v1l-2 2v1l-3 3v1l-2 2v1l-2 2v1l-2 2v1l-2 2v1l-2 2v1l-2 2v1l-2.6 2.6l-0.4-1.3l-1-0.6l-1.1 0.3l-0.9 1l-0.2 1l0.3 1l1.2 1.6l-0.3 0.4v1l-2 2v1l-2 2v1l-2 2v1l-2 2v1l-2 2v1l-2 2v1l-3 3v1l-2 2v1l-2 2v1l-2 2v1l-2 2v1l-2.1 2v1l-2 2v1l-2 2v1l-3 3v1l-2 2v1l-2 2v1l-2 2v1l-2 2v1l-2 2v1l-2 2v1l-2 2v1l-3 3v1l-2 2v1l-2 2v1l-2 2v1l-2 2v1l-2 2v1l-2 2v1l-3 3v1l-2 2v1l-2 2v1l-2 2v1l-2 2v1l-2 2v1l-2 2v1l-2 2v1l-3 3v1l-2 2v1l-2 2v1l-2 2v1l-2 2v1l-2 2v1l-2 2v1l-2.1 2v1l-3 3v1z"/><path fill="#0000d6" d="M79 541.4v-224h254.4v1l-3 3v1l-2 2v1l-2 2v1l-2.1 2v1l-2 2v1l-2 2v1l-2 2v1l-2 2v1l-3 3v1l-2 2v1l-2 2v1l-2 2v1l-2 2v1l-2 2v1l-2 2v1l-2 2v1l-3 3v1l-2 2v1l-2 2v1l-2 2v1l-2 2v1l-2 2v1l-2 2v1l-2.5 2.5l-0.5-1.3l-1-0.6l-1.4 0.4l-0.8 1l-0.2 1l0.2 1l1.3 1.9l-0.1 1.1l-2 2v1l-2 2v1l-2 2v1l-2 2v1l-2 2v1l-2 2v1l-3 3v1l-2 2v1l-2 2v1l-2 2v1l-2 2v1l-2.1 2v1l-2 2v1l-2 2v1l-3 3v1l-2 2v1l-2 2v1l-2 2v1l-2 2v1l-2 2v1l-2 2v1l-2 2v1l-3 3v1l-2 2v1l-2 2v1l-2 2v1l-2 2v1l-2 2v1l-2 2v1l-3 3v1l-2 2v1l-2 2v1l-2 2v1l-2 2v1l-2 2v1l-2 2v1l-2 2v1l-3 3v1l-2 2v1l-2 2v1l-2 2v1l-2 2v1l-2 2v1l-2 2v1l-2.1 2v1l-3 3v1z"/><path fill="#0000df" d="M79 541.4v-224h254.4v1l-3 3v1l-2 2v1l-2 2v1l-2.1 2v1l-2 2v1l-2 2v1l-2 2v1l-2 2v1l-3 3v1l-2 2v1l-2 2v1l-2 2v1l-2 2v1l-2 2v1l-2 2v1l-2 2v1l-3 3v1l-2 2v1l-2 2v1l-2 2v1l-2 2v1l-2 2v1l-2 2v1l-2.5 2.5l-0.5-1.4l-1-0.6l-1.6 0.5l-0.9 1l-0.1 2l1.6 2.3v0.7l-2 2v1l-2 2v1l-2 2v1l-2 2v1l-2 2v1l-2 2v1l-3 3v1l-2 2v1l-2 2v1l-2 2v1l-2 2v1l-2.1 2v1l-2 2v1l-2 2v1l-3 3v1l-2 2v1l-2 2v1l-2 2v1l-2 2v1l-2 2v1l-2 2v1l-2 2v1l-3 3v1l-2 2v1l-2 2v1l-2 2v1l-2 2v1l-2 2v1l-2 2v1l-3 3v1l-2 2v1l-2 2v1l-2 2v1l-2 2v1l-2 2v1l-2 2v1l-2 2v1l-3 3v1l-2 2v1l-2 2v1l-2 2v1l-2 2v1l-2 2v1l-2 2v1l-2.1 2v1l-3 3v1z"/><path fill="#0000e8" d="M79 541.4v-224h254.4v1l-3 3v1l-2 2v1l-2 2v1l-2.1 2v1l-2 2v1l-2 2v1l-2 2v1l-2 2v1l-3 3v1l-2 2v1l-2 2v1l-2 2v1l-2 2v1l-2 2v1l-2 2v1l-2 2v1l-3 3v1l-2 2v1l-2 2v1l-2 2v1l-2 2v1l-2 2v1l-2 2v1l-2.5 2.5l-0.5-1.4l-1-0.7l-1.9 0.6l-0.9 1l-0.1 2l0.3 1l1.6 2l-2 2v1l-2 2v1l-2 2v1l-2 2v1l-2 2v1l-2 2v1l-3 3v1l-2 2v1l-2 2v1l-2 2v1l-2 2v1l-2.1 2v1l-2 2v1l-2 2v1l-3 3v1l-2 2v1l-2 2v1l-2 2v1l-2 2v1l-2 2v1l-2 2v1l-2 2v1l-3 3v1l-2 2v1l-2 2v1l-2 2v1l-2 2v1l-2 2v1l-2 2v1l-3 3v1l-2 2v1l-2 2v1l-2 2v1l-2 2v1l-2 2v1l-2 2v1l-2 2v1l-3 3v1l-2 2v1l-2 2v1l-2 2v1l-2 2v1l-2 2v1l-2 2v1l-2.1 2v1l-3 3v1z"/><path fill="#0000f1" d="M79 541.4v-224h254.4v1l-3 3v1l-2 2v1l-2 2v1l-2.1 2v1l-2 2v1l-2 2v1l-2 2v1l-2 2v1l-3 3v1l-2 2v1l-2 2v1l-2 2v1l-2 2v1l-2 2v1l-2 2v1l-2 2v1l-3 3v1l-2 2v1l-2 2v1l-2 2v1l-2 2v1l-2 2v1l-2 2v1l-2.4 2.4l-0.6-1.4l-1-0.7l-2 0.5l-1 1.2l-0.3 1l0.3 1.9l1.7 2.4l-1.7 1.7v1l-2 2v1l-2 2v1l-2 2v1l-2 2v1l-2 2v1l-3 3v1l-2 2v1l-2 2v1l-2 2v1l-2 2v1l-2.1 2v1l-2 2v1l-2 2v1l-3 3v1l-2 2v1l-2 2v1l-2 2v1l-2 2v1l-2 2v1l-2 2v1l-2 2v1l-3 3v1l-2 2v1l-2 2v1l-2 2v1l-2 2v1l-2 2v1l-2 2v1l-3 3v1l-2 2v1l-2 2v1l-2 2v1l-2 2v1l-2 2v1l-2 2v1l-2 2v1l-3 3v1l-2 2v1l-2 2v1l-2 2v1l-2 2v1l-2 2v1l-2 2v1l-2.1 2v1l-3 3v1z"/><path fill="#0000fa" d="M79 541.4v-224h254.4v1l-3 3v1l-2 2v1l-2 2v1l-2.1 2v1l-2 2v1l-2 2v1l-2 2v1l-2 2v1l-3 3v1l-2 2v1l-2 2v1l-2 2v1l-2 2v1l-2 2v1l-2 2v1l-2 2v1l-3 3v1l-2 2v1l-2 2v1l-2 2v1l-2 2v1l-2 2v1l-2 2v1l-2.4 2.4l-0.6-1.4l-1-0.8l-2 0.4l-1.4 1.4l-0.3 1l0.2 2l1.8 2.6l-1.3 1.4v1l-2 2v1l-2 2v1l-2 2v1l-2 2v1l-2 2v1l-3 3v1l-2 2v1l-2 2v1l-2 2v1l-2 2v1l-2.1 2v1l-2 2v1l-2 2v1l-3 3v1l-2 2v1l-2 2v1l-2 2v1l-2 2v1l-2 2v1l-2 2v1l-2 2v1l-3 3v1l-2 2v1l-2 2v1l-2 2v1l-2 2v1l-2 2v1l-2 2v1l-3 3v1l-2 2v1l-2 2v1l-2 2v1l-2 2v1l-2 2v1l-2 2v1l-2 2v1l-3 3v1l-2 2v1l-2 2v1l-2 2v1l-2 2v1l-2 2v1l-2 2v1l-2.1 2v1l-3 3v1z"/><path fill="#0000ff" d="M79 541.4v-224h254.4v1l-3 3v1l-2 2v1l-2 2v1l-2.1 2v1l-2 2v1l-2 2v1l-2 2v1l-2 2v1l-3 3v1l-2 2v1l-2 2v1l-2 2v1l-2 2v1l-2 2v1l-2 2v1l-2 2v1l-3 3v1l-2 2v1l-2 2v1l-2 2v1l-2 2v1l-2 2v1l-2 2v1l-2.4 2.4l-0.6-1.6l-1-0.7l-2 0.3l-1.7 1.6l-0.3 1l0.1 2l0.9 1.9l1 1.1l-1 1v1l-2 2v1l-2 2v1l-2 2v1l-2 2v1l-2 2v1l-3 3v1l-2 2v1l-2 2v1l-2 2v1l-2 2v1l-2.1 2v1l-2 2v1l-2 2v1l-3 3v1l-2 2v1l-2 2v1l-2 2v1l-2 2v1l-2 2v1l-2 2v1l-2 2v1l-3 3v1l-2 2v1l-2 2v1l-2 2v1l-2 2v1l-2 2v1l-2 2v1l-3 3v1l-2 2v1l-2 2v1l-2 2v1l-2 2v1l-2 2v1l-2 2v1l-2 2v1l-3 3v1l-2 2v1l-2 2v1l-2 2v1l-2 2v1l-2 2v1l-2 2v1l-2.1 2v1l-3 3v1z"/><path fill="#0000ff" d="M79 541.4v-224h254.4v1l-3 3v1l-2 2v1l-2 2v1l-2.1 2v1l-2 2v1l-2 2v1l-2 2v1l-2 2v1l-3 3v1l-2 2v1l-2 2v1l-2 2v1l-2 2v1l-2 2v1l-2 2v1l-2 2v1l-3 3v1l-2 2v1l-2 2v1l-2 2v1l-2 2v1l-2 2v1l-2 2v1l-2.3 2.3l-0.7-1.7l-1-0.6l-1-0.1l-2 0.8l-1.1 1.3l-0.4 1l0.1 2l0.8 2l1.1 1.5l-0.5 0.5v1l-2 2v1l-2 2v1l-2 2v1l-2 2v1l-2 2v1l-3 3v1l-2 2v1l-2 2v1l-2 2v1l-2 2v1l-2.1 2v1l-2 2v1l-2 2v1l-3 3v1l-2 2v1l-2 2v1l-2 2v1l-2 2v1l-2 2v1l-2 2v1l-2 2v1l-3 3v1l-2 2v1l-2 2v1l-2 2v1l-2 2v1l-2 2v1l-2 2v1l-3 3v1l-2 2v1l-2 2v1l-2 2v1l-2 2v1l-2 2v1l-2 2v1l-2 2v1l-3 3v1l-2 2v1l-2 2v1l-2 2v1l-2 2v1l-2 2v1l-2 2v1l-2.1 2v1l-3 3v1z"/><path fill="#0004ff" d="M79 541.4v-224h254.4v1l-3 3v1l-2 2v1l-2 2v1l-2.1 2v1l-2 2v1l-2 2v1l-2 2v1l-2 2v1l-3 3v1l-2 2v1l-2 2v1l-2 2v1l-2 2v1l-2 2v1l-2 2v1l-2 2v1l-3 3v1l-2 2v1l-2 2v1l-2 2v1l-2 2v1l-2 2v1l-2 2v1l-2.3 2.3l-0.7-1.9l-1-0.6l-1-0.1l-2 0.7l-1.5 1.6l-0.4 1l-0.1 2l0.7 2l1.4 1.9l-0.1 1.1l-2 2v1l-2 2v1l-2 2v1l-2 2v1l-2 2v1l-3 3v1l-2 2v1l-2 2v1l-2 2v1l-2 2v1l-2.1 2v1l-2 2v1l-2 2v1l-3 3v1l-2 2v1l-2 2v1l-2 2v1l-2 2v1l-2 2v1l-2 2v1l-2 2v1l-3 3v1l-2 2v1l-2 2v1l-2 2v1l-2 2v1l-2 2v1l-2 2v1l-3 3v1l-2 2v1l-2 2v1l-2 2v1l-2 2v1l-2 2v1l-2 2v1l-2 2v1l-3 3v1l-2 2v1l-2 2v1l-2 2v1l-2 2v1l-2 2v1l-2 2v1l-2.1 2v1l-3 3v1z"/><path fill="#000cff" d="M79 541.4v-224h254.4v1l-3 3v1l-2 2v1l-2 2v1l-2.1 2v1l-2 2v1l-2 2v1l-2 2v1l-2 2v1l-3 3v1l-2 2v1l-2 2v1l-2 2v1l-2 2v1l-2 2v1l-2 2v1l-2 2v1l-3 3v1l-2 2v1l-2 2v1l-2 2v1l-2 2v1l-2 2v1l-2 2v1l-2.3 2.3l-0.7-2.1l-1-0.6l-1-0.1l-2 0.5l-1.3 1l-0.7 1l-0.5 2l0.2 2l0.8 2l1.5 2l-2 2v1l-2 2v1l-2 2v1l-2 2v1l-2 2v1l-3 3v1l-2 2v1l-2 2v1l-2 2v1l-2 2v1l-2.1 2v1l-2 2v1l-2 2v1l-3 3v1l-2 2v1l-2 2v1l-2 2v1l-2 2v1l-2 2v1l-2 2v1l-2 2v1l-3 3v1l-2 2v1l-2 2v1l-2 2v1l-2 2v1l-2 2v1l-2 2v1l-3 3v1l-2 2v1l-2 2v1l-2 2v1l-2 2v1l-2 2v1l-2 2v1l-2 2v1l-3 3v1l-2 2v1l-2 2v1l-2 2v1l-2 2v1l-2 2v1l-2 2v1l-2.1 2v1l-3 3v1z"/><path fill="#0014ff" d="M79 541.4v-224h254.4v1l-3 3v1l-2 2v1l-2 2v1l-2.1 2v1l-2 2v1l-2 2v1l-2 2v1l-2 2v1l-3 3v1l-2 2v1l-2 2v1l-2 2v1l-2 2v1l-2 2v1l-2 2v1l-2 2v1l-3 3v1l-2 2v1l-2 2v1l-2 2v1l-2 2v1l-2 2v1l-2 2v1l-2.2 2.2l-0.2-1.2l-0.6-1l-1-0.6h-2l-2 0.9l-1.5 1.7l-0.6 2l0.1 2l0.7 2l1.8 2.5l-1.5 1.5v1l-2 2v1l-2 2v1l-2 2v1l-2 2v1l-3 3v1l-2 2v1l-2 2v1l-2 2v1l-2 2v1l-2.1 2v1l-2 2v1l-2 2v1l-3 3v1l-2 2v1l-2 2v1l-2 2v1l-2 2v1l-2 2v1l-2 2v1l-2 2v1l-3 3v1l-2 2v1l-2 2v1l-2 2v1l-2 2v1l-2 2v1l-2 2v1l-3 3v1l-2 2v1l-2 2v1l-2 2v1l-2 2v1l-2 2v1l-2 2v1l-2 2v1l-3 3v1l-2 2v1l-2 2v1l-2 2v1l-2 2v1l-2 2v1l-2 2v1l-2.1 2v1l-3 3v1z"/><path fill="#001cff" d="M79 541.4v-224h254.4v1l-3 3v1l-2 2v1l-2 2v1l-2.1 2v1l-2 2v1l-2 2v1l-2 2v1l-2 2v1l-3 3v1l-2 2v1l-2 2v1l-2 2v1l-2 2v1l-2 2v1l-2 2v1l-2 2v1l-3 3v1l-2 2v1l-2 2v1l-2 2v1l-2 2v1l-2 2v1l-2 2v1l-2.2 2.2l-0.1-1.2l-0.5-1l-1.2-0.8l-2-0.1l-1 0.3l-2.4 1.6l-1.1 2l-0.2 2l0.6 3l2 3.1l-0.9 0.9v1l-2 2v1l-2 2v1l-2 2v1l-2 2v1l-3 3v1l-2 2v1l-2 2v1l-2 2v1l-2 2v1l-2.1 2v1l-2 2v1l-2 2v1l-3 3v1l-2 2v1l-2 2v1l-2 2v1l-2 2v1l-2 2v1l-2 2v1l-2 2v1l-3 3v1l-2 2v1l-2 2v1l-2 2v1l-2 2v1l-2 2v1l-2 2v1l-3 3v1l-2 2v1l-2 2v1l-2 2v1l-2 2v1l-2 2v1l-2 2v1l-2 2v1l-3 3v1l-2 2v1l-2 2v1l-2 2v1l-2 2v1l-2 2v1l-2 2v1l-2.1 2v1l-3 3v1z"/><path fill="#0024ff" d="M79 541.4v-224h254.4v1l-3 3v1l-2 2v1l-2 2v1l-2.1 2v1l-2 2v1l-2 2v1l-2 2v1l-2 2v1l-3 3v1l-2 2v1l-2 2v1l-2 2v1l-2 2v1l-2 2v1l-2 2v1l-2 2v1l-3 3v1l-2 2v1l-2 2v1l-2 2v1l-2 2v1l-2 2v1l-2 2v1l-2.2 2.2v-1.2l-0.8-1.5l-1-0.5l-2-0.2l-2.9 1.2l-1.7 2l-0.7 2l-0.1 2l0.9 3l1.8 2.7l-0.3 0.3v1l-2 2v1l-2 2v1l-2 2v1l-2 2v1l-3 3v1l-2 2v1l-2 2v1l-2 2v1l-2 2v1l-2.1 2v1l-2 2v1l-2 2v1l-3 3v1l-2 2v1l-2 2v1l-2 2v1l-2 2v1l-2 2v1l-2 2v1l-2 2v1l-3 3v1l-2 2v1l-2 2v1l-2 2v1l-2 2v1l-2 2v1l-2 2v1l-3 3v1l-2 2v1l-2 2v1l-2 2v1l-2 2v1l-2 2v1l-2 2v1l-2 2v1l-3 3v1l-2 2v1l-2 2v1l-2 2v1l-2 2v1l-2 2v1l-2 2v1l-2.1 2v1l-3 3v1z"/><path fill="#002cff" d="M79 541.4v-224h254.4v1l-3 3v1l-2 2v1l-2 2v1l-2.1 2v1l-2 2v1l-2 2v1l-2 2v1l-2 2v1l-3 3v1l-2 2v1l-2 2v1l-2 2v1l-2 2v1l-2 2v1l-2 2v1l-2 2v1l-3 3v1l-2 2v1l-2 2v1l-2 2v1l-2 2v1l-2 2v1l-2 2v1l-2.1 2.1l-0.3-2.1l-0.6-0.7l-1-0.6l-2-0.2l-3 1l-1.6 1.5l-1.4 3v3l1 3l2 3l-2 2v1l-2 2v1l-2 2v1l-2 2v1l-3 3v1l-2 2v1l-2 2v1l-2 2v1l-2 2v1l-2.1 2v1l-2 2v1l-2 2v1l-3 3v1l-2 2v1l-2 2v1l-2 2v1l-2 2v1l-2 2v1l-2 2v1l-2 2v1l-3 3v1l-2 2v1l-2 2v1l-2 2v1l-2 2v1l-2 2v1l-2 2v1l-3 3v1l-2 2v1l-2 2v1l-2 2v1l-2 2v1l-2 2v1l-2 2v1l-2 2v1l-3 3v1l-2 2v1l-2 2v1l-2 2v1l-2 2v1l-2 2v1l-2 2v1l-2.1 2v1l-3 3v1z"/><path fill="#0034ff" d="M79 541.4v-224h254.4v1l-3 3v1l-2 2v1l-2 2v1l-2.1 2v1l-2 2v1l-2 2v1l-2 2v1l-2 2v1l-3 3v1l-2 2v1l-2 2v1l-2 2v1l-2 2v1l-2 2v1l-2 2v1l-2 2v1l-3 3v1l-2 2v1l-2 2v1l-2 2v1l-2 2v1l-2 2v1l-2 2v1l-2.1 2.1l0.2-1.1l-0.2-1l-0.9-1l-1-0.5l-2-0.3l-3 0.8l-2.4 2l-1.1 2l-0.5 3l0.3 2l0.7 2l2.3 3.7l-1.3 1.3v1l-2 2v1l-2 2v1l-2 2v1l-3 3v1l-2 2v1l-2 2v1l-2 2v1l-2 2v1l-2.1 2v1l-2 2v1l-2 2v1l-3 3v1l-2 2v1l-2 2v1l-2 2v1l-2 2v1l-2 2v1l-2 2v1l-2 2v1l-3 3v1l-2 2v1l-2 2v1l-2 2v1l-2 2v1l-2 2v1l-2 2v1l-3 3v1l-2 2v1l-2 2v1l-2 2v1l-2 2v1l-2 2v1l-2 2v1l-2 2v1l-3 3v1l-2 2v1l-2 2v1l-2 2v1l-2 2v1l-2 2v1l-2 2v1l-2.1 2v1l-3 3v1z"/><path fill="#003cff" d="M79 541.4v-224h254.4v1l-3 3v1l-2 2v1l-2 2v1l-2.1 2v1l-2 2v1l-2 2v1l-2 2v1l-2 2v1l-3 3v1l-2 2v1l-2 2v1l-2 2v1l-2 2v1l-2 2v1l-2 2v1l-2 2v1l-3 3v1l-2 2v1l-2 2v1l-2 2v1l-2 2v1l-2 2v1l-2 2v1l-2.1 2.1l0.4-1.1l-0.2-1l-1.1-1.3l-2-0.8h-2l-3 1.1l-2.2 2l-1.4 3l-0.2 3l1.1 4l2.2 3.5l-0.5 0.5v1l-2 2v1l-2 2v1l-2 2v1l-3 3v1l-2 2v1l-2 2v1l-2 2v1l-2 2v1l-2.1 2v1l-2 2v1l-2 2v1l-3 3v1l-2 2v1l-2 2v1l-2 2v1l-2 2v1l-2 2v1l-2 2v1l-2 2v1l-3 3v1l-2 2v1l-2 2v1l-2 2v1l-2 2v1l-2 2v1l-2 2v1l-3 3v1l-2 2v1l-2 2v1l-2 2v1l-2 2v1l-2 2v1l-2 2v1l-2 2v1l-3 3v1l-2 2v1l-2 2v1l-2 2v1l-2 2v1l-2 2v1l-2 2v1l-2.1 2v1l-3 3v1z"/><path fill="#0044ff" d="M79 541.4v-224h254.4v1l-3 3v1l-2 2v1l-2 2v1l-2.1 2v1l-2 2v1l-2 2v1l-2 2v1l-2 2v1l-3 3v1l-2 2v1l-2 2v1l-2 2v1l-2 2v1l-2 2v1l-2 2v1l-2 2v1l-3 3v1l-2 2v1l-2 2v1l-2 2v1l-2 2v1l-2 2v1l-2 2v1l-2 2l0.5-1l-0.1-1l-0.7-1l-1.7-1.2l-3-0.3l-3 0.9l-2 1.4l-1 1.2l-1.5 3l-0.2 4l1.3 4l2.4 4l-2 2v1l-2 2v1l-2 2v1l-3 3v1l-2 2v1l-2 2v1l-2 2v1l-2 2v1l-2.1 2v1l-2 2v1l-2 2v1l-3 3v1l-2 2v1l-2 2v1l-2 2v1l-2 2v1l-2 2v1l-2 2v1l-2 2v1l-3 3v1l-2 2v1l-2 2v1l-2 2v1l-2 2v1l-2 2v1l-2 2v1l-3 3v1l-2 2v1l-2 2v1l-2 2v1l-2 2v1l-2 2v1l-2 2v1l-2 2v1l-3 3v1l-2 2v1l-2 2v1l-2 2v1l-2 2v1l-2 2v1l-2 2v1l-2.1 2v1l-3 3v1z"/><path fill="#004cff" d="M79 541.4v-224h254.4v1l-3 3v1l-2 2v1l-2 2v1l-2.1 2v1l-2 2v1l-2 2v1l-2 2v1l-2 2v1l-3 3v1l-2 2v1l-2 2v1l-2 2v1l-2 2v1l-2 2v1l-2 2v1l-2 2v1l-3 3v1l-2 2v1l-2 2v1l-2 2v1l-2 2v1l-2 2v1l-2 2v1l-2 2l0.6-1v-1l-0.6-1.2l-2-1.4l-3-0.4l-2 0.4l-2 0.9l-3 2.7l-1.4 3l-0.3 4l1 4l2.9 4.8l-1.2 1.2v1l-2 2v1l-2 2v1l-3 3v1l-2 2v1l-2 2v1l-2 2v1l-2 2v1l-2.1 2v1l-2 2v1l-2 2v1l-3 3v1l-2 2v1l-2 2v1l-2 2v1l-2 2v1l-2 2v1l-2 2v1l-2 2v1l-3 3v1l-2 2v1l-2 2v1l-2 2v1l-2 2v1l-2 2v1l-2 2v1l-3 3v1l-2 2v1l-2 2v1l-2 2v1l-2 2v1l-2 2v1l-2 2v1l-2 2v1l-3 3v1l-2 2v1l-2 2v1l-2 2v1l-2 2v1l-2 2v1l-2 2v1l-2.1 2v1l-3 3v1z"/><path fill="#0054ff" d="M79 541.4v-224h254.4v1l-3 3v1l-2 2v1l-2 2v1l-2.1 2v1l-2 2v1l-2 2v1l-2 2v1l-2 2v1l-3 3v1l-2 2v1l-2 2v1l-2 2v1l-2 2v1l-2 2v1l-2 2v1l-2 2v1l-3 3v1l-2 2v1l-2 2v1l-2 2v1l-2 2v1l-2 2v1l-2 2v1l-1.4 1.4l0.3-1.4l-0.4-1l-0.9-1l-1.6-1l-3-0.5l-2.7 0.5l-2.2 1l-1.3 1l-1.8 2l-1.1 2l-0.6 2l-0.1 4l1.1 4l2.9 4.8l-0.2 1.2l-2 2v1l-2 2v1l-3 3v1l-2 2v1l-2 2v1l-2 2v1l-2 2v1l-2.1 2v1l-2 2v1l-2 2v1l-3 3v1l-2 2v1l-2 2v1l-2 2v1l-2 2v1l-2 2v1l-2 2v1l-2 2v1l-3 3v1l-2 2v1l-2 2v1l-2 2v1l-2 2v1l-2 2v1l-2 2v1l-3 3v1l-2 2v1l-2 2v1l-2 2v1l-2 2v1l-2 2v1l-2 2v1l-2 2v1l-3 3v1l-2 2v1l-2 2v1l-2 2v1l-2 2v1l-2 2v1l-2 2v1l-2.1 2v1l-3 3v1z"/><path fill="#005cff" d="M79 541.4v-224h254.4v1l-3 3v1l-2 2v1l-2 2v1l-2.1 2v1l-2 2v1l-2 2v1l-2 2v1l-2 2v1l-3 3v1l-2 2v1l-2 2v1l-2 2v1l-2 2v1l-2 2v1l-2 2v1l-2 2v1l-3 3v1l-2 2v1l-2 2v1l-2 2v1l-2 2v1l-2 2v1l-2 2v1l-0.9 0.9l-0.1-1.4l-0.9-1.5l-2.1-1.5l-2-0.4h-2l-3 0.7l-2 1.1l-1.5 1.1l-1.6 2l-1.1 2l-0.6 2l-0.3 2l0.2 3l1.6 5l2.8 4.4l-1.5 1.6v1l-2 2v1l-3 3v1l-2 2v1l-2 2v1l-2 2v1l-2 2v1l-2.1 2v1l-2 2v1l-2 2v1l-3 3v1l-2 2v1l-2 2v1l-2 2v1l-2 2v1l-2 2v1l-2 2v1l-2 2v1l-3 3v1l-2 2v1l-2 2v1l-2 2v1l-2 2v1l-2 2v1l-2 2v1l-3 3v1l-2 2v1l-2 2v1l-2 2v1l-2 2v1l-2 2v1l-2 2v1l-2 2v1l-3 3v1l-2 2v1l-2 2v1l-2 2v1l-2 2v1l-2 2v1l-2 2v1l-2.1 2v1l-3 3v1z"/><path fill="#0064ff" d="M79 541.4v-224h254.4v1l-3 3v1l-2 2v1l-2 2v1l-2.1 2v1l-2 2v1l-2 2v1l-2 2v1l-2 2v1l-3 3v1l-2 2v1l-2 2v1l-2 2v1l-2 2v1l-2 2v1l-2 2v1l-2 2v1l-3 3v1l-2 2v1l-2 2v1l-2 2v1l-2 2v1l-2 2v1l-2 2v1l-0.6 0.6l-0.4-2.1l-2-2l-2-0.8l-3-0.3l-2.9 0.6l-2.3 1l-2.6 2l-1.6 2l-1.6 4l-0.3 2v3l1.4 5l1.5 3l1.8 2.6l-0.4 0.4v1l-2 2v1l-3 3v1l-2 2v1l-2 2v1l-2 2v1l-2 2v1l-2.1 2v1l-2 2v1l-2 2v1l-3 3v1l-2 2v1l-2 2v1l-2 2v1l-2 2v1l-2 2v1l-2 2v1l-2 2v1l-3 3v1l-2 2v1l-2 2v1l-2 2v1l-2 2v1l-2 2v1l-2 2v1l-3 3v1l-2 2v1l-2 2v1l-2 2v1l-2 2v1l-2 2v1l-2 2v1l-2 2v1l-3 3v1l-2 2v1l-2 2v1l-2 2v1l-2 2v1l-2 2v1l-2 2v1l-2.1 2v1l-3 3v1z"/><path fill="#006cff" d="M79 541.4v-224h254.4v1l-3 3v1l-2 2v1l-2 2v1l-2.1 2v1l-2 2v1l-2 2v1l-2 2v1l-2 2v1l-3 3v1l-2 2v1l-2 2v1l-2 2v1l-2 2v1l-2 2v1l-2 2v1l-2 2v1l-3 3v1l-2 2v1l-2 2v1l-2 2v1l-2 2v1l-2 2v1l-2 2v1l-0.2 0.2l-0.2-1.2l-0.6-1.3l-2-1.7l-2-0.9l-3-0.3l-3 0.4l-3 1.3l-3 2.4l-1.7 2.1l-1 2l-0.9 3v5l0.7 3l1.2 3l3.3 5.4l-1.6 1.6v1l-3 3v1l-2 2v1l-2 2v1l-2 2v1l-2 2v1l-2.1 2v1l-2 2v1l-2 2v1l-3 3v1l-2 2v1l-2 2v1l-2 2v1l-2 2v1l-2 2v1l-2 2v1l-2 2v1l-3 3v1l-2 2v1l-2 2v1l-2 2v1l-2 2v1l-2 2v1l-2 2v1l-3 3v1l-2 2v1l-2 2v1l-2 2v1l-2 2v1l-2 2v1l-2 2v1l-2 2v1l-3 3v1l-2 2v1l-2 2v1l-2 2v1l-2 2v1l-2 2v1l-2 2v1l-2.1 2v1l-3 3v1z"/><path fill="#0074ff" d="M79 541.4v-224h254.4v1l-3 3v1l-2 2v1l-2 2v1l-2.1 2v1l-2 2v1l-2 2v1l-2 2v1l-2 2v1l-3 3v1l-2 2v1l-2 2v1l-2 2v1l-2 2v1l-2 2v1l-2 2v1l-2 2v1l-3 3v1l-2 2v1l-2 2v1l-2 2v1l-2 2v1l-2 2v1l-2 2l-1-2l-2-1.7l-3-1l-4-0.1l-3 0.8l-2.1 1l-2.6 2l-1.8 2l-1.2 2l-1.1 3l-0.4 3v3l0.6 3l1 3l1.6 3.1l2.3 3.6l-0.3 0.3v1l-3 3v1l-2 2v1l-2 2v1l-2 2v1l-2 2v1l-2.1 2v1l-2 2v1l-2 2v1l-3 3v1l-2 2v1l-2 2v1l-2 2v1l-2 2v1l-2 2v1l-2 2v1l-2 2v1l-3 3v1l-2 2v1l-2 2v1l-2 2v1l-2 2v1l-2 2v1l-2 2v1l-3 3v1l-2 2v1l-2 2v1l-2 2v1l-2 2v1l-2 2v1l-2 2v1l-2 2v1l-3 3v1l-2 2v1l-2 2v1l-2 2v1l-2 2v1l-2 2v1l-2 2v1l-2.1 2v1l-3 3v1z"/><path fill="#007cff" d="M79 541.4v-224h254.4v1l-3 3v1l-2 2v1l-2 2v1l-2.1 2v1l-2 2v1l-2 2v1l-2 2v1l-2 2v1l-3 3v1l-2 2v1l-2 2v1l-2 2v1l-2 2v1l-2 2v1l-2 2v1l-2 2v1l-3 3v1l-2 2v1l-2 2v1l-2 2v1l-2 2v1l-2 2v1l-1.6 1.6l-1.4-2.5l-2-1.5l-3-1.1l-4-0.1l-3 0.6l-3 1.4l-3 2.2l-2 2.4l-1.6 3l-0.9 3l-0.4 3l0.2 3l0.9 4l1.1 3l1.7 3.1l2.3 3.5l-2.3 2.4v1l-2 2v1l-2 2v1l-2 2v1l-2 2v1l-2.1 2v1l-2 2v1l-2 2v1l-3 3v1l-2 2v1l-2 2v1l-2 2v1l-2 2v1l-2 2v1l-2 2v1l-2 2v1l-3 3v1l-2 2v1l-2 2v1l-2 2v1l-2 2v1l-2 2v1l-2 2v1l-3 3v1l-2 2v1l-2 2v1l-2 2v1l-2 2v1l-2 2v1l-2 2v1l-2 2v1l-3 3v1l-2 2v1l-2 2v1l-2 2v1l-2 2v1l-2 2v1l-2 2v1l-2.1 2v1l-3 3v1z"/><path fill="#0083ff" d="M79 541.4v-224h254.4v1l-3 3v1l-2 2v1l-2 2v1l-2.1 2v1l-2 2v1l-2 2v1l-2 2v1l-2 2v1l-3 3v1l-2 2v1l-2 2v1l-2 2v1l-2 2v1l-2 2v1l-2 2v1l-2 2v1l-3 3v1l-2 2v1l-2 2v1l-2 2v1l-2 2v1l-2 2v1l-1.2 1.2l-0.8-1.7l-1-1.2l-2-1.5l-2-0.8l-3-0.5l-3 0.1l-3 0.7l-3.7 1.7l-2.5 2l-2.5 3l-1.6 3l-0.9 3l-0.4 3l0.1 3l0.8 4l1 3l1.9 4l2.7 4.1l-0.9 0.9v1l-2 2v1l-2 2v1l-2 2v1l-2 2v1l-2.1 2v1l-2 2v1l-2 2v1l-3 3v1l-2 2v1l-2 2v1l-2 2v1l-2 2v1l-2 2v1l-2 2v1l-2 2v1l-3 3v1l-2 2v1l-2 2v1l-2 2v1l-2 2v1l-2 2v1l-2 2v1l-3 3v1l-2 2v1l-2 2v1l-2 2v1l-2 2v1l-2 2v1l-2 2v1l-2 2v1l-3 3v1l-2 2v1l-2 2v1l-2 2v1l-2 2v1l-2 2v1l-2 2v1l-2.1 2v1l-3 3v1z"/><path fill="#008bff" d="M79 541.4v-224h254.4v1l-3 3v1l-2 2v1l-2 2v1l-2.1 2v1l-2 2v1l-2 2v1l-2 2v1l-2 2v1l-3 3v1l-2 2v1l-2 2v1l-2 2v1l-2 2v1l-2 2v1l-2 2v1l-2 2v1l-3 3v1l-2 2v1l-2 2v1l-2 2v1l-2 2v1l-2 2v1l-0.7 0.7l-1.6-2.7l-2.7-2l-3-1.1l-4-0.4l-4 0.6l-4 1.7l-3.2 2.2l-2.7 3l-1.7 3l-1.1 3l-0.7 4l0.1 4l0.8 4l1.5 4l2 4l2.8 4.2l-1.8 1.8v1l-2 2v1l-2 2v1l-2 2v1l-2.1 2v1l-2 2v1l-2 2v1l-3 3v1l-2 2v1l-2 2v1l-2 2v1l-2 2v1l-2 2v1l-2 2v1l-2 2v1l-3 3v1l-2 2v1l-2 2v1l-2 2v1l-2 2v1l-2 2v1l-2 2v1l-3 3v1l-2 2v1l-2 2v1l-2 2v1l-2 2v1l-2 2v1l-2 2v1l-2 2v1l-3 3v1l-2 2v1l-2 2v1l-2 2v1l-2 2v1l-2 2v1l-2 2v1l-2.1 2v1l-3 3v1z"/><path fill="#0093ff" d="M79 541.4v-224h254.4v1l-3 3v1l-2 2v1l-2 2v1l-2.1 2v1l-2 2v1l-2 2v1l-2 2v1l-2 2v1l-3 3v1l-2 2v1l-2 2v1l-2 2v1l-2 2v1l-2 2v1l-2 2v1l-2 2v1l-3 3v1l-2 2v1l-2 2v1l-2 2v1l-2 2v1l-2 2l-0.2 1.2l-1.8-2.9l-3-2.3l-4-1.3l-4-0.2l-4 0.6l-4.4 1.9l-3.6 2.7l-2.9 3.3l-1.7 3l-1.3 4l-0.5 4l0.2 4l0.6 3l1.3 4l2.4 5l3 4.8l-0.1 1.2l-2 2v1l-2 2v1l-2 2v1l-2.1 2v1l-2 2v1l-2 2v1l-3 3v1l-2 2v1l-2 2v1l-2 2v1l-2 2v1l-2 2v1l-2 2v1l-2 2v1l-3 3v1l-2 2v1l-2 2v1l-2 2v1l-2 2v1l-2 2v1l-2 2v1l-3 3v1l-2 2v1l-2 2v1l-2 2v1l-2 2v1l-2 2v1l-2 2v1l-2 2v1l-3 3v1l-2 2v1l-2 2v1l-2 2v1l-2 2v1l-2 2v1l-2 2v1l-2.1 2v1l-3 3v1z"/><path fill="#009bff" d="M79 541.4v-224h254.4v1l-3 3v1l-2 2v1l-2 2v1l-2.1 2v1l-2 2v1l-2 2v1l-2 2v1l-2 2v1l-3 3v1l-2 2v1l-2 2v1l-2 2v1l-2 2v1l-2 2v1l-2 2v1l-2 2v1l-3 3v1l-2 2v1l-2 2v1l-2 2v1l-2 2v1l-2 2l-2-2.9l-3-2.1l-4-1.4l-5-0.3l-5 1.1l-3.7 1.6l-4.1 3l-2.6 3l-1.8 3l-1.5 4l-0.7 4v4l0.8 5l1.7 5l2.5 5l3.3 5.1l-0.9 0.9v1l-2 2v1l-2 2v1l-2.1 2v1l-2 2v1l-2 2v1l-3 3v1l-2 2v1l-2 2v1l-2 2v1l-2 2v1l-2 2v1l-2 2v1l-2 2v1l-3 3v1l-2 2v1l-2 2v1l-2 2v1l-2 2v1l-2 2v1l-2 2v1l-3 3v1l-2 2v1l-2 2v1l-2 2v1l-2 2v1l-2 2v1l-2 2v1l-2 2v1l-3 3v1l-2 2v1l-2 2v1l-2 2v1l-2 2v1l-2 2v1l-2 2v1l-2.1 2v1l-3 3v1z"/><path fill="#00a3ff" d="M79 541.4v-224h254.4v1l-3 3v1l-2 2v1l-2 2v1l-2.1 2v1l-2 2v1l-2 2v1l-2 2v1l-2 2v1l-3 3v1l-2 2v1l-2 2v1l-2 2v1l-2 2v1l-2 2v1l-2 2v1l-2 2v1l-3 3v1l-2 2v1l-2 2v1l-2 2v1l-2 2v1l-1.3 1.3l-2.4-3.3l-3.3-2.2l-5-1.6l-5-0.1l-5 1l-4.2 1.9l-4.1 3l-3.4 4l-2.2 4l-1.2 4l-0.5 4l0.1 5l1.1 5l1.8 5l2.5 5l3.6 5.5l-1.5 1.5v1l-2 2v1l-2.1 2v1l-2 2v1l-2 2v1l-3 3v1l-2 2v1l-2 2v1l-2 2v1l-2 2v1l-2 2v1l-2 2v1l-2 2v1l-3 3v1l-2 2v1l-2 2v1l-2 2v1l-2 2v1l-2 2v1l-2 2v1l-3 3v1l-2 2v1l-2 2v1l-2 2v1l-2 2v1l-2 2v1l-2 2v1l-2 2v1l-3 3v1l-2 2v1l-2 2v1l-2 2v1l-2 2v1l-2 2v1l-2 2v1l-2.1 2v1l-3 3v1z"/><path fill="#00abff" d="M79 541.4v-224h254.4v1l-3 3v1l-2 2v1l-2 2v1l-2.1 2v1l-2 2v1l-2 2v1l-2 2v1l-2 2v1l-3 3v1l-2 2v1l-2 2v1l-2 2v1l-2 2v1l-2 2v1l-2 2v1l-2 2v1l-3 3v1l-2 2v1l-2 2v1l-2 2v1l-2 2v1l-0.6 0.6l-2.4-3.4l-2-1.6l-2-1.2l-5-1.5l-5-0.3l-5 0.8l-5 2l-5 3.5l-3.6 4.1l-2.3 4l-1.6 5l-0.5 5l0.3 5l1 5l1.8 5l2.5 5l4.4 7l-2 2v1l-2.1 2v1l-2 2v1l-2 2v1l-3 3v1l-2 2v1l-2 2v1l-2 2v1l-2 2v1l-2 2v1l-2 2v1l-2 2v1l-3 3v1l-2 2v1l-2 2v1l-2 2v1l-2 2v1l-2 2v1l-2 2v1l-3 3v1l-2 2v1l-2 2v1l-2 2v1l-2 2v1l-2 2v1l-2 2v1l-2 2v1l-3 3v1l-2 2v1l-2 2v1l-2 2v1l-2 2v1l-2 2v1l-2 2v1l-2.1 2v1l-3 3v1z"/><path fill="#00b3ff" d="M79 541.4v-224h254.4v1l-3 3v1l-2 2v1l-2 2v1l-2.1 2v1l-2 2v1l-2 2v1l-2 2v1l-2 2v1l-3 3v1l-2 2v1l-2 2v1l-2 2v1l-2 2v1l-2 2v1l-2 2v1l-2 2v1l-3 3v1l-2 2v1l-2 2v1l-2 2v1l-2 2v0.7l-1-1.8l-2-2.3l-4-2.6l-5-1.7l-6-0.3l-6 1.1l-5 2.2l-5.1 3.6l-3.6 4.1l-2.3 4l-1.8 5l-0.7 5l0.2 6l1 5l1.7 5l3.4 7l4.3 6.8l-0.1 1.2l-2.1 2v1l-2 2v1l-2 2v1l-3 3v1l-2 2v1l-2 2v1l-2 2v1l-2 2v1l-2 2v1l-2 2v1l-2 2v1l-3 3v1l-2 2v1l-2 2v1l-2 2v1l-2 2v1l-2 2v1l-2 2v1l-3 3v1l-2 2v1l-2 2v1l-2 2v1l-2 2v1l-2 2v1l-2 2v1l-2 2v1l-3 3v1l-2 2v1l-2 2v1l-2 2v1l-2 2v1l-2 2v1l-2 2v1l-2.1 2v1l-3 3v1z"/><path fill="#00bbff" d="M79 541.4v-224h254.4v1l-3 3v1l-2 2v1l-2 2v1l-2.1 2v1l-2 2v1l-2 2v1l-2 2v1l-2 2v1l-3 3v1l-2 2v1l-2 2v1l-2 2v1l-2 2v1l-2 2v1l-2 2v1l-2 2v1l-3 3v1l-2 2v1l-2 2v1l-2 2v1l-1.3 1.3l-2.7-3.6l-2-1.7l-3-1.7l-3-1.1l-3-0.7l-6-0.2l-6 1.1l-6.2 2.6l-5.3 4l-4.2 5l-2.5 5l-1.5 5l-0.5 5l0.3 6l1.1 5l1.7 5l3.3 7l5.4 8.4l-0.7 0.6v1l-2 2v1l-2 2v1l-3 3v1l-2 2v1l-2 2v1l-2 2v1l-2 2v1l-2 2v1l-2 2v1l-2 2v1l-3 3v1l-2 2v1l-2 2v1l-2 2v1l-2 2v1l-2 2v1l-2 2v1l-3 3v1l-2 2v1l-2 2v1l-2 2v1l-2 2v1l-2 2v1l-2 2v1l-2 2v1l-3 3v1l-2 2v1l-2 2v1l-2 2v1l-2 2v1l-2 2v1l-2 2v1l-2.1 2v1l-3 3v1z"/><path fill="#00c3ff" d="M79 541.4v-224h254.4v1l-3 3v1l-2 2v1l-2 2v1l-2.1 2v1l-2 2v1l-2 2v1l-2 2v1l-2 2v1l-3 3v1l-2 2v1l-2 2v1l-2 2v1l-2 2v1l-2 2v1l-2 2v1l-2 2v1l-3 3v1l-2 2v1l-2 2v1l-2 2v1l-0.4 0.4l-1.6-2.6l-2-2.1l-2-1.6l-3-1.6l-6-1.9l-3-0.3h-4l-3 0.4l-4 1l-6.1 2.6l-5 3.7l-4.5 5l-2.8 5l-1.9 6l-0.7 6l0.3 6l1.3 6l2.6 7l3.6 7l5.1 8l-1 1v1l-2 2v1l-3 3v1l-2 2v1l-2 2v1l-2 2v1l-2 2v1l-2 2v1l-2 2v1l-2 2v1l-3 3v1l-2 2v1l-2 2v1l-2 2v1l-2 2v1l-2 2v1l-2 2v1l-3 3v1l-2 2v1l-2 2v1l-2 2v1l-2 2v1l-2 2v1l-2 2v1l-2 2v1l-3 3v1l-2 2v1l-2 2v1l-2 2v1l-2 2v1l-2 2v1l-2 2v1l-2.1 2v1l-3 3v1z"/><path fill="#00cbff" d="M79 541.4v-224h254.4v1l-3 3v1l-2 2v1l-2 2v1l-2.1 2v1l-2 2v1l-2 2v1l-2 2v1l-2 2v1l-3 3v1l-2 2v1l-2 2v1l-2 2v1l-2 2v1l-2 2v1l-2 2v1l-2 2v1l-3 3v1l-2 2v1l-2 2v1l-1.6 1.6l-1.8-2.6l-1.9-2l-2.7-2l-3-1.6l-3-1.1l-4-0.9l-7-0.3l-7 1.3l-4 1.5l-3.1 1.6l-3 1.9l-3 2.5l-4.3 5.1l-3.2 6l-1.8 6l-0.7 6l0.5 7l1.7 7l2.8 7l3.7 7l5.6 8.7l-1.3 1.3v1l-3 3v1l-2 2v1l-2 2v1l-2 2v1l-2 2v1l-2 2v1l-2 2v1l-2 2v1l-3 3v1l-2 2v1l-2 2v1l-2 2v1l-2 2v1l-2 2v1l-2 2v1l-3 3v1l-2 2v1l-2 2v1l-2 2v1l-2 2v1l-2 2v1l-2 2v1l-2 2v1l-3 3v1l-2 2v1l-2 2v1l-2 2v1l-2 2v1l-2 2v1l-2 2v1l-2.1 2v1l-3 3v1z"/><path fill="#00d3ff" d="M79 541.4v-224h254.4v1l-3 3v1l-2 2v1l-2 2v1l-2.1 2v1l-2 2v1l-2 2v1l-2 2v1l-2 2v1l-3 3v1l-2 2v1l-2 2v1l-2 2v1l-2 2v1l-2 2v1l-2 2v1l-2 2v1l-3 3v1l-2 2v1l-2 2v1l-0.4 0.4l-1.6-2.6l-2-2.2l-3-2.4l-3-1.7l-4-1.6l-4-0.9l-4-0.4l-4 0.1l-4 0.5l-4 1l-4.1 1.6l-3 1.5l-3 1.9l-3.4 2.8l-2.8 3l-2.3 3l-3.1 6l-2 7l-0.5 7l0.7 7l1.8 7l3.3 8l4.3 7.9l5.6 8.5l-2.6 2.6v1l-2 2v1l-2 2v1l-2 2v1l-2 2v1l-2 2v1l-2 2v1l-2 2v1l-3 3v1l-2 2v1l-2 2v1l-2 2v1l-2 2v1l-2 2v1l-2 2v1l-3 3v1l-2 2v1l-2 2v1l-2 2v1l-2 2v1l-2 2v1l-2 2v1l-2 2v1l-3 3v1l-2 2v1l-2 2v1l-2 2v1l-2 2v1l-2 2v1l-2 2v1l-2.1 2v1l-3 3v1z"/><path fill="#00dbff" d="M79 541.4v-224h254.4v1l-3 3v1l-2 2v1l-2 2v1l-2.1 2v1l-2 2v1l-2 2v1l-2 2v1l-2 2v1l-3 3v1l-2 2v1l-2 2v1l-2 2v1l-2 2v1l-2 2v1l-2 2v1l-2 2v1l-3 3v1l-2 2v1l-1.3 1.3l-2.4-3.3l-2.3-2.3l-3-2.2l-4-2.1l-4-1.4l-4-0.8l-4-0.3h-4l-4 0.5l-4 1l-4.1 1.4l-4 2l-3.5 2.2l-3.5 2.9l-3 3.1l-2.3 3l-3.3 6l-2.2 7l-0.7 7l0.6 8l1.6 7l2.7 7l4.6 9l7.4 11.6l-0.4 0.4v1l-2 2v1l-2 2v1l-2 2v1l-2 2v1l-2 2v1l-2 2v1l-2 2v1l-3 3v1l-2 2v1l-2 2v1l-2 2v1l-2 2v1l-2 2v1l-2 2v1l-3 3v1l-2 2v1l-2 2v1l-2 2v1l-2 2v1l-2 2v1l-2 2v1l-2 2v1l-3 3v1l-2 2v1l-2 2v1l-2 2v1l-2 2v1l-2 2v1l-2 2v1l-2.1 2v1l-3 3v1z"/><path fill="#00e3f9" d="M79 541.4v-224h254.4v1l-3 3v1l-2 2v1l-2 2v1l-2.1 2v1l-2 2v1l-2 2v1l-2 2v1l-2 2v1l-3 3v1l-2 2v1l-2 2v1l-2 2v1l-2 2v1l-2 2v1l-2 2v1l-2 2v1l-3 3v1l-2 2.3l-2-2.9l-3-3.1l-3-2.2l-4-2.2l-4-1.5l-5-1.2l-4-0.4h-5l-5 0.7l-4.1 1l-4 1.4l-4.2 2.1l-3.8 2.4l-3.3 2.6l-3 3l-3.2 4l-1.8 3l-2 4l-2.1 7l-0.8 8l0.7 8l2.1 8l3.6 9l5 9l7.5 11.4l-0.7 0.6v1l-2 2v1l-2 2v1l-2 2v1l-2 2v1l-2 2v1l-2 2v1l-3 3v1l-2 2v1l-2 2v1l-2 2v1l-2 2v1l-2 2v1l-2 2v1l-3 3v1l-2 2v1l-2 2v1l-2 2v1l-2 2v1l-2 2v1l-2 2v1l-2 2v1l-3 3v1l-2 2v1l-2 2v1l-2 2v1l-2 2v1l-2 2v1l-2 2v1l-2.1 2v1l-3 3v1z"/><path fill="#04ebf2" d="M79 541.4v-224h254.4v1l-3 3v1l-2 2v1l-2 2v1l-2.1 2v1l-2 2v1l-2 2v1l-2 2v1l-2 2v1l-3 3v1l-2 2v1l-2 2v1l-2 2v1l-2 2v1l-2 2v1l-2 2v1l-2 2v1l-3 3v1l-0.3 0.3l-2.7-3.9l-3-2.9l-4-2.9l-4-2.1l-4-1.5l-5-1.1l-5-0.6l-5 0.1l-5 0.6l-5.1 1.2l-4.9 1.8l-4.1 2l-4 2.6l-4 3.3l-3 3.1l-3.1 4l-3.8 7l-1.4 4l-1 4l-0.7 8l0.1 4l0.7 5l2.4 9l3.9 9l5.7 10l8.1 12.2l-0.9 0.8v1l-2 2v1l-2 2v1l-2 2v1l-2 2v1l-2 2v1l-3 3v1l-2 2v1l-2 2v1l-2 2v1l-2 2v1l-2 2v1l-2 2v1l-3 3v1l-2 2v1l-2 2v1l-2 2v1l-2 2v1l-2 2v1l-2 2v1l-2 2v1l-3 3v1l-2 2v1l-2 2v1l-2 2v1l-2 2v1l-2 2v1l-2 2v1l-2.1 2v1l-3 3v1z"/><path fill="#0bf3ec" d="M79 541.4v-224h254.4v1l-3 3v1l-2 2v1l-2 2v1l-2.1 2v1l-2 2v1l-2 2v1l-2 2v1l-2 2v1l-3 3v1l-2 2v1l-2 2v1l-2 2v1l-2 2v1l-2 2v1l-2 2v1l-2 2v1l-1.6 1.6l-2.4-3.5l-3-3.1l-4-3.1l-4-2.3l-5-2l-5-1.4l-5-0.7l-6-0.1l-5 0.4l-6.1 1.3l-5 1.7l-5 2.3l-4.6 2.9l-3.8 3l-4 4l-3.2 4l-2.4 4l-1.9 4l-1.4 4l-1 4l-0.6 4l-0.3 5l0.3 5l0.8 5l2.5 9l4.5 10l5.8 10l9.4 14l-1.1 1v1l-2 2v1l-2 2v1l-2 2v1l-2 2v1l-3 3v1l-2 2v1l-2 2v1l-2 2v1l-2 2v1l-2 2v1l-2 2v1l-3 3v1l-2 2v1l-2 2v1l-2 2v1l-2 2v1l-2 2v1l-2 2v1l-2 2v1l-3 3v1l-2 2v1l-2 2v1l-2 2v1l-2 2v1l-2 2v1l-2 2v1l-2.1 2v1l-3 3v1z"/><path fill="#11fbe5" d="M79 541.4v-224h254.4v1l-3 3v1l-2 2v1l-2 2v1l-2.1 2v1l-2 2v1l-2 2v1l-2 2v1l-2 2v1l-3 3v1l-2 2v1l-2 2v1l-2 2v1l-2 2v1l-2 2v1l-2 2v1l-1.5 1.5l-2.5-3.5l-4-4.1l-4-3l-5-2.7l-5-2l-6-1.5l-5-0.7l-6-0.1l-6 0.6l-6.1 1.2l-5 1.7l-5.6 2.6l-5 3l-4.4 3.4l-4 4l-3.6 4.6l-2.5 4l-1.9 4l-1.5 4l-1.3 5l-0.7 5l-0.1 5l0.3 5l0.8 5l1.2 5l1.7 5l4.6 10l5.9 10l11.4 16.8l-1.3 1.2v1l-2 2v1l-2 2v1l-2 2v1l-3 3v1l-2 2v1l-2 2v1l-2 2v1l-2 2v1l-2 2v1l-2 2v1l-3 3v1l-2 2v1l-2 2v1l-2 2v1l-2 2v1l-2 2v1l-2 2v1l-2 2v1l-3 3v1l-2 2v1l-2 2v1l-2 2v1l-2 2v1l-2 2v1l-2 2v1l-2.1 2v1l-3 3v1z"/><path fill="#18ffdf" d="M79 541.4v-224h254.4v1l-3 3v1l-2 2v1l-2 2v1l-2.1 2v1l-2 2v1l-2 2v1l-2 2v1l-2 2v1l-3 3v1l-2 2v1l-2 2v1l-2 2v1l-2 2v1l-2 2v1l-1.2 1.2l-2.9-4.2l-3.9-3.9l-5-3.8l-5-2.8l-6-2.3l-6-1.5l-6-0.8l-7-0.1l-6.1 0.7l-6 1.2l-6 2l-6 2.8l-5 3.1l-5 3.9l-4.5 4.5l-3.8 5l-2.5 4l-2.3 5l-1.7 5l-1.1 5l-0.5 5l-0.1 5l0.4 5l1.1 6l3.2 10l5.3 11l6.2 10l12.8 18.5l-1.5 1.5v1l-2 2v1l-2 2v1l-3 3v1l-2 2v1l-2 2v1l-2 2v1l-2 2v1l-2 2v1l-2 2v1l-3 3v1l-2 2v1l-2 2v1l-2 2v1l-2 2v1l-2 2v1l-2 2v1l-2 2v1l-3 3v1l-2 2v1l-2 2v1l-2 2v1l-2 2v1l-2 2v1l-2 2v1l-2.1 2v1l-3 3v1z"/><path fill="#1effd9" d="M79 541.4v-224h254.4v1l-3 3v1l-2 2v1l-2 2v1l-2.1 2v1l-2 2v1l-2 2v1l-2 2v1l-2 2v1l-3 3v1l-2 2v1l-2 2v1l-2 2v1l-2 2v1l-0.3 0.3l-3.7-5l-4-4l-5-3.8l-6-3.4l-6-2.3l-7-1.8l-7-1h-7l-7.1 0.7l-6 1.2l-7 2.3l-6 2.8l-6 3.6l-5 4l-5 5l-4 5.2l-2.6 4.2l-2.4 5.1l-1.7 4.9l-1.4 6l-0.6 5l-0.1 6l0.6 6l1.2 6l1.4 5l2.3 6l5.6 11l6.4 10l15 21.3l-1.7 1.7v1l-2 2v1l-3 3v1l-2 2v1l-2 2v1l-2 2v1l-2 2v1l-2 2v1l-2 2v1l-3 3v1l-2 2v1l-2 2v1l-2 2v1l-2 2v1l-2 2v1l-2 2v1l-2 2v1l-3 3v1l-2 2v1l-2 2v1l-2 2v1l-2 2v1l-2 2v1l-2 2v1l-2.1 2v1l-3 3v1z"/><path fill="#25ffd2" d="M79 541.4v-224h254.4v1l-3 3v1l-2 2v1l-2 2v1l-2.1 2v1l-2 2v1l-2 2v1l-2 2v1l-2 2v1l-3 3v1l-2 2v1l-2 2v1l-1.3 1.4l-4-5.4l-4.7-4.6l-6-4.4l-6-3.3l-7-2.7l-7-1.7l-7-1l-8-0.2l-7.1 0.7l-8 1.6l-7 2.3l-7 3.3l-6 3.6l-6 4.8l-5 5l-4.3 5.6l-3 5l-2.7 5.9l-1.7 5.1l-1.3 6l-0.6 6v6l0.8 7l1.4 6l1.9 6l2 5l5.7 11l6.6 10l18.2 25l-2 2v1l-3 3v1l-2 2v1l-2 2v1l-2 2v1l-2 2v1l-2 2v1l-2 2v1l-3 3v1l-2 2v1l-2 2v1l-2 2v1l-2 2v1l-2 2v1l-2 2v1l-2 2v1l-3 3v1l-2 2v1l-2 2v1l-2 2v1l-2 2v1l-2 2v1l-2 2v1l-2.1 2v1l-3 3v1z"/><path fill="#2bffcc" d="M79 541.4v-224h254.4v1l-3 3v1l-2 2v1l-2 2v1l-2.1 2v1l-2 2v1l-2 2v1l-2 2v1l-2 2v1l-3 3v1l-1.7 1.7l-4.3-5.7l-5-5l-6-4.5l-7-3.9l-7-2.8l-8-2.2l-8-1.1l-9-0.3l-9.1 0.9l-8 1.7l-8 2.7l-7 3.2l-7 4.3l-6 4.8l-5.2 5.2l-4.8 6.1l-3.5 5.9l-2.8 6l-1.9 6l-1.3 6l-0.6 6l0.1 7l0.6 6l1.5 7l1.9 6l2.5 6l2.9 6l3.5 6l7.6 11l17.5 22.8l3 4.3v0.9l-3 3v1l-2 2v1l-2 2v1l-2 2v1l-2 2v1l-2 2v1l-2 2v1l-3 3v1l-2 2v1l-2 2v1l-2 2v1l-2 2v1l-2 2v1l-2 2v1l-2 2v1l-3 3v1l-2 2v1l-2 2v1l-2 2v1l-2 2v1l-2 2v1l-2 2v1l-2.1 2v1l-3 3v1z"/><path fill="#31ffc5" d="M79 317.4h157l-8.8 3.1l-9 4.5l-7 4.6l-7 6l-6 6.7l-5 7.3l-4 8.2l-2.8 8.6l-1 5l-0.6 6l-0.1 5l0.4 6l1 6l1.4 6l2.1 6l2 5l4.7 9l6.5 10l6.9 9l15.5 18.9l6.3 8.8l-1.3 1.3v1l-2 2v1l-2 2v1l-2 2v1l-2 2v1l-2 2v1l-2 2v1l-3 3v1l-2 2v1l-2 2v1l-2 2v1l-2 2v1l-2 2v1l-2 2v1l-2 2v1l-3 3v1l-2 2v1l-2 2v1l-2 2v1l-2 2v1l-2 2v1l-2 2v1l-2.1 2v1l-3 3v1h-102.1zM280.8 317.4h52.6v1l-3 3v1l-2 2v1l-2 2v1l-2.1 2v1l-2 2v1l-2 2v1l-2 2v1l-2 2v0.5l-3-4.2l-3.7-4.3l-4.2-4l-4.1-3.1l-5-3.3l-5-2.6l-5-2.1z"/><path fill="#38ffbf" d="M79 317.4h129.8l-8.6 6.6l-7 7.1l-6 8l-4.6 8.3l-3.5 9l-2.2 10l-0.6 9l0.7 10l1.8 9l3 9l3.6 8l5.1 9l4.1 6l5.3 7l22.3 25.8l7.8 10.4l-1.8 1.8v1l-2 2v1l-2 2v1l-2 2v1l-2 2v1l-2 2v1l-3 3v1l-2 2v1l-2 2v1l-2 2v1l-2 2v1l-2 2v1l-2 2v1l-2 2v1l-3 3v1l-2 2v1l-2 2v1l-2 2v1l-2 2v1l-2 2v1l-2 2v1l-2.1 2v1l-3 3v1h-102.1zM304.6 317.4h28.8v1l-3 3v1l-2 2v1l-2 2v1l-2.1 2v1l-2 2v1l-0.6 0.6l-3.4-4.7l-4-4.6l-4.5-4.3z"/><path fill="#3effb8" d="M79 317.4h108.8l-6.7 7.9l-5 7.7l-4.1 8.4l-3 9l-1.8 9l-0.6 10l0.7 10l1.7 9l2.5 8l3.4 8l4.2 8l5.2 8l5.2 7l5.8 7l25.9 27.9l7 9.4v0.7l-2 2v1l-2 2v1l-2 2v1l-2 2v1l-2 2v1l-3 3v1l-2 2v1l-2 2v1l-2 2v1l-2 2v1l-2 2v1l-2 2v1l-2 2v1l-3 3v1l-2 2v1l-2 2v1l-2 2v1l-2 2v1l-2 2v1l-2 2v1l-2.1 2v1l-3 3v1h-102.1zM322.2 317.4h11.2v1l-3 3v1l-2 2l-0.1 1.1z"/><path fill="#45ffb2" d="M79 317.4h88.9l-4.6 8l-3.8 9l-2.6 9l-1.6 10l-0.3 9l0.8 10l2 10l2.9 9l3.5 8l4.3 8l5.1 8l5.3 7l5.1 6l6.4 7l26.8 26.5l5 5.8l4.5 6.2l-0.5 0.5v1l-2 2v1l-2 2v1l-2 2v1l-2 2v1l-3 3v1l-2 2v1l-2 2v1l-2 2v1l-2 2v1l-2 2v1l-2 2v1l-2 2v1l-3 3v1l-2 2v1l-2 2v1l-2 2v1l-2 2v1l-2 2v1l-2 2v1l-2.1 2v1l-3 3v1h-102.1z"/><path fill="#4bffac" d="M79 317.4h68.3l-3.1 9l-2.2 10l-1 9v10l0.9 9l2.2 10l3.2 10l4 9l4.4 8l4.5 7l5.2 7l5.9 7l12.7 13l29.2 26.4l7 7.5l5.1 7l-1.1 1.1v1l-2 2v1l-2 2v1l-2 2v1l-3 3v1l-2 2v1l-2 2v1l-2 2v1l-2 2v1l-2 2v1l-2 2v1l-2 2v1l-3 3v1l-2 2v1l-2 2v1l-2 2v1l-2 2v1l-2 2v1l-2 2v1l-2.1 2v1l-3 3v1h-102.1z"/><path fill="#52ffa5" d="M79 317.4h46.1l-1.4 9l-0.5 10l0.4 10l1.4 10l2.5 10l3.1 9l4 9l5.5 10l4.7 7l5.2 7l5.9 7l6.7 7l14.2 13l25.4 20.4l8 6.9l8 8l5.9 7.8l-1.9 1.9v1l-2 2v1l-2 2v1l-3 3v1l-2 2v1l-2 2v1l-2 2v1l-2 2v1l-2 2v1l-2 2v1l-2 2v1l-3 3v1l-2 2v1l-2 2v1l-2 2v1l-2 2v1l-2 2v1l-2 2v1l-2.1 2v1l-3 3v1h-102.1z"/><path fill="#58ff9f" d="M79 317.4h21.1l0.5 12l1.5 11l2.6 11l4.1 12l5 11l6.3 11l7 10l8.1 10l11.7 12l12.6 11l13 10l27.7 19.7l9 7.2l8 7.8l5.3 7l-0.3 0.3v1l-2 2v1l-2 2v1l-3 3v1l-2 2v1l-2 2v1l-2 2v1l-2 2v1l-2 2v1l-2 2v1l-2 2v1l-3 3v1l-2 2v1l-2 2v1l-2 2v1l-2 2v1l-2 2v1l-2 2v1l-2.1 2v1l-3 3v1h-102.1z"/><path fill="#5eff98" d="M79 346.7l3.4 7.7l4.1 8l4.7 8l4.6 7l5.2 7l5.7 7l6.3 7l7 7l13.6 12l16 12l15 10l28.6 17.7l11 7.6l5 4l5 4.6l4 4.4l3.2 4.5l-1.2 1.2v1l-2 2v1l-3 3v1l-2 2v1l-2 2v1l-2 2v1l-2 2v1l-2 2v1l-2 2v1l-2 2v1l-3 3v1l-2 2v1l-2 2v1l-2 2v1l-2 2v1l-2 2v1l-2 2v1l-2.1 2v1l-3 3v1h-102.1z"/><path fill="#65ff92" d="M79 386.3l8.4 8.1l9.3 8l10.1 8l9.8 7l12.2 8l13.5 8l42.9 22.9l13 7.5l7 4.8l6 4.9l4.9 4.9l3.1 4l1 2l-2 2v1l-3 3v1l-2 2v1l-2 2v1l-2 2v1l-2 2v1l-2 2v1l-2 2v1l-2 2v1l-3 3v1l-2 2v1l-2 2v1l-2 2v1l-2 2v1l-2 2v1l-2 2v1l-2.1 2v1l-3 3v1h-102.1z"/><path fill="#6bff8b" d="M79 409.2l19.4 11.2l19.6 10l19.5 9l38.6 16.6l16.1 7.7l8 4.5l7 4.8l5.1 4.4l4.6 5l2.1 3.2l-0.8 0.8v1l-3 3v1l-2 2v1l-2 2v1l-2 2v1l-2 2v1l-2 2v1l-2 2v1l-2 2v1l-3 3v1l-2 2v1l-2 2v1l-2 2v1l-2 2v1l-2 2v1l-2 2v1l-2.1 2v1l-3 3v1h-102.1z"/><path fill="#72ff85" d="M79 427l25.8 9.4l57.3 18.8l21 7.7l11.1 4.9l8 4.5l7 5l5 4.7l4 5.4l-3 3v1l-2 2v1l-2 2v1l-2 2v1l-2 2v1l-2 2v1l-2 2v1l-2 2v1l-3 3v1l-2 2v1l-2 2v1l-2 2v1l-2 2v1l-2 2v1l-2 2v1l-2.1 2v1l-3 3v1h-102.1z"/><path fill="#78ff7f" d="M79 541.4v-99l69.1 14.2l18 4.5l14 4.1l7.1 2.5l7 3l5 2.5l5 2.9l4 2.8l3.9 3.5l2.7 3l2.2 3.2l-1.8 1.8v1l-2 2v1l-2 2v1l-2 2v1l-2 2v1l-2 2v1l-2 2v1l-2 2v1l-3 3v1l-2 2v1l-2 2v1l-2 2v1l-2 2v1l-2 2v1l-2 2v1l-2.1 2v1l-3 3v1z"/><path fill="#7fff78" d="M79 541.4v-84.8l31 1.9l26.1 2.4l21 2.8l18 3.6l8 2.1l7.1 2.3l6 2.5l5 2.5l5 3.1l4 3.1l3 3l2.7 3.8l-0.7 0.7v1l-2 2v1l-2 2v1l-2 2v1l-2 2v1l-2 2v1l-2 2v1l-2 2v1l-3 3v1l-2 2v1l-2 2v1l-2 2v1l-2 2v1l-2 2v1l-2 2v1l-2.1 2v1l-3 3v1z"/><path fill="#85ff72" d="M79 541.4v-71.1l27-2.2l24.1-0.7l22 0.6l10 0.8l9 1.2l8 1.5l7.1 1.7l7 2.2l6 2.5l5 2.7l5 3.6l3.3 3.2l2.7 3.8l-2 2.2v1l-2 2v1l-2 2v1l-2 2v1l-2 2v1l-2 2v1l-2 2v1l-3 3v1l-2 2v1l-2 2v1l-2 2v1l-2 2v1l-2 2v1l-2 2v1l-2.1 2v1l-3 3v1z"/><path fill="#8bff6b" d="M214.3 492.3l-1.1 1.1v1l-2 2v1l-2 2v1l-2 2v1l-2 2v1l-2 2v1l-2 2v1l-3 3v1l-2 2v1l-2 2v1l-2 2v1l-2 2v1l-2 2v1l-2 2v1l-2.1 2v1l-3 3v1h-102.1v-57.1l23-5.5l12-2.2l11.1-1.7l11-1.2l11-0.7l10-0.2l9 0.3l9 0.8l8 1.2l7.1 1.7l7 2.3l6 2.9l5 3.3l3.3 3.1z"/><path fill="#92ff65" d="M213.4 493.1l-0.2 1.3l-2 2v1l-2 2v1l-2 2v1l-2 2v1l-2 2v1l-2 2v1l-3 3v1l-2 2v1l-2 2v1l-2 2v1l-2 2v1l-2 2v1l-2 2v1l-2.1 2v1l-3 3v1h-102.1v-42.1l12-5.4l11.6-4.5l9.4-3.2l9.6-2.8l17.5-4l9-1.4l8-0.8l8-0.5h8l7 0.5l7.1 1l6 1.3l6 2l5 2.3l4 2.6l3.4 3z"/><path fill="#98ff5e" d="M213 494.6l-1.8 1.8v1l-2 2v1l-2 2v1l-2 2v1l-2 2v1l-2 2v1l-3 3v1l-2 2v1l-2 2v1l-2 2v1l-2 2v1l-2 2v1l-2 2v1l-2.1 2v1l-3 3v1h-102.1v-24.2l11.9-8.8l13.1-8l13.8-7l14.3-5.7l13-3.9l13-2.6l12-1.3l12 0.1l6.1 0.8l5 1l5 1.5l4 1.7l4 2.3l2.6 2.1l2.4 2.5z"/><path fill="#9fff58" d="M212.2 495.4l-1 1v1l-2 2v1l-2 2v1l-2 2v1l-2 2v1l-2 2v1l-3 3v1l-2 2v1l-2 2v1l-2 2v1l-2 2v1l-2 2v1l-2 2v1l-2.1 2v1l-3 3v1h-101.1l6.4-9l6.9-8l8-8l8.2-7l8.3-6l9.8-6l10-5l10-4l10.5-3.1l10-2l10-0.9l9.1 0.3l8 1.4l4 1.2l4 1.8l3 1.8l3 2.4l1.8 2.1z"/><path fill="#a5ff52" d="M211.5 496l-0.3 0.4v1l-2 2v1l-2 2v1l-2 2v1l-2 2v1l-2 2v1l-3 3v1l-2 2v1l-2 2v1l-2 2v1l-2 2v1l-2 2v1l-2 2v1l-2.1 2v1l-3 3v1h-81.6l4.5-8l5.4-8l5.8-7l6.9-7l7-6l8.5-6l8.5-4.8l8-3.7l9-3.1l9-2.1l9-1l8.1 0.1l7 1.2l4 1.2l3 1.3l5 3.3l2 2.2z"/><path fill="#acff4b" d="M211.2 497.3l-2 2.1v1l-2 2v1l-2 2v1l-2 2v1l-2 2v1l-3 3v1l-2 2v1l-2 2v1l-2 2v1l-2 2v1l-2 2v1l-2 2v1l-2.1 2v1l-3 3v1h-66.2l3.4-8l3.8-7l4.8-7l4.9-6l6-6l6-5l7.4-5l7.9-4.2l8-3.2l8-2.1l8-1.2h8.1l7 1.3l6 2.4l4.2 3l1.7 2z"/><path fill="#b2ff45" d="M210.6 497.9l-1.4 1.5v1l-2 2v1l-2 2v1l-2 2v1l-2 2v1l-3 3v1l-2 2v1l-2 2v1l-2 2v1l-2 2v1l-2 2v1l-2 2v1l-2.1 2v1l-3 3v1h-53.5l2-7l2.9-7l3.8-7l4.2-6l5.2-6l5.4-5l5.3-4l6.6-4l7.1-3.3l7-2.2l7-1.3l7.1-0.3l6 0.8l6 1.9l4 2.5l2 2.1z"/><path fill="#b8ff3e" d="M210.1 498.5l-0.9 0.9v1l-2 2v1l-2 2v1l-2 2v1l-2 2v1l-3 3v1l-2 2v1l-2 2v1l-2 2v1l-2 2v1l-2 2v1l-2 2v1l-2.1 2v1l-3 3v1h-42.7l1.1-7l1.8-6l2.4-6l3.4-6l4.3-6l4.6-5l4.5-4l5.8-4l5.8-3.1l7-2.6l6.1-1.4l6-0.5l6 0.5l5 1.4l4 2.2l2 1.7z"/><path fill="#bfff38" d="M208.7 497.4l0.9 1.6l-0.4 0.4v1l-2 2v1l-2 2v1l-2 2v1l-2 2v1l-3 3v1l-2 2v1l-2 2v1l-2 2v1l-2 2v1l-2 2v1l-2 2v1l-2.1 2v1l-3 3v1h-33.4l0.2-6l1-6l1.7-6l2.7-6l2.9-5l3.9-5l3.9-4l4.9-4l5.2-3.2l6-2.7l6.1-1.6l5-0.6l6 0.2l5 1.2l4 2.2z"/><path fill="#c5ff31" d="M207.9 497.4l1.2 2l0.1 1l-2 2v1l-2 2v1l-2 2v1l-2 2v1l-3 3v1l-2 2v1l-2 2v1l-2 2v1l-2 2v1l-2 2v1l-2 2v1l-2.1 2v1l-3 3v1h-25.2l-0.4-6l0.2-5l1-6l1.6-5l2.2-5l3.1-5l3.3-4l4.2-4l5-3.6l4.8-2.4l5.3-1.9l5-0.9l5-0.1l5 0.9l4 1.7z"/><path fill="#ccff2b" d="M207.2 497.6l1 1.2l0.8 1.8l-1.8 1.8v1l-2 2v1l-2 2v1l-2 2v1l-3 3v1l-2 2v1l-2 2v1l-2 2v1l-2 2v1l-2 2v1l-2 2v1l-2.1 2v1l-3 3v1h-17.7l-1-5l-0.5-5l0.2-5l0.8-5l1.6-5l2.4-5l2.6-4l3.6-4l3.4-3l4.6-3l5.1-2.2l5-1.3l5-0.4l4 0.5l4 1.4z"/><path fill="#d2ff25" d="M206.2 497.5l1.7 1.9l0.7 1.6l-1.4 1.4v1l-2 2v1l-2 2v1l-2 2v1l-3 3v1l-2 2v1l-2 2v1l-2 2v1l-2 2v1l-2 2v1l-2 2v1l-2.1 2v1l-3 3v1h-10.7l-1.5-4l-1.2-5l-0.5-5l0.3-5l1-5l1.4-4l2.1-4l2.8-4l2.9-3l3.8-3l4.7-2.6l4-1.4l5-0.8l4 0.1l4 1z"/><path fill="#d9ff1e" d="M205.2 497.4l2 1.8l1 2.1l-1 1.1v1l-2 2v1l-2 2v1l-2 2v1l-3 3v1l-2 2v1l-2 2v1l-2 2v1l-2 2v1l-2 2v1l-2 2v1l-2.1 2v1l-3 3v1h-4l-2.2-4l-1.5-4l-1.1-4l-0.5-5l0.2-5l0.9-4l1.4-4l2.2-4l2.3-3l3.3-3.2l4.2-2.8l3.9-1.7l4-1l4-0.3l4 0.7z"/><path fill="#dfff18" d="M204.2 497.5l2 1.3l1.2 1.6l0.5 1.3l-0.7 0.7v1l-2 2v1l-2 2v1l-2 2v1l-3 3v1l-2 2v1l-2 2v1l-2 2v1l-2 2v1l-2 2v1l-2 2v1l-2.1 2v1l-2 2l-2.6-4l-1.9-4l-1.2-4l-0.7-4l-0.1-4l0.6-4l1.2-4l1.4-3l2-3l2.7-3l3.7-2.8l3-1.6l3-1.1l4-0.6l4 0.2z"/><path fill="#e5ff11" d="M204.2 498.1l2 1.4l1 1.3l0.4 1.1l-0.4 0.5v1l-2 2v1l-2 2v1l-2 2v1l-3 3v1l-2 2v1l-2 2v1l-2 2v1l-2 2v1l-2 2v1l-2 2v1l-1.2 1.2l-2.2-3.2l-1.5-3l-1.5-4l-0.6-3l-0.3-4l0.3-3l0.9-4l1.3-3l1.8-3l2.7-3l2.4-2l2.9-1.6l3-1.2l4-0.6l3 0.1z"/><path fill="#ecff0b" d="M204.2 498.6l2.3 1.8l0.8 1.8l-0.1 1.2l-2 2v1l-2 2v1l-2 2v1l-3 3v1l-2 2v1l-2 2v1l-2 2v1l-2 2v1l-2 2v1l-0.8 0.8l-2-2.8l-1.5-3l-1.2-3l-0.6-3l-0.3-3l0.1-3l0.6-3l1.1-3l1.7-3l1.7-2l2.1-2l3.2-2l2.9-1.1l3-0.6h3z"/><path fill="#f2fb04" d="M204.2 499.1l1.8 1.3l0.7 1l0.3 2l-1.8 2v1l-2 2v1l-2 2v1l-3 3v1l-2 2v1l-2 2v1l-2 2v1l-2 2v1l-0.8 0.8l-3.2-5.3l-1.7-5.5l-0.2-3l0.2-3l1.6-5l1.9-3l1.8-2l2.4-1.8l2-1.1l2-0.7l3-0.6l3 0.2z"/><path fill="#f9f300" d="M204.2 499.5l2 1.6l0.6 1.3v1l-1.6 2v1l-2 2v1l-2 2v1l-3 3v1l-2 2v1l-2 2v1l-2 2v1l-1.1 1.1l-2.6-4.1l-1.7-5l-0.3-5l0.3-2l1-3l2.7-4l2.2-2l2.5-1.4l3-1l2-0.2l2 0.1z"/><path fill="#ffec00" d="M204.2 499.9l1.8 1.5l0.6 1v1l-0.4 1l-1 1v1l-2 2v1l-2 2v1l-3 3v1l-2 2v1l-2 2v1l-1.7 1.7l-2.8-4.7l-1.2-4v-5l1.3-4l1.3-2l1.8-2l3.3-2.1l4-1l2 0.1z"/><path fill="#ffe500" d="M204.2 500.3l1 0.6l1.1 1.5l0.1 1l-0.5 1l0.2 0.1l-0.9 0.9v1l-2 2v1l-2 2v1l-3 3v1l-2 2v1l-2 2v1l-2.6-4l-1.4-4l-0.1-4l1.1-4l2-3l2-1.7l2-1.1l2-0.7l2-0.2z"/><path fill="#ffdd00" d="M204.2 500.6l1 0.7l0.9 1.1l0.1 1l-0.5 1l0.4 0.1l-0.9 0.9v1l-2 2v1l-2 2v1l-3 3v1l-2 2v1l-1 1l-2-3l-1.5-4l-0.1-4l0.8-3l2-3l2.8-2.2l2-0.8l2-0.3z"/><path fill="#ffd600" d="M204.2 500.9l1.6 1.5l0.3 1l-0.6 1l0.6 0.1l-0.9 0.9v1l-2 2v1l-2 2v1l-3 3v1l-2 2v0.4l-2-3.1l-1.2-3.3l-0.2-3l0.7-3l1.9-3l2.7-2l3.1-0.9z"/><path fill="#ffce00" d="M204.2 501.2l1.4 1.2l0.3 1l-0.5 1l0.6 0.1l-0.8 0.9v1l-2 2v1l-2 2v1l-3 3v1l-1.1 1l-2-3l-0.9-3l-0.1-3l0.9-3l1.3-2l2.9-2l3-0.6z"/><path fill="#ffc700" d="M204.2 501.5l1 0.6l0.6 1.3l-0.6 1l0.8 0.2l-0.8 0.8v1l-2 2v1l-2 2v1l-3 3v1l-1.5-2l-1.3-3l-0.4-3l0.8-3l1.4-2l2-1.5l3-0.8z"/><path fill="#ffc000" d="M204.2 501.7l1 0.7l0.5 1l-0.5 1l0.8 0.2l-0.8 0.8v1l-2 2v1l-2 2v1l-2.6 2.6l-1.7-2.6l-0.7-2l-0.2-3l0.6-2l1.3-2l2.3-1.5l2-0.5z"/><path fill="#ffb800" d="M204.2 501.9l1 0.7l0.4 0.8l-0.5 1l0.8 0.2l-0.7 0.8v1l-2 2v1l-2 2v1l-1.8 1.8l-1.8-2.8l-0.7-2l-0.1-2l0.5-2l1.3-2l1.6-1.1l2-0.7z"/><path fill="#ffb100" d="M204.2 502.1l1.2 1.3l-0.3 1l0.8 0.3l-0.7 0.7v1l-2 2v1l-2 2v1l-1 1l-1.6-2l-0.8-2l-0.3-2l0.4-2l1.3-2l1.4-1l1.6-0.5z"/><path fill="#ffaa00" d="M204.2 502.3l1.1 1.1l-0.2 1l0.8 0.3l-0.7 0.7v1l-2 2v1l-2 2v1l-0.4 0.4l-1.1-1.4l-1.1-2l-0.4-2l0.3-2l1.3-2l1.4-0.9l2-0.5z"/><path fill="#ffa200" d="M204.2 502.4l1 1l-0.2 1l0.8 0.3l-0.6 0.7v1l-2 2v1l-2 2v0.5l-1.3-1.5l-0.9-2l-0.2-2l0.7-2l1.7-1.6l2-0.6z"/><path fill="#ff9b00" d="M204.2 502.5l0.9 0.9l-0.1 1l0.8 0.4l-0.6 0.6v1l-2 2v1l-1.8 1.7l-1.7-2.7l-0.4-2l0.6-2l1.3-1.3l1-0.5z"/><path fill="#ff9300" d="M204.2 502.6l0.8 0.8v1l0.8 0.4l-0.6 0.6v1l-2 2v1l-1.3 1.2l-1.6-2.2l-0.5-2l0.1-1l1.3-2l1-0.6z"/><path fill="#ff8c00" d="M204.2 502.7l0.7 0.7l0.3 1.3l0.6 0.1l-0.6 0.6v1l-2 2v1l-0.8 0.8l-1.2-1.4l-0.8-1.4l-0.1-2l0.4-1l0.8-1l1.7-0.7z"/><path fill="#ff8500" d="M204.2 502.8l0.6 0.6l0.4 1.3l0.5 0.2l-0.5 0.5v1l-2 2v1l-0.4 0.4l-1.9-2.4l-0.2-2l0.3-1l0.9-1l1.3-0.6z"/><path fill="#ff7d00" d="M204.2 502.9l0.5 0.5l0.5 1.4l0.5 0.1l-0.5 0.5v1l-2 2v1l-1.8-2l-0.4-2l0.3-1l0.9-1l1-0.5z"/><path fill="#ff7600" d="M204.2 503l1 1.8l0.5 0.1l-0.5 0.5v1l-2 2v0.4l-1.3-1.4l-0.6-2l0.3-1l0.9-1z"/><path fill="#ff6f00" d="M204.2 503.1l1 1.7l0.4 0.1l-0.4 0.5v1l-2 1.9l-1-1.1l-0.6-1.8l0.2-1l1-1z"/><path fill="#ff6700" d="M204.2 503.2l1 1.7l0.4 0.1l-0.4 0.4v1l-1.7 1.7l-1.3-1.6l-0.4-1.1l0.2-1l1-1z"/><path fill="#ff6000" d="M204.2 503.3l1 1.6l0.4 0.1l-0.4 0.4v1l-1.4 1.4l-1.4-1.4l-0.3-1l0.1-1l1-0.9z"/><path fill="#ff5800" d="M204.2 503.4l1 1.6h0.3l-0.3 0.4v1l-1.2 1.2l-1.2-1.2l-0.5-1l0.1-1l0.8-0.8z"/><path fill="#ff5100" d="M204.2 503.5l1 1.5l0.3 0.1l-0.3 0.3v1l-1 0.9l-1-0.8l-0.7-1.1v-1l0.7-0.6z"/><path fill="#ff4a00" d="M204.2 503.5l1.3 1.6l-0.3 0.3v1l-0.8 0.7l-1.2-0.9l-0.5-0.8v-1z"/><path fill="#ff4200" d="M204.2 503.6l1.2 1.5l-0.2 0.3v1l-0.6 0.5l-1.7-1.5l-0.1-1z"/><path fill="#ff3b00" d="M204.2 503.6l1.2 1.6l-0.2 1.2l-0.4 0.3l-1.7-1.3l-0.1-1z"/><path fill="#ff3400" d="M204.2 503.6l1.2 1.6l-0.4 1.4l-0.8-0.4l-0.9-0.8l-0.2-1z"/><path fill="#ff2c00" d="M204.2 503.7l1.2 1.5l-0.2 1.2l-1-0.3l-0.7-0.7l-0.3-1z"/><path fill="#ff2500" d="M204.2 503.7l1.1 1.6l-0.1 0.9l-1-0.3l-0.9-1.5z"/><path fill="#ff1d00" d="M204.2 503.8l1.1 1.5l-0.1 0.7l-1-0.3l-0.8-1.3z"/><path fill="#ff1600" d="M203.4 504.4l0.8-0.6l1.1 1.5l-0.1 0.6l-1-0.4z"/><path fill="#fa0f00" d="M204.2 503.9l0.3 0.5l-0.3 1l-0.7-1zM204.4 505.4l0.8-0.1v0.4z"/><path fill="#f10700" d="M204.2 503.9l0.3 0.5l-0.3 0.9l-0.6-0.9z"/><path fill="#e80000" d="M204.2 504l0.2 0.4l-0.2 0.8l-0.6-0.8z"/><path fill="#df0000" d="M204.2 504l0.2 0.4l-0.2 0.7l-0.5-0.7z"/><path fill="#d60000" d="M204.2 504.1v0.9l-0.5-0.6z"/></g><g clip-path="url(#bR)"><rect x="78" y="316.4" width="354.5" height="226" fill="#0000b1"/><path fill="#0000ba" d="M431.5 317.4v224h-254.4v-1l3-3v-1l2-2v-1l2-2v-1l2.1-2v-1l2-2v-1l2-2v-1l2-2v-1l2-2v-1l3-3v-1l2-2v-1l2-2v-1l2-2v-1l2-2v-1l2-2v-1l2-2v-1l2-2v-1l3-3v-1l2-2v-1l2-2v-1l2-2v-1l2-2v-1l2-2v-1l2-2v-1l3-3v-1l2-2v-1l2-2v-1l2-2v-1l2-2v-1l2-2v-1l2-2v-1l2-2v-1l3-3v-1l2-2v-1l2-2v-1l2-2v-1l2-2v-1l2.1-2v-1l2-2v-1l2-2v-1l3-3v-1l2-2v-1l2-2v-1l2-2v-1l2-2v-1l2-2v-1l2-2v-1l2-2v-1l3-3v-1l2-2v-1l2-2v-1l2-2v-1l2-2v-1l2-2v-1l2-2v-1l3-3v-1l2-2v-1l2-2v-1l2-2v-1l2-2v-1l2-2v-1l2-2v-1l2-2v-1l3-3v-1l2-2v-1l2-2v-1l2-2v-1l2-2v-1l2-2v-1l2-2v-1l2.1-2v-1l3-3v-1z"/><path fill="#0000c3" d="M431.5 317.4v224h-254.4v-1l3-3v-1l2-2v-1l2-2v-1l2.1-2v-1l2-2v-1l2-2v-1l2-2v-1l2-2v-1l3-3v-1l2-2v-1l2-2v-1l2-2v-1l2-2v-1l2-2v-1l2-2v-1l2-2v-1l3-3v-1l2-2v-1l2-2v-1l2-2v-1l2-2v-1l2-2v-1l2-2v-1l3-3v-1l2-2v-1l2-2v-1l2-2v-1l2-2v-1l2-2v-1l2-2v-1l2-2v-1l3-3v-1l2-2v-1l2-2v-1l2-2v-1l2-2v-1l2.1-2v-1l2-2v-1l2-2v-1l3-3v-1l2-2v-1l2-2v-1l2-2v-1l2-2v-1l2-2v-1l2-2v-1l2-2v-1l3-3v-1l2-2v-1l2-2v-1l2-2v-1l2-2v-1l2-2v-1l2-2v-1l3-3v-1l2-2v-1l2-2v-1l2-2v-1l2-2v-1l2-2v-1l2-2v-1l2-2v-1l3-3v-1l2-2v-1l2-2v-1l2-2v-1l2-2v-1l2-2v-1l2-2v-1l2.1-2v-1l3-3v-1z"/><path fill="#0000cc" d="M431.5 317.4v224h-254.4v-1l3-3v-1l2-2v-1l2-2v-1l2.1-2v-1l2-2v-1l2-2v-1l2-2v-1l2-2v-1l3-3v-1l2-2v-1l2-2v-1l2-2v-1l2-2v-1l2-2v-1l2-2v-1l2-2v-1l3-3v-1l2-2v-1l2-2v-1l2-2v-1l2-2v-1l2-2v-1l2-2v-1l3-3v-1l2-2v-1l2-2v-1l2-2v-1l2-2v-1l2-2v-1l2-2v-1l2-2v-1l3-3v-1l2-2v-1l2-2v-1l2-2v-1l2-2v-1l2.1-2v-1l2-2v-1l2-2v-1l3-3v-1l2-2v-1l2-2v-1l2-2v-1l2-2v-1l2-2v-1l2-2v-1l2-2v-1l3-3v-1l2-2v-1l2-2v-1l2-2v-1l2-2v-1l2-2v-1l2-2v-1l3-3v-1l2-2v-1l2-2v-1l2-2v-1l2-2v-1l2-2v-1l2-2v-1l2-2v-1l3-3v-1l2-2v-1l2-2v-1l2-2v-1l2-2v-1l2-2v-1l2-2v-1l2.1-2v-1l3-3v-1z"/><path fill="#0000d6" d="M431.5 317.4v224h-254.4v-1l3-3v-1l2-2v-1l2-2v-1l2.1-2v-1l2-2v-1l2-2v-1l2-2v-1l2-2v-1l3-3v-1l2-2v-1l2-2v-1l2-2v-1l2-2v-1l2-2v-1l2-2v-1l2-2v-1l3-3v-1l2-2v-1l2-2v-1l2-2v-1l2-2v-1l2-2v-1l2-2v-1l3-3v-1l2-2v-1l2-2v-1l2-2v-1l2-2v-1l2-2v-1l2-2v-1l2-2v-1l3-3v-1l2-2v-1l2-2v-1l2-2v-1l2-2v-1l2.1-2v-1l2-2v-1l2-2v-1l3-3v-1l2-2v-1l2-2v-1l2-2v-1l2-2v-1l2-2v-1l2-2v-1l2-2v-1l3-3v-1l2-2v-1l2-2v-1l2-2v-1l2-2v-1l2-2v-1l2-2v-1l3-3v-1l2-2v-1l2-2v-1l2-2v-1l2-2v-1l2-2v-1l2-2v-1l2-2v-1l3-3v-1l2-2v-1l2-2v-1l2-2v-1l2-2v-1l2-2v-1l2-2v-1l2.1-2v-1l3-3v-1zM280.3 391v0.6l0.5-0.2z"/><path fill="#0000df" d="M431.5 317.4v224h-254.4v-1l3-3v-1l2-2v-1l2-2v-1l2.1-2v-1l2-2v-1l2-2v-1l2-2v-1l2-2v-1l3-3v-1l2-2v-1l2-2v-1l2-2v-1l2-2v-1l2-2v-1l2-2v-1l2-2v-1l3-3v-1l2-2v-1l2-2v-1l2-2v-1l2-2v-1l2-2v-1l2-2v-1l3-3v-1l2-2v-1l2-2v-1l2-2v-1l2-2v-1l2-2v-1l2-2v-1l2-2v-1l3-3v-1l2-2v-1l2-2v-1l2-2v-1l2-2v-1l2.1-2v-1l2-2v-1l2-2v-1l3-3v-1l2-2v-1l2-2v-1l2-2v-1l2-2v-1l2-2v-1l2-2v-1l2-2v-1l3-3v-1l2-2v-1l2-2v-1l2-2v-1l2-2v-1l2-2v-1l2-2v-1l3-3v-1l2-2v-1l2-2v-1l2-2v-1l2-2v-1l2-2v-1l2-2v-1l2-2v-1l3-3v-1l2-2v-1l2-2v-1l2-2v-1l2-2v-1l2-2v-1l2-2v-1l2.1-2v-1l3-3v-1zM280.3 390.9v0.7l0.6-0.2z"/><path fill="#0000e8" d="M431.5 317.4v224h-254.4v-1l3-3v-1l2-2v-1l2-2v-1l2.1-2v-1l2-2v-1l2-2v-1l2-2v-1l2-2v-1l3-3v-1l2-2v-1l2-2v-1l2-2v-1l2-2v-1l2-2v-1l2-2v-1l2-2v-1l3-3v-1l2-2v-1l2-2v-1l2-2v-1l2-2v-1l2-2v-1l2-2v-1l3-3v-1l2-2v-1l2-2v-1l2-2v-1l2-2v-1l2-2v-1l2-2v-1l2-2v-1l3-3v-1l2-2v-1l2-2v-1l2-2v-1l2-2v-1l2.1-2v-1l2-2v-1l2-2v-1l3-3v-1l2-2v-1l2-2v-1l2-2v-1l2-2v-1l2-2v-1l2-2v-1l2-2v-1l3-3v-1l2-2v-1l2-2v-1l2-2v-1l2-2v-1l2-2v-1l2-2v-1l3-3v-1l2-2v-1l2-2v-1l2-2v-1l2-2v-1l2-2v-1l2-2v-1l2-2v-1l3-3v-1l2-2v-1l2-2v-1l2-2v-1l2-2v-1l2-2v-1l2-2v-1l2.1-2v-1l3-3v-1zM280.3 390.8v0.9l0.8-0.3z"/><path fill="#0000f1" d="M431.5 317.4v224h-254.4v-1l3-3v-1l2-2v-1l2-2v-1l2.1-2v-1l2-2v-1l2-2v-1l2-2v-1l2-2v-1l3-3v-1l2-2v-1l2-2v-1l2-2v-1l2-2v-1l2-2v-1l2-2v-1l2-2v-1l3-3v-1l2-2v-1l2-2v-1l2-2v-1l2-2v-1l2-2v-1l2-2v-1l3-3v-1l2-2v-1l2-2v-1l2-2v-1l2-2v-1l2-2v-1l2-2v-1l2-2v-1l3-3v-1l2-2v-1l2-2v-1l2-2v-1l2-2v-1l2.1-2v-1l2-2v-1l2-2v-1l3-3v-1l2-2v-1l2-2v-1l2-2v-1l2-2v-1l2-2v-1l2-2v-1l2-2v-1l3-3v-1l2-2v-1l2-2v-1l2-2v-1l2-2v-1l2-2v-1l2-2v-1l3-3v-1l2-2v-1l2-2v-1l2-2v-1l2-2v-1l2-2v-1l2-2v-1l2-2v-1l3-3v-1l2-2v-1l2-2v-1l2-2v-1l2-2v-1l2-2v-1l2-2v-1l2.1-2v-1l3-3v-1zM280.3 390.7v1l0.9-0.3z"/><path fill="#0000fa" d="M431.5 317.4v224h-254.4v-1l3-3v-1l2-2v-1l2-2v-1l2.1-2v-1l2-2v-1l2-2v-1l2-2v-1l2-2v-1l3-3v-1l2-2v-1l2-2v-1l2-2v-1l2-2v-1l2-2v-1l2-2v-1l2-2v-1l3-3v-1l2-2v-1l2-2v-1l2-2v-1l2-2v-1l2-2v-1l2-2v-1l3-3v-1l2-2v-1l2-2v-1l2-2v-1l2-2v-1l2-2v-1l2-2v-1l2-2v-1l3-3v-1l2-2v-1l2-2v-1l2-2v-1l2-2v-1l2.1-2v-1l2-2v-1l2-2v-1l3-3v-1l2-2v-1l2-2v-1l2-2v-1l2-2v-1l2-2v-1l2-2v-1l2-2v-1l3-3v-1l2-2v-1l2-2v-1l2-2v-1l2-2v-1l2-2v-1l2-2v-1l3-3v-1l2-2v-1l2-2v-1l2-2v-1l2-2v-1l2-2v-1l2-2v-1l2-2v-1l3-3v-1l2-2v-1l2-2v-1l2-2v-1l2-2v-1l2-2v-1l2-2v-1l2.1-2v-1l3-3v-1zM280.3 390.6v1.2l1-0.4z"/><path fill="#0000ff" d="M431.5 317.4v224h-254.4v-1l3-3v-1l2-2v-1l2-2v-1l2.1-2v-1l2-2v-1l2-2v-1l2-2v-1l2-2v-1l3-3v-1l2-2v-1l2-2v-1l2-2v-1l2-2v-1l2-2v-1l2-2v-1l2-2v-1l3-3v-1l2-2v-1l2-2v-1l2-2v-1l2-2v-1l2-2v-1l2-2v-1l3-3v-1l2-2v-1l2-2v-1l2-2v-1l2-2v-1l2-2v-1l2-2v-1l2-2v-1l3-3v-1l2-2v-1l2-2v-1l2-2v-1l2-2v-1l2.1-2v-1l2-2v-1l2-2v-1l3-3v-1l2-2v-1l2-2v-1l2-2v-1l2-2v-1l2-2v-1l2-2v-1l2-2v-1l3-3v-1l2-2v-1l2-2v-1l2-2v-1l2-2v-1l2-2v-1l2-2v-1l3-3v-1l2-2v-1l2-2v-1l2-2v-1l2-2v-1l2-2v-1l2-2v-1l2-2v-1l3-3v-1l2-2v-1l2-2v-1l2-2v-1l2-2v-1l2-2v-1l2-2v-1l2.1-2v-1l3-3v-1zM280.3 390.5l-0.2 0.9l0.2 0.4l1-0.2v-0.4z"/><path fill="#0000ff" d="M431.5 317.4v224h-254.4v-1l3-3v-1l2-2v-1l2-2v-1l2.1-2v-1l2-2v-1l2-2v-1l2-2v-1l2-2v-1l3-3v-1l2-2v-1l2-2v-1l2-2v-1l2-2v-1l2-2v-1l2-2v-1l2-2v-1l3-3v-1l2-2v-1l2-2v-1l2-2v-1l2-2v-1l2-2v-1l2-2v-1l3-3v-1l2-2v-1l2-2v-1l2-2v-1l2-2v-1l2-2v-1l2-2v-1l2-2v-1l3-3v-1l2-2v-1l2-2v-1l2-2v-1l2-2v-1l2.1-2v-1l2-2v-1l2-2v-1l3-3v-1l2-2v-1l2-2v-1l2-2v-1l2-2v-1l2-2v-1l2-2v-1l2-2v-1l3-3v-1l2-2v-1l2-2v-1l2-2v-1l2-2v-1l2-2v-1l2-2v-1l3-3v-1l2-2v-1l2-2v-1l2-2v-1l2-2v-1l2-2v-1l2-2v-1l2-2v-1l3-3v-1l2-2v-1l2-2v-1l2-2v-1l2-2v-1l2-2v-1l2-2v-1l2.1-2v-1l3-3v-1zM280.3 390.4l-0.3 1l0.3 0.5l1-0.1l0.2-0.4l-0.2-0.4z"/><path fill="#0004ff" d="M431.5 317.4v224h-254.4v-1l3-3v-1l2-2v-1l2-2v-1l2.1-2v-1l2-2v-1l2-2v-1l2-2v-1l2-2v-1l3-3v-1l2-2v-1l2-2v-1l2-2v-1l2-2v-1l2-2v-1l2-2v-1l2-2v-1l3-3v-1l2-2v-1l2-2v-1l2-2v-1l2-2v-1l2-2v-1l2-2v-1l3-3v-1l2-2v-1l2-2v-1l2-2v-1l2-2v-1l2-2v-1l2-2v-1l2-2v-1l3-3v-1l2-2v-1l2-2v-1l2-2v-1l2-2v-1l2.1-2v-1l2-2v-1l2-2v-1l3-3v-1l2-2v-1l2-2v-1l2-2v-1l2-2v-1l2-2v-1l2-2v-1l2-2v-1l3-3l-0.3 1l0.3 0.5l1 0.1l0.4-0.6l-0.4-0.6l-1-0.6v-0.8l2-2v-1l2-2v-1l2-2v-1l2-2v-1l2-2v-1l2-2v-1l3-3v-1l2-2v-1l2-2v-1l2-2v-1l2-2v-1l2-2v-1l2-2v-1l2-2v-1l3-3v-1l2-2v-1l2-2v-1l2-2v-1l2-2v-1l2-2v-1l2-2v-1l2.1-2v-1l3-3v-1z"/><path fill="#000cff" d="M431.5 317.4v224h-254.4v-1l3-3v-1l2-2v-1l2-2v-1l2.1-2v-1l2-2v-1l2-2v-1l2-2v-1l2-2v-1l3-3v-1l2-2v-1l2-2v-1l2-2v-1l2-2v-1l2-2v-1l2-2v-1l2-2v-1l3-3v-1l2-2v-1l2-2v-1l2-2v-1l2-2v-1l2-2v-1l2-2v-1l3-3v-1l2-2v-1l2-2v-1l2-2v-1l2-2v-1l2-2v-1l2-2v-1l2-2v-1l3-3v-1l2-2v-1l2-2v-1l2-2v-1l2-2v-1l2.1-2v-1l2-2v-1l2-2v-1l3-3v-1l2-2v-1l2-2v-1l2-2v-1l2-2v-1l2-2v-1l2-2v-1l2-2v-1l2.9-2.9l-0.2 0.9l0.3 0.6l1 0.1l0.5-0.7l-0.5-0.8l-1-0.6v-0.6l2-2v-1l2-2v-1l2-2v-1l2-2v-1l2-2v-1l2-2v-1l3-3v-1l2-2v-1l2-2v-1l2-2v-1l2-2v-1l2-2v-1l2-2v-1l2-2v-1l3-3v-1l2-2v-1l2-2v-1l2-2v-1l2-2v-1l2-2v-1l2-2v-1l2.1-2v-1l3-3v-1z"/><path fill="#0014ff" d="M431.5 317.4v224h-254.4v-1l3-3v-1l2-2v-1l2-2v-1l2.1-2v-1l2-2v-1l2-2v-1l2-2v-1l2-2v-1l3-3v-1l2-2v-1l2-2v-1l2-2v-1l2-2v-1l2-2v-1l2-2v-1l2-2v-1l3-3v-1l2-2v-1l2-2v-1l2-2v-1l2-2v-1l2-2v-1l2-2v-1l3-3v-1l2-2v-1l2-2v-1l2-2v-1l2-2v-1l2-2v-1l2-2v-1l2-2v-1l3-3v-1l2-2v-1l2-2v-1l2-2v-1l2-2v-1l2.1-2v-1l2-2v-1l2-2v-1l3-3v-1l2-2v-1l2-2v-1l2-2v-1l2-2v-1l2-2v-1l2-2v-1l2-2v-1l2.9-2.9l-0.2 0.9l0.3 0.6l1 0.3l0.6-0.9l-0.6-1l-1-0.6v-0.4l2-2v-1l2-2v-1l2-2v-1l2-2v-1l2-2v-1l2-2v-1l3-3v-1l2-2v-1l2-2v-1l2-2v-1l2-2v-1l2-2v-1l2-2v-1l2-2v-1l3-3v-1l2-2v-1l2-2v-1l2-2v-1l2-2v-1l2-2v-1l2-2v-1l2.1-2v-1l3-3v-1z"/><path fill="#001cff" d="M431.5 317.4v224h-254.4v-1l3-3v-1l2-2v-1l2-2v-1l2.1-2v-1l2-2v-1l2-2v-1l2-2v-1l2-2v-1l3-3v-1l2-2v-1l2-2v-1l2-2v-1l2-2v-1l2-2v-1l2-2v-1l2-2v-1l3-3v-1l2-2v-1l2-2v-1l2-2v-1l2-2v-1l2-2v-1l2-2v-1l3-3v-1l2-2v-1l2-2v-1l2-2v-1l2-2v-1l2-2v-1l2-2v-1l2-2v-1l3-3v-1l2-2v-1l2-2v-1l2-2v-1l2-2v-1l2.1-2v-1l2-2v-1l2-2v-1l3-3v-1l2-2v-1l2-2v-1l2-2v-1l2-2v-1l2-2v-1l2-2v-1l2-2v-1l2.9-2.9l-0.3 0.9l0.4 0.6l1.1 0.4l0.6-1l-0.5-1l-1.2-1l2-2v-1l2-2v-1l2-2v-1l2-2v-1l2-2v-1l2-2v-1l3-3v-1l2-2v-1l2-2v-1l2-2v-1l2-2v-1l2-2v-1l2-2v-1l2-2v-1l3-3v-1l2-2v-1l2-2v-1l2-2v-1l2-2v-1l2-2v-1l2-2v-1l2.1-2v-1l3-3v-1z"/><path fill="#0024ff" d="M431.5 317.4v224h-254.4v-1l3-3v-1l2-2v-1l2-2v-1l2.1-2v-1l2-2v-1l2-2v-1l2-2v-1l2-2v-1l3-3v-1l2-2v-1l2-2v-1l2-2v-1l2-2v-1l2-2v-1l2-2v-1l2-2v-1l3-3v-1l2-2v-1l2-2v-1l2-2v-1l2-2v-1l2-2v-1l2-2v-1l3-3v-1l2-2v-1l2-2v-1l2-2v-1l2-2v-1l2-2v-1l2-2v-1l2-2v-1l3-3v-1l2-2v-1l2-2v-1l2-2v-1l2-2v-1l2.1-2v-1l2-2v-1l2-2v-1l3-3v-1l2-2v-1l2-2v-1l2-2v-1l2-2v-1l2-2v-1l2-2v-1l2-2v-1l2.8-2.8l-0.2 0.8l0.4 0.7l1.2 0.3l0.6-1l-0.4-1l-1.4-1l2-2v-1l2-2v-1l2-2v-1l2-2v-1l2-2v-1l2-2v-1l3-3v-1l2-2v-1l2-2v-1l2-2v-1l2-2v-1l2-2v-1l2-2v-1l2-2v-1l3-3v-1l2-2v-1l2-2v-1l2-2v-1l2-2v-1l2-2v-1l2-2v-1l2.1-2v-1l3-3v-1z"/><path fill="#002cff" d="M431.5 317.4v224h-254.4v-1l3-3v-1l2-2v-1l2-2v-1l2.1-2v-1l2-2v-1l2-2v-1l2-2v-1l2-2v-1l3-3v-1l2-2v-1l2-2v-1l2-2v-1l2-2v-1l2-2v-1l2-2v-1l2-2v-1l3-3v-1l2-2v-1l2-2v-1l2-2v-1l2-2v-1l2-2v-1l2-2v-1l3-3v-1l2-2v-1l2-2v-1l2-2v-1l2-2v-1l2-2v-1l2-2v-1l2-2v-1l3-3v-1l2-2v-1l2-2v-1l2-2v-1l2-2v-1l2.1-2v-1l2-2v-1l2-2v-1l3-3v-1l2-2v-1l2-2v-1l2-2v-1l2-2v-1l2-2v-1l2-2v-1l2-2v-1l2.8-2.8l-0.2 0.8l0.4 0.7l1 0.5l0.4-0.2l0.5-1l-0.3-1l-1.4-1.2l1.8-1.8v-1l2-2v-1l2-2v-1l2-2v-1l2-2v-1l2-2v-1l3-3v-1l2-2v-1l2-2v-1l2-2v-1l2-2v-1l2-2v-1l2-2v-1l2-2v-1l3-3v-1l2-2v-1l2-2v-1l2-2v-1l2-2v-1l2-2v-1l2-2v-1l2.1-2v-1l3-3v-1z"/><path fill="#0034ff" d="M431.5 317.4v224h-254.4v-1l3-3v-1l2-2v-1l2-2v-1l2.1-2v-1l2-2v-1l2-2v-1l2-2v-1l2-2v-1l3-3v-1l2-2v-1l2-2v-1l2-2v-1l2-2v-1l2-2v-1l2-2v-1l2-2v-1l3-3v-1l2-2v-1l2-2v-1l2-2v-1l2-2v-1l2-2v-1l2-2v-1l3-3v-1l2-2v-1l2-2v-1l2-2v-1l2-2v-1l2-2v-1l2-2v-1l2-2v-1l3-3v-1l2-2v-1l2-2v-1l2-2v-1l2-2v-1l2.1-2v-1l2-2v-1l2-2v-1l3-3v-1l2-2v-1l2-2v-1l2-2v-1l2-2v-1l2-2v-1l2-2v-1l2-2v-1l2.8-2.8l-0.2 0.8l0.4 0.8l1 0.5l0.5-0.3l0.6-1l-0.2-1l-1.5-1.4l1.6-1.6v-1l2-2v-1l2-2v-1l2-2v-1l2-2v-1l2-2v-1l3-3v-1l2-2v-1l2-2v-1l2-2v-1l2-2v-1l2-2v-1l2-2v-1l2-2v-1l3-3v-1l2-2v-1l2-2v-1l2-2v-1l2-2v-1l2-2v-1l2-2v-1l2.1-2v-1l3-3v-1z"/><path fill="#003cff" d="M431.5 317.4v224h-254.4v-1l3-3v-1l2-2v-1l2-2v-1l2.1-2v-1l2-2v-1l2-2v-1l2-2v-1l2-2v-1l3-3v-1l2-2v-1l2-2v-1l2-2v-1l2-2v-1l2-2v-1l2-2v-1l2-2v-1l3-3v-1l2-2v-1l2-2v-1l2-2v-1l2-2v-1l2-2v-1l2-2v-1l3-3v-1l2-2v-1l2-2v-1l2-2v-1l2-2v-1l2-2v-1l2-2v-1l2-2v-1l3-3v-1l2-2v-1l2-2v-1l2-2v-1l2-2v-1l2.1-2v-1l2-2v-1l2-2v-1l3-3v-1l2-2v-1l2-2v-1l2-2v-1l2-2v-1l2-2v-1l2-2v-1l2-2v-1l2.7-2.7l-0.2 0.7l0.5 0.8l1 0.6l0.7-0.4l0.6-1l-0.2-1l-1.5-1.6l1.4-1.4v-1l2-2v-1l2-2v-1l2-2v-1l2-2v-1l2-2v-1l3-3v-1l2-2v-1l2-2v-1l2-2v-1l2-2v-1l2-2v-1l2-2v-1l2-2v-1l3-3v-1l2-2v-1l2-2v-1l2-2v-1l2-2v-1l2-2v-1l2-2v-1l2.1-2v-1l3-3v-1z"/><path fill="#0044ff" d="M431.5 317.4v224h-254.4v-1l3-3v-1l2-2v-1l2-2v-1l2.1-2v-1l2-2v-1l2-2v-1l2-2v-1l2-2v-1l3-3v-1l2-2v-1l2-2v-1l2-2v-1l2-2v-1l2-2v-1l2-2v-1l2-2v-1l3-3v-1l2-2v-1l2-2v-1l2-2v-1l2-2v-1l2-2v-1l2-2v-1l3-3v-1l2-2v-1l2-2v-1l2-2v-1l2-2v-1l2-2v-1l2-2v-1l2-2v-1l3-3v-1l2-2v-1l2-2v-1l2-2v-1l2-2v-1l2.1-2v-1l2-2v-1l2-2v-1l3-3v-1l2-2v-1l2-2v-1l2-2v-1l2-2v-1l2-2v-1l2-2v-1l2-2v-1l2.7-2.7l-0.2 0.7l0.5 0.9l1 0.5l0.8-0.4l0.7-1l-0.1-1l-1.6-1.8l1.2-1.2v-1l2-2v-1l2-2v-1l2-2v-1l2-2v-1l2-2v-1l3-3v-1l2-2v-1l2-2v-1l2-2v-1l2-2v-1l2-2v-1l2-2v-1l2-2v-1l3-3v-1l2-2v-1l2-2v-1l2-2v-1l2-2v-1l2-2v-1l2-2v-1l2.1-2v-1l3-3v-1z"/><path fill="#004cff" d="M431.5 317.4v224h-254.4v-1l3-3v-1l2-2v-1l2-2v-1l2.1-2v-1l2-2v-1l2-2v-1l2-2v-1l2-2v-1l3-3v-1l2-2v-1l2-2v-1l2-2v-1l2-2v-1l2-2v-1l2-2v-1l2-2v-1l3-3v-1l2-2v-1l2-2v-1l2-2v-1l2-2v-1l2-2v-1l2-2v-1l3-3v-1l2-2v-1l2-2v-1l2-2v-1l2-2v-1l2-2v-1l2-2v-1l2-2v-1l3-3v-1l2-2v-1l2-2v-1l2-2v-1l2-2v-1l2.1-2v-1l2-2v-1l2-2v-1l3-3v-1l2-2v-1l2-2v-1l2-2v-1l2-2v-1l2-2v-1l2-2v-1l2-2v-1l2.7-2.7l-0.2 0.7l0.5 0.9l1 0.6l1-0.5l0.6-1v-1l-0.6-1.2l-1-0.8l1-1v-1l2-2v-1l2-2v-1l2-2v-1l2-2v-1l2-2v-1l3-3v-1l2-2v-1l2-2v-1l2-2v-1l2-2v-1l2-2v-1l2-2v-1l2-2v-1l3-3v-1l2-2v-1l2-2v-1l2-2v-1l2-2v-1l2-2v-1l2-2v-1l2.1-2v-1l3-3v-1z"/><path fill="#0054ff" d="M431.5 317.4v224h-254.4v-1l3-3v-1l2-2v-1l2-2v-1l2.1-2v-1l2-2v-1l2-2v-1l2-2v-1l2-2v-1l3-3v-1l2-2v-1l2-2v-1l2-2v-1l2-2v-1l2-2v-1l2-2v-1l2-2v-1l3-3v-1l2-2v-1l2-2v-1l2-2v-1l2-2v-1l2-2v-1l2-2v-1l3-3v-1l2-2v-1l2-2v-1l2-2v-1l2-2v-1l2-2v-1l2-2v-1l2-2v-1l3-3v-1l2-2v-1l2-2v-1l2-2v-1l2-2v-1l2.1-2v-1l2-2v-1l2-2v-1l3-3v-1l2-2v-1l2-2v-1l2-2v-1l2-2v-1l2-2v-1l2-2v-1l2-2v-1l2.6-2.6l-0.1 0.6l0.5 1l1 0.6l1.2-0.6l0.6-1l0.1-1l-0.4-1l-1.2-1.3l0.7-0.7v-1l2-2v-1l2-2v-1l2-2v-1l2-2v-1l2-2v-1l3-3v-1l2-2v-1l2-2v-1l2-2v-1l2-2v-1l2-2v-1l2-2v-1l2-2v-1l3-3v-1l2-2v-1l2-2v-1l2-2v-1l2-2v-1l2-2v-1l2-2v-1l2.1-2v-1l3-3v-1z"/><path fill="#005cff" d="M431.5 317.4v224h-254.4v-1l3-3v-1l2-2v-1l2-2v-1l2.1-2v-1l2-2v-1l2-2v-1l2-2v-1l2-2v-1l3-3v-1l2-2v-1l2-2v-1l2-2v-1l2-2v-1l2-2v-1l2-2v-1l2-2v-1l3-3v-1l2-2v-1l2-2v-1l2-2v-1l2-2v-1l2-2v-1l2-2v-1l3-3v-1l2-2v-1l2-2v-1l2-2v-1l2-2v-1l2-2v-1l2-2v-1l2-2v-1l3-3v-1l2-2v-1l2-2v-1l2-2v-1l2-2v-1l2.1-2v-1l2-2v-1l2-2v-1l3-3v-1l2-2v-1l2-2v-1l2-2v-1l2-2v-1l2-2v-1l2-2v-1l2-2v-1l2.6-2.6l-0.2 0.6l0.6 1l1 0.7l1.5-0.7l0.6-1v-1l-0.3-1l-1.2-1.6l0.4-0.4v-1l2-2v-1l2-2v-1l2-2v-1l2-2v-1l2-2v-1l3-3v-1l2-2v-1l2-2v-1l2-2v-1l2-2v-1l2-2v-1l2-2v-1l2-2v-1l3-3v-1l2-2v-1l2-2v-1l2-2v-1l2-2v-1l2-2v-1l2-2v-1l2.1-2v-1l3-3v-1z"/><path fill="#0064ff" d="M431.5 317.4v224h-254.4v-1l3-3v-1l2-2v-1l2-2v-1l2.1-2v-1l2-2v-1l2-2v-1l2-2v-1l2-2v-1l3-3v-1l2-2v-1l2-2v-1l2-2v-1l2-2v-1l2-2v-1l2-2v-1l2-2v-1l3-3v-1l2-2v-1l2-2v-1l2-2v-1l2-2v-1l2-2v-1l2-2v-1l3-3v-1l2-2v-1l2-2v-1l2-2v-1l2-2v-1l2-2v-1l2-2v-1l2-2v-1l3-3v-1l2-2v-1l2-2v-1l2-2v-1l2-2v-1l2.1-2v-1l2-2v-1l2-2v-1l3-3v-1l2-2v-1l2-2v-1l2-2v-1l2-2v-1l2-2v-1l2-2v-1l2-2v-1l2.6-2.6l-0.2 0.6l0.6 1.2l1 0.6l1.7-0.8l0.6-1l0.2-1l-0.5-1.5l-1.1-1.4l0.1-1.1l2-2v-1l2-2v-1l2-2v-1l2-2v-1l2-2v-1l3-3v-1l2-2v-1l2-2v-1l2-2v-1l2-2v-1l2-2v-1l2-2v-1l2-2v-1l3-3v-1l2-2v-1l2-2v-1l2-2v-1l2-2v-1l2-2v-1l2-2v-1l2.1-2v-1l3-3v-1z"/><path fill="#006cff" d="M431.5 317.4v224h-254.4v-1l3-3v-1l2-2v-1l2-2v-1l2.1-2v-1l2-2v-1l2-2v-1l2-2v-1l2-2v-1l3-3v-1l2-2v-1l2-2v-1l2-2v-1l2-2v-1l2-2v-1l2-2v-1l2-2v-1l3-3v-1l2-2v-1l2-2v-1l2-2v-1l2-2v-1l2-2v-1l2-2v-1l3-3v-1l2-2v-1l2-2v-1l2-2v-1l2-2v-1l2-2v-1l2-2v-1l2-2v-1l3-3v-1l2-2v-1l2-2v-1l2-2v-1l2-2v-1l2.1-2v-1l2-2v-1l2-2v-1l3-3v-1l2-2v-1l2-2v-1l2-2v-1l2-2v-1l2-2v-1l2-2v-1l2-2v-1l2.5-2.5l-0.1 0.5l0.6 1.3l1 0.5l1-0.2l1-0.6l0.6-1v-2l-0.6-1.3l-1-1.1v-0.6l2-2v-1l2-2v-1l2-2v-1l2-2v-1l2-2v-1l3-3v-1l2-2v-1l2-2v-1l2-2v-1l2-2v-1l2-2v-1l2-2v-1l2-2v-1l3-3v-1l2-2v-1l2-2v-1l2-2v-1l2-2v-1l2-2v-1l2-2v-1l2.1-2v-1l3-3v-1z"/><path fill="#0074ff" d="M431.5 317.4v224h-254.4v-1l3-3v-1l2-2v-1l2-2v-1l2.1-2v-1l2-2v-1l2-2v-1l2-2v-1l2-2v-1l3-3v-1l2-2v-1l2-2v-1l2-2v-1l2-2v-1l2-2v-1l2-2v-1l2-2v-1l3-3v-1l2-2v-1l2-2v-1l2-2v-1l2-2v-1l2-2v-1l2-2v-1l3-3v-1l2-2v-1l2-2v-1l2-2v-1l2-2v-1l2-2v-1l2-2v-1l2-2v-1l3-3v-1l2-2v-1l2-2v-1l2-2v-1l2-2v-1l2.1-2v-1l2-2v-1l2-2v-1l3-3v-1l2-2v-1l2-2v-1l2-2v-1l2-2v-1l2-2v-1l2-2v-1l2-2v-1l2.5-2.5l-0.1 0.5l0.6 1.4l1 0.5l1-0.1l1.3-0.8l0.6-1l0.1-2l-1-2l-1-1l2-2v-1l2-2v-1l2-2v-1l2-2v-1l2-2v-1l3-3v-1l2-2v-1l2-2v-1l2-2v-1l2-2v-1l2-2v-1l2-2v-1l2-2v-1l3-3v-1l2-2v-1l2-2v-1l2-2v-1l2-2v-1l2-2v-1l2-2v-1l2.1-2v-1l3-3v-1z"/><path fill="#007cff" d="M431.5 317.4v224h-254.4v-1l3-3v-1l2-2v-1l2-2v-1l2.1-2v-1l2-2v-1l2-2v-1l2-2v-1l2-2v-1l3-3v-1l2-2v-1l2-2v-1l2-2v-1l2-2v-1l2-2v-1l2-2v-1l2-2v-1l3-3v-1l2-2v-1l2-2v-1l2-2v-1l2-2v-1l2-2v-1l2-2v-1l3-3v-1l2-2v-1l2-2v-1l2-2v-1l2-2v-1l2-2v-1l2-2v-1l2-2v-1l3-3v-1l2-2v-1l2-2v-1l2-2v-1l2-2v-1l2.1-2v-1l2-2v-1l2-2v-1l3-3v-1l2-2v-1l2-2v-1l2-2v-1l2-2v-1l2-2v-1l2-2v-1l2-2v-1l2.5-2.5l-0.2 0.5l0.7 1.6l1 0.4l1-0.1l1.6-0.9l0.6-1l0.3-2l-0.8-2l-1.3-1.4l1.6-1.6v-1l2-2v-1l2-2v-1l2-2v-1l2-2v-1l3-3v-1l2-2v-1l2-2v-1l2-2v-1l2-2v-1l2-2v-1l2-2v-1l2-2v-1l3-3v-1l2-2v-1l2-2v-1l2-2v-1l2-2v-1l2-2v-1l2-2v-1l2.1-2v-1l3-3v-1z"/><path fill="#0083ff" d="M431.5 317.4v224h-254.4v-1l3-3v-1l2-2v-1l2-2v-1l2.1-2v-1l2-2v-1l2-2v-1l2-2v-1l2-2v-1l3-3v-1l2-2v-1l2-2v-1l2-2v-1l2-2v-1l2-2v-1l2-2v-1l2-2v-1l3-3v-1l2-2v-1l2-2v-1l2-2v-1l2-2v-1l2-2v-1l2-2v-1l3-3v-1l2-2v-1l2-2v-1l2-2v-1l2-2v-1l2-2v-1l2-2v-1l2-2v-1l3-3v-1l2-2v-1l2-2v-1l2-2v-1l2-2v-1l2.1-2v-1l2-2v-1l2-2v-1l3-3v-1l2-2v-1l2-2v-1l2-2v-1l2-2v-1l2-2v-1l2-2v-1l2-2v-1l2.4-2.4l0.2 1.4l0.4 0.7l1 0.5l1.4-0.2l1.6-1l0.6-1l0.3-2l-0.6-2l-1.4-1.9l1.1-1.1v-1l2-2v-1l2-2v-1l2-2v-1l2-2v-1l3-3v-1l2-2v-1l2-2v-1l2-2v-1l2-2v-1l2-2v-1l2-2v-1l2-2v-1l3-3v-1l2-2v-1l2-2v-1l2-2v-1l2-2v-1l2-2v-1l2-2v-1l2.1-2v-1l3-3v-1z"/><path fill="#008bff" d="M431.5 317.4v224h-254.4v-1l3-3v-1l2-2v-1l2-2v-1l2.1-2v-1l2-2v-1l2-2v-1l2-2v-1l2-2v-1l3-3v-1l2-2v-1l2-2v-1l2-2v-1l2-2v-1l2-2v-1l2-2v-1l2-2v-1l3-3v-1l2-2v-1l2-2v-1l2-2v-1l2-2v-1l2-2v-1l2-2v-1l3-3v-1l2-2v-1l2-2v-1l2-2v-1l2-2v-1l2-2v-1l2-2v-1l2-2v-1l3-3v-1l2-2v-1l2-2v-1l2-2v-1l2-2v-1l2.1-2v-1l2-2v-1l2-2v-1l3-3v-1l2-2v-1l2-2v-1l2-2v-1l2-2v-1l2-2v-1l2-2v-1l2-2v-1l2.4-2.4l0.1 1.4l0.5 0.8l1 0.5l2-0.3l1.4-1l0.6-1l0.4-2l-0.4-2l-1.6-2.4l0.6-0.6v-1l2-2v-1l2-2v-1l2-2v-1l2-2v-1l3-3v-1l2-2v-1l2-2v-1l2-2v-1l2-2v-1l2-2v-1l2-2v-1l2-2v-1l3-3v-1l2-2v-1l2-2v-1l2-2v-1l2-2v-1l2-2v-1l2-2v-1l2.1-2v-1l3-3v-1z"/><path fill="#0093ff" d="M431.5 317.4v224h-254.4v-1l3-3v-1l2-2v-1l2-2v-1l2.1-2v-1l2-2v-1l2-2v-1l2-2v-1l2-2v-1l3-3v-1l2-2v-1l2-2v-1l2-2v-1l2-2v-1l2-2v-1l2-2v-1l2-2v-1l3-3v-1l2-2v-1l2-2v-1l2-2v-1l2-2v-1l2-2v-1l2-2v-1l3-3v-1l2-2v-1l2-2v-1l2-2v-1l2-2v-1l2-2v-1l2-2v-1l2-2v-1l3-3v-1l2-2v-1l2-2v-1l2-2v-1l2-2v-1l2.1-2v-1l2-2v-1l2-2v-1l3-3v-1l2-2v-1l2-2v-1l2-2v-1l2-2v-1l2-2v-1l2-2v-1l2-2v-1l2.4-2.4v1.4l0.6 1l1 0.5l2-0.2l1.8-1.3l1-2l0.1-2l-0.7-2l-1.3-1.9l0.1-1.1l2-2v-1l2-2v-1l2-2v-1l2-2v-1l3-3v-1l2-2v-1l2-2v-1l2-2v-1l2-2v-1l2-2v-1l2-2v-1l2-2v-1l3-3v-1l2-2v-1l2-2v-1l2-2v-1l2-2v-1l2-2v-1l2-2v-1l2.1-2v-1l3-3v-1z"/><path fill="#009bff" d="M431.5 317.4v224h-254.4v-1l3-3v-1l2-2v-1l2-2v-1l2.1-2v-1l2-2v-1l2-2v-1l2-2v-1l2-2v-1l3-3v-1l2-2v-1l2-2v-1l2-2v-1l2-2v-1l2-2v-1l2-2v-1l2-2v-1l3-3v-1l2-2v-1l2-2v-1l2-2v-1l2-2v-1l2-2v-1l2-2v-1l3-3v-1l2-2v-1l2-2v-1l2-2v-1l2-2v-1l2-2v-1l2-2v-1l2-2v-1l3-3v-1l2-2v-1l2-2v-1l2-2v-1l2-2v-1l2.1-2v-1l2-2v-1l2-2v-1l3-3v-1l2-2v-1l2-2v-1l2-2v-1l2-2v-1l2-2v-1l2-2v-1l2-2v-1l2.3-2.3v1.3l0.6 1l1.1 0.6l2-0.1l2.3-1.5l1.1-2l0.1-2l-1-3l-1.5-2l2-2v-1l2-2v-1l2-2v-1l2-2v-1l3-3v-1l2-2v-1l2-2v-1l2-2v-1l2-2v-1l2-2v-1l2-2v-1l2-2v-1l3-3v-1l2-2v-1l2-2v-1l2-2v-1l2-2v-1l2-2v-1l2-2v-1l2.1-2v-1l3-3v-1z"/><path fill="#00a3ff" d="M431.5 317.4v224h-254.4v-1l3-3v-1l2-2v-1l2-2v-1l2.1-2v-1l2-2v-1l2-2v-1l2-2v-1l2-2v-1l3-3v-1l2-2v-1l2-2v-1l2-2v-1l2-2v-1l2-2v-1l2-2v-1l2-2v-1l3-3v-1l2-2v-1l2-2v-1l2-2v-1l2-2v-1l2-2v-1l2-2v-1l3-3v-1l2-2v-1l2-2v-1l2-2v-1l2-2v-1l2-2v-1l2-2v-1l2-2v-1l3-3v-1l2-2v-1l2-2v-1l2-2v-1l2-2v-1l2.1-2v-1l2-2v-1l2-2v-1l3-3v-1l2-2v-1l2-2v-1l2-2v-1l2-2v-1l2-2v-1l2-2v-1l2-2v-1l2.3-2.3v1.3l0.7 1.3l1 0.5h2l1.7-0.8l1.8-2l0.7-2l-0.1-2l-0.6-2l-1.9-2.7l1.4-1.3v-1l2-2v-1l2-2v-1l2-2v-1l3-3v-1l2-2v-1l2-2v-1l2-2v-1l2-2v-1l2-2v-1l2-2v-1l2-2v-1l3-3v-1l2-2v-1l2-2v-1l2-2v-1l2-2v-1l2-2v-1l2-2v-1l2.1-2v-1l3-3v-1z"/><path fill="#00abff" d="M431.5 317.4v224h-254.4v-1l3-3v-1l2-2v-1l2-2v-1l2.1-2v-1l2-2v-1l2-2v-1l2-2v-1l2-2v-1l3-3v-1l2-2v-1l2-2v-1l2-2v-1l2-2v-1l2-2v-1l2-2v-1l2-2v-1l3-3v-1l2-2v-1l2-2v-1l2-2v-1l2-2v-1l2-2v-1l2-2v-1l3-3v-1l2-2v-1l2-2v-1l2-2v-1l2-2v-1l2-2v-1l2-2v-1l2-2v-1l3-3v-1l2-2v-1l2-2v-1l2-2v-1l2-2v-1l2.1-2v-1l2-2v-1l2-2v-1l3-3v-1l2-2v-1l2-2v-1l2-2v-1l2-2v-1l2-2v-1l2-2v-1l2-2v-1l2.3-2.3l-0.1 1.3l0.8 1.5l1 0.5h2l2.4-1l1.7-2l0.8-2v-2l-0.9-3l-1.6-2.4l0.6-0.6v-1l2-2v-1l2-2v-1l2-2v-1l3-3v-1l2-2v-1l2-2v-1l2-2v-1l2-2v-1l2-2v-1l2-2v-1l2-2v-1l3-3v-1l2-2v-1l2-2v-1l2-2v-1l2-2v-1l2-2v-1l2-2v-1l2.1-2v-1l3-3v-1z"/><path fill="#00b3ff" d="M431.5 317.4v224h-254.4v-1l3-3v-1l2-2v-1l2-2v-1l2.1-2v-1l2-2v-1l2-2v-1l2-2v-1l2-2v-1l3-3v-1l2-2v-1l2-2v-1l2-2v-1l2-2v-1l2-2v-1l2-2v-1l2-2v-1l3-3v-1l2-2v-1l2-2v-1l2-2v-1l2-2v-1l2-2v-1l2-2v-1l3-3v-1l2-2v-1l2-2v-1l2-2v-1l2-2v-1l2-2v-1l2-2v-1l2-2v-1l3-3v-1l2-2v-1l2-2v-1l2-2v-1l2-2v-1l2.1-2v-1l2-2v-1l2-2v-1l3-3v-1l2-2v-1l2-2v-1l2-2v-1l2-2v-1l2-2v-1l2-2v-1l2-2v-1l2.2-2.2l0.1 2.2l0.7 0.7l1 0.5l2 0.1l3-1.2l1.8-2.1l0.8-2l0.1-3l-0.7-2.3l-2-3.1v-0.6l2-2v-1l2-2v-1l2-2v-1l3-3v-1l2-2v-1l2-2v-1l2-2v-1l2-2v-1l2-2v-1l2-2v-1l2-2v-1l3-3v-1l2-2v-1l2-2v-1l2-2v-1l2-2v-1l2-2v-1l2-2v-1l2.1-2v-1l3-3v-1z"/><path fill="#00bbff" d="M431.5 317.4v224h-254.4v-1l3-3v-1l2-2v-1l2-2v-1l2.1-2v-1l2-2v-1l2-2v-1l2-2v-1l2-2v-1l3-3v-1l2-2v-1l2-2v-1l2-2v-1l2-2v-1l2-2v-1l2-2v-1l2-2v-1l3-3v-1l2-2v-1l2-2v-1l2-2v-1l2-2v-1l2-2v-1l2-2v-1l3-3v-1l2-2v-1l2-2v-1l2-2v-1l2-2v-1l2-2v-1l2-2v-1l2-2v-1l3-3v-1l2-2v-1l2-2v-1l2-2v-1l2-2v-1l2.1-2v-1l2-2v-1l2-2v-1l3-3v-1l2-2v-1l2-2v-1l2-2v-1l2-2v-1l2-2v-1l2-2v-1l2-2v-1l2.2-2.2v2.2l0.8 0.9l2 0.7l2-0.1l2.9-1.5l1.7-2l1.1-3l-0.1-3l-1.1-3l-1.9-2.6l1.4-1.4v-1l2-2v-1l2-2v-1l3-3v-1l2-2v-1l2-2v-1l2-2v-1l2-2v-1l2-2v-1l2-2v-1l2-2v-1l3-3v-1l2-2v-1l2-2v-1l2-2v-1l2-2v-1l2-2v-1l2-2v-1l2.1-2v-1l3-3v-1z"/><path fill="#00c3ff" d="M431.5 317.4v224h-254.4v-1l3-3v-1l2-2v-1l2-2v-1l2.1-2v-1l2-2v-1l2-2v-1l2-2v-1l2-2v-1l3-3v-1l2-2v-1l2-2v-1l2-2v-1l2-2v-1l2-2v-1l2-2v-1l2-2v-1l3-3v-1l2-2v-1l2-2v-1l2-2v-1l2-2v-1l2-2v-1l2-2v-1l3-3v-1l2-2v-1l2-2v-1l2-2v-1l2-2v-1l2-2v-1l2-2v-1l2-2v-1l3-3v-1l2-2v-1l2-2v-1l2-2v-1l2-2v-1l2.1-2v-1l2-2v-1l2-2v-1l3-3v-1l2-2v-1l2-2v-1l2-2v-1l2-2v-1l2-2v-1l2-2v-1l2-2v-1l2.2-2.2l-0.2 2.2l1 1.2l2 0.7l2-0.1l3-1.3l2.4-2.5l1.2-3l0.1-3l-0.8-3l-2.2-3.7l0.3-0.3v-1l2-2v-1l2-2v-1l3-3v-1l2-2v-1l2-2v-1l2-2v-1l2-2v-1l2-2v-1l2-2v-1l2-2v-1l3-3v-1l2-2v-1l2-2v-1l2-2v-1l2-2v-1l2-2v-1l2-2v-1l2.1-2v-1l3-3v-1z"/><path fill="#00cbff" d="M431.5 317.4v224h-254.4v-1l3-3v-1l2-2v-1l2-2v-1l2.1-2v-1l2-2v-1l2-2v-1l2-2v-1l2-2v-1l3-3v-1l2-2v-1l2-2v-1l2-2v-1l2-2v-1l2-2v-1l2-2v-1l2-2v-1l3-3v-1l2-2v-1l2-2v-1l2-2v-1l2-2v-1l2-2v-1l2-2v-1l3-3v-1l2-2v-1l2-2v-1l2-2v-1l2-2v-1l2-2v-1l2-2v-1l2-2v-1l3-3v-1l2-2v-1l2-2v-1l2-2v-1l2-2v-1l2.1-2v-1l2-2v-1l2-2v-1l3-3v-1l2-2v-1l2-2v-1l2-2v-1l2-2v-1l2-2v-1l2-2v-1l2-2v-1l2.1-2.1l-0.3 2.1l1.2 1.5l2 0.7h2l3.3-1.2l1.4-1l1.7-2l1.3-3l0.1-4l-1.2-4l-2.3-3.4l1.7-1.6v-1l2-2v-1l3-3v-1l2-2v-1l2-2v-1l2-2v-1l2-2v-1l2-2v-1l2-2v-1l2-2v-1l3-3v-1l2-2v-1l2-2v-1l2-2v-1l2-2v-1l2-2v-1l2-2v-1l2.1-2v-1l3-3v-1z"/><path fill="#00d3ff" d="M431.5 317.4v224h-254.4v-1l3-3v-1l2-2v-1l2-2v-1l2.1-2v-1l2-2v-1l2-2v-1l2-2v-1l2-2v-1l3-3v-1l2-2v-1l2-2v-1l2-2v-1l2-2v-1l2-2v-1l2-2v-1l2-2v-1l3-3v-1l2-2v-1l2-2v-1l2-2v-1l2-2v-1l2-2v-1l2-2v-1l3-3v-1l2-2v-1l2-2v-1l2-2v-1l2-2v-1l2-2v-1l2-2v-1l2-2v-1l3-3v-1l2-2v-1l2-2v-1l2-2v-1l2-2v-1l2.1-2v-1l2-2v-1l2-2v-1l3-3v-1l2-2v-1l2-2v-1l2-2v-1l2-2v-1l2-2v-1l2-2v-1l2-2v-1l2.1-2.1l-0.5 1.1v1l0.5 1l1.9 1.3l3 0.3l2-0.4l2.4-1.2l1.3-1l1.7-2l1.4-3l0.4-4l-0.8-4l-1-2l-1.8-2.6l0.4-0.4v-1l2-2v-1l3-3v-1l2-2v-1l2-2v-1l2-2v-1l2-2v-1l2-2v-1l2-2v-1l2-2v-1l3-3v-1l2-2v-1l2-2v-1l2-2v-1l2-2v-1l2-2v-1l2-2v-1l2.1-2v-1l3-3v-1z"/><path fill="#00dbff" d="M431.5 317.4v224h-254.4v-1l3-3v-1l2-2v-1l2-2v-1l2.1-2v-1l2-2v-1l2-2v-1l2-2v-1l2-2v-1l3-3v-1l2-2v-1l2-2v-1l2-2v-1l2-2v-1l2-2v-1l2-2v-1l2-2v-1l3-3v-1l2-2v-1l2-2v-1l2-2v-1l2-2v-1l2-2v-1l2-2v-1l3-3v-1l2-2v-1l2-2v-1l2-2v-1l2-2v-1l2-2v-1l2-2v-1l2-2v-1l3-3v-1l2-2v-1l2-2v-1l2-2v-1l2-2v-1l2.1-2v-1l2-2v-1l2-2v-1l3-3v-1l2-2v-1l2-2v-1l2-2v-1l2-2v-1l2-2v-1l2-2v-1l2-2v-1l2.1-2.1l-0.7 1.1v1l0.6 1.2l0.9 0.8l2.1 0.9h3l2-0.5l2.7-1.4l2.9-3l1.8-4l0.3-2l-0.1-3l-1.1-4l-2.9-4.6l1.4-1.4v-1l3-3v-1l2-2v-1l2-2v-1l2-2v-1l2-2v-1l2-2v-1l2-2v-1l2-2v-1l3-3v-1l2-2v-1l2-2v-1l2-2v-1l2-2v-1l2-2v-1l2-2v-1l2.1-2v-1l3-3v-1z"/><path fill="#00e3f9" d="M431.5 317.4v224h-254.4v-1l3-3v-1l2-2v-1l2-2v-1l2.1-2v-1l2-2v-1l2-2v-1l2-2v-1l2-2v-1l3-3v-1l2-2v-1l2-2v-1l2-2v-1l2-2v-1l2-2v-1l2-2v-1l2-2v-1l3-3v-1l2-2v-1l2-2v-1l2-2v-1l2-2v-1l2-2v-1l2-2v-1l3-3v-1l2-2v-1l2-2v-1l2-2v-1l2-2v-1l2-2v-1l2-2v-1l2-2v-1l3-3v-1l2-2v-1l2-2v-1l2-2v-1l2-2v-1l2.1-2v-1l2-2v-1l2-2v-1l3-3v-1l2-2v-1l2-2v-1l2-2v-1l2-2v-1l2-2v-1l2-2v-1l2-2v-1l2-2l-0.8 1l-0.1 1l0.9 1.7l1 0.8l2 0.8l3 0.1l3-0.7l2-1l2.2-1.7l1.7-2l1.2-2l1-3l0.3-2l-0.1-3l-1.4-5l-2.9-5l3-3v-1l2-2v-1l2-2v-1l2-2v-1l2-2v-1l2-2v-1l2-2v-1l2-2v-1l3-3v-1l2-2v-1l2-2v-1l2-2v-1l2-2v-1l2-2v-1l2-2v-1l2.1-2v-1l3-3v-1z"/><path fill="#04ebf2" d="M431.5 317.4v224h-254.4v-1l3-3v-1l2-2v-1l2-2v-1l2.1-2v-1l2-2v-1l2-2v-1l2-2v-1l2-2v-1l3-3v-1l2-2v-1l2-2v-1l2-2v-1l2-2v-1l2-2v-1l2-2v-1l2-2v-1l3-3v-1l2-2v-1l2-2v-1l2-2v-1l2-2v-1l2-2v-1l2-2v-1l3-3v-1l2-2v-1l2-2v-1l2-2v-1l2-2v-1l2-2v-1l2-2v-1l2-2v-1l3-3v-1l2-2v-1l2-2v-1l2-2v-1l2-2v-1l2.1-2v-1l2-2v-1l2-2v-1l3-3v-1l2-2v-1l2-2v-1l2-2v-1l2-2v-1l2-2v-1l2-2v-1l2-2v-1l2-2l-0.9 1l-0.2 1l0.3 1l0.8 1.1l1 0.8l2 0.8l4 0.2l3-0.9l2.1-1l2.6-2l1.7-2l1.2-2l1.2-3l0.5-3l-0.1-3l-0.5-3l-1.1-3l-2.9-4.7l1.3-1.3v-1l2-2v-1l2-2v-1l2-2v-1l2-2v-1l2-2v-1l2-2v-1l2-2v-1l3-3v-1l2-2v-1l2-2v-1l2-2v-1l2-2v-1l2-2v-1l2-2v-1l2.1-2v-1l3-3v-1z"/><path fill="#0bf3ec" d="M431.5 317.4v224h-254.4v-1l3-3v-1l2-2v-1l2-2v-1l2.1-2v-1l2-2v-1l2-2v-1l2-2v-1l2-2v-1l3-3v-1l2-2v-1l2-2v-1l2-2v-1l2-2v-1l2-2v-1l2-2v-1l2-2v-1l3-3v-1l2-2v-1l2-2v-1l2-2v-1l2-2v-1l2-2v-1l2-2v-1l3-3v-1l2-2v-1l2-2v-1l2-2v-1l2-2v-1l2-2v-1l2-2v-1l2-2v-1l3-3v-1l2-2v-1l2-2v-1l2-2v-1l2-2v-1l2.1-2v-1l2-2v-1l2-2v-1l3-3v-1l2-2v-1l2-2v-1l2-2v-1l2-2v-1l2-2v-1l2-2v-1l2-2v-1l0.8-0.8l0.1 1.8l0.6 1l2.5 1.8l3 0.7l3-0.2l3-0.8l2.8-1.5l2.5-2l2.4-3l1.6-3l0.8-3l0.4-3l-0.1-3l-0.6-3l-1.1-3l-3.3-5.4l1.6-1.6v-1l2-2v-1l2-2v-1l2-2v-1l2-2v-1l2-2v-1l2-2v-1l3-3v-1l2-2v-1l2-2v-1l2-2v-1l2-2v-1l2-2v-1l2-2v-1l2.1-2v-1l3-3v-1z"/><path fill="#11fbe5" d="M431.5 317.4v224h-254.4v-1l3-3v-1l2-2v-1l2-2v-1l2.1-2v-1l2-2v-1l2-2v-1l2-2v-1l2-2v-1l3-3v-1l2-2v-1l2-2v-1l2-2v-1l2-2v-1l2-2v-1l2-2v-1l2-2v-1l3-3v-1l2-2v-1l2-2v-1l2-2v-1l2-2v-1l2-2v-1l2-2v-1l3-3v-1l2-2v-1l2-2v-1l2-2v-1l2-2v-1l2-2v-1l2-2v-1l2-2v-1l3-3v-1l2-2v-1l2-2v-1l2-2v-1l2-2v-1l2.1-2v-1l2-2v-1l2-2v-1l3-3v-1l2-2v-1l2-2v-1l2-2v-1l2-2v-1l2-2v-1l2-2v-1l2-2v-1l0.5-0.5v1.5l0.5 1l1 1.1l2 1.2l3 0.7h3l4-1l3-1.5l3.2-2.5l2.4-3l1.7-3l1-3l0.6-3v-4l-0.4-3l-1.3-4l-1.5-3l-2.3-3.4l1.6-1.6v-1l2-2v-1l2-2v-1l2-2v-1l2-2v-1l2-2v-1l3-3v-1l2-2v-1l2-2v-1l2-2v-1l2-2v-1l2-2v-1l2-2v-1l2.1-2v-1l3-3v-1z"/><path fill="#18ffdf" d="M431.5 317.4v224h-254.4v-1l3-3v-1l2-2v-1l2-2v-1l2.1-2v-1l2-2v-1l2-2v-1l2-2v-1l2-2v-1l3-3v-1l2-2v-1l2-2v-1l2-2v-1l2-2v-1l2-2v-1l2-2v-1l2-2v-1l3-3v-1l2-2v-1l2-2v-1l2-2v-1l2-2v-1l2-2v-1l2-2v-1l3-3v-1l2-2v-1l2-2v-1l2-2v-1l2-2v-1l2-2v-1l2-2v-1l2-2v-1l3-3v-1l2-2v-1l2-2v-1l2-2v-1l2-2v-1l2.1-2v-1l2-2v-1l2-2v-1l3-3v-1l2-2v-1l2-2v-1l2-2v-1l2-2v-1l2-2v-1l2-2v-1l2-2l0.1-1.2l0.1 1.2l0.8 1.6l2 1.7l2 0.9l2 0.5l4-0.1l4-1l3.4-1.6l3.8-3l2.6-3l1.8-3l1.5-4l0.7-4v-4l-0.7-4l-1.3-4l-1.8-3.5l-2.2-3.3l1.2-1.2v-1l2-2v-1l2-2v-1l2-2v-1l2-2v-1l3-3v-1l2-2v-1l2-2v-1l2-2v-1l2-2v-1l2-2v-1l2-2v-1l2.1-2v-1l3-3v-1z"/><path fill="#1effd9" d="M431.5 317.4v224h-254.4v-1l3-3v-1l2-2v-1l2-2v-1l2.1-2v-1l2-2v-1l2-2v-1l2-2v-1l2-2v-1l3-3v-1l2-2v-1l2-2v-1l2-2v-1l2-2v-1l2-2v-1l2-2v-1l2-2v-1l3-3v-1l2-2v-1l2-2v-1l2-2v-1l2-2v-1l2-2v-1l2-2v-1l3-3v-1l2-2v-1l2-2v-1l2-2v-1l2-2v-1l2-2v-1l2-2v-1l2-2v-1l3-3v-1l2-2v-1l2-2v-1l2-2v-1l2-2v-1l2.1-2v-1l2-2v-1l2-2v-1l3-3v-1l2-2v-1l2-2v-1l2-2v-1l2-2v-1l2-2v-1l2-2v-1l1.9-1.9l0.9 1.9l0.9 1l3.3 1.8l4 0.7l5-0.5l4-1.4l4-2.4l3.6-3.2l2.3-3l2.2-4l1.3-4l0.7-4v-4l-0.6-4l-0.8-3l-2.1-5l-2.9-4.7l0.3-0.3v-1l2-2v-1l2-2v-1l2-2v-1l3-3v-1l2-2v-1l2-2v-1l2-2v-1l2-2v-1l2-2v-1l2-2v-1l2.1-2v-1l3-3v-1z"/><path fill="#25ffd2" d="M431.5 317.4v224h-254.4v-1l3-3v-1l2-2v-1l2-2v-1l2.1-2v-1l2-2v-1l2-2v-1l2-2v-1l2-2v-1l3-3v-1l2-2v-1l2-2v-1l2-2v-1l2-2v-1l2-2v-1l2-2v-1l2-2v-1l3-3v-1l2-2v-1l2-2v-1l2-2v-1l2-2v-1l2-2v-1l2-2v-1l3-3v-1l2-2v-1l2-2v-1l2-2v-1l2-2v-1l2-2v-1l2-2v-1l2-2v-1l3-3v-1l2-2v-1l2-2v-1l2-2v-1l2-2v-1l2.1-2v-1l2-2v-1l2-2v-1l3-3v-1l2-2v-1l2-2v-1l2-2v-1l2-2v-1l2-2v-1l2-2v-1l1.5-1.5l0.7 1.5l1.8 1.9l2 1.2l2 0.7l4 0.5l5-0.5l4-1.3l4.6-2.5l3.7-3l3.5-4l2.3-4l1.6-4l1.1-5l0.2-5l-0.6-5l-1.5-5l-2.3-5l-3-4.6l1.4-1.4v-1l2-2v-1l3-3v-1l2-2v-1l2-2v-1l2-2v-1l2-2v-1l2-2v-1l2-2v-1l2.1-2v-1l3-3v-1z"/><path fill="#2bffcc" d="M431.5 317.4v224h-254.4v-1l3-3v-1l2-2v-1l2-2v-1l2.1-2v-1l2-2v-1l2-2v-1l2-2v-1l2-2v-1l3-3v-1l2-2v-1l2-2v-1l2-2v-1l2-2v-1l2-2v-1l2-2v-1l2-2v-1l3-3v-1l2-2v-1l2-2v-1l2-2v-1l2-2v-1l2-2v-1l2-2v-1l3-3v-1l2-2v-1l2-2v-1l2-2v-1l2-2v-1l2-2v-1l2-2v-1l2-2v-1l3-3v-1l2-2v-1l2-2v-1l2-2v-1l2-2v-1l2.1-2v-1l2-2v-1l2-2v-1l3-3v-1l2-2v-1l2-2v-1l2-2v-1l2-2v-1l2-2v-1l2-2v-1l1.2-1.2l1.1 2.2l1.7 1.6l4 1.9l5 0.7l5-0.5l5.4-1.7l5.4-3l4.6-4l3.3-4l2.9-5l1.8-5l0.9-5l0.2-6l-0.9-6l-1.6-5l-2.3-5l-3.4-5.3l2.7-2.7v-1l2-2v-1l2-2v-1l2-2v-1l2-2v-1l2-2v-1l2-2v-1l2.1-2v-1l3-3v-1z"/><path fill="#31ffc5" d="M431.5 317.4v224h-254.4v-1l3-3v-1l2-2v-1l2-2v-1l2.1-2v-1l2-2v-1l2-2v-1l2-2v-1l2-2v-1l3-3v-1l2-2v-1l2-2v-1l2-2v-1l2-2v-1l2-2v-1l2-2v-1l2-2v-1l3-3v-1l2-2v-1l2-2v-1l2-2v-1l2-2v-1l2-2v-1l2-2v-1l3-3v-1l2-2v-1l2-2v-1l2-2v-1l2-2v-1l2-2v-1l2-2v-1l2-2v-1l3-3v-1l2-2v-1l2-2v-1l2-2v-1l2-2v-1l2.1-2v-1l2-2v-1l2-2v-1l3-3v-1l2-2v-1l2-2v-1l2-2v-1l2-2v-1l2-2v-1l2-2v-1l0.8-0.8l1.2 2.3l2 1.9l2 1.1l3 1.1l5 0.6l6-0.6l6-2l6-3.4l5-4.2l4.2-5l2.9-5l2.3-6l1.2-6l0.3-6l-0.7-6l-1.6-6l-2.6-5.9l-4-6.5v-0.6l2-2v-1l2-2v-1l2-2v-1l2-2v-1l2-2v-1l2.1-2v-1l3-3v-1z"/><path fill="#38ffbf" d="M431.5 317.4v224h-254.4v-1l3-3v-1l2-2v-1l2-2v-1l2.1-2v-1l2-2v-1l2-2v-1l2-2v-1l2-2v-1l3-3v-1l2-2v-1l2-2v-1l2-2v-1l2-2v-1l2-2v-1l2-2v-1l2-2v-1l3-3v-1l2-2v-1l2-2v-1l2-2v-1l2-2v-1l2-2v-1l2-2v-1l3-3v-1l2-2v-1l2-2v-1l2-2v-1l2-2v-1l2-2v-1l2-2v-1l2-2v-1l3-3v-1l2-2v-1l2-2v-1l2-2v-1l2-2v-1l2.1-2v-1l2-2v-1l2-2v-1l3-3v-1l2-2v-1l2-2v-1l2-2v-1l2-2v-1l2-2v-1l2-2v-1l0.4-0.4l1.2 2.4l2.4 2.2l2 1.2l3 1.1l3 0.6l4 0.2l7-1l6.6-2.3l6.9-4l5.7-5l4.8-6l3.4-6l2.2-6l1.4-7l0.3-7l-0.9-7l-1.9-7l-3.1-7l-4-6.3l0.6-0.7v-1l2-2v-1l2-2v-1l2.1-2v-1l3-3v-1z"/><path fill="#3effb8" d="M431.5 317.4v224h-254.4v-1l3-3v-1l2-2v-1l2-2v-1l2.1-2v-1l2-2v-1l2-2v-1l2-2v-1l2-2v-1l3-3v-1l2-2v-1l2-2v-1l2-2v-1l2-2v-1l2-2v-1l2-2v-1l2-2v-1l3-3v-1l2-2v-1l2-2v-1l2-2v-1l2-2v-1l2-2v-1l2-2v-1l3-3v-1l2-2v-1l2-2v-1l2-2v-1l2-2v-1l2-2v-1l2-2v-1l2-2v-1l3-3v-1l2-2v-1l2-2v-1l2-2v-1l2-2v-1l2.1-2v-1l2-2v-1l2-2v-1l3-3v-1l2-2v-1l2-2v-1l2-2v-1l2-2v-1l2-2v-1l2-2v-0.8l1 2l2 2.2l3 1.9l3 1.2l4 0.8l4 0.2l4-0.2l4-0.8l4-1.1l4-1.6l4-2l4.3-2.8l3.8-3l3.1-3l5.6-7l3.4-6l2.7-7l1.6-7l0.6-8l-0.8-9l-2.1-8l-3.4-8l-4.8-7.9l0.1-1.1l3-3v-1z"/><path fill="#45ffb2" d="M431.5 317.4v224h-254.4v-1l3-3v-1l2-2v-1l2-2v-1l2.1-2v-1l2-2v-1l2-2v-1l2-2v-1l2-2v-1l3-3v-1l2-2v-1l2-2v-1l2-2v-1l2-2v-1l2-2v-1l2-2v-1l2-2v-1l3-3v-1l2-2v-1l2-2v-1l2-2v-1l2-2v-1l2-2v-1l2-2v-1l3-3v-1l2-2v-1l2-2v-1l2-2v-1l2-2v-1l2-2v-1l2-2v-1l2-2v-1l3-3v-1l2-2v-1l2-2v-1l2-2v-1l2-2v-1l2.1-2v-1l2-2v-1l2-2v-1l3-3v-1l2-2v-1l2-2v-1l2-2v-1l2-2v-1l2-2v-1l1.7-1.7l2.3 3.2l3 2.3l4 1.7l4 1l4 0.4l4-0.1l4-0.5l5-1.1l8.6-3.2l3.7-2l4.7-3l7.1-6l3.7-4l3.1-4l4.3-7l3.4-8l2.1-8l1-9l-0.4-9l-1.4-8l-2.6-8l-3.8-8z"/><path fill="#4bffac" d="M431.5 317.4v224h-254.4v-1l3-3v-1l2-2v-1l2-2v-1l2.1-2v-1l2-2v-1l2-2v-1l2-2v-1l2-2v-1l3-3v-1l2-2v-1l2-2v-1l2-2v-1l2-2v-1l2-2v-1l2-2v-1l2-2v-1l3-3v-1l2-2v-1l2-2v-1l2-2v-1l2-2v-1l2-2v-1l2-2v-1l3-3v-1l2-2v-1l2-2v-1l2-2v-1l2-2v-1l2-2v-1l2-2v-1l2-2v-1l3-3v-1l2-2v-1l2-2v-1l2-2v-1l2-2v-1l2.1-2v-1l2-2v-1l2-2v-1l3-3v-1l2-2v-1l2-2v-1l2-2v-1l2-2v-1l2-2v-1l1.1-1.2l1.9 2.9l3 2.5l3 1.7l4 1.4l4 0.8l5 0.3l5-0.2l6-1l6-1.7l5-1.9l5.4-2.6l4.7-2.8l4.5-3.2l4.7-4l4-4l3.4-4l4.9-7l4.3-8l3-8l1.9-8l1-8v-9l-1.2-9l-2.1-8z"/><path fill="#52ffa5" d="M431.5 317.4v224h-254.4v-1l3-3v-1l2-2v-1l2-2v-1l2.1-2v-1l2-2v-1l2-2v-1l2-2v-1l2-2v-1l3-3v-1l2-2v-1l2-2v-1l2-2v-1l2-2v-1l2-2v-1l2-2v-1l2-2v-1l3-3v-1l2-2v-1l2-2v-1l2-2v-1l2-2v-1l2-2v-1l2-2v-1l3-3v-1l2-2v-1l2-2v-1l2-2v-1l2-2v-1l2-2v-1l2-2v-1l2-2v-1l3-3v-1l2-2v-1l2-2v-1l2-2v-1l2-2v-1l2.1-2v-1l2-2v-1l2-2v-1l3-3v-1l2-2v-1l2-2v-1l2-2v-1l2-2v-1l2-2v-1l0.5-0.6l2.5 3.6l2 1.7l3 1.9l6 2.3l4 0.8l4 0.4l8-0.2l9-1.6l8-2.4l8.8-3.9l5.3-3l5.9-4l5.1-4l4.3-4l3.8-4l4.2-5l3.5-5l3.7-6l2.9-6l2.4-6l1.9-6l1.4-6l0.9-6l0.5-6v-7l-0.4-6z"/><path fill="#58ff9f" d="M431.5 317.4v224h-254.4v-1l3-3v-1l2-2v-1l2-2v-1l2.1-2v-1l2-2v-1l2-2v-1l2-2v-1l2-2v-1l3-3v-1l2-2v-1l2-2v-1l2-2v-1l2-2v-1l2-2v-1l2-2v-1l2-2v-1l3-3v-1l2-2v-1l2-2v-1l2-2v-1l2-2v-1l2-2v-1l2-2v-1l3-3v-1l2-2v-1l2-2v-1l2-2v-1l2-2v-1l2-2v-1l2-2v-1l2-2v-1l3-3v-1l2-2v-1l2-2v-1l2-2v-1l2-2v-1l2.1-2v-1l2-2v-1l2-2v-1l3-3v-1l2-2v-1l2-2v-1l2-2v-1l2-2v-1l2-2v-0.8l1 1.8l2 2.3l3 2.4l3 1.7l4 1.6l4 1.1l4 0.6l5 0.4l10-0.5l10-1.9l10.1-3.3l9.9-4.4l5.4-3l6.2-4l10.2-8l9.1-9l4.1-5l4.4-6l3.8-6l3.2-6l2.8-6l2.3-6l3.3-12l1-6l0.8-7z"/><path fill="#5eff98" d="M431.5 317.4v224h-254.4v-1l3-3v-1l2-2v-1l2-2v-1l2.1-2v-1l2-2v-1l2-2v-1l2-2v-1l2-2v-1l3-3v-1l2-2v-1l2-2v-1l2-2v-1l2-2v-1l2-2v-1l2-2v-1l2-2v-1l3-3v-1l2-2v-1l2-2v-1l2-2v-1l2-2v-1l2-2v-1l2-2v-1l3-3v-1l2-2v-1l2-2v-1l2-2v-1l2-2v-1l2-2v-1l2-2v-1l2-2v-1l3-3v-1l2-2v-1l2-2v-1l2-2v-1l2-2v-1l2.1-2v-1l2-2v-1l2-2v-1l3-3v-1l2-2v-1l2-2v-1l2-2v-1l2-2v-1l1.5-1.6l1.8 2.6l2.7 2.7l4 2.6l4 1.9l4 1.3l5 1l5 0.6l6 0.2l6-0.2l6-0.7l12.1-2.5l12-4l13-5.9l10.3-6l8.7-6l9.6-8l8.2-8l5.3-6l4.7-6l4.8-7l4.2-7l3.6-7l3.1-7l2.9-8l2.1-7z"/><path fill="#65ff92" d="M431.5 354.3v187.1h-254.4v-1l3-3v-1l2-2v-1l2-2v-1l2.1-2v-1l2-2v-1l2-2v-1l2-2v-1l2-2v-1l3-3v-1l2-2v-1l2-2v-1l2-2v-1l2-2v-1l2-2v-1l2-2v-1l2-2v-1l3-3v-1l2-2v-1l2-2v-1l2-2v-1l2-2v-1l2-2v-1l2-2v-1l3-3v-1l2-2v-1l2-2v-1l2-2v-1l2-2v-1l2-2v-1l2-2v-1l2-2v-1l3-3v-1l2-2v-1l2-2v-1l2-2v-1l2-2v-1l2.1-2v-1l2-2v-1l2-2v-1l3-3v-1l2-2v-1l2-2v-1l2-2v-1l2-2v-1l0.8-0.8l1.9 2.8l2.3 2.4l3 2.3l3 1.7l4 1.8l4 1.3l5 1.2l5 0.7l11 0.5l11-0.7l12.1-2l12-3.1l12.1-4.1l11.6-5l11.6-6l11.4-7l11.2-8l9.6-8l9.4-9z"/><path fill="#6bff8b" d="M431.5 382.8v158.6h-254.4v-1l3-3v-1l2-2v-1l2-2v-1l2.1-2v-1l2-2v-1l2-2v-1l2-2v-1l2-2v-1l3-3v-1l2-2v-1l2-2v-1l2-2v-1l2-2v-1l2-2v-1l2-2v-1l2-2v-1l3-3v-1l2-2v-1l2-2v-1l2-2v-1l2-2v-1l2-2v-1l2-2v-1l3-3v-1l2-2v-1l2-2v-1l2-2v-1l2-2v-1l2-2v-1l2-2v-1l2-2v-1l3-3v-1l2-2v-1l2-2v-1l2-2v-1l2-2v-1l2.1-2v-1l2-2v-1l2-2v-1l3-3v-1l2-2v-1l2-2v-1l2-2v-1l2-2v-1l3 4.2l5 4.1l7 3.7l8 2.6l9 1.6l10 0.8l11-0.1l11.1-1l12-1.9l12-2.6l12.1-3.4l11.8-4l12.6-5l11.6-5.3l12.8-6.7z"/><path fill="#72ff85" d="M177.1 540.4l3-3v-1l2-2v-1l2-2v-1l2.1-2v-1l2-2v-1l2-2v-1l2-2v-1l2-2v-1l3-3v-1l2-2v-1l2-2v-1l2-2v-1l2-2v-1l2-2v-1l2-2v-1l2-2v-1l3-3v-1l2-2v-1l2-2v-1l2-2v-1l2-2v-1l2-2v-1l2-2v-1l3-3v-1l2-2v-1l2-2v-1l2-2v-1l2-2v-1l2-2v-1l2-2v-1l2-2v-1l3-3v-1l2-2v-1l2-2v-1l2-2v-1l2-2v-1l2.1-2v-1l2-2v-1l2-2v-1l3-3v-1l2-2v-1l2-2v-1l2-2v-1l1.5-1.5l3.4 4.5l4.1 3.5l6 3.5l7 2.8l8 2.3l9 1.6l10 0.9l11.1 0.3l11-0.3l12-0.9l13-1.6l13-2.3l13.5-2.8l12.6-3.1l13.5-3.9l13.5-4.4v137.4h-254.4z"/><path fill="#78ff7f" d="M177.1 540.4l3-3v-1l2-2v-1l2-2v-1l2.1-2v-1l2-2v-1l2-2v-1l2-2v-1l2-2v-1l3-3v-1l2-2v-1l2-2v-1l2-2v-1l2-2v-1l2-2v-1l2-2v-1l2-2v-1l3-3v-1l2-2v-1l2-2v-1l2-2v-1l2-2v-1l2-2v-1l2-2v-1l3-3v-1l2-2v-1l2-2v-1l2-2v-1l2-2v-1l2-2v-1l2-2v-1l2-2v-1l3-3v-1l2-2v-1l2-2v-1l2-2v-1l2-2v-1l2.1-2v-1l2-2v-1l2-2v-1l3-3v-1l2-2v-1l2-2v-1l2-2v-1l0.5-0.6l3.4 4.6l4.1 3.7l5 3.3l6 2.9l7 2.6l8 2.2l9 1.8l10 1.4l11.1 0.9l12 0.5h13l13-0.3l29.1-2l31-3.7v118.7h-254.4z"/><path fill="#7fff78" d="M177.1 540.4l3-3v-1l2-2v-1l2-2v-1l2.1-2v-1l2-2v-1l2-2v-1l2-2v-1l2-2v-1l3-3v-1l2-2v-1l2-2v-1l2-2v-1l2-2v-1l2-2v-1l2-2v-1l2-2v-1l3-3v-1l2-2v-1l2-2v-1l2-2v-1l2-2v-1l2-2v-1l2-2v-1l3-3v-1l2-2v-1l2-2v-1l2-2v-1l2-2v-1l2-2v-1l2-2v-1l2-2v-1l3-3v-1l2-2v-1l2-2v-1l2-2v-1l2-2v-1l2.1-2v-1l2-2v-1l2-2v-1l3-3v-1l2-2v-1l2-2v-1l1.9-1.9l2.8 3.9l3.3 3.2l5 3.7l5 2.9l6 2.8l7 2.6l8 2.4l9 2.1l21.1 3.6l25 2.8l31 2.3l39.1 1.8v100.8h-254.4z"/><path fill="#85ff72" d="M177.1 540.4l3-3v-1l2-2v-1l2-2v-1l2.1-2v-1l2-2v-1l2-2v-1l2-2v-1l2-2v-1l3-3v-1l2-2v-1l2-2v-1l2-2v-1l2-2v-1l2-2v-1l2-2v-1l2-2v-1l3-3v-1l2-2v-1l2-2v-1l2-2v-1l2-2v-1l2-2v-1l2-2v-1l3-3v-1l2-2v-1l2-2v-1l2-2v-1l2-2v-1l2-2v-1l2-2v-1l2-2v-1l3-3v-1l2-2v-1l2-2v-1l2-2v-1l2-2v-1l2.1-2v-1l2-2v-1l2-2v-1l3-3v-1l2-2v-1l2-2v-1l0.8-0.8l2.2 3.2l3.3 3.6l3.7 3.1l5 3.4l6 3.3l6 2.7l14 5.1l14 4l19.1 4.5l90.1 18.6v82.3h-254.4z"/><path fill="#8bff6b" d="M177.1 540.4l3-3v-1l2-2v-1l2-2v-1l2.1-2v-1l2-2v-1l2-2v-1l2-2v-1l2-2v-1l3-3v-1l2-2v-1l2-2v-1l2-2v-1l2-2v-1l2-2v-1l2-2v-1l2-2v-1l3-3v-1l2-2v-1l2-2v-1l2-2v-1l2-2v-1l2-2v-1l2-2v-1l3-3v-1l2-2v-1l2-2v-1l2-2v-1l2-2v-1l2-2v-1l2-2v-1l2-2v-1l3-3v-1l2-2v-1l2-2v-1l2-2v-1l2-2v-1l2.1-2v-1l2-2v-1l2-2v-1l3-3v-1l2-2v-1l2-2.1l2.1 3.1l2.9 3.2l7 5.9l9 5.5l11 5.2l9 3.6l12 4.3l47.1 15.3l23.3 8l21.2 8l19.6 8.1v61.9h-254.4z"/><path fill="#92ff65" d="M177.1 540.4l3-3v-1l2-2v-1l2-2v-1l2.1-2v-1l2-2v-1l2-2v-1l2-2v-1l2-2v-1l3-3v-1l2-2v-1l2-2v-1l2-2v-1l2-2v-1l2-2v-1l2-2v-1l2-2v-1l3-3v-1l2-2v-1l2-2v-1l2-2v-1l2-2v-1l2-2v-1l2-2v-1l3-3v-1l2-2v-1l2-2v-1l2-2v-1l2-2v-1l2-2v-1l2-2v-1l2-2v-1l3-3v-1l2-2v-1l2-2v-1l2-2v-1l2-2v-1l2.1-2v-1l2-2v-1l2-2v-1l3-3v-1l2-2v-1l0.7-0.8l4.3 5.6l5 4.8l6 4.6l8 4.9l15 7.6l49.2 21.3l15 7l11.9 6l12.9 7l13.5 8l12.4 8l12.3 8.8v37.2h-254.4z"/><path fill="#98ff5e" d="M177.1 540.4l3-3v-1l2-2v-1l2-2v-1l2.1-2v-1l2-2v-1l2-2v-1l2-2v-1l2-2v-1l3-3v-1l2-2v-1l2-2v-1l2-2v-1l2-2v-1l2-2v-1l2-2v-1l2-2v-1l3-3v-1l2-2v-1l2-2v-1l2-2v-1l2-2v-1l2-2v-1l2-2v-1l3-3v-1l2-2v-1l2-2v-1l2-2v-1l2-2v-1l2-2v-1l2-2v-1l2-2v-1l3-3v-1l2-2v-1l2-2v-1l2-2v-1l2-2v-1l2.1-2v-1l2-2v-1l2-2v-1l3-3v-1l1.8-1.8l3.6 4.8l4.6 4.7l6 5l6 4.2l13 7.7l34.9 18.4l15.9 9l17.4 11l15.2 11l15.5 13l13.3 13l7.2 8l6.5 8l7.3 10.1v0.9h-254.4z"/><path fill="#9fff58" d="M177.1 540.4l3-3v-1l2-2v-1l2-2v-1l2.1-2v-1l2-2v-1l2-2v-1l2-2v-1l2-2v-1l3-3v-1l2-2v-1l2-2v-1l2-2v-1l2-2v-1l2-2v-1l2-2v-1l2-2v-1l3-3v-1l2-2v-1l2-2v-1l2-2v-1l2-2v-1l2-2v-1l2-2v-1l3-3v-1l2-2v-1l2-2v-1l2-2v-1l2-2v-1l2-2v-1l2-2v-1l2-2v-1l3-3v-1l2-2v-1l2-2v-1l2-2v-1l2-2v-1l2.1-2v-1l2-2v-1l2-2v-1l3-3v-1l0.4-0.4l3.1 4.4l3.6 4l4.9 4.6l6 4.7l11 7.6l27.6 17.1l15.1 10l13.5 10l13 11l6.3 6l6.7 7l10.8 13l5.1 7l4.5 7l4 7l3.6 7h-225.4z"/><path fill="#a5ff52" d="M177.1 540.4l3-3v-1l2-2v-1l2-2v-1l2.1-2v-1l2-2v-1l2-2v-1l2-2v-1l2-2v-1l3-3v-1l2-2v-1l2-2v-1l2-2v-1l2-2v-1l2-2v-1l2-2v-1l2-2v-1l3-3v-1l2-2v-1l2-2v-1l2-2v-1l2-2v-1l2-2v-1l2-2v-1l3-3v-1l2-2v-1l2-2v-1l2-2v-1l2-2v-1l2-2v-1l2-2v-1l2-2v-1l3-3v-1l2-2v-1l2-2v-1l2-2v-1l2-2v-1l2.1-2v-1l2-2v-1l2-2v-1l2.3-2.3l5.7 7.3l4 4.1l5 4.5l9 7l24.4 17.4l13.2 10l11.7 10l11.2 11l5.3 6l5.6 7l4.4 6l4.5 7l3.9 7l3.5 7l2.9 7l2.5 7h-202.3z"/><path fill="#acff4b" d="M177.1 540.4l3-3v-1l2-2v-1l2-2v-1l2.1-2v-1l2-2v-1l2-2v-1l2-2v-1l2-2v-1l3-3v-1l2-2v-1l2-2v-1l2-2v-1l2-2v-1l2-2v-1l2-2v-1l2-2v-1l3-3v-1l2-2v-1l2-2v-1l2-2v-1l2-2v-1l2-2v-1l2-2v-1l3-3v-1l2-2v-1l2-2v-1l2-2v-1l2-2v-1l2-2v-1l2-2v-1l2-2v-1l3-3v-1l2-2v-1l2-2v-1l2-2v-1l2-2v-1l2.1-2v-1l2-2v-1l2-2v-1l0.7-0.8l5.3 7.1l7 7.3l8 7l21.7 17.4l11.7 10l10.4 10l9.7 11l5.3 7l4 6l3.6 6l3.6 7l3 7l2.5 7l2 7l1.5 7h-183.2z"/><path fill="#b2ff45" d="M177.1 540.4l3-3v-1l2-2v-1l2-2v-1l2.1-2v-1l2-2v-1l2-2v-1l2-2v-1l2-2v-1l3-3v-1l2-2v-1l2-2v-1l2-2v-1l2-2v-1l2-2v-1l2-2v-1l2-2v-1l3-3v-1l2-2v-1l2-2v-1l2-2v-1l2-2v-1l2-2v-1l2-2v-1l3-3v-1l2-2v-1l2-2v-1l2-2v-1l2-2v-1l2-2v-1l2-2v-1l2-2v-1l3-3v-1l2-2v-1l2-2v-1l2-2v-1l2-2v-1l2.1-2v-1l2-2v-1l1.4-1.5l5.6 7.4l7 7.5l26.2 23.6l10.3 10l9 10l6.8 9l4 6l4 7l3.3 7l2.8 7l2.2 7l1.4 6l1.2 7l0.6 7h-167z"/><path fill="#b8ff3e" d="M329.8 528.4l0.3 7l-0.2 6h-152.8v-1l3-3v-1l2-2v-1l2-2v-1l2.1-2v-1l2-2v-1l2-2v-1l2-2v-1l2-2v-1l3-3v-1l2-2v-1l2-2v-1l2-2v-1l2-2v-1l2-2v-1l2-2v-1l2-2v-1l3-3v-1l2-2v-1l2-2v-1l2-2v-1l2-2v-1l2-2v-1l2-2v-1l3-3v-1l2-2v-1l2-2v-1l2-2v-1l2-2v-1l2-2v-1l2-2v-1l2-2v-1l3-3v-1l2-2v-1l2-2v-1l2-2v-1l2-2v-1l2.1-2v-1l2-2v-0.4l5 6.9l6 6.8l22 21.7l8.6 9l6.8 8l5.9 8l6.6 11l2.9 6l2.5 6l3.3 11l1.2 6z"/><path fill="#bfff38" d="M316.7 510.4l1.3 8l0.5 8l-0.4 8l-1 7h-140v-1l3-3v-1l2-2v-1l2-2v-1l2.1-2v-1l2-2v-1l2-2v-1l2-2v-1l2-2v-1l3-3v-1l2-2v-1l2-2v-1l2-2v-1l2-2v-1l2-2v-1l2-2v-1l2-2v-1l3-3v-1l2-2v-1l2-2v-1l2-2v-1l2-2v-1l2-2v-1l2-2v-1l3-3v-1l2-2v-1l2-2v-1l2-2v-1l2-2v-1l2-2v-1l2-2v-1l2-2v-1l3-3v-1l2-2v-1l2-2v-1l2-2v-1l2-2v-1l2.1-2v-1l0.3-0.3l3.7 5.2l4 5l25.1 27.1l5.9 7l5.3 7l5.1 8l4.8 9l3.6 9z"/><path fill="#c5ff31" d="M255.1 426.6l7.3 9.8l18.3 21l8 10l7.5 11l5.7 11l2.7 7l1.8 6l1.5 7l0.7 6l0.1 7l-0.4 6l-1.2 7l-1.7 6h-128.3v-1l3-3v-1l2-2v-1l2-2v-1l2.1-2v-1l2-2v-1l2-2v-1l2-2v-1l2-2v-1l3-3v-1l2-2v-1l2-2v-1l2-2v-1l2-2v-1l2-2v-1l2-2v-1l2-2v-1l3-3v-1l2-2v-1l2-2v-1l2-2v-1l2-2v-1l2-2v-1l2-2v-1l3-3v-1l2-2v-1l2-2v-1l2-2v-1l2-2v-1l2-2v-1l2-2v-1l2-2v-1l3-3v-1l2-2v-1l2-2v-1l2-2v-1l2-2v-1z"/><path fill="#ccff2b" d="M253.5 429.1l6 8.3l16.4 20l7.5 10l4 6l3.4 6l2.9 6l2.1 5l2.2 7l1.3 6l0.9 7l0.1 6l-0.5 7l-1.1 6l-1.7 6l-2.4 6h-117.5v-1l3-3v-1l2-2v-1l2-2v-1l2.1-2v-1l2-2v-1l2-2v-1l2-2v-1l2-2v-1l3-3v-1l2-2v-1l2-2v-1l2-2v-1l2-2v-1l2-2v-1l2-2v-1l2-2v-1l3-3v-1l2-2v-1l2-2v-1l2-2v-1l2-2v-1l2-2v-1l2-2v-1l3-3v-1l2-2v-1l2-2v-1l2-2v-1l2-2v-1l2-2v-1l2-2v-1l2-2v-1l3-3v-1l2-2v-1l2-2v-1l2-2v-1z"/><path fill="#d2ff25" d="M251.9 431.7l5.5 7.7l15.5 20l6.2 9l3.6 6l3.1 6l2.5 6l2.1 6l1.4 6l1 7l0.2 7l-0.5 6l-1.1 6l-1.8 6l-2.3 5.6l-3 5.4h-107.2v-1l3-3v-1l2-2v-1l2-2v-1l2.1-2v-1l2-2v-1l2-2v-1l2-2v-1l2-2v-1l3-3v-1l2-2v-1l2-2v-1l2-2v-1l2-2v-1l2-2v-1l2-2v-1l2-2v-1l3-3v-1l2-2v-1l2-2v-1l2-2v-1l2-2v-1l2-2v-1l2-2v-1l3-3v-1l2-2v-1l2-2v-1l2-2v-1l2-2v-1l2-2v-1l2-2v-1l2-2v-1l3-3v-1l2-2v-1l2-2v-1z"/><path fill="#d9ff1e" d="M250.2 434.4l17.6 24l6.6 10l3.4 6l2.8 6l2.4 6l1.5 5l1.4 7l0.6 6l-0.1 6l-0.7 6l-1.3 6l-1.8 5l-2.8 6l-3.1 5l-2.2 3h-97.4v-1l3-3v-1l2-2v-1l2-2v-1l2.1-2v-1l2-2v-1l2-2v-1l2-2v-1l2-2v-1l3-3v-1l2-2v-1l2-2v-1l2-2v-1l2-2v-1l2-2v-1l2-2v-1l2-2v-1l3-3v-1l2-2v-1l2-2v-1l2-2v-1l2-2v-1l2-2v-1l2-2v-1l3-3v-1l2-2v-1l2-2v-1l2-2v-1l2-2v-1l2-2v-1l2-2v-1l2-2v-1l3-3v-1l2-2v-1z"/><path fill="#dfff18" d="M248.2 436.6l15.5 21.8l6.3 10l5.4 11l3.4 10l1.2 6l0.5 5l0.1 6l-0.4 5l-1 5l-1.5 5l-2 5l-2.8 5l-3.6 5.1l-4.5 4.9h-81.1l-3.6-5l2-2v-1l2-2v-1l2.1-2v-1l2-2v-1l2-2v-1l2-2v-1l2-2v-1l3-3v-1l2-2v-1l2-2v-1l2-2v-1l2-2v-1l2-2v-1l2-2v-1l2-2v-1l3-3v-1l2-2v-1l2-2v-1l2-2v-1l2-2v-1l2-2v-1l2-2v-1l3-3v-1l2-2v-1l2-2v-1l2-2v-1l2-2v-1l2-2v-1l2-2v-1l2-2v-1l3-3v-1l2-2z"/><path fill="#e5ff11" d="M246.4 439.2l12.6 18.2l6.2 10l4.9 10l3.2 9l1.1 5l0.7 5l0.3 5l-0.3 5l-0.7 5l-1.3 5l-1.8 4.9l-2 4.1l-2.6 4l-3.4 4.4l-4 4.1l-4.4 3.5h-64.3l-4.4-4.4l-3.3-4.4l1.2-1.2v-1l2.1-2v-1l2-2v-1l2-2v-1l2-2v-1l2-2v-1l3-3v-1l2-2v-1l2-2v-1l2-2v-1l2-2v-1l2-2v-1l2-2v-1l2-2v-1l3-3v-1l2-2v-1l2-2v-1l2-2v-1l2-2v-1l2-2v-1l2-2v-1l3-3v-1l2-2v-1l2-2v-1l2-2v-1l2-2v-1l2-2v-1l2-2v-1l2-2v-1l3-3z"/><path fill="#ecff0b" d="M244.6 442l10.5 15.4l5.5 9l4.5 9l3.2 9l1.8 9l0.3 9l-0.5 5l-0.9 4l-1.2 4l-1.7 4l-3.8 6.6l-5 6l-6.1 5.2l-7 4.2h-45.7l-5.3-3.4l-4.8-4.6l-3.1-4.2l0.9-0.8v-1l2-2v-1l2-2v-1l2-2v-1l2-2v-1l3-3v-1l2-2v-1l2-2v-1l2-2v-1l2-2v-1l2-2v-1l2-2v-1l2-2v-1l3-3v-1l2-2v-1l2-2v-1l2-2v-1l2-2v-1l2-2v-1l2-2v-1l3-3v-1l2-2v-1l2-2v-1l2-2v-1l2-2v-1l2-2v-1l2-2v-1l2-2v-1z"/><path fill="#f2fb04" d="M242.8 444.8l8.5 12.6l5.4 9l4.4 9l2.8 8l1.8 9l0.3 8l-1.2 8l-2.3 7l-2 4l-2.5 4l-2.8 3.4l-3 3.1l-3 2.5l-4 2.8l-4 2.2l-4 1.8l-7.6 2.2h-19.3l-4.1-1.1l-4-1.5l-5-2.7l-4-3l-3-3l-2.9-3.9l0.9-0.8v-1l2-2v-1l2-2v-1l2-2v-1l3-3v-1l2-2v-1l2-2v-1l2-2v-1l2-2v-1l2-2v-1l2-2v-1l2-2v-1l3-3v-1l2-2v-1l2-2v-1l2-2v-1l2-2v-1l2-2v-1l2-2v-1l3-3v-1l2-2v-1l2-2v-1l2-2v-1l2-2v-1l2-2v-1l2-2v-1z"/><path fill="#f9f300" d="M241 447.6l7.9 11.8l4.6 8l3.8 8l2.8 8l1.5 8l0.2 8l-1 7l-2.3 7l-4 7l-5.3 6.1l-6.2 4.9l-3.8 2.2l-4 1.8l-8 2.3l-4 0.6l-5 0.2l-8-0.9l-4-1.1l-4-1.5l-4-2.2l-4-3l-3-3.2l-2.1-3.1l1.1-1.1v-1l2-2v-1l2-2v-1l3-3v-1l2-2v-1l2-2v-1l2-2v-1l2-2v-1l2-2v-1l2-2v-1l2-2v-1l3-3v-1l2-2v-1l2-2v-1l2-2v-1l2-2v-1l2-2v-1l2-2v-1l3-3v-1l2-2v-1l2-2v-1l2-2v-1l2-2v-1l2-2v-1z"/><path fill="#ffec00" d="M239.2 450.4l6.6 10l4.6 8l3.7 8l2.3 7l1.4 8l0.1 7l-1 7l-2.1 6l-3.6 6.5l-5 5.8l-6 4.8l-7 3.6l-7 2l-8 0.9l-4-0.2l-4-0.6l-7-2.2l-4-2.1l-3.5-2.5l-2.9-3l-2.3-3.3l1.7-1.7v-1l2-2v-1l3-3v-1l2-2v-1l2-2v-1l2-2v-1l2-2v-1l2-2v-1l2-2v-1l2-2v-1l3-3v-1l2-2v-1l2-2v-1l2-2v-1l2-2v-1l2-2v-1l2-2v-1l3-3v-1l2-2v-1l2-2v-1l2-2v-1l2-2v-1z"/><path fill="#ffe500" d="M237.2 452.9l6.3 9.5l4.4 8l3.1 7l2.1 7l1.2 7v7l-1.1 6l-2.1 6l-3.4 6l-4.5 5.1l-6 4.6l-6 3.1l-7 2l-7 0.7l-7-0.6l-4-1.1l-3-1.2l-4-2.2l-3.1-2.4l-3.4-4l-0.6-0.9l0.1-1.1l2-2v-1l3-3v-1l2-2v-1l2-2v-1l2-2v-1l2-2v-1l2-2v-1l2-2v-1l2-2v-1l3-3v-1l2-2v-1l2-2v-1l2-2v-1l2-2v-1l2-2v-1l2-2v-1l3-3v-1l2-2v-1l2-2v-1l2-2v-1l2-2z"/><path fill="#ffdd00" d="M235.3 455.3l5.9 9.1l3.8 7l3 7l1.8 6l1.1 7v6l-1 6l-1.7 5l-3 5.4l-4 4.9l-5 4.2l-6 3.3l-6 2l-7 0.9l-7-0.5l-6-1.7l-4-2.1l-3-2.3l-2-2.1l-2-3l1-1v-1l3-3v-1l2-2v-1l2-2v-1l2-2v-1l2-2v-1l2-2v-1l2-2v-1l2-2v-1l3-3v-1l2-2v-1l2-2v-1l2-2v-1l2-2v-1l2-2v-1l2-2v-1l3-3v-1l2-2v-1l2-2v-1l2-2z"/><path fill="#ffd600" d="M233.6 458.1l4.8 7.3l3.8 7l3 7l1.7 6l0.8 6v6l-1.2 6l-1.8 5l-3 5l-4.5 4.9l-5 3.7l-5 2.5l-6 1.7l-6 0.5l-6-0.6l-6-2l-3-1.7l-3-2.5l-2.1-2.5l-0.9-2l3-3v-1l2-2v-1l2-2v-1l2-2v-1l2-2v-1l2-2v-1l2-2v-1l2-2v-1l3-3v-1l2-2v-1l2-2v-1l2-2v-1l2-2v-1l2-2v-1l2-2v-1l3-3v-1l2-2v-1l2-2v-1z"/><path fill="#ffce00" d="M231.9 460.7l4.3 6.7l3.3 6l2.6 6l1.8 6l0.8 6l-0.1 6l-0.9 5l-1.9 5l-3 5l-3.6 4l-5 3.8l-5 2.4l-5 1.4l-6 0.5l-6-0.7l-5-1.8l-3-1.8l-2-1.7l-1.9-2.1l-1.1-2l2-2v-1l2-2v-1l2-2v-1l2-2v-1l2-2v-1l2-2v-1l2-2v-1l2-2v-1l3-3v-1l2-2v-1l2-2v-1l2-2v-1l2-2v-1l2-2v-1l2-2v-1l3-3v-1l2-2v-1z"/><path fill="#ffc700" d="M230.2 463.4l4 6l3.2 6l2.4 6l1.4 5l0.7 5v5l-0.8 5l-1.8 5l-2.3 4l-3.8 4.4l-4 3.1l-5 2.6l-5 1.5l-5 0.5l-5-0.4l-5-1.5l-3-1.6l-2-1.6l-1.9-2l-1.2-2l1.1-1v-1l2-2v-1l2-2v-1l2-2v-1l2-2v-1l2-2v-1l2-2v-1l2-2v-1l3-3v-1l2-2v-1l2-2v-1l2-2v-1l2-2v-1l2-2v-1l2-2v-1l3-3v-1z"/><path fill="#ffc000" d="M228.7 465.9l3.5 5.5l2.7 5l2.1 5l1.5 5l0.7 5v5l-0.9 5l-1.4 4l-2.2 4l-3.4 4l-3.8 3l-4.3 2.3l-5 1.6l-5 0.5l-5-0.5l-4-1.3l-3-1.7l-2.2-1.9l-2-2.8l0.2-1.2l2-2v-1l2-2v-1l2-2v-1l2-2v-1l2-2v-1l2-2v-1l2-2v-1l3-3v-1l2-2v-1l2-2v-1l2-2v-1l2-2v-1l2-2v-1l2-2v-1z"/><path fill="#ffb800" d="M226.7 467.9l3.1 4.5l2.7 5l2.2 5l1.4 5l0.7 5l-0.1 4l-0.6 4l-1.3 4l-2.2 4l-3.4 4l-3 2.5l-4 2.2l-4 1.4l-5 0.7l-5-0.4l-4-1.3l-4-2.6l-1.4-1.5l-1.4-2.3l1.8-1.7v-1l2-2v-1l2-2v-1l2-2v-1l2-2v-1l2-2v-1l2-2v-1l3-3v-1l2-2v-1l2-2v-1l2-2v-1l2-2v-1l2-2v-1l2-2v-1z"/><path fill="#ffb100" d="M225.3 470.3l2.9 4.4l2.6 4.7l2 5l1 4l0.6 4v4l-0.7 4l-1.4 4l-2.3 4l-2.6 3l-3.2 2.6l-4 2.1l-4 1.2l-4 0.5l-4-0.4l-4-1.2l-2-1.1l-2-1.7l-2.1-3l1.1-1v-1l2-2v-1l2-2v-1l2-2v-1l2-2v-1l2-2v-1l2-2v-1l3-3v-1l2-2v-1l2-2v-1l2-2v-1l2-2v-1l2-2v-1z"/><path fill="#ffaa00" d="M223.9 472.7l3.1 4.7l2.1 4l1.6 4l1 4l0.5 4l-0.1 4l-0.9 4l-1.1 3l-1.7 3l-2.5 3l-2.7 2.2l-4 2.2l-4 1.3l-4 0.4l-4-0.5l-3-1l-2.6-1.6l-1.9-2l-1-1.6l0.5-0.4v-1l2-2v-1l2-2v-1l2-2v-1l2-2v-1l2-2v-1l2-2v-1l3-3v-1l2-2v-1l2-2v-1l2-2v-1l2-2v-1z"/><path fill="#ffa200" d="M222.2 474.4l2.7 4l2.2 4l1.6 4l0.8 3l0.6 4v3l-0.6 4l-1 3l-1.6 3l-2.4 3l-3.3 2.7l-3 1.6l-3 1.1l-4 0.5l-4-0.4l-3-1l-2-1.2l-1.5-1.3l-1.3-2l-0.2-1l2-2v-1l2-2v-1l2-2v-1l2-2v-1l2-2v-1l2-2v-1l3-3v-1l2-2v-1l2-2v-1l2-2v-1l2-2z"/><path fill="#ff9b00" d="M221 476.6l4.2 6.8l1.6 4l0.8 3l0.6 4l-0.1 3l-0.5 3l-1.1 3l-1.6 3l-2.6 3l-2.6 2l-2.5 1.4l-3 1l-4 0.4l-3-0.2l-3-1l-3-2.2l-1.7-2.7l1.7-1.7v-1l2-2v-1l2-2v-1l2-2v-1l2-2v-1l2-2v-1l3-3v-1l2-2v-1l2-2v-1l2-2v-1z"/><path fill="#ff9300" d="M219.9 478.7l4 6.7l2 6l0.4 3v3l-0.5 3l-1 3l-1.8 3l-1.7 2l-2.4 2l-2.7 1.5l-3 1l-3 0.4l-3-0.2l-3-1l-3-2.3l-1.2-2.2l1.2-1.2v-1l2-2v-1l2-2v-1l2-2v-1l2-2v-1l2-2v-1l3-3v-1l2-2v-1l2-2v-1z"/><path fill="#ff8c00" d="M218.4 480.2l3.9 6.2l1.9 6l0.4 3l-0.1 3l-1.4 5l-1.8 3l-1.8 2l-2.3 1.7l-2 1.1l-3 0.9l-3 0.3l-3-0.3l-2-0.8l-2-1.3l-1.3-1.6l-0.5-1.2l0.8-0.8v-1l2-2v-1l2-2v-1l2-2v-1l2-2v-1l2-2v-1l3-3v-1l2-2v-1l2-2z"/><path fill="#ff8500" d="M217.5 482.1l3.2 5.3l1.3 3l0.7 3l0.2 5l-0.6 3l-0.7 2l-1.2 2l-1.6 2l-2.4 2l-2.2 1.2l-2 0.6l-3 0.5l-3-0.4l-2-0.7l-2-1.4l-1-1.3l-0.5-1.1l0.5-0.4v-1l2-2v-1l2-2v-1l2-2v-1l2-2v-1l2-2v-1l3-3v-1l2-2v-1z"/><path fill="#ff7d00" d="M216.2 483.4l3.1 5l1.8 5l0.4 5l-0.6 3l-0.7 2l-1.2 2l-1.7 2l-2.1 1.6l-2 1l-3 0.8l-2 0.2l-2-0.3l-2-0.7l-2-1.5l-1.1-2l0.1-1.1l2-2v-1l2-2v-1l2-2v-1l2-2v-1l2-2v-1l3-3v-1l2-2z"/><path fill="#ff7600" d="M215.4 485.2l2.8 4.5l1.6 4.7l0.2 5l-1.1 4l-1.2 2l-1.9 2l-3.6 2.2l-4 0.7l-2-0.2l-2-0.7l-1-0.6l-1.3-1.4l-0.5-1v-1.2l1.8-1.8v-1l2-2v-1l2-2v-1l2-2v-1l2-2v-1l3-3v-1z"/><path fill="#ff6f00" d="M214.3 486.3l2.9 4.7l1.4 4.4l0.2 4l-1.1 4l-2.1 3l-3.4 2.4l-4 0.9l-2-0.1l-2-0.7l-2-1.7l-0.4-0.8l-0.1-1.5l1.5-1.5v-1l2-2v-1l2-2v-1l2-2v-1l2-2v-1l3-3z"/><path fill="#ff6700" d="M213.6 488l2.2 3.4l1.5 4l0.3 4l-0.6 3l-1.7 3l-3.1 2.6l-3 1.1l-2 0.1l-2-0.3l-2.4-1.5l-0.7-1l-0.3-1l0.2-0.8l1.2-1.2v-1l2-2v-1l2-2v-1l2-2v-1l2-2v-1z"/><path fill="#ff6000" d="M212.6 489l2.3 3.4l1.4 4l0.1 4l-0.9 3l-2.2 3l-3.1 1.8l-3 0.5l-3-0.7l-1.8-1.6l-0.2-2l1-1v-1l2-2v-1l2-2v-1l2-2v-1l2-2v-1z"/><path fill="#ff5800" d="M211.7 489.9l2.3 3.5l1.2 3l0.3 3l-0.5 3l-1.7 3l-2.1 1.7l-3 1.1l-3-0.1l-1-0.4l-1.4-1.3l-0.6-2l1-1v-1l2-2v-1l2-2v-1l2-2v-1l2-2v-1z"/><path fill="#ff5100" d="M211.2 491.2l2 3l1 2.6l0.4 2.6l-0.5 3l-1.7 3l-2.2 1.7l-3 0.8l-2-0.2l-2-1.2l-0.7-1.1v-1l-0.2-0.1l0.9-0.9v-1l2-2v-1l2-2v-1l2-2v-1z"/><path fill="#ff4a00" d="M210.5 492.1l1.7 2.5l1.2 2.8l0.3 3l-0.7 3l-1.4 2l-2.4 1.6l-3 0.5l-2-0.5l-1-0.8l-0.5-0.8v-1l-0.4-0.1l0.9-0.9v-1l2-2v-1l2-2v-1l2-2v-1z"/><path fill="#ff4200" d="M209.7 492.9l1.9 2.5l0.8 2l0.5 3l-0.3 2l-0.9 2l-2.3 2l-2.2 0.8l-2-0.1l-1-0.4l-1-0.9l-0.4-1.4l-0.5-0.1l0.9-0.9v-1l2-2v-1l2-2v-1l2-2v-1z"/><path fill="#ff3b00" d="M209.2 493.7l1.9 2.7l0.8 2l0.3 2l-0.3 2l-0.9 2l-1.8 1.7l-2 0.8h-2l-1.1-0.5l-1-1l-0.1-1l-0.6-0.2l0.8-0.8v-1l2-2v-1l2-2v-1l2-2z"/><path fill="#ff3400" d="M208.9 494.7l1.3 1.8l0.9 1.9l0.4 2l-0.2 2l-0.9 2l-1.2 1.2l-2 0.9l-2 0.1l-1-0.4l-0.9-0.8l-0.2-1l-0.7-0.2l0.8-0.8v-1l2-2v-1l2-2v-1z"/><path fill="#ff2c00" d="M208.3 495.3l1.5 2.1l0.9 2l0.2 2l-0.5 2l-1.6 2l-1.6 0.8l-2 0.2l-1-0.3l-0.7-0.7l-0.3-1l-0.8-0.2l0.8-0.8v-1l2-2v-1l2-2v-1z"/><path fill="#ff2500" d="M207.7 495.8l1.5 1.9l0.8 1.7l0.2 3l-0.9 2l-1 1l-1.1 0.6l-2 0.2l-1-0.3l-0.9-1.5l-0.9-0.3l0.8-0.7v-1l2-2v-1l2-2v-1z"/><path fill="#ff1d00" d="M207.2 496.4l2.1 3l0.4 3l-0.9 2l-1.6 1.3l-2 0.3l-1-0.3l-0.8-1.3l-0.9-0.3l0.7-0.7v-1l2-2v-1l2-2z"/><path fill="#ff1600" d="M207.2 497.3l1.5 2.1l0.6 2l-0.3 2l-0.8 1.2l-1 0.8l-2 0.5l-1-0.4l-0.8-1.1l-0.9-0.3l0.7-0.7v-1l2-2v-1z"/><path fill="#fa0f00" d="M206.8 497.7l1.8 2.7l0.3 2l-0.9 2l-1.3 1l-1.5 0.3l-1-0.3l-0.7-1l-1-0.4l0.7-0.6v-1l2-2v-1z"/><path fill="#f10700" d="M206.5 498.1l1.6 2.3l0.4 2l-0.8 2l-1.5 1l-1 0.1l-1-0.2l-0.6-0.9l-1-0.4l0.6-0.6v-1l2-2v-1z"/><path fill="#e80000" d="M206.1 498.5l1.5 1.9l0.5 2l-0.2 1l-0.6 1l-1.1 0.8l-1 0.2l-1-0.2l-0.6-0.8l-1-0.4l0.6-0.6v-1l2-2v-1z"/><path fill="#df0000" d="M205.8 498.8l1.4 1.7l0.6 1.9l-0.2 1l-0.5 1l-1.9 0.9l-1-0.2l-0.5-0.7l-1.1-0.5l0.6-0.5v-1l2-2v-1z"/><path fill="#d60000" d="M205.4 499.2l1.3 1.2l0.8 2l-0.1 1l-0.6 1l-1.6 0.8l-1-0.2l-0.5-0.6l-1-0.5l0.5-0.5v-1l2-2z"/><path fill="#cc0000" d="M205.2 499.5l1 0.9l1 2l-0.1 1l-0.5 1l-1.4 0.7l-1-0.2l-0.4-0.5l-1.1-0.5l0.5-0.5v-1l2-2z"/><path fill="#c30000" d="M205.2 500l1 0.9l0.7 1.5v1l-0.6 1l-1.1 0.6l-1-0.2l-1.5-1l0.5-0.4v-1l2-2z"/><path fill="#ba0000" d="M205.2 500.4l1 1l0.4 1l0.1 1l-0.6 1l-0.9 0.5l-1-0.2l-1.4-0.9l0.4-0.4v-1z"/><path fill="#b10000" d="M205 500.6l1.2 1.4l0.3 1.4l-0.6 1l-0.7 0.4l-1-0.2l-1.4-0.8l0.4-0.4v-1z"/><path fill="#a80000" d="M204.8 500.8l1.3 1.6l0.2 1l-0.5 1l-0.6 0.3l-1-0.1l-1.4-0.9l0.4-0.3v-1z"/><path fill="#9f0000" d="M204.6 501l1.3 1.4l0.2 1l-0.9 1.2l-1-0.1l-1.3-0.8l0.3-0.3v-1z"/><path fill="#960000" d="M204.4 501.2l1.3 1.2l0.3 1l-0.8 1.1l-2.3-0.8l0.3-0.3v-1z"/><path fill="#8d0000" d="M204.2 501.4l1 0.6l0.7 1.4l-0.7 1.1l-2.3-0.9l0.3-1.2z"/><path fill="#840000" d="M204 501.6l1.2 0.7l0.5 1.1l-0.5 0.9l-2.2-0.7l0.2-1.2z"/></g>
<g stroke="#fff" fill="none">
<path stroke-width="1.15" stroke-opacity="1" d="M178.9 541.4L331.6 317.4"/>
<path stroke-width="1.1" stroke-opacity="0.9" d="M79 392.1H280.7M79 504.1H204.4M306.1 354.7H431.5M229.8 466.7H431.5"/>
</g>
<rect x="79" y="317.4" width="352.5" height="224" fill="none" stroke="#000" stroke-width="1.3"/>
<path stroke="#000" stroke-width="1.2" fill="none" d="M79 541.4v6.2M101 541.4v3.4M123.1 541.4v3.4M145.1 541.4v3.4M167.1 541.4v6.2M189.2 541.4v3.4M211.2 541.4v3.4M233.2 541.4v3.4M255.2 541.4v6.2M277.3 541.4v3.4M299.3 541.4v3.4M321.3 541.4v3.4M343.4 541.4v6.2M365.4 541.4v3.4M387.4 541.4v3.4M409.5 541.4v3.4M431.5 541.4v6.2M79 541.4h-7.2M79 533.9h-3.4M79 526.5h-3.4M79 519h-3.4M79 511.5h-3.4M79 504.1h-7.2M79 496.6h-3.4M79 489.1h-3.4M79 481.7h-3.4M79 474.2h-3.4M79 466.7h-7.2M79 459.3h-3.4M79 451.8h-3.4M79 444.3h-3.4M79 436.9h-3.4M79 429.4h-7.2M79 421.9h-3.4M79 414.5h-3.4M79 407h-3.4M79 399.5h-3.4M79 392.1h-7.2M79 384.6h-3.4M79 377.1h-3.4M79 369.7h-3.4M79 362.2h-3.4M79 354.7h-7.2M79 347.3h-3.4M79 339.8h-3.4M79 332.3h-3.4M79 324.9h-3.4M79 317.4h-7.2"/>
<rect x="439.4" y="317.4" width="14.6" height="224" fill="url(#jet)" stroke="#000" stroke-width="1.3"/>
<path stroke="#000" stroke-width="1.2" fill="none" d="M454 521h6.2M454 498.1h6.2M454 475.2h6.2M454 452.3h6.2M454 429.4h6.2M454 406.5h6.2M454 383.6h6.2M454 360.7h6.2M454 337.8h6.2"/>
</g>
<g id="p2"><clipPath id="gc"><rect x="543.5" y="30.5" width="340" height="219.7"/></clipPath><filter id="gf" x="-5%" y="-5%" width="110%" height="110%"><feGaussianBlur stdDeviation="0.6 1.3"/></filter><g clip-path="url(#gc)"><g filter="url(#gf)"><path fill="#0034ff" stroke="#0034ff" stroke-width=".5" d="M680.5 176.7H688.7L684.4 183H676.2zM740.6 100.3H748.8L744.5 106.6H736.3z"/><path fill="#005cff" stroke="#005cff" stroke-width=".5" d="M676.2 183H684.4L682.2 186.2H674zM742.8 97.1H751L748.8 100.3H740.6z"/><path fill="#0074ff" stroke="#0074ff" stroke-width=".5" d="M682.7 173.5H690.9L688.7 176.7H680.5zM736.3 106.6H744.5L742.3 109.8H734.1z"/><path fill="#0083ff" stroke="#0083ff" stroke-width=".5" d="M674 186.2H682.2L680 189.4H671.9zM745 93.9H753.1L751 97.1H742.8z"/><path fill="#009bff" stroke="#009bff" stroke-width=".5" d="M674.6 173.5H682.7L678.4 179.9H670.3zM746.6 103.5H754.7L750.4 109.8H742.3z"/><path fill="#00a3ff" stroke="#00a3ff" stroke-width=".5" d="M670.3 179.9H678.4L676.2 183H668.2zM684.9 170.3H693L690.9 173.5H682.7zM734.1 109.8H742.3L740.1 113H732zM748.8 100.3H756.8L754.7 103.5H746.6z"/><path fill="#00abff" stroke="#00abff" stroke-width=".5" d="M676.8 170.3H684.9L682.7 173.5H674.6zM671.9 189.4H680L677.9 192.6H669.7zM747.1 90.7H755.3L753.1 93.9H745zM742.3 109.8H750.4L748.2 113H740.1z"/><path fill="#00bbff" stroke="#00bbff" stroke-width=".5" d="M668.2 183H676.2L674 186.2H666zM751 97.1H759L756.8 100.3H748.8z"/><path fill="#00c3ff" stroke="#00c3ff" stroke-width=".5" d="M678.9 167.1H687L684.9 170.3H676.8zM687 167.1H695.2L693 170.3H684.9zM732 113H740.1L738 116.2H729.8zM740.1 113H748.2L746.1 116.2H738z"/><path fill="#00d3ff" stroke="#00d3ff" stroke-width=".5" d="M668.7 170.3H676.8L672.5 176.7H664.5zM730.2 103.5H738.5L736.3 106.6H728.1zM669.7 192.6H677.9L675.7 195.8H667.6zM749.3 87.5H757.4L755.3 90.7H747.1zM688.7 176.7H696.9L694.8 179.9H686.5zM752.5 106.6H760.5L756.3 113H748.2z"/><path fill="#00dbff" stroke="#00dbff" stroke-width=".5" d="M670.9 167.1H678.9L676.8 170.3H668.7zM664.5 176.7H672.5L670.3 179.9H662.3zM681.1 163.9H689.2L687 167.1H678.9zM666 186.2H674L671.9 189.4H663.9zM753.1 93.9H761.1L759 97.1H751zM738 116.2H746.1L743.9 119.4H735.8zM754.7 103.5H762.7L760.5 106.6H752.5zM748.2 113H756.3L754.1 116.2H746.1z"/><path fill="#00e3f9" stroke="#00e3f9" stroke-width=".5" d="M673 163.9H681.1L678.9 167.1H670.9zM728.1 106.6H736.3L734.1 109.8H725.9zM689.2 163.9H697.3L695.2 167.1H687zM729.8 116.2H738L735.8 119.4H727.7zM690.9 173.5H699.1L696.9 176.7H688.7zM746.1 116.2H754.1L752 119.4H743.9z"/><path fill="#04ebf2" stroke="#04ebf2" stroke-width=".5" d="M662.3 179.9H670.3L668.2 183H660.2zM683.2 160.8H691.3L689.2 163.9H681.1zM725.9 109.8H734.1L732 113H723.7zM693 170.3H701.3L699.1 173.5H690.9zM735.8 119.4H743.9L741.8 122.6H733.7zM756.8 100.3H764.8L762.7 103.5H754.7z"/><path fill="#0bf3ec" stroke="#0bf3ec" stroke-width=".5" d="M675.1 160.8H683.2L681.1 163.9H673zM732.4 100.3H740.6L738.5 103.5H730.2zM691.3 160.8H699.5L697.3 163.9H689.2zM727.7 119.4H735.8L733.7 122.6H725.5zM686.5 179.9H694.8L692.6 183H684.4zM743.9 119.4H752L749.9 122.6H741.8z"/><path fill="#11fbe5" stroke="#11fbe5" stroke-width=".5" d="M665 163.9H673L668.7 170.3H660.8zM677.2 157.6H685.4L683.2 160.8H675.1zM685.4 157.6H693.5L691.3 160.8H683.2zM663.9 189.4H671.9L669.7 192.6H661.7zM723.7 113H732L729.8 116.2H721.6zM695.2 167.1H703.4L701.3 170.3H693zM755.3 90.7H763.3L761.1 93.9H753.1zM733.7 122.6H741.8L739.6 125.7H731.5zM741.8 122.6H749.9L747.8 125.7H739.6zM756.3 113H764.2L760 119.4H752z"/><path fill="#18ffdf" stroke="#18ffdf" stroke-width=".5" d="M667.1 160.8H675.1L673 163.9H665zM660.8 170.3H668.7L664.5 176.7H656.6zM679.4 154.4H687.5L685.4 157.6H677.2zM660.2 183H668.2L666 186.2H658.1zM687.5 154.4H695.7L693.5 157.6H685.4zM721.6 116.2H729.8L727.7 119.4H719.4zM693.5 157.6H701.7L699.5 160.8H691.3zM667.6 195.8H675.7L673.5 199H665.4zM751.5 84.3H759.6L757.4 87.5H749.3zM725.5 122.6H733.7L731.5 125.7H723.3zM697.3 163.9H705.6L703.4 167.1H695.2zM731.5 125.7H739.6L737.5 128.9H729.3zM759 97.1H766.9L764.8 100.3H756.8zM739.6 125.7H747.8L745.6 128.9H737.5zM760.5 106.6H768.4L764.2 113H756.3zM752 119.4H760L757.9 122.6H749.9z"/><path fill="#1effd9" stroke="#1effd9" stroke-width=".5" d="M669.2 157.6H677.2L675.1 160.8H667.1zM749.9 122.6H757.9L755.8 125.7H747.8z"/><path fill="#25ffd2" stroke="#25ffd2" stroke-width=".5" d="M673.4 151.2H681.5L677.2 157.6H669.2zM656.6 176.7H664.5L662.3 179.9H654.5zM681.5 151.2H689.7L687.5 154.4H679.4zM689.7 151.2H697.8L695.7 154.4H687.5zM719.4 119.4H727.7L725.5 122.6H717.3zM695.7 154.4H703.8L701.7 157.6H693.5zM723.3 125.7H731.5L729.3 128.9H721.2zM699.5 160.8H707.7L705.6 163.9H697.3zM729.3 128.9H737.5L735.3 132.1H727.2zM737.5 128.9H745.6L743.5 132.1H735.3zM762.7 103.5H770.5L768.4 106.6H760.5zM747.8 125.7H755.8L751.6 132.1H743.5z"/><path fill="#2bffcc" stroke="#2bffcc" stroke-width=".5" d="M663.2 154.4H671.3L660.8 170.3H652.9zM675.5 148H683.6L681.5 151.2H673.4zM683.6 148H691.8L689.7 151.2H681.5zM658.1 186.2H666L663.9 189.4H655.9zM719.7 106.6H728.1L723.7 113H715.4zM691.8 148H700L697.8 151.2H689.7zM717.3 122.6H725.5L721.2 128.9H712.9zM700 148H708.2L703.8 154.4H695.7zM721.2 128.9H729.3L725 135.3H716.8zM703.8 154.4H712.1L707.7 160.8H699.5zM727.2 132.1H735.3L733.2 135.3H725zM701.3 170.3H709.6L705.3 176.7H696.9zM761.1 93.9H769.1L766.9 97.1H759zM735.3 132.1H743.5L741.4 135.3H733.2zM743.5 132.1H751.6L749.5 135.3H741.4zM764.2 113H772.1L761.8 128.9H753.7z"/><path fill="#31ffc5" stroke="#31ffc5" stroke-width=".5" d="M667.4 148H675.5L671.3 154.4H663.2zM652.9 170.3H660.8L658.7 173.5H650.8zM677.6 144.8H685.8L683.6 148H675.5zM654.5 179.9H662.3L660.2 183H652.4zM687.9 141.7H696.1L691.8 148H683.6zM721.9 103.5H730.2L728.1 106.6H719.7zM715.4 113H723.7L717.3 122.6H709zM696.1 141.7H704.3L700 148H691.8zM661.7 192.6H669.7L667.6 195.8H659.6zM712.9 128.9H721.2L708.2 148H700zM716.8 135.3H725L712.1 154.4H703.8zM757.4 87.5H765.4L763.3 90.7H755.3zM725 135.3H733.2L728.9 141.7H720.7zM707.7 160.8H716L709.6 170.3H701.3zM696.9 176.7H705.3L703.1 179.9H694.8zM733.2 135.3H741.4L737.1 141.7H728.9zM764.8 100.3H772.6L770.5 103.5H762.7zM741.4 135.3H749.5L747.4 138.5H739.2zM766.3 109.8H774.2L772.1 113H764.2zM753.7 128.9H761.8L757.6 135.3H749.5z"/><path fill="#38ffbf" stroke="#38ffbf" stroke-width=".5" d="M669.4 144.8H677.6L675.5 148H667.4zM650.8 173.5H658.7L656.6 176.7H648.7zM681.8 138.5H690L685.8 144.8H677.6zM692.2 135.3H700.4L696.1 141.7H687.9zM724 100.3H732.4L730.2 103.5H721.9zM709 122.6H717.3L704.3 141.7H696.1zM720.7 141.7H728.9L716 160.8H707.7zM694.8 179.9H703.1L701 183H692.6zM728.9 141.7H737.1L732.8 148H724.6zM739.2 138.5H747.4L743.2 144.8H735zM768.4 106.6H776.3L774.2 109.8H766.3zM749.5 135.3H757.6L755.6 138.5H747.4z"/><path fill="#3effb8" stroke="#3effb8" stroke-width=".5" d="M661.3 144.8H669.4L654.9 167.1H647.1zM673.6 138.5H681.8L677.6 144.8H669.4zM686 132.1H694.3L690 138.5H681.8zM652.4 183H660.2L658.1 186.2H650.3zM707.1 113H715.4L700.4 135.3H692.2zM655.9 189.4H663.9L661.7 192.6H653.8zM665.4 199H673.5L671.4 202.1H663.2zM753.6 81.2H761.8L759.6 84.3H751.5zM763.3 90.7H771.2L769.1 93.9H761.1zM724.6 148H732.8L717.9 170.3H709.6zM766.9 97.1H774.7L772.6 100.3H764.8zM735 144.8H743.2L739 151.2H730.7zM747.4 138.5H755.6L751.4 144.8H743.2zM770.1 116.2H777.9L763.7 138.5H755.6z"/><path fill="#45ffb2" stroke="#45ffb2" stroke-width=".5" d="M665.3 138.5H673.6L669.4 144.8H661.3zM647.1 167.1H654.9L652.9 170.3H645.1zM677.7 132.1H686L681.8 138.5H673.6zM648.7 176.7H656.6L654.5 179.9H646.7zM692.3 122.6H700.7L694.3 132.1H686zM711.3 106.6H719.7L715.4 113H707.1zM709.6 170.3H717.9L713.7 176.7H705.3zM730.7 151.2H739L732.7 160.8H724.3zM770.5 103.5H778.3L776.3 106.6H768.4zM743.2 144.8H751.4L747.3 151.2H739zM772.1 113H779.9L777.9 116.2H770.1zM755.6 138.5H763.7L759.7 144.8H751.4z"/><path fill="#4bffac" stroke="#4bffac" stroke-width=".5" d="M657.1 138.5H665.3L649.1 163.9H641.3zM671.4 128.9H679.8L673.6 138.5H665.3zM645.1 170.3H652.9L650.8 173.5H643zM683.9 122.6H692.3L686 132.1H677.7zM646.7 179.9H654.5L652.4 183H644.6zM698.6 113H707.1L700.7 122.6H692.3zM713.5 103.5H721.9L719.7 106.6H711.3zM659.6 195.8H667.6L665.4 199H657.4zM759.6 84.3H767.6L765.4 87.5H757.4zM705.3 176.7H713.7L711.5 179.9H703.1zM724.3 160.8H732.7L726.4 170.3H717.9zM772.6 100.3H780.4L778.3 103.5H770.5zM739 151.2H747.3L741.1 160.8H732.7zM774.2 109.8H782L779.9 113H772.1zM751.4 144.8H759.7L753.6 154.4H745.2zM775.9 119.4H783.7L767.9 144.8H759.7z"/><path fill="#52ffa5" stroke="#52ffa5" stroke-width=".5" d="M663 128.9H671.4L665.3 138.5H657.1zM641.3 163.9H649.1L647.1 167.1H639.3zM675.5 122.6H683.9L679.8 128.9H671.4zM643 173.5H650.8L648.7 176.7H641zM688.1 116.2H696.5L692.3 122.6H683.9zM702.8 106.6H711.3L707.1 113H698.6zM650.3 186.2H658.1L655.9 189.4H648.1zM715.6 100.3H724L721.9 103.5H713.5zM726.2 97.1H734.6L732.4 100.3H724zM734.6 97.1H742.8L740.6 100.3H732.4zM684.4 183H692.6L690.4 186.2H682.2zM692.6 183H701L698.8 186.2H690.4zM703.1 179.9H711.5L709.4 183H701zM769.1 93.9H776.9L774.7 97.1H766.9zM717.9 170.3H726.4L722.2 176.7H713.7zM732.7 160.8H741.1L736.9 167.1H728.5zM776.3 106.6H784L782 109.8H774.2zM745.2 154.4H753.6L749.5 160.8H741.1zM777.9 116.2H785.7L783.7 119.4H775.9zM759.7 144.8H767.9L762 154.4H753.6z"/><path fill="#58ff9f" stroke="#58ff9f" stroke-width=".5" d="M652.7 132.1H661L643.2 160.8H635.4zM667 122.6H675.5L671.4 128.9H663zM639.3 167.1H647.1L645.1 170.3H637.3zM679.5 116.2H688.1L683.9 122.6H675.5zM641 176.7H648.7L646.7 179.9H639zM692.2 109.8H700.7L696.5 116.2H688.1zM644.6 183H652.4L650.3 186.2H642.5zM704.9 103.5H713.5L711.3 106.6H702.8zM653.8 192.6H661.7L659.6 195.8H651.7zM765.4 87.5H773.3L771.2 90.7H763.3zM713.7 176.7H722.2L720.1 179.9H711.5zM774.7 97.1H782.5L780.4 100.3H772.6zM728.5 167.1H736.9L732.8 173.5H724.3zM778.3 103.5H786L784 106.6H776.3zM741.1 160.8H749.5L745.5 167.1H736.9zM779.9 113H787.7L785.7 116.2H777.9zM753.6 154.4H762L758 160.8H749.5zM781.8 122.6H789.6L772.3 151.2H764z"/><path fill="#5eff98" stroke="#5eff98" stroke-width=".5" d="M644.3 132.1H652.7L641.1 151.2H633.1zM658.4 122.6H667L661 132.1H652.7zM635.4 160.8H643.2L639.3 167.1H631.5zM670.9 116.2H679.5L675.5 122.6H667zM637.3 170.3H645.1L643 173.5H635.3zM683.6 109.8H692.2L688.1 116.2H679.5zM694.3 106.6H702.8L700.7 109.8H692.2zM707 100.3H715.6L713.5 103.5H704.9zM648.1 189.4H655.9L653.8 192.6H646zM717.7 97.1H726.2L724 100.3H715.6zM701 183H709.4L707.3 186.2H698.8zM771.2 90.7H779L776.9 93.9H769.1zM711.5 179.9H720.1L718 183H709.4zM724.3 173.5H732.8L730.7 176.7H722.2zM736.9 167.1H745.5L741.4 173.5H732.8zM782 109.8H789.7L787.7 113H779.9zM749.5 160.8H758L754.1 167.1H745.5zM785.7 116.2H793.5L789.6 122.6H781.8zM764 151.2H772.3L766.6 160.8H758zM783.9 132.1H791.9L780.7 151.2H772.3z"/><path fill="#65ff92" stroke="#65ff92" stroke-width=".5" d="M651.7 119.4H660.3L652.7 132.1H644.3zM633.1 151.2H641.1L635.4 160.8H627.6zM664.2 113H672.9L667 122.6H658.4zM631.5 167.1H639.3L637.3 170.3H629.6zM674.9 109.8H683.6L679.5 116.2H670.9zM635.3 173.5H643L641 176.7H633.4zM685.6 106.6H694.3L692.2 109.8H683.6zM639 179.9H646.7L644.6 183H637zM698.4 100.3H707L702.8 106.6H694.3zM642.5 186.2H650.3L648.1 189.4H640.5zM776.9 93.9H784.5L782.5 97.1H774.7zM722.2 176.7H730.7L726.6 183H718zM780.4 100.3H788L786 103.5H778.3zM732.8 173.5H741.4L739.4 176.7H730.7zM784 106.6H791.6L789.7 109.8H782zM745.5 167.1H754.1L750.1 173.5H741.4zM787.7 113H795.4L793.5 116.2H785.7zM758 160.8H766.6L760.8 170.3H752.1zM789.6 122.6H797.4L791.9 132.1H783.9zM772.3 151.2H780.7L773.3 163.9H764.7z"/><path fill="#6bff8b" stroke="#6bff8b" stroke-width=".5" d="M643 119.4H651.7L629.4 157.6H621.6zM655.4 113H664.2L660.3 119.4H651.7zM627.6 160.8H635.4L631.5 167.1H623.9zM668 106.6H676.8L672.9 113H664.2zM629.6 170.3H637.3L635.3 173.5H627.7zM678.8 103.5H687.6L683.6 109.8H674.9zM633.4 176.7H641L639 179.9H631.4zM689.6 100.3H698.4L694.3 106.6H685.6zM637 183H644.6L642.5 186.2H634.9zM709.1 97.1H717.7L715.6 100.3H707zM663.2 202.1H671.4L669.2 205.3H661.1zM755.8 78H763.9L761.8 81.2H753.6zM709.4 183H718L715.9 186.2H707.3zM782.5 97.1H790.1L788 100.3H780.4zM730.7 176.7H739.4L735.4 183H726.6zM786 103.5H793.6L791.6 106.6H784zM741.4 173.5H750.1L746.2 179.9H737.4zM789.7 109.8H797.3L795.4 113H787.7zM752.1 170.3H760.8L757 176.7H748.2zM793.5 116.2H801.1L797.4 122.6H789.6zM764.7 163.9H773.3L769.6 170.3H760.8zM795.6 125.7H803.4L782 163.9H773.3z"/><path fill="#72ff85" stroke="#72ff85" stroke-width=".5" d="M634.2 119.4H643L625.2 151.2H617.2zM648.3 109.8H657.2L651.7 119.4H643zM621.6 157.6H629.4L625.7 163.9H618zM659.1 106.6H668L664.2 113H655.4zM623.9 167.1H631.5L629.6 170.3H622zM669.9 103.5H678.8L676.8 106.6H668zM627.7 173.5H635.3L633.4 176.7H625.8zM680.8 100.3H689.6L687.6 103.5H678.8zM631.4 179.9H639L637 183H629.4zM691.7 97.1H700.5L698.4 100.3H689.6zM700.5 97.1H709.1L707 100.3H698.4zM711.3 93.9H719.9L717.7 97.1H709.1zM646 192.6H653.8L651.7 195.8H643.9zM719.9 93.9H728.3L726.2 97.1H717.7zM651.7 195.8H659.6L657.4 199H649.6zM728.3 93.9H736.7L734.6 97.1H726.2zM657.4 199H665.4L663.2 202.1H655.3zM761.8 81.2H769.7L767.6 84.3H759.6zM690.4 186.2H698.8L696.7 189.4H688.3zM767.6 84.3H775.4L773.3 87.5H765.4zM698.8 186.2H707.3L705.1 189.4H696.7zM773.3 87.5H781.1L779 90.7H771.2zM707.3 186.2H715.9L713.7 189.4H705.1zM718 183H726.6L724.5 186.2H715.9zM726.6 183H735.4L733.3 186.2H724.5zM788 100.3H795.6L793.6 103.5H786zM737.4 179.9H746.2L744.2 183H735.4zM791.6 106.6H799.2L797.3 109.8H789.7zM748.2 176.7H757L755.1 179.9H746.2zM795.4 113H803L801.1 116.2H793.5zM760.8 170.3H769.6L765.9 176.7H757zM799.3 119.4H807L803.4 125.7H795.6zM773.3 163.9H782L776.7 173.5H767.8zM799.8 132.1H807.8L790.8 163.9H782z"/><path fill="#78ff7f" stroke="#78ff7f" stroke-width=".5" d="M627 116.2H635.9L617.2 151.2H609.3zM641 106.6H650.1L643 119.4H634.2zM617.2 151.2H625.2L619.8 160.8H612.1zM651.9 103.5H661L657.2 109.8H648.3zM618 163.9H625.7L622 170.3H614.5zM662.8 100.3H671.9L668 106.6H659.1zM622 170.3H629.6L625.8 176.7H618.3zM673.8 97.1H682.8L678.8 103.5H669.9zM625.8 176.7H633.4L631.4 179.9H623.9zM682.8 97.1H691.7L689.6 100.3H680.8zM629.4 183H637L634.9 186.2H627.4zM693.7 93.9H702.5L700.5 97.1H691.7zM634.9 186.2H642.5L640.5 189.4H632.9zM702.5 93.9H711.3L709.1 97.1H700.5zM640.5 189.4H648.1L646 192.6H638.4zM779 90.7H786.6L784.5 93.9H776.9zM715.9 186.2H724.5L722.5 189.4H713.7zM784.5 93.9H792.1L790.1 97.1H782.5zM724.5 186.2H733.3L731.3 189.4H722.5zM790.1 97.1H797.6L795.6 100.3H788zM735.4 183H744.2L742.2 186.2H733.3zM793.6 103.5H801.1L799.2 106.6H791.6zM746.2 179.9H755.1L751.2 186.2H742.2zM799.2 106.6H806.7L803 113H795.4zM757 176.7H765.9L762.2 183H753.1zM803 113H810.5L807 119.4H799.3zM767.8 173.5H776.7L773.1 179.9H764zM805.2 122.6H812.9L807.8 132.1H799.8zM782 163.9H790.8L784 176.7H774.9zM807.8 132.1H815.7L798 167.1H789.1z"/><path fill="#7fff78" stroke="#7fff78" stroke-width=".5" d="M621.1 109.8H630.2L610.9 148H602.9zM633.5 103.5H642.7L635.9 116.2H627zM609.3 151.2H617.2L612.1 160.8H604.4zM646.1 97.1H655.4L650.1 106.6H641zM612.1 160.8H619.8L616.2 167.1H608.7zM655.4 97.1H664.7L661 103.5H651.9zM614.5 170.3H622L620.2 173.5H612.7zM666.5 93.9H675.7L671.9 100.3H662.8zM618.3 176.7H625.8L623.9 179.9H616.4zM675.7 93.9H684.8L682.8 97.1H673.8zM623.9 179.9H631.4L629.4 183H621.9zM684.8 93.9H693.7L691.7 97.1H682.8zM695.7 90.7H704.6L702.5 93.9H693.7zM704.6 90.7H713.4L711.3 93.9H702.5zM713.4 90.7H722L719.9 93.9H711.3zM705.1 189.4H713.7L711.6 192.6H703zM713.7 189.4H722.5L720.4 192.6H711.6zM722.5 189.4H731.3L729.3 192.6H720.4zM733.3 186.2H742.2L740.2 189.4H731.3zM795.6 100.3H803.1L801.1 103.5H793.6zM742.2 186.2H751.2L749.3 189.4H740.2zM801.1 103.5H808.6L806.7 106.6H799.2zM753.1 183H762.2L758.5 189.4H749.3zM804.8 109.8H812.3L810.5 113H803zM764 179.9H773.1L769.6 186.2H760.3zM808.8 116.2H816.3L812.9 122.6H805.2zM774.9 176.7H784L778.9 186.2H769.6zM812.9 122.6H820.6L815.7 132.1H807.8zM789.1 167.1H798L791.5 179.9H782.3zM814.1 135.3H822.1L803.9 173.5H794.8z"/><path fill="#85ff72" stroke="#85ff72" stroke-width=".5" d="M614.7 103.5H624.1L601.3 151.2H593.5zM627.1 97.1H636.7L630.2 109.8H621.1zM602.9 148H610.9L604.4 160.8H596.8zM638.3 93.9H647.8L642.7 103.5H633.5zM604.4 160.8H612.1L608.7 167.1H601.2zM649.5 90.7H659L655.4 97.1H646.1zM608.7 167.1H616.2L612.7 173.5H605.3zM659 90.7H668.4L664.7 97.1H655.4zM612.7 173.5H620.2L618.3 176.7H610.9zM668.4 90.7H677.6L675.7 93.9H666.5zM616.4 179.9H623.9L621.9 183H614.6zM679.5 87.5H688.7L684.8 93.9H675.7zM621.9 183H629.4L627.4 186.2H620zM686.7 90.7H695.7L693.7 93.9H684.8zM627.4 186.2H634.9L632.9 189.4H625.4zM632.9 189.4H640.5L638.4 192.6H630.9zM638.4 192.6H646L643.9 195.8H636.3zM722 90.7H730.5L728.3 93.9H719.9zM696.7 189.4H705.1L703 192.6H694.5zM781.1 87.5H788.7L786.6 90.7H779zM786.6 90.7H794.1L792.1 93.9H784.5zM792.1 93.9H799.6L797.6 97.1H790.1zM731.3 189.4H740.2L738.3 192.6H729.3zM797.6 97.1H805L803.1 100.3H795.6zM740.2 189.4H749.3L745.5 195.8H736.3zM803.1 100.3H810.4L808.6 103.5H801.1zM749.3 189.4H758.5L756.6 192.6H747.4zM806.7 106.6H814.1L812.3 109.8H804.8zM760.3 186.2H769.6L766 192.6H756.6zM812.3 109.8H819.7L816.3 116.2H808.8zM769.6 186.2H778.9L775.5 192.6H766zM816.3 116.2H823.8L820.6 122.6H812.9zM782.3 179.9H791.5L786.7 189.4H777.2zM820.6 122.6H828.2L822.1 135.3H814.1zM794.8 173.5H803.9L797.9 186.2H788.3zM823.7 132.1H831.5L810.3 179.9H800.9z"/><path fill="#8bff6b" stroke="#8bff6b" stroke-width=".5" d="M594.3 106.6H603.8L589.5 141.7H581.3zM607.7 97.1H617.5L592 154.4H584.3zM620.3 90.7H630.2L624.1 103.5H614.7zM593.5 151.2H601.3L595.3 163.9H587.8zM631.7 87.5H641.5L636.7 97.1H627.1zM596.8 160.8H604.4L599.6 170.3H592.2zM643.1 84.3H652.9L647.8 93.9H638.3zM601.2 167.1H608.7L605.3 173.5H598zM652.9 84.3H662.6L659 90.7H649.5zM605.3 173.5H612.7L609.1 179.9H601.9zM662.6 84.3H672.1L668.4 90.7H659zM610.9 176.7H618.3L614.6 183H607.3zM672.1 84.3H681.5L677.6 90.7H668.4zM614.6 183H621.9L620 186.2H612.7zM681.5 84.3H690.7L688.7 87.5H679.5zM620 186.2H627.4L625.4 189.4H618.1zM688.7 87.5H697.8L695.7 90.7H686.7zM625.4 189.4H632.9L630.9 192.6H623.5zM697.8 87.5H706.7L704.6 90.7H695.7zM706.7 87.5H715.5L713.4 90.7H704.6zM643.9 195.8H651.7L649.6 199H641.8zM649.6 199H657.4L655.3 202.1H647.4zM736.7 93.9H745L742.8 97.1H734.6zM682.2 186.2H690.4L688.3 189.4H680zM769.7 81.2H777.6L775.4 84.3H767.6zM775.4 84.3H783.2L781.1 87.5H773.3zM711.6 192.6H720.4L718.3 195.8H709.5zM720.4 192.6H729.3L727.2 195.8H718.3zM794.1 90.7H801.5L799.6 93.9H792.1zM729.3 192.6H738.3L736.3 195.8H727.2zM799.6 93.9H806.9L805 97.1H797.6zM736.3 195.8H745.5L743.5 199H734.3zM805 97.1H812.3L810.4 100.3H803.1zM747.4 192.6H756.6L752.9 199H743.5zM810.4 100.3H817.7L814.1 106.6H806.7zM756.6 192.6H766L762.4 199H752.9zM815.9 103.5H823.1L819.7 109.8H812.3zM766 192.6H775.5L772.1 199H762.4zM819.7 109.8H827L823.8 116.2H816.3zM777.2 189.4H786.7L781.9 199H772.1zM825.4 113H832.8L828.2 122.6H820.6zM788.3 186.2H797.9L793.3 195.8H783.5zM829.7 119.4H837.2L831.5 132.1H823.7zM800.9 179.9H810.3L804.7 192.6H794.8zM833 128.9H840.7L817.3 186.2H807.5zM835.5 141.7H843.7L830.7 176.7H821.2z"/><path fill="#92ff65" stroke="#92ff65" stroke-width=".5" d="M575.1 106.6H584.7L575.2 135.3H566.7zM589 93.9H599.1L577.7 151.2H569.9zM602.6 84.3H613L603.8 106.6H594.3zM581.3 141.7H589.5L581.7 160.8H574.2zM614.3 81.2H624.6L617.5 97.1H607.7zM584.3 154.4H592L586.4 167.1H579.1zM626 78H636.3L630.2 90.7H620.3zM587.8 163.9H595.3L590.7 173.5H583.6zM636.3 78H646.4L641.5 87.5H631.7zM592.2 170.3H599.6L596.4 176.7H589.2zM646.4 78H656.3L652.9 84.3H643.1zM598 173.5H605.3L601.9 179.9H594.7zM656.3 78H666.1L662.6 84.3H652.9zM601.9 179.9H609.1L607.3 183H600.2zM666.1 78H675.8L672.1 84.3H662.6zM607.3 183H614.6L612.7 186.2H605.6zM673.9 81.2H683.4L681.5 84.3H672.1zM612.7 186.2H620L618.1 189.4H610.9zM683.4 81.2H692.7L690.7 84.3H681.5zM618.1 189.4H625.4L623.5 192.6H616.2zM690.7 84.3H699.8L697.8 87.5H688.7zM699.8 84.3H708.7L706.7 87.5H697.8zM630.9 192.6H638.4L636.3 195.8H628.8zM636.3 195.8H643.9L641.8 199H634.3zM715.5 87.5H724.1L722 90.7H713.4zM730.5 90.7H738.9L736.7 93.9H728.3zM688.3 189.4H696.7L694.5 192.6H686.1zM703 192.6H711.6L709.5 195.8H700.9zM783.2 84.3H790.7L788.7 87.5H781.1zM788.7 87.5H796.2L794.1 90.7H786.6zM718.3 195.8H727.2L725.2 199H716.3zM727.2 195.8H736.3L734.3 199H725.2zM801.5 90.7H808.8L806.9 93.9H799.6zM734.3 199H743.5L741.6 202.1H732.3zM806.9 93.9H814.1L812.3 97.1H805zM743.5 199H752.9L751.1 202.1H741.6zM812.3 97.1H819.4L817.7 100.3H810.4zM752.9 199H762.4L758.9 205.3H749.2zM817.7 100.3H824.8L823.1 103.5H815.9zM762.4 199H772.1L768.7 205.3H758.9zM823.1 103.5H830.3L827 109.8H819.7zM772.1 199H781.9L778.6 205.3H768.7zM828.6 106.6H835.8L832.8 113H825.4zM783.5 195.8H793.3L788.7 205.3H778.6zM834.3 109.8H841.4L837.2 119.4H829.7zM794.8 192.6H804.7L799 205.3H788.7zM838.6 116.2H845.9L840.7 128.9H833zM807.5 186.2H817.3L810.7 202.1H800.4zM843.3 122.6H850.8L843.7 141.7H835.5zM821.2 176.7H830.7L822.4 199H812zM847.3 132.1H855.1L836 189.4H825.9zM849.8 148H858.3L849.9 176.7H840.3z"/><path fill="#98ff5e" stroke="#98ff5e" stroke-width=".5" d="M556.7 100.3H566.9L556.7 141.7H548.5zM570.8 84.3H581.5L561.2 154.4H553.6zM583.4 78H594.3L584.7 106.6H575.1zM566.7 135.3H575.2L566.7 160.8H559.4zM595.3 74.8H606.2L599.1 93.9H589zM569.9 151.2H577.7L571.8 167.1H564.6zM607.4 71.6H618.2L613 84.3H602.6zM574.2 160.8H581.7L576.5 173.5H569.5zM619.5 68.4H630.2L624.6 81.2H614.3zM579.1 167.1H586.4L582.1 176.7H575.2zM630.2 68.4H640.8L636.3 78H626zM583.6 173.5H590.7L587.7 179.9H580.7zM640.8 68.4H651.2L646.4 78H636.3zM589.2 176.7H596.4L593.1 183H586.2zM649.6 71.6H659.7L656.3 78H646.4zM594.7 179.9H601.9L598.5 186.2H591.5zM659.7 71.6H669.7L666.1 78H656.3zM600.2 183H607.3L603.8 189.4H596.8zM667.9 74.8H677.6L675.8 78H666.1zM605.6 186.2H612.7L610.9 189.4H603.8zM675.8 78H685.3L683.4 81.2H673.9zM610.9 189.4H618.1L616.2 192.6H609zM685.3 78H694.6L692.7 81.2H683.4zM616.2 192.6H623.5L621.5 195.8H614.3zM692.7 81.2H701.8L699.8 84.3H690.7zM623.5 192.6H630.9L628.8 195.8H621.5zM628.8 195.8H636.3L634.3 199H626.8zM708.7 84.3H717.6L715.5 87.5H706.7zM655.3 202.1H663.2L661.1 205.3H653.1zM661.1 205.3H669.2L667 208.5H658.9zM758 74.8H766.1L763.9 78H755.8zM763.9 78H771.9L769.7 81.2H761.8zM709.5 195.8H718.3L716.3 199H707.4zM790.7 84.3H798.2L796.2 87.5H788.7zM796.2 87.5H803.5L801.5 90.7H794.1zM725.2 199H734.3L732.3 202.1H723.2zM803.5 87.5H810.7L808.8 90.7H801.5zM732.3 202.1H741.6L739.7 205.3H730.4zM808.8 90.7H816L814.1 93.9H806.9zM741.6 202.1H751.1L749.2 205.3H739.7zM814.1 93.9H821.2L819.4 97.1H812.3zM749.2 205.3H758.9L757.1 208.5H747.4zM821.2 93.9H828.2L824.8 100.3H817.7zM758.9 205.3H768.7L765.3 211.7H755.3zM826.5 97.1H833.5L830.3 103.5H823.1zM768.7 205.3H778.6L775.4 211.7H765.3zM831.9 100.3H838.8L835.8 106.6H828.6zM778.6 205.3H788.7L784.2 214.9H773.8zM837.3 103.5H844.3L841.4 109.8H834.3zM788.7 205.3H799L794.8 214.9H784.2zM842.9 106.6H849.8L845.9 116.2H838.6zM800.4 202.1H810.7L805.5 214.9H794.8zM848.5 109.8H855.5L850.8 122.6H843.3zM812 199H822.4L817.6 211.7H806.8zM853.2 116.2H860.4L855.1 132.1H847.3zM825.9 189.4H836L829.7 208.5H818.8zM858.3 122.6H865.6L858.3 148H849.8zM840.3 176.7H849.9L841.6 205.3H830.7zM863.8 128.9H871.4L854.2 199H843.5zM868.3 141.7H876.5L868.3 183H858.1z"/><path fill="#9fff58" stroke="#9fff58" stroke-width=".5" d="M538 81.2H549.4L538.4 154.4H530.9zM550.8 71.6H562.4L544.1 163.9H537zM563.7 65.2H575.5L566.9 100.3H556.7zM548.5 141.7H556.7L549.7 170.3H542.8zM577.1 58.9H588.9L581.5 84.3H570.8zM553.6 154.4H561.2L555.7 173.5H548.9zM588.9 58.9H600.6L594.3 78H583.4zM559.4 160.8H566.7L561.5 176.7H554.7zM601.7 55.7H613.3L606.2 74.8H595.3zM564.6 167.1H571.8L567.1 179.9H560.4zM613.3 55.7H624.7L618.2 71.6H607.4zM569.5 173.5H576.5L572.6 183H565.9zM623.4 58.9H634.5L630.2 68.4H619.5zM575.2 176.7H582.1L577.9 186.2H571.3zM634.5 58.9H645.4L640.8 68.4H630.2zM580.7 179.9H587.7L583.1 189.4H576.5zM643.8 62.1H654.4L651.2 68.4H640.8zM586.2 183H593.1L589.9 189.4H583.1zM652.8 65.2H663.1L659.7 71.6H649.6zM591.5 186.2H598.5L595.1 192.6H588.3zM661.4 68.4H671.5L669.7 71.6H659.7zM596.8 189.4H603.8L602 192.6H595.1zM669.7 71.6H679.5L677.6 74.8H667.9zM603.8 189.4H610.9L607.2 195.8H600.2zM679.5 71.6H689.1L685.3 78H675.8zM609 192.6H616.2L614.3 195.8H607.2zM687.2 74.8H696.6L694.6 78H685.3zM614.3 195.8H621.5L619.5 199H612.3zM694.6 78H703.8L701.8 81.2H692.7zM621.5 195.8H628.8L626.8 199H619.5zM701.8 81.2H710.8L708.7 84.3H699.8zM641.8 199H649.6L647.4 202.1H639.7zM724.1 87.5H732.6L730.5 90.7H722zM694.5 192.6H703L700.9 195.8H692.4zM777.6 81.2H785.3L783.2 84.3H775.4zM716.3 199H725.2L723.2 202.1H714.2zM798.2 84.3H805.5L803.5 87.5H796.2zM723.2 202.1H732.3L730.4 205.3H721.2zM805.5 84.3H812.7L810.7 87.5H803.5zM730.4 205.3H739.7L737.8 208.5H728.4zM810.7 87.5H817.8L816 90.7H808.8zM739.7 205.3H749.2L745.5 211.7H735.9zM817.8 87.5H824.8L821.2 93.9H814.1zM747.4 208.5H757.1L755.3 211.7H745.5zM823 90.7H829.9L828.2 93.9H821.2zM755.3 211.7H765.3L763.6 214.9H753.5zM829.9 90.7H836.7L833.5 97.1H826.5zM765.3 211.7H775.4L772.2 218.1H761.9zM835.1 93.9H841.9L838.8 100.3H831.9zM773.8 214.9H784.2L781.2 221.2H770.6zM841.9 93.9H848.5L844.3 103.5H837.3zM784.2 214.9H794.8L790.5 224.4H779.6zM847.1 97.1H853.7L849.8 106.6H842.9zM794.8 214.9H805.5L801.6 224.4H790.5zM852.4 100.3H859.1L855.5 109.8H848.5zM806.8 211.7H817.6L811.7 227.6H800.3zM857.9 103.5H864.6L860.4 116.2H853.2zM818.8 208.5H829.7L823.3 227.6H811.7zM863.5 106.6H870.3L865.6 122.6H858.3zM830.7 205.3H841.6L836.1 224.4H824.4zM869.3 109.8H876.1L871.4 128.9H863.8zM843.5 199H854.2L847.9 224.4H836.1zM875.3 113H882.2L876.5 141.7H868.3zM858.1 183H868.3L861.3 218.1H849.5zM880.9 119.4H888L874.2 211.7H862.6zM886.6 128.9H894.1L887 202.1H875.6zM889.5 176.7H899.6L899 189.4H888.2z"/><path fill="#a5ff52" stroke="#a5ff52" stroke-width=".5" d="M528.2 43H541.8L537.4 87.5H526.3zM542.1 39.8H555.6L549.4 81.2H538zM530.9 154.4H538.4L537.4 160.8H530.2zM556 36.6H569.4L562.4 71.6H550.8zM537 163.9H544.1L539.6 186.2H533.6zM569.4 36.6H582.5L575.5 65.2H563.7zM542.8 170.3H549.7L545 189.4H539zM582.5 36.6H595.4L588.9 58.9H577.1zM548.9 173.5H555.7L551 189.4H545zM595.4 36.6H608L600.6 58.9H588.9zM554.7 176.7H561.5L556.2 192.6H550.1zM607 39.8H619.2L613.3 55.7H601.7zM560.4 179.9H567.1L562.3 192.6H556.2zM618 43H629.9L624.7 55.7H613.3zM565.9 183H572.6L567.3 195.8H561.2zM628.6 46.2H640.1L634.5 58.9H623.4zM571.3 186.2H577.9L573.7 195.8H567.3zM638.7 49.3H649.9L645.4 58.9H634.5zM576.5 189.4H583.1L578.6 199H572.2zM648.4 52.5H659.3L654.4 62.1H643.8zM583.1 189.4H589.9L585.1 199H578.6zM656.1 58.9H666.5L663.1 65.2H652.8zM588.3 192.6H595.1L591.7 199H585.1zM664.8 62.1H675L671.5 68.4H661.4zM595.1 192.6H602L598.4 199H591.7zM673.3 65.2H683.2L679.5 71.6H669.7zM600.2 195.8H607.2L605.3 199H598.4zM681.4 68.4H691.1L689.1 71.6H679.5zM607.2 195.8H614.3L612.3 199H605.3zM689.1 71.6H698.6L696.6 74.8H687.2zM612.3 199H619.5L617.5 202.1H610.4zM696.6 74.8H705.9L703.8 78H694.6zM619.5 199H626.8L624.8 202.1H617.5zM703.8 78H712.9L710.8 81.2H701.8zM626.8 199H634.3L632.2 202.1H624.8zM710.8 81.2H719.7L717.6 84.3H708.7zM634.3 199H641.8L639.7 202.1H632.2zM717.6 84.3H726.2L724.1 87.5H715.5zM700.9 195.8H709.5L707.4 199H698.8zM785.3 81.2H792.8L790.7 84.3H783.2zM707.4 199H716.3L714.2 202.1H705.3zM792.8 81.2H800.2L798.2 84.3H790.7zM714.2 202.1H723.2L721.2 205.3H712.1zM800.2 81.2H807.5L805.5 84.3H798.2zM721.2 205.3H730.4L728.4 208.5H719.1zM807.5 81.2H814.6L812.7 84.3H805.5zM728.4 208.5H737.8L735.9 211.7H726.4zM812.7 84.3H819.7L817.8 87.5H810.7zM735.9 211.7H745.5L743.6 214.9H733.9zM819.7 84.3H826.6L824.8 87.5H817.8zM745.5 211.7H755.3L751.7 218.1H741.8zM826.6 84.3H833.3L829.9 90.7H823zM753.5 214.9H763.6L760.2 221.2H750zM833.3 84.3H839.9L836.7 90.7H829.9zM761.9 218.1H772.2L768.9 224.4H758.5zM839.9 84.3H846.4L841.9 93.9H835.1zM770.6 221.2H781.2L776.6 230.8H765.7zM846.4 84.3H852.8L848.5 93.9H841.9zM779.6 224.4H790.5L786.3 234H775.1zM851.3 87.5H857.7L853.7 97.1H847.1zM790.5 224.4H801.6L796.4 237.2H784.9zM857.7 87.5H863.8L859.1 100.3H852.4zM800.3 227.6H811.7L807 240.3H795.1zM862.7 90.7H868.8L864.6 103.5H857.9zM811.7 227.6H823.3L818 243.5H805.8zM868.8 90.7H874.9L870.3 106.6H863.5zM824.4 224.4H836.1L829.6 246.7H817zM874 93.9H880L876.1 109.8H869.3zM836.1 224.4H847.9L842.5 246.7H829.6zM880 93.9H886L882.2 113H875.3zM849.5 218.1H861.3L855.6 246.7H842.5zM885.4 97.1H891.4L888 119.4H880.9zM862.6 211.7H874.2L869 246.7H855.6zM889.5 109.8H896L894.1 128.9H886.6zM875.6 202.1H887L882.9 243.5H869.4zM888.2 189.4H899L896.8 240.3H883.2z"/><path fill="#acff4b" stroke="#acff4b" stroke-width=".5" d="M529.1 23.9H543.6L541.8 43H528.2zM543.6 23.9H557.9L555.6 39.8H542.1zM557.9 23.9H571.9L569.4 36.6H556zM533.6 186.2H539.6L537.7 195.8H532.2zM571.9 23.9H585.7L582.5 36.6H569.4zM539 189.4H545L540.3 208.5H535.2zM585.7 23.9H599.1L595.4 36.6H582.5zM545 189.4H551L545.5 208.5H540.3zM599.1 23.9H612.3L608 36.6H595.4zM550.1 192.6H556.2L550.9 208.5H545.5zM612.3 23.9H625.1L619.2 39.8H607zM556.2 192.6H562.3L556.4 208.5H550.9zM624 27H636.4L629.9 43H618zM561.2 195.8H567.3L562.1 208.5H556.4zM633.8 33.4H645.8L640.1 46.2H628.6zM567.3 195.8H573.7L568 208.5H562.1zM643 39.8H654.5L649.9 49.3H638.7zM572.2 199H578.6L574 208.5H568zM651.4 46.2H662.5L659.3 52.5H648.4zM578.6 199H585.1L580.2 208.5H574zM660.9 49.3H671.6L666.5 58.9H656.1zM585.1 199H591.7L588.3 205.3H581.8zM668.2 55.7H678.6L675 62.1H664.8zM591.7 199H598.4L594.9 205.3H588.3zM675 62.1H685.1L683.2 65.2H673.3zM598.4 199H605.3L601.6 205.3H594.9zM683.2 65.2H693L691.1 68.4H681.4zM605.3 199H612.3L608.5 205.3H601.6zM691.1 68.4H700.6L698.6 71.6H689.1zM610.4 202.1H617.5L615.6 205.3H608.5zM617.5 202.1H624.8L622.8 205.3H615.6zM647.4 202.1H655.3L653.1 205.3H645.3zM771.9 78H779.7L777.6 81.2H769.7zM802.2 78H809.4L807.5 81.2H800.2zM809.4 78H816.5L814.6 81.2H807.5zM726.4 211.7H735.9L733.9 214.9H724.4zM816.5 78H823.4L819.7 84.3H812.7zM733.9 214.9H743.6L741.8 218.1H732zM823.4 78H830.1L826.6 84.3H819.7zM741.8 218.1H751.7L750 221.2H739.9zM830.1 78H836.7L833.3 84.3H826.6zM750 221.2H760.2L756.8 227.6H746.4zM836.7 78H843.2L839.9 84.3H833.3zM758.5 224.4H768.9L764.1 234H753.4zM844.8 74.8H851L846.4 84.3H839.9zM765.7 230.8H776.6L773.6 237.2H762.5zM851 74.8H857L852.8 84.3H846.4zM775.1 234H786.3L782 243.5H770.5zM857 74.8H862.9L857.7 87.5H851.3zM784.9 237.2H796.4L791.2 249.9H779.2zM862.9 74.8H868.6L863.8 87.5H857.7zM795.1 240.3H807L801 256.2H788.6zM868.6 74.8H874.1L868.8 90.7H862.7zM805.8 243.5H818L813.8 256.2H801zM874.1 74.8H879.5L874.9 90.7H868.8zM817 246.7H829.6L826.8 256.2H813.8zM879.5 74.8H884.7L880 93.9H874zM829.6 246.7H842.5L840.1 256.2H826.8zM884.7 74.8H889.8L886 93.9H880zM842.5 246.7H855.6L853.7 256.2H840.1zM889.8 74.8H894.7L891.4 97.1H885.4zM855.6 246.7H869L867.5 256.2H853.7zM869.4 243.5H882.9L881.7 256.2H867.5zM883.2 240.3H896.8L896.1 256.2H881.7z"/><path fill="#b2ff45" stroke="#b2ff45" stroke-width=".5" d="M535.2 208.5H540.3L537.1 221.2H532.7zM540.3 208.5H545.5L539 230.8H534.8zM545.5 208.5H550.9L544.5 227.6H539.9zM550.9 208.5H556.4L549.3 227.6H544.5zM625.1 23.9H637.7L636.4 27H624zM556.4 208.5H562.1L555.6 224.4H550.5zM637.7 23.9H650L645.8 33.4H633.8zM562.1 208.5H568L560.9 224.4H555.6zM648.6 27H660.5L654.5 39.8H643zM568 208.5H574L568 221.2H562.3zM656 36.6H667.3L662.5 46.2H651.4zM574 208.5H580.2L575.4 218.1H569.5zM664.1 43H675L671.6 49.3H660.9zM581.8 205.3H588.3L581.5 218.1H575.4zM671.6 49.3H682.2L678.6 55.7H668.2zM588.3 205.3H594.9L589.5 214.9H583.2zM678.6 55.7H688.8L685.1 62.1H675zM594.9 205.3H601.6L597.9 211.7H591.3zM685.1 62.1H694.9L693 65.2H683.2zM601.6 205.3H608.5L604.7 211.7H597.9zM693 65.2H702.6L700.6 68.4H691.1zM608.5 205.3H615.6L613.6 208.5H606.6zM698.6 71.6H707.9L705.9 74.8H696.6zM615.6 205.3H622.8L620.7 208.5H613.6zM705.9 74.8H714.9L712.9 78H703.8zM624.8 202.1H632.2L630.1 205.3H622.8zM712.9 78H721.8L719.7 81.2H710.8zM632.2 202.1H639.7L637.6 205.3H630.1zM639.7 202.1H647.4L645.3 205.3H637.6zM779.7 78H787.4L785.3 81.2H777.6zM787.4 78H794.9L792.8 81.2H785.3zM705.3 202.1H714.2L712.1 205.3H703.2zM794.9 78H802.2L800.2 81.2H792.8zM712.1 205.3H721.2L719.1 208.5H710.1zM804.3 74.8H811.4L809.4 78H802.2zM719.1 208.5H728.4L726.4 211.7H717.1zM811.4 74.8H818.4L816.5 78H809.4zM724.4 214.9H733.9L732 218.1H722.4zM820.3 71.6H827.1L823.4 78H816.5zM732 218.1H741.8L739.9 221.2H730.1zM827.1 71.6H833.7L830.1 78H823.4zM739.9 221.2H750L746.4 227.6H736.2zM835.5 68.4H841.8L836.7 78H830.1zM746.4 227.6H756.8L753.4 234H742.8zM843.5 65.2H849.6L843.2 78H836.7zM753.4 234H764.1L760.9 240.3H750zM849.6 65.2H855.5L851 74.8H844.8zM762.5 237.2H773.6L769 246.7H757.7zM857 62.1H862.7L857 74.8H851zM770.5 243.5H782L776.4 256.2H764.5zM864.1 58.9H869.4L862.9 74.8H857zM779.2 249.9H791.2L788.6 256.2H776.4zM869.4 58.9H874.5L868.6 74.8H862.9zM875.7 55.7H880.5L874.1 74.8H868.6zM880.5 55.7H885.1L879.5 74.8H874.1zM886 52.5H890.2L884.7 74.8H879.5zM889.4 55.7H893.6L889.8 74.8H884.7z"/><path fill="#b8ff3e" stroke="#b8ff3e" stroke-width=".5" d="M534.8 230.8H539L537.2 237.2H533.2zM539.9 227.6H544.5L537.1 249.9H533.5zM544.5 227.6H549.3L538.6 256.2H535zM550.5 224.4H555.6L542.6 256.2H538.6zM555.6 224.4H560.9L548.2 253.1H543.9zM650 23.9H662.1L660.5 27H648.6zM562.3 221.2H568L555.8 246.7H551zM662.1 23.9H673.8L667.3 36.6H656zM569.5 218.1H575.4L564.1 240.3H558.8zM669 33.4H680.2L675 43H664.1zM575.4 218.1H581.5L573 234H567.3zM675 43H685.7L682.2 49.3H671.6zM583.2 214.9H589.5L582.4 227.6H576.4zM682.2 49.3H692.5L688.8 55.7H678.6zM591.3 211.7H597.9L592.3 221.2H586zM686.9 58.9H696.8L694.9 62.1H685.1zM597.9 211.7H604.7L600.8 218.1H594.2zM606.6 208.5H613.6L609.6 214.9H602.7zM700.6 68.4H709.9L707.9 71.6H698.6zM613.6 208.5H620.7L618.7 211.7H611.6zM622.8 205.3H630.1L628.1 208.5H620.7zM630.1 205.3H637.6L635.5 208.5H628.1zM719.7 81.2H728.4L726.2 84.3H717.6zM726.2 84.3H734.8L732.6 87.5H724.1zM732.6 87.5H741L738.9 90.7H730.5zM686.1 192.6H694.5L692.4 195.8H684zM692.4 195.8H700.9L698.8 199H690.2zM698.8 199H707.4L705.3 202.1H696.6zM789.5 74.8H796.9L794.9 78H787.4zM796.9 74.8H804.3L802.2 78H794.9zM806.3 71.6H813.4L811.4 74.8H804.3zM717.1 211.7H726.4L724.4 214.9H715.1zM815.4 68.4H822.3L818.4 74.8H811.4zM824.2 65.2H830.8L827.1 71.6H820.3zM730.1 221.2H739.9L738.1 224.4H728.2zM832.7 62.1H839L833.7 71.6H827.1zM736.2 227.6H746.4L742.8 234H732.5zM842.6 55.7H848.6L841.8 68.4H835.5zM742.8 234H753.4L750 240.3H739.3zM852 49.3H857.7L849.6 65.2H843.5zM750 240.3H760.9L756 249.9H744.8zM860.9 43H866.2L855.5 65.2H849.6zM757.7 246.7H769L764.5 256.2H752.8zM869.2 36.6H874L862.7 62.1H857zM876.8 30.2H881.1L869.4 58.9H864.1zM883.7 23.9H887.5L874.5 58.9H869.4zM887.5 23.9H891.1L880.5 55.7H875.7zM890 27H893.4L885.1 55.7H880.5zM889.7 39.8H893.4L890.2 52.5H886z"/><path fill="#bfff38" stroke="#bfff38" stroke-width=".5" d="M543.9 253.1H548.2L546.8 256.2H542.6zM551 246.7H555.8L551.3 256.2H546.8zM558.8 240.3H564.1L556 256.2H551.3zM673.8 23.9H685.3L680.2 33.4H669zM567.3 234H573L561 256.2H556zM680.2 33.4H691.1L685.7 43H675zM576.4 227.6H582.4L566.4 256.2H561zM684 46.2H694.3L692.5 49.3H682.2zM586 221.2H592.3L571.9 256.2H566.4zM690.6 52.5H700.7L696.8 58.9H686.9zM594.2 218.1H600.8L591.2 234H584.9zM696.8 58.9H706.5L702.6 65.2H693zM602.7 214.9H609.6L603.7 224.4H597zM702.6 65.2H711.9L709.9 68.4H700.6zM611.6 211.7H618.7L614.7 218.1H607.6zM707.9 71.6H717L714.9 74.8H705.9zM620.7 208.5H628.1L626 211.7H618.7zM637.6 205.3H645.3L643.2 208.5H635.5zM653.1 205.3H661.1L658.9 208.5H651zM738.9 90.7H747.1L745 93.9H736.7zM680 189.4H688.3L686.1 192.6H677.9zM766.1 74.8H774L771.9 78H763.9zM781.8 74.8H789.5L787.4 78H779.7zM799 71.6H806.3L804.3 74.8H796.9zM710.1 208.5H719.1L717.1 211.7H708zM810.3 65.2H817.4L813.4 71.6H806.3zM715.1 214.9H724.4L722.4 218.1H713.1zM821.3 58.9H828L822.3 68.4H815.4zM722.4 218.1H732L728.2 224.4H718.5zM833.8 49.3H840.1L830.8 65.2H824.2zM728.2 224.4H738.1L734.4 230.8H724.3zM854.9 23.9H860.4L839 62.1H832.7zM732.5 234H742.8L741 237.2H730.7zM860.4 23.9H865.7L848.6 55.7H842.6zM739.3 240.3H750L744.8 249.9H733.9zM865.7 23.9H870.6L857.7 49.3H852zM744.8 249.9H756L752.8 256.2H741.4zM870.6 23.9H875.3L866.2 43H860.9zM875.3 23.9H879.6L874 36.6H869.2zM879.6 23.9H883.7L881.1 30.2H876.8z"/><path fill="#c5ff31" stroke="#c5ff31" stroke-width=".5" d="M685.3 23.9H696.4L691.1 33.4H680.2zM689.3 36.6H699.9L694.3 46.2H684zM692.5 49.3H702.6L700.7 52.5H690.6zM584.9 234H591.2L577.8 256.2H571.9zM698.7 55.7H708.5L706.5 58.9H696.8zM597 224.4H603.7L583.9 256.2H577.8zM607.6 218.1H614.7L608.6 227.6H601.7zM618.7 211.7H626L621.8 218.1H614.7zM714.9 74.8H723.9L721.8 78H712.9zM628.1 208.5H635.5L633.4 211.7H626zM645.3 205.3H653.1L651 208.5H643.2zM774 74.8H781.8L779.7 78H771.9zM791.6 71.6H799L796.9 74.8H789.5zM703.2 205.3H712.1L710.1 208.5H701.1zM803.2 65.2H810.3L806.3 71.6H799zM836.7 23.9H843.1L841.1 27H834.7zM816.4 55.7H823.3L817.4 65.2H810.3zM843.1 23.9H849.1L828 58.9H821.3zM718.5 224.4H728.2L726.3 227.6H716.5zM849.1 23.9H854.9L840.1 49.3H833.8zM724.3 230.8H734.4L732.5 234H722.4zM730.7 237.2H741L735.7 246.7H725.1zM733.9 249.9H744.8L741.4 256.2H730.4z"/><path fill="#ccff2b" stroke="#ccff2b" stroke-width=".5" d="M694.6 27H705.5L699.9 36.6H689.3zM696.2 43H706.4L702.6 49.3H692.5zM700.7 52.5H710.5L708.5 55.7H698.7zM704.5 62.1H714L711.9 65.2H702.6zM601.7 227.6H608.6L590.3 256.2H583.9zM709.9 68.4H719.1L717 71.6H707.9zM614.7 218.1H621.8L615.6 227.6H608.6zM600.5 240.3H607.4L597 256.2H590.3zM626 211.7H633.4L631.3 214.9H623.9zM721.8 78H730.5L728.4 81.2H719.7zM635.5 208.5H643.2L641 211.7H633.4zM784 71.6H791.6L789.5 74.8H781.8zM696.6 202.1H705.3L703.2 205.3H694.5zM823.1 23.9H830.1L828 27H821zM793.7 68.4H801.1L799 71.6H791.6zM830.1 23.9H836.7L824.5 43H817.6zM809.4 55.7H816.4L810.3 65.2H803.2zM708 211.7H717.1L715.1 214.9H705.9zM834.7 27H841.1L823.3 55.7H816.4zM713.1 218.1H722.4L720.5 221.2H711zM716.5 227.6H726.3L724.3 230.8H714.5zM722.4 234H732.5L728.8 240.3H718.6zM725.1 246.7H735.7L730.4 256.2H719.5z"/><path fill="#d2ff25" stroke="#d2ff25" stroke-width=".5" d="M696.4 23.9H707.3L705.5 27H694.6zM701.8 33.4H712.2L706.4 43H696.2zM702.6 49.3H712.4L710.5 52.5H700.7zM706.5 58.9H716L714 62.1H704.5zM711.9 65.2H721.2L719.1 68.4H709.9zM608.6 227.6H615.6L607.4 240.3H600.5zM717 71.6H726L723.9 74.8H714.9zM623.9 214.9H631.3L627.1 221.2H619.8zM607.4 240.3H614.5L604 256.2H597zM606.1 253.1H613.3L611.2 256.2H604zM728.4 81.2H736.9L734.8 84.3H726.2zM658.9 208.5H667L664.9 211.7H656.8zM760.1 71.6H768.2L766.1 74.8H758zM690.2 199H698.8L696.6 202.1H688.1zM815.9 23.9H823.1L818.9 30.2H811.7zM821 27H828L817.6 43H810.5zM797.9 62.1H805.2L801.1 68.4H793.7zM701.1 208.5H710.1L708 211.7H699zM817.6 43H824.5L816.4 55.7H809.4zM705.9 214.9H715.1L713.1 218.1H703.8zM711 221.2H720.5L718.5 224.4H709zM714.5 230.8H724.3L722.4 234H712.6zM718.6 240.3H728.8L723.2 249.9H712.8z"/><path fill="#d9ff1e" stroke="#d9ff1e" stroke-width=".5" d="M707.3 23.9H717.9L712.2 33.4H701.8zM706.4 43H716.4L712.4 49.3H702.6zM708.5 55.7H718L716 58.9H706.5zM619.8 221.2H627.1L614.5 240.3H607.4zM633.4 211.7H641L638.9 214.9H631.3zM612.4 243.5H619.7L613.3 253.1H606.1zM643.2 208.5H651L648.8 211.7H641zM613.3 253.1H620.9L618.7 256.2H611.2zM734.8 84.3H743.2L741 87.5H732.6zM684 195.8H692.4L690.2 199H681.8zM808.4 23.9H815.9L811.7 30.2H804.1zM776.2 71.6H784L781.8 74.8H774zM811.7 30.2H818.9L812.6 39.8H805.3zM786.1 68.4H793.7L791.6 71.6H784zM810.5 43H817.6L805.2 62.1H797.9zM709 224.4H718.5L716.5 227.6H707zM712.6 234H722.4L718.6 240.3H708.6zM712.8 249.9H723.2L719.5 256.2H709z"/><path fill="#dfff18" stroke="#dfff18" stroke-width=".5" d="M717.9 23.9H728.3L716.4 43H706.4zM712.4 49.3H722.1L718 55.7H708.5zM714 62.1H723.2L721.2 65.2H711.9zM719.1 68.4H728.1L726 71.6H717zM723.9 74.8H732.6L730.5 78H721.8zM631.3 214.9H638.9L634.6 221.2H627.1zM620.8 230.8H628.3L619.7 243.5H612.4zM617.6 246.7H625.2L620.9 253.1H613.3zM620.9 253.1H628.7L626.5 256.2H618.7zM800.7 23.9H808.4L804.1 30.2H796.3zM804.1 30.2H811.7L807.4 36.6H799.8zM805.3 39.8H812.6L804.2 52.5H796.7zM790.4 62.1H797.9L793.7 68.4H786.1zM694.5 205.3H703.2L701.1 208.5H692.4zM699 211.7H708L705.9 214.9H696.9zM703.8 218.1H713.1L711 221.2H701.8zM707 227.6H716.5L712.6 234H702.9zM708.6 240.3H718.6L709 256.2H698.7z"/><path fill="#e5ff11" stroke="#e5ff11" stroke-width=".5" d="M714.4 46.2H724.1L722.1 49.3H712.4zM716 58.9H725.3L723.2 62.1H714zM627.1 221.2H634.6L628.3 230.8H620.8zM621.9 240.3H629.5L625.2 246.7H617.6zM651 208.5H658.9L656.8 211.7H648.8zM625.2 246.7H633L628.7 253.1H620.9zM792.6 23.9H800.7L798.5 27H790.4zM796.3 30.2H804.1L799.8 36.6H792zM768.2 71.6H776.2L774 74.8H766.1zM799.8 36.6H807.4L803.1 43H795.5zM796.7 52.5H804.2L797.9 62.1H790.4zM701.8 221.2H711L709 224.4H699.7zM702.9 234H712.6L710.6 237.2H700.9z"/><path fill="#ecff0b" stroke="#ecff0b" stroke-width=".5" d="M728.3 23.9H738.3L724.1 46.2H714.4zM718 55.7H727.4L725.3 58.9H716zM721.2 65.2H730.2L728.1 68.4H719.1zM726 71.6H734.8L732.6 74.8H723.9zM730.5 78H739.1L736.9 81.2H728.4zM641 211.7H648.8L646.7 214.9H638.9zM626.1 234H633.8L629.5 240.3H621.9zM627.3 243.5H635.2L633 246.7H625.2zM784.3 23.9H792.6L790.4 27H782.1zM741 87.5H749.3L747.1 90.7H738.9zM630.8 249.9H638.9L634.6 256.2H626.5zM790.4 27H798.5L794.2 33.4H786.1zM677.9 192.6H686.1L684 195.8H675.7zM792 36.6H799.8L797.7 39.8H789.8zM795.5 43H803.1L798.9 49.3H791.2zM778.3 68.4H786.1L784 71.6H776.2zM688.1 202.1H696.6L694.5 205.3H685.9zM692.4 208.5H701.1L699 211.7H690.2zM696.9 214.9H705.9L703.8 218.1H694.8zM699.7 224.4H709L707 227.6H697.6zM700.9 237.2H710.6L698.7 256.2H688.7z"/><path fill="#f2fb04" stroke="#f2fb04" stroke-width=".5" d="M738.3 23.9H748.1L743.9 30.2H734.2zM720.1 52.5H729.4L727.4 55.7H718zM638.9 214.9H646.7L644.5 218.1H636.8zM630.4 227.6H638.1L633.8 234H626.1zM775.6 23.9H784.3L782.1 27H773.5zM629.5 240.3H637.3L635.2 243.5H627.3zM782.1 27H790.4L788.3 30.2H779.9zM633 246.7H641.1L638.9 249.9H630.8zM786.1 33.4H794.2L792 36.6H783.9zM636.7 253.1H645.1L642.9 256.2H634.6zM789.8 39.8H797.7L795.5 43H787.7zM791.2 49.3H798.9L794.6 55.7H786.9zM780.5 65.2H788.2L786.1 68.4H778.3zM697.6 227.6H707L704.9 230.8H695.6zM681.1 253.1H690.8L688.7 256.2H679z"/><path fill="#f9f300" stroke="#f9f300" stroke-width=".5" d="M734.2 30.2H743.9L729.4 52.5H720.1zM748.1 23.9H757.5L755.4 27H746zM723.2 62.1H732.3L730.2 65.2H721.2zM757.5 23.9H766.7L764.6 27H755.4zM766.7 23.9H775.6L773.5 27H764.6zM636.8 218.1H644.5L638.1 227.6H630.4zM773.5 27H782.1L779.9 30.2H771.3zM631.6 237.2H639.5L637.3 240.3H629.5zM779.9 30.2H788.3L786.1 33.4H777.8zM635.2 243.5H643.2L641.1 246.7H633zM783.9 36.6H792L789.8 39.8H781.8zM638.9 249.9H647.2L645.1 253.1H636.7zM787.7 43H795.5L793.4 46.2H785.5zM645.1 253.1H653.7L651.5 256.2H642.9zM786.9 55.7H794.6L788.2 65.2H780.5zM694.8 218.1H703.8L701.8 221.2H692.7zM695.6 230.8H704.9L690.8 253.1H681.1z"/><path fill="#ffec00" stroke="#ffec00" stroke-width=".5" d="M746 27H755.4L751.2 33.4H741.8zM725.3 58.9H734.4L732.3 62.1H723.2zM755.4 27H764.6L762.5 30.2H753.3zM728.1 68.4H736.9L734.8 71.6H726zM764.6 27H773.5L771.3 30.2H762.5zM771.3 30.2H779.9L777.8 33.4H769.2zM736.9 81.2H745.4L743.2 84.3H734.8zM633.8 234H641.6L639.5 237.2H631.6zM777.8 33.4H786.1L783.9 36.6H775.6zM637.3 240.3H645.4L643.2 243.5H635.2zM781.8 39.8H789.8L787.7 43H779.6zM641.1 246.7H649.4L647.2 249.9H638.9zM785.5 46.2H793.4L791.2 49.3H783.4zM681.8 199H690.2L688.1 202.1H679.6zM647.2 249.9H655.8L653.7 253.1H645.1zM653.7 253.1H662.5L660.4 256.2H651.5zM690.2 211.7H699L696.9 214.9H688.1zM662.5 253.1H671.7L669.6 256.2H660.4zM692.7 221.2H701.8L699.7 224.4H690.6zM673.8 249.9H683.2L679 256.2H669.6z"/><path fill="#ffe500" stroke="#ffe500" stroke-width=".5" d="M741.8 33.4H751.2L749.1 36.6H739.8zM727.4 55.7H736.5L734.4 58.9H725.3zM753.3 30.2H762.5L760.3 33.4H751.2zM762.5 30.2H771.3L769.2 33.4H760.3zM732.6 74.8H741.2L739.1 78H730.5zM769.2 33.4H777.8L775.6 36.6H767zM648.8 211.7H656.8L654.6 214.9H646.7zM635.9 230.8H643.8L641.6 234H633.8zM775.6 36.6H783.9L781.8 39.8H773.4zM643.2 243.5H651.6L649.4 246.7H641.1zM783.4 49.3H791.2L789.1 52.5H781.2zM770.4 68.4H778.3L776.2 71.6H768.2zM649.4 246.7H658L655.8 249.9H647.2zM685.9 205.3H694.5L692.4 208.5H683.8zM655.8 249.9H664.7L662.5 253.1H653.7zM664.7 249.9H673.8L671.7 253.1H662.5zM690.6 224.4H699.7L697.6 227.6H688.5zM675.9 246.7H685.2L683.2 249.9H673.8z"/><path fill="#ffdd00" stroke="#ffdd00" stroke-width=".5" d="M739.8 36.6H749.1L742.8 46.2H733.6zM731.5 49.3H740.7L736.5 55.7H727.4zM751.2 33.4H760.3L758.2 36.6H749.1zM730.2 65.2H739L736.9 68.4H728.1zM760.3 33.4H769.2L767 36.6H758.2zM638.1 227.6H646L643.8 230.8H635.9zM639.5 237.2H647.6L645.4 240.3H637.3zM779.6 43H787.7L785.5 46.2H777.4zM781.2 52.5H789.1L786.9 55.7H779zM658 246.7H666.8L664.7 249.9H655.8zM688.1 214.9H696.9L694.8 218.1H686zM666.8 246.7H675.9L673.8 249.9H664.7zM688.5 227.6H697.6L693.5 234H684.3zM682.2 237.2H691.4L685.2 246.7H675.9z"/><path fill="#ffd600" stroke="#ffd600" stroke-width=".5" d="M733.6 46.2H742.8L740.7 49.3H731.5zM749.1 36.6H758.2L756.1 39.8H747zM767 36.6H775.6L773.4 39.8H764.9zM640.2 224.4H648.1L646 227.6H638.1zM773.4 39.8H781.8L779.6 43H771.3zM743.2 84.3H751.5L749.3 87.5H741zM656.8 211.7H664.9L662.7 214.9H654.6zM762.3 68.4H770.4L768.2 71.6H760.1zM675.7 195.8H684L681.8 199H673.5zM645.4 240.3H653.7L651.6 243.5H643.2zM779 55.7H786.9L784.8 58.9H776.9zM651.6 243.5H660.1L658 246.7H649.4zM668.9 243.5H678L675.9 246.7H666.8zM684.3 234H693.5L691.4 237.2H682.2z"/><path fill="#ffce00" stroke="#ffce00" stroke-width=".5" d="M747 39.8H756.1L753.9 43H744.9zM732.3 62.1H741.2L739 65.2H730.2zM758.2 36.6H767L764.9 39.8H756.1zM734.8 71.6H743.4L741.2 74.8H732.6zM739.1 78H747.5L745.4 81.2H736.9zM646.7 214.9H654.6L652.4 218.1H644.5zM642.4 221.2H650.3L648.1 224.4H640.2zM641.6 234H649.7L647.6 237.2H639.5zM777.4 46.2H785.5L783.4 49.3H775.3zM776.9 58.9H784.8L782.6 62.1H774.7zM772.6 65.2H780.5L778.3 68.4H770.4zM679.6 202.1H688.1L685.9 205.3H677.5zM683.8 208.5H692.4L690.2 211.7H681.6zM660.1 243.5H668.9L666.8 246.7H658zM686 218.1H694.8L692.7 221.2H683.8zM671.1 240.3H680.1L678 243.5H668.9z"/><path fill="#ffc700" stroke="#ffc700" stroke-width=".5" d="M744.9 43H753.9L751.8 46.2H742.8zM756.1 39.8H764.9L762.7 43H753.9zM764.9 39.8H773.4L771.3 43H762.7zM644.5 218.1H652.4L650.3 221.2H642.4zM771.3 43H779.6L777.4 46.2H769.1zM647.6 237.2H655.9L653.7 240.3H645.4zM774.7 62.1H782.6L780.5 65.2H772.6zM653.7 240.3H662.3L660.1 243.5H651.6zM662.3 240.3H671.1L668.9 243.5H660.1zM673.2 237.2H682.2L680.1 240.3H671.1z"/><path fill="#ffc000" stroke="#ffc000" stroke-width=".5" d="M742.8 46.2H751.8L749.7 49.3H740.7zM736.5 55.7H745.4L741.2 62.1H732.3zM643.8 230.8H651.9L649.7 234H641.6zM775.3 49.3H783.4L781.2 52.5H773.1zM683.8 221.2H692.7L688.5 227.6H679.6zM675.3 234H684.3L682.2 237.2H673.2z"/><path fill="#ffb800" stroke="#ffb800" stroke-width=".5" d="M740.7 49.3H749.7L745.4 55.7H736.5zM753.9 43H762.7L760.6 46.2H751.8zM736.9 68.4H745.5L743.4 71.6H734.8zM762.7 43H771.3L769.1 46.2H760.6zM655.9 237.2H664.4L662.3 240.3H653.7zM681.6 211.7H690.2L688.1 214.9H679.5zM664.4 237.2H673.2L671.1 240.3H662.3zM679.6 227.6H688.5L684.3 234H675.3z"/><path fill="#ffb100" stroke="#ffb100" stroke-width=".5" d="M769.1 46.2H777.4L775.3 49.3H767zM646 227.6H654.1L651.9 230.8H643.8zM773.1 52.5H781.2L779 55.7H770.9zM649.7 234H658L655.9 237.2H647.6z"/><path fill="#ffaa00" stroke="#ffaa00" stroke-width=".5" d="M751.8 46.2H760.6L758.4 49.3H749.7zM741.2 74.8H749.7L747.5 78H739.1zM745.4 81.2H753.6L751.5 84.3H743.2zM673.5 199H681.8L679.6 202.1H671.4zM677.5 205.3H685.9L683.8 208.5H675.3zM666.6 234H675.3L673.2 237.2H664.4z"/><path fill="#ffa200" stroke="#ffa200" stroke-width=".5" d="M739 65.2H747.7L745.5 68.4H736.9zM760.6 46.2H769.1L767 49.3H758.4zM658 234H666.6L664.4 237.2H655.9zM679.5 214.9H688.1L686 218.1H677.3z"/><path fill="#ff9b00" stroke="#ff9b00" stroke-width=".5" d="M749.7 49.3H758.4L756.3 52.5H747.5zM648.1 224.4H656.2L654.1 227.6H646zM770.9 55.7H779L776.9 58.9H768.8zM668.7 230.8H677.5L675.3 234H666.6z"/><path fill="#ff9300" stroke="#ff9300" stroke-width=".5" d="M747.5 52.5H756.3L754.1 55.7H745.4zM741.2 62.1H749.8L747.7 65.2H739zM767 49.3H775.3L773.1 52.5H764.8zM651.9 230.8H660.2L658 234H649.7zM677.3 218.1H686L683.8 221.2H675.2zM670.9 227.6H679.6L677.5 230.8H668.7z"/><path fill="#ff8c00" stroke="#ff8c00" stroke-width=".5" d="M745.4 55.7H754.1L749.8 62.1H741.2zM758.4 49.3H767L764.8 52.5H756.3zM743.4 71.6H751.8L749.7 74.8H741.2zM675.3 208.5H683.8L681.6 211.7H673.2zM660.2 230.8H668.7L666.6 234H658zM675.2 221.2H683.8L679.6 227.6H670.9z"/><path fill="#ff8500" stroke="#ff8500" stroke-width=".5" d="M650.3 221.2H658.4L656.2 224.4H648.1zM768.8 58.9H776.9L774.7 62.1H766.6z"/><path fill="#ff7d00" stroke="#ff7d00" stroke-width=".5" d="M747.5 78H755.8L753.6 81.2H745.4zM654.6 214.9H662.7L660.5 218.1H652.4zM764.5 65.2H772.6L770.4 68.4H762.3zM671.4 202.1H679.6L677.5 205.3H669.2z"/><path fill="#ff7600" stroke="#ff7600" stroke-width=".5" d="M756.3 52.5H764.8L762.6 55.7H754.1zM764.8 52.5H773.1L770.9 55.7H762.6zM654.1 227.6H662.4L660.2 230.8H651.9zM662.4 227.6H670.9L668.7 230.8H660.2z"/><path fill="#ff6f00" stroke="#ff6f00" stroke-width=".5" d="M745.5 68.4H754L751.8 71.6H743.4zM652.4 218.1H660.5L658.4 221.2H650.3zM766.6 62.1H774.7L772.6 65.2H764.5zM673.2 211.7H681.6L679.5 214.9H671z"/><path fill="#ff5800" stroke="#ff5800" stroke-width=".5" d="M754.1 55.7H762.6L760.5 58.9H752zM747.7 65.2H756.2L754 68.4H745.5zM749.7 74.8H758L755.8 78H747.5zM669.2 205.3H677.5L675.3 208.5H667zM671 214.9H679.5L677.3 218.1H668.8zM664.5 224.4H673L670.9 227.6H662.4z"/><path fill="#ff4a00" stroke="#ff4a00" stroke-width=".5" d="M752 58.9H760.5L756.2 65.2H747.7zM762.6 55.7H770.9L768.8 58.9H760.5zM656.2 224.4H664.5L662.4 227.6H654.1zM668.8 218.1H677.3L673 224.4H664.5z"/><path fill="#ff2c00" stroke="#ff2c00" stroke-width=".5" d="M751.8 71.6H760.1L758 74.8H749.7zM667 208.5H675.3L673.2 211.7H664.9z"/><path fill="#ff1600" stroke="#ff1600" stroke-width=".5" d="M760.5 58.9H768.8L766.6 62.1H758.3zM658.4 221.2H666.7L664.5 224.4H656.2z"/><path fill="#e80000" stroke="#e80000" stroke-width=".5" d="M754 68.4H762.3L760.1 71.6H751.8zM664.9 211.7H673.2L671 214.9H662.7z"/><path fill="#b10000" stroke="#b10000" stroke-width=".5" d="M756.2 65.2H764.5L762.3 68.4H754zM662.7 214.9H671L668.8 218.1H660.5z"/><path fill="#a80000" stroke="#a80000" stroke-width=".5" d="M758.3 62.1H766.6L764.5 65.2H756.2zM660.5 218.1H668.8L666.7 221.2H658.4z"/></g></g>
<rect x="543.5" y="30.5" width="340" height="219.7" fill="none" stroke="#000" stroke-width="1"/>
</g>
<g id="p4"><clipPath id="hc"><rect x="543.5" y="318.5" width="340" height="222.1"/></clipPath><filter id="hf" x="-5%" y="-5%" width="110%" height="110%"><feGaussianBlur stdDeviation="0.6 1.3"/></filter><g clip-path="url(#hc)"><g filter="url(#hf)"><path fill="#0000cc" stroke="#0000cc" stroke-width=".5" d="M731.8 391.2H740L738 394.5H729.7z"/><path fill="#0000d6" stroke="#0000d6" stroke-width=".5" d="M729.7 394.5H738L735.9 397.8H727.7z"/><path fill="#0000e8" stroke="#0000e8" stroke-width=".5" d="M733.8 388H742.1L740 391.2H731.8zM727.7 397.8H735.9L733.9 401.1H725.7z"/><path fill="#0000f1" stroke="#0000f1" stroke-width=".5" d="M725.7 401.1H733.9L731.8 404.4H723.6z"/><path fill="#0000ff" stroke="#0000ff" stroke-width=".5" d="M723.6 404.4H731.8L729.8 407.6H721.6z"/><path fill="#0004ff" stroke="#0004ff" stroke-width=".5" d="M721.6 407.6H729.8L727.8 410.9H719.5z"/><path fill="#000cff" stroke="#000cff" stroke-width=".5" d="M719.5 410.9H727.8L725.7 414.2H717.5z"/><path fill="#0014ff" stroke="#0014ff" stroke-width=".5" d="M723.4 391.2H731.8L725.7 401.1H717.4z"/><path fill="#001cff" stroke="#001cff" stroke-width=".5" d="M725.5 388H733.8L731.8 391.2H723.4zM717.4 401.1H725.7L723.6 404.4H715.3zM717.5 414.2H725.7L723.7 417.4H715.5z"/><path fill="#0024ff" stroke="#0024ff" stroke-width=".5" d="M715.3 404.4H723.6L721.6 407.6H713.3zM735.9 384.7H744.1L742.1 388H733.8zM715.5 417.4H723.7L721.6 420.7H713.4z"/><path fill="#002cff" stroke="#002cff" stroke-width=".5" d="M727.5 384.7H735.9L733.8 388H725.5zM713.3 407.6H721.6L719.5 410.9H711.3z"/><path fill="#0034ff" stroke="#0034ff" stroke-width=".5" d="M711.3 410.9H719.5L717.5 414.2H709.2zM713.4 420.7H721.6L719.6 424H711.4z"/><path fill="#003cff" stroke="#003cff" stroke-width=".5" d="M709.2 414.2H717.5L715.5 417.4H707.2zM711.4 424H719.6L717.5 427.3H709.3z"/><path fill="#0044ff" stroke="#0044ff" stroke-width=".5" d="M717 388H725.5L715.3 404.4H707z"/><path fill="#004cff" stroke="#004cff" stroke-width=".5" d="M707 404.4H715.3L713.3 407.6H705zM729.5 381.4H737.9L735.9 384.7H727.5zM707.2 417.4H715.5L713.4 420.7H705.2zM709.3 427.3H717.5L715.5 430.6H707.3z"/><path fill="#0054ff" stroke="#0054ff" stroke-width=".5" d="M719.1 384.7H727.5L725.5 388H717zM705 407.6H713.3L711.3 410.9H703zM705.2 420.7H713.4L711.4 424H703.2zM737.9 381.4H746.2L744.1 384.7H735.9zM707.3 430.6H715.5L713.5 433.8H705.3z"/><path fill="#005cff" stroke="#005cff" stroke-width=".5" d="M721.1 381.4H729.5L727.5 384.7H719.1zM703 410.9H711.3L709.2 414.2H701zM703.2 424H711.4L709.3 427.3H701.1z"/><path fill="#0064ff" stroke="#0064ff" stroke-width=".5" d="M706.5 391.2H715L711 397.8H702.6zM701 414.2H709.2L707.2 417.4H698.9zM705.3 433.8H713.5L711.4 437.1H703.2z"/><path fill="#006cff" stroke="#006cff" stroke-width=".5" d="M710.5 384.7H719.1L715 391.2H706.5zM702.6 397.8H711L705 407.6H696.6zM723.1 378.1H731.6L729.5 381.4H721.1zM698.9 417.4H707.2L705.2 420.7H696.9zM731.6 378.1H739.9L737.9 381.4H729.5zM701.1 427.3H709.3L707.3 430.6H699.1zM703.2 437.1H711.4L709.4 440.4H701.2z"/><path fill="#0074ff" stroke="#0074ff" stroke-width=".5" d="M712.5 381.4H721.1L719.1 384.7H710.5zM696.6 407.6H705L703 410.9H694.6zM696.9 420.7H705.2L703.2 424H694.9zM699.1 430.6H707.3L705.3 433.8H697.1z"/><path fill="#007cff" stroke="#007cff" stroke-width=".5" d="M714.5 378.1H723.1L721.1 381.4H712.5zM694.6 410.9H703L701 414.2H692.6zM694.9 424H703.2L701.1 427.3H692.9zM697.1 433.8H705.3L703.2 437.1H695zM739.9 378.1H748.2L746.2 381.4H737.9zM701.2 440.4H709.4L707.3 443.7H699.1z"/><path fill="#0083ff" stroke="#0083ff" stroke-width=".5" d="M699.9 388H708.5L700.6 401.1H692.1zM692.6 414.2H701L698.9 417.4H690.6zM725.1 374.9H733.6L731.6 378.1H723.1zM692.9 427.3H701.1L699.1 430.6H690.9zM733.6 374.9H742L739.9 378.1H731.6zM699.1 443.7H707.3L705.3 446.9H697.1z"/><path fill="#008bff" stroke="#008bff" stroke-width=".5" d="M703.8 381.4H712.5L708.5 388H699.9zM692.1 401.1H700.6L696.6 407.6H688.2zM716.5 374.9H725.1L723.1 378.1H714.5zM690.6 417.4H698.9L696.9 420.7H688.7zM695 437.1H703.2L701.2 440.4H693z"/><path fill="#0093ff" stroke="#0093ff" stroke-width=".5" d="M705.8 378.1H714.5L712.5 381.4H703.8zM688.2 407.6H696.6L694.6 410.9H686.2zM688.7 420.7H696.9L694.9 424H686.7zM727.1 371.6H735.6L733.6 374.9H725.1zM690.9 430.6H699.1L697.1 433.8H688.9zM693 440.4H701.2L699.1 443.7H691zM697.1 446.9H705.3L703.2 450.2H695.1zM742.1 388H750.2L748.2 391.2H740z"/><path fill="#009bff" stroke="#009bff" stroke-width=".5" d="M707.7 374.9H716.5L714.5 378.1H705.8zM686.2 410.9H694.6L690.6 417.4H682.3zM718.4 371.6H727.1L725.1 374.9H716.5zM686.7 424H694.9L692.9 427.3H684.7zM688.9 433.8H697.1L695 437.1H686.9zM735.6 371.6H744L742 374.9H733.6zM742 374.9H750.2L748.2 378.1H739.9zM695.1 450.2H703.2L701.2 453.5H693z"/><path fill="#00a3ff" stroke="#00a3ff" stroke-width=".5" d="M695 381.4H703.8L690.1 404.4H681.6zM709.7 371.6H718.4L716.5 374.9H707.7zM682.3 417.4H690.6L688.7 420.7H680.4zM720.4 368.3H729.1L727.1 371.6H718.4zM684.7 427.3H692.9L690.9 430.6H682.7zM729.1 368.3H737.7L735.6 371.6H727.1zM686.9 437.1H695L693 440.4H684.9zM691 443.7H699.1L697.1 446.9H689zM744.1 384.7H752.3L750.2 388H742.1z"/><path fill="#00abff" stroke="#00abff" stroke-width=".5" d="M698.8 374.9H707.7L703.8 381.4H695zM681.6 404.4H690.1L686.2 410.9H677.8zM711.6 368.3H720.4L718.4 371.6H709.7zM680.4 420.7H688.7L686.7 424H678.4zM682.7 430.6H690.9L688.9 433.8H680.7zM689 446.9H697.1L695.1 450.2H686.9zM693 453.5H701.2L699.2 456.8H691zM740 391.2H748.2L746.1 394.5H738z"/><path fill="#00b3ff" stroke="#00b3ff" stroke-width=".5" d="M682.4 388H691.2L689.3 391.2H680.5zM700.7 371.6H709.7L707.7 374.9H698.8zM677.8 410.9H686.2L684.3 414.2H675.9zM713.6 365.1H722.4L720.4 368.3H711.6zM678.4 424H686.7L684.7 427.3H676.5zM722.4 365.1H731.1L729.1 368.3H720.4zM680.7 433.8H688.9L686.9 437.1H678.7zM731.1 365.1H739.7L737.7 368.3H729.1zM684.9 440.4H693L691 443.7H682.9zM737.7 368.3H746.1L744 371.6H735.6zM744 371.6H752.3L750.2 374.9H742zM746.2 381.4H754.3L752.3 384.7H744.1z"/><path fill="#00bbff" stroke="#00bbff" stroke-width=".5" d="M689.8 374.9H698.8L691.2 388H682.4zM680.5 391.2H689.3L681.6 404.4H673zM702.7 368.3H711.6L709.7 371.6H700.7zM675.9 414.2H684.3L680.4 420.7H672zM676.5 427.3H684.7L682.7 430.6H674.5zM682.9 443.7H691L689 446.9H680.8zM686.9 450.2H695.1L693 453.5H684.9zM691 456.8H699.2L697.1 460H688.9z"/><path fill="#00c3ff" stroke="#00c3ff" stroke-width=".5" d="M693.6 368.3H702.7L698.8 374.9H689.8zM673 404.4H681.6L677.8 410.9H669.3zM704.6 365.1H713.6L711.6 368.3H702.7zM672 420.7H680.4L678.4 424H670.1zM715.5 361.8H724.4L722.4 365.1H713.6zM674.5 430.6H682.7L680.7 433.8H672.5zM724.4 361.8H733.1L731.1 365.1H722.4zM678.7 437.1H686.9L684.9 440.4H676.7zM733.1 361.8H741.7L739.7 365.1H731.1zM739.7 365.1H748.1L746.1 368.3H737.7zM684.9 453.5H693L691 456.8H682.9zM688.9 460H697.1L695.1 463.3H686.9zM748.2 378.1H756.3L754.3 381.4H746.2z"/><path fill="#00cbff" stroke="#00cbff" stroke-width=".5" d="M678.9 378.1H688L676.8 397.8H668zM695.4 365.1H704.6L702.7 368.3H693.6zM669.3 410.9H677.8L675.9 414.2H667.4zM706.5 361.8H715.5L713.6 365.1H704.6zM670.1 424H678.4L676.5 427.3H668.2zM717.5 358.5H726.4L724.4 361.8H715.5zM672.5 433.8H680.7L678.7 437.1H670.6zM726.4 358.5H735.1L733.1 361.8H724.4zM676.7 440.4H684.9L682.9 443.7H674.8zM680.8 446.9H689L686.9 450.2H678.8zM746.1 368.3H754.3L752.3 371.6H744z"/><path fill="#00d3ff" stroke="#00d3ff" stroke-width=".5" d="M684.3 368.3H693.6L688 378.1H678.9zM668 397.8H676.8L673 404.4H664.4zM699.2 358.5H708.4L704.6 365.1H695.4zM667.4 414.2H675.9L672 420.7H663.7zM708.4 358.5H717.5L715.5 361.8H706.5zM668.2 427.3H676.5L674.5 430.6H666.3zM719.4 355.2H728.4L726.4 358.5H717.5zM674.8 443.7H682.9L680.8 446.9H672.8zM735.1 358.5H743.7L741.7 361.8H733.1zM678.8 450.2H686.9L684.9 453.5H676.8zM741.7 361.8H750.1L748.1 365.1H739.7zM682.9 456.8H691L688.9 460H680.8zM686.9 463.3H695.1L693 466.6H684.9zM750.2 374.9H758.4L756.3 378.1H748.2z"/><path fill="#00dbff" stroke="#00dbff" stroke-width=".5" d="M669.7 378.1H678.9L673.5 388H664.5zM688 361.8H697.3L693.6 368.3H684.3zM664.4 404.4H673L669.3 410.9H660.8zM701 355.2H710.3L708.4 358.5H699.2zM663.7 420.7H672L670.1 424H661.8zM710.3 355.2H719.4L717.5 358.5H708.4zM666.3 430.6H674.5L672.5 433.8H664.4zM721.4 351.9H730.4L728.4 355.2H719.4zM670.6 437.1H678.7L676.7 440.4H668.6zM728.4 355.2H737.2L735.1 358.5H726.4zM748.1 365.1H756.4L754.3 368.3H746.1zM752.3 371.6H760.4L758.4 374.9H750.2zM750.2 388H758.3L756.2 391.2H748.2z"/><path fill="#00e3f9" stroke="#00e3f9" stroke-width=".5" d="M676.7 365.1H686.1L678.9 378.1H669.7zM664.5 388H673.5L666.2 401.1H657.5zM691.6 355.2H701L697.3 361.8H688zM660.8 410.9H669.3L665.6 417.4H657.1zM702.9 351.9H712.2L710.3 355.2H701zM661.8 424H670.1L668.2 427.3H660zM714.1 348.7H723.3L719.4 355.2H710.3zM664.4 433.8H672.5L670.6 437.1H662.5zM668.6 440.4H676.7L674.8 443.7H666.7zM730.4 351.9H739.2L737.2 355.2H728.4zM672.8 446.9H680.8L678.8 450.2H670.8zM737.2 355.2H745.8L743.7 358.5H735.1zM676.8 453.5H684.9L682.9 456.8H674.8zM743.7 358.5H752.2L750.1 361.8H741.7zM680.8 460H688.9L686.9 463.3H678.8zM750.1 361.8H758.4L756.4 365.1H748.1zM684.9 466.6H693L691 469.9H682.8zM754.3 381.4H762.3L758.3 388H750.2zM748.2 391.2H756.2L754.2 394.5H746.1z"/><path fill="#04ebf2" stroke="#04ebf2" stroke-width=".5" d="M682 355.2H691.6L686.1 365.1H676.7zM657.5 401.1H666.2L662.6 407.6H654zM695.2 348.7H704.8L701 355.2H691.6zM657.1 417.4H665.6L663.7 420.7H655.3zM704.8 348.7H714.1L712.2 351.9H702.9zM660 427.3H668.2L666.3 430.6H658.1zM716.1 345.4H725.3L723.3 348.7H714.1zM723.3 348.7H732.3L730.4 351.9H721.4zM666.7 443.7H674.8L672.8 446.9H664.7zM732.3 348.7H741.2L739.2 351.9H730.4zM670.8 450.2H678.8L676.8 453.5H668.8zM739.2 351.9H747.8L745.8 355.2H737.2zM745.8 355.2H754.2L752.2 358.5H743.7zM754.3 368.3H762.5L760.4 371.6H752.3zM756.3 378.1H764.4L762.3 381.4H754.3z"/><path fill="#0bf3ec" stroke="#0bf3ec" stroke-width=".5" d="M670.5 358.5H680.2L659.2 397.8H650.3zM685.5 348.7H695.2L691.6 355.2H682zM654 407.6H662.6L659 414.2H650.5zM697 345.4H706.6L704.8 348.7H695.2zM655.3 420.7H663.7L661.8 424H653.5zM708.5 342.1H718L714.1 348.7H704.8zM658.1 430.6H666.3L664.4 433.8H656.2zM718 342.1H727.2L725.3 345.4H716.1zM662.5 437.1H670.6L668.6 440.4H660.6zM725.3 345.4H734.3L732.3 348.7H723.3zM734.3 345.4H743.2L741.2 348.7H732.3zM741.2 348.7H749.8L747.8 351.9H739.2zM674.8 456.8H682.9L680.8 460H672.8zM678.8 463.3H686.9L684.9 466.6H676.8zM752.2 358.5H760.5L758.4 361.8H750.1zM682.8 469.9H691L688.9 473.1H680.8zM756.4 365.1H764.5L762.5 368.3H754.3zM738 394.5H746.1L744.1 397.8H735.9zM758.4 374.9H766.4L764.4 378.1H756.3zM746.1 394.5H754.2L752.2 397.8H744.1z"/><path fill="#11fbe5" stroke="#11fbe5" stroke-width=".5" d="M654.2 371.6H663.8L658.7 381.4H649.4zM675.6 348.7H685.5L680.2 358.5H670.5zM650.3 397.8H659.2L654 407.6H645.3zM689 342.1H698.8L695.2 348.7H685.5zM650.5 414.2H659L655.3 420.7H647zM700.6 338.9H710.4L706.6 345.4H697zM653.5 424H661.8L660 427.3H651.7zM710.4 338.9H719.9L718 342.1H708.5zM656.2 433.8H664.4L662.5 437.1H654.4zM719.9 338.9H729.2L727.2 342.1H718zM660.6 440.4H668.6L666.7 443.7H658.6zM727.2 342.1H736.3L734.3 345.4H725.3zM664.7 446.9H672.8L670.8 450.2H662.8zM736.3 342.1H745.2L743.2 345.4H734.3zM668.8 453.5H676.8L674.8 456.8H666.8zM743.2 345.4H751.9L749.8 348.7H741.2zM672.8 460H680.8L678.8 463.3H670.8zM747.8 351.9H756.3L754.2 355.2H745.8zM754.2 355.2H762.5L760.5 358.5H752.2zM758.4 361.8H766.5L764.5 365.1H756.4zM760.4 371.6H768.4L766.4 374.9H758.4z"/><path fill="#18ffdf" stroke="#18ffdf" stroke-width=".5" d="M663.9 351.9H673.9L663.8 371.6H654.2zM649.4 381.4H658.7L650.3 397.8H641.4zM678.9 342.1H689L685.5 348.7H675.6zM645.3 407.6H654L650.5 414.2H641.9zM692.5 335.6H702.5L698.8 342.1H689zM647 420.7H655.3L653.5 424H645.2zM702.5 335.6H712.2L710.4 338.9H700.6zM651.7 427.3H660L658.1 430.6H649.9zM712.2 335.6H721.8L719.9 338.9H710.4zM654.4 437.1H662.5L660.6 440.4H652.5zM721.8 335.6H731.1L729.2 338.9H719.9zM658.6 443.7H666.7L664.7 446.9H656.7zM731.1 335.6H740.3L736.3 342.1H727.2zM662.8 450.2H670.8L668.8 453.5H660.8zM738.3 338.9H747.2L745.2 342.1H736.3zM745.2 342.1H753.9L751.9 345.4H743.2zM749.8 348.7H758.3L756.3 351.9H747.8zM676.8 466.6H684.9L682.8 469.9H674.8zM756.3 351.9H764.5L762.5 355.2H754.2zM680.8 473.1H688.9L686.9 476.4H678.7zM760.5 358.5H768.6L766.5 361.8H758.4zM762.5 368.3H770.5L768.4 371.6H760.4zM762.3 381.4H770.3L764.2 391.2H756.2z"/><path fill="#1effd9" stroke="#1effd9" stroke-width=".5" d="M652.1 355.2H662.2L646.2 388H636.9zM670.3 338.9H680.6L673.9 351.9H663.9zM641.4 397.8H650.3L645.3 407.6H636.5zM684 332.3H694.2L689 342.1H678.9zM641.9 414.2H650.5L648.7 417.4H640.2zM696 329H706.1L702.5 335.6H692.5zM645.2 424H653.5L651.7 427.3H643.5zM706.1 329H716L712.2 335.6H702.5zM649.9 430.6H658.1L656.2 433.8H648.1zM716 329H725.6L721.8 335.6H712.2zM652.5 440.4H660.6L658.6 443.7H650.6zM725.6 329H735.1L731.1 335.6H721.8zM733.1 332.3H742.3L740.3 335.6H731.1zM740.3 335.6H749.2L747.2 338.9H738.3zM666.8 456.8H674.8L672.8 460H664.8zM747.2 338.9H755.9L753.9 342.1H745.2zM670.8 463.3H678.8L676.8 466.6H668.8zM753.9 342.1H762.4L758.3 348.7H749.8zM758.3 348.7H766.6L764.5 351.9H756.3zM762.5 355.2H770.6L768.6 358.5H760.5zM764.5 365.1H772.5L770.5 368.3H762.5zM766.4 374.9H774.3L770.3 381.4H762.3zM756.2 391.2H764.2L762.2 394.5H754.2z"/><path fill="#25ffd2" stroke="#25ffd2" stroke-width=".5" d="M659.8 338.9H670.3L662.2 355.2H652.1zM636.9 388H646.2L639.8 401.1H630.8zM675.1 329H685.6L680.6 338.9H670.3zM636.5 407.6H645.3L641.9 414.2H633.3zM687.3 325.8H697.7L694.2 332.3H684zM640.2 417.4H648.7L645.2 424H636.9zM699.5 322.5H709.7L706.1 329H696zM643.5 427.3H651.7L649.9 430.6H641.7zM709.7 322.5H719.7L716 329H706.1zM648.1 433.8H656.2L654.4 437.1H646.3zM719.7 322.5H729.4L725.6 329H716zM727.5 325.8H737L735.1 329H725.6zM656.7 446.9H664.7L662.8 450.2H654.8zM737 325.8H746.2L742.3 332.3H733.1zM660.8 453.5H668.8L666.8 456.8H658.9zM742.3 332.3H751.2L749.2 335.6H740.3zM749.2 335.6H757.9L755.9 338.9H747.2zM755.9 338.9H764.4L762.4 342.1H753.9zM674.8 469.9H682.8L680.8 473.1H672.7zM760.3 345.4H768.6L766.6 348.7H758.3zM678.7 476.4H686.9L684.8 479.7H676.7zM764.5 351.9H772.7L770.6 355.2H762.5zM768.6 358.5H776.5L772.5 365.1H764.5zM744.1 397.8H752.2L750.2 401.1H742.1zM770.5 368.3H778.3L774.3 374.9H766.4zM754.2 394.5H762.2L760.2 397.8H752.2z"/><path fill="#2bffcc" stroke="#2bffcc" stroke-width=".5" d="M649 338.9H659.8L635.4 391.2H626.1zM665.8 325.8H676.7L670.3 338.9H659.8zM630.8 401.1H639.8L636.5 407.6H627.8zM679.9 319.2H690.7L685.6 329H675.1zM633.3 414.2H641.9L638.5 420.7H630.1zM692.4 315.9H703L697.7 325.8H687.3zM636.9 424H645.2L643.5 427.3H635.2zM703 315.9H713.3L709.7 322.5H699.5zM641.7 430.6H649.9L648.1 433.8H639.9zM713.3 315.9H723.4L719.7 322.5H709.7zM646.3 437.1H654.4L652.5 440.4H644.5zM723.4 315.9H733.3L729.4 322.5H719.7zM650.6 443.7H658.6L656.7 446.9H648.8zM731.4 319.2H740.9L737 325.8H727.5zM654.8 450.2H662.8L660.8 453.5H652.9zM739 322.5H748.2L746.2 325.8H737zM746.2 325.8H755.3L751.2 332.3H742.3zM664.8 460H672.8L670.8 463.3H662.8zM753.2 329H762L757.9 335.6H749.2zM668.8 466.6H676.8L674.8 469.9H666.8zM757.9 335.6H766.5L764.4 338.9H755.9zM764.4 338.9H772.7L768.6 345.4H760.3zM768.6 345.4H776.7L772.7 351.9H764.5zM770.6 355.2H778.6L776.5 358.5H768.6zM774.5 361.8H782.3L778.3 368.3H770.5zM752.2 397.8H760.2L758.2 401.1H750.2zM772.3 378.1H780.1L772.1 391.2H764.2z"/><path fill="#31ffc5" stroke="#31ffc5" stroke-width=".5" d="M638.1 338.9H649L629 384.7H619.4zM656.2 322.5H667.4L659.8 338.9H649zM626.1 391.2H635.4L629.3 404.4H620.4zM671.9 312.6H683.1L676.7 325.8H665.8zM627.8 407.6H636.5L633.3 414.2H624.7zM683.1 312.6H694.1L690.7 319.2H679.9zM630.1 420.7H638.5L636.9 424H628.5zM694.1 312.6H704.7L703 315.9H692.4zM635.2 427.3H643.5L641.7 430.6H633.5zM704.7 312.6H715.1L713.3 315.9H703zM639.9 433.8H648.1L644.5 440.4H636.4zM715.1 312.6H725.3L723.4 315.9H713.3zM644.5 440.4H652.5L650.6 443.7H642.7zM725.3 312.6H735.2L733.3 315.9H723.4zM648.8 446.9H656.7L654.8 450.2H646.9zM735.2 312.6H744.8L740.9 319.2H731.4zM652.9 453.5H660.8L658.9 456.8H651zM742.9 315.9H752.2L748.2 322.5H739zM658.9 456.8H666.8L664.8 460H656.9zM750.2 319.2H759.3L755.3 325.8H746.2zM662.8 463.3H670.8L668.8 466.6H660.9zM757.3 322.5H766.1L762 329H753.2zM762 329H770.5L766.5 335.6H757.9zM672.7 473.1H680.8L678.7 476.4H670.7zM766.5 335.6H774.8L772.7 338.9H764.4zM770.7 342.1H778.8L776.7 345.4H768.6zM735.9 397.8H744.1L742.1 401.1H733.9zM774.7 348.7H782.6L778.6 355.2H770.6zM778.6 355.2H786.4L782.3 361.8H774.5zM778.3 368.3H786L780.1 378.1H772.3zM764.2 391.2H772.1L768.2 397.8H760.2z"/><path fill="#38ffbf" stroke="#38ffbf" stroke-width=".5" d="M628.2 335.6H639.4L622.1 378.1H612.2zM647.4 315.9H659.1L649 338.9H638.1zM619.4 384.7H629L623.2 397.8H614.1zM660.5 312.6H671.9L667.4 322.5H656.2zM620.4 404.4H629.3L626.2 410.9H617.5zM624.7 414.2H633.3L630.1 420.7H621.7zM628.5 424H636.9L633.5 430.6H625.3zM633.5 430.6H641.7L638.2 437.1H630.1zM636.4 440.4H644.5L642.7 443.7H634.7zM642.7 443.7H650.6L648.8 446.9H640.8zM646.9 450.2H654.8L652.9 453.5H645zM744.8 312.6H754.2L752.2 315.9H742.9zM656.9 460H664.8L662.8 463.3H655zM754.2 312.6H763.3L759.3 319.2H750.2zM761.3 315.9H770.1L766.1 322.5H757.3zM666.8 469.9H674.8L672.7 473.1H664.8zM766.1 322.5H774.6L770.5 329H762zM772.6 325.8H780.9L774.8 335.6H766.5zM676.7 479.7H684.8L682.8 483H674.7zM776.8 332.3H784.9L778.8 342.1H770.7zM778.8 342.1H786.7L782.6 348.7H774.7zM782.6 348.7H790.4L786.4 355.2H778.6zM750.2 401.1H758.2L756.2 404.4H748.1zM784.3 358.5H792L786 368.3H778.3zM760.2 397.8H768.2L766.2 401.1H758.2zM780.1 378.1H787.8L779.9 391.2H772.1z"/><path fill="#3effb8" stroke="#3effb8" stroke-width=".5" d="M619 329H630.6L613.4 374.9H603.3zM636.8 312.6H648.8L639.4 335.6H628.2zM612.2 378.1H622.1L615.4 394.5H606zM648.8 312.6H660.5L659.1 315.9H647.4zM614.1 397.8H623.2L618.9 407.6H610zM617.5 410.9H626.2L623.2 417.4H614.6zM621.7 420.7H630.1L626.9 427.3H618.6zM625.3 430.6H633.5L631.8 433.8H623.7zM630.1 437.1H638.2L636.4 440.4H628.5zM634.7 443.7H642.7L640.8 446.9H632.9zM640.8 446.9H648.8L646.9 450.2H639zM645 453.5H652.9L651 456.8H643.2zM651 456.8H658.9L656.9 460H649.1zM660.9 466.6H668.8L666.8 469.9H658.9zM763.3 312.6H772.1L770.1 315.9H761.3zM772.1 312.6H780.7L774.6 322.5H766.1zM670.7 476.4H678.7L676.7 479.7H668.7zM776.7 319.2H785L780.9 325.8H772.6zM780.9 325.8H789L784.9 332.3H776.8zM784.9 332.3H792.8L786.7 342.1H778.8zM742.1 401.1H750.2L748.1 404.4H740zM788.7 338.9H796.4L790.4 348.7H782.6zM790.4 348.7H797.9L792 358.5H784.3zM758.2 401.1H766.2L764.2 404.4H756.2zM790 361.8H797.5L787.8 378.1H780.1zM772.1 391.2H779.9L776 397.8H768.2z"/><path fill="#45ffb2" stroke="#45ffb2" stroke-width=".5" d="M612.1 312.6H624.6L603.3 374.9H593.1zM624.6 312.6H636.8L630.6 329H619zM603.3 374.9H613.4L606 394.5H596.6zM606 394.5H615.4L610 407.6H601.1zM610 407.6H618.9L614.6 417.4H606zM614.6 417.4H623.2L618.6 427.3H610.3zM618.6 427.3H626.9L623.7 433.8H615.6zM623.7 433.8H631.8L630.1 437.1H622.1zM628.5 440.4H636.4L634.7 443.7H626.8zM632.9 446.9H640.8L639 450.2H631.2zM639 450.2H646.9L645 453.5H637.2zM649.1 460H656.9L655 463.3H647.2zM655 463.3H662.8L660.9 466.6H653zM780.7 312.6H789.1L785 319.2H776.7zM674.7 483H682.8L680.8 486.2H672.6zM787 315.9H795.1L789 325.8H780.9zM791 322.5H798.9L792.8 332.3H784.9zM794.8 329H802.4L796.4 338.9H788.7zM796.4 338.9H803.9L797.9 348.7H790.4zM797.9 348.7H805.3L797.5 361.8H790zM768.2 397.8H776L774.1 401.1H766.2zM797.5 361.8H804.9L785.7 394.5H778z"/><path fill="#4bffac" stroke="#4bffac" stroke-width=".5" d="M599.3 312.6H612.1L592.1 378.1H581.9zM593.1 374.9H603.3L596.6 394.5H587.1zM596.6 394.5H606L601.1 407.6H592.1zM601.1 407.6H610L606 417.4H597.4zM606 417.4H614.6L611.8 424H603.4zM610.3 427.3H618.6L617.1 430.6H608.9zM615.6 433.8H623.7L622.1 437.1H614.1zM622.1 437.1H630.1L626.8 443.7H618.9zM626.8 443.7H634.7L632.9 446.9H625.1zM631.2 450.2H639L637.2 453.5H629.4zM637.2 453.5H645L643.2 456.8H635.4zM643.2 456.8H651L649.1 460H641.3zM658.9 469.9H666.8L664.8 473.1H656.9zM664.8 473.1H672.7L670.7 476.4H662.7zM789.1 312.6H797.1L795.1 315.9H787zM797.1 312.6H804.9L798.9 322.5H791zM802.9 315.9H810.5L802.4 329H794.8zM748.1 404.4H756.2L754.2 407.6H746.1zM806.5 322.5H813.8L803.9 338.9H796.4zM756.2 404.4H764.2L762.2 407.6H754.2zM807.9 332.3H815.1L805.3 348.7H797.9zM766.2 401.1H774.1L772.1 404.4H764.2zM807.3 345.4H814.5L804.9 361.8H797.5zM778 394.5H785.7L781.9 401.1H774.1zM804.9 361.8H812.1L795.3 391.2H787.7z"/><path fill="#52ffa5" stroke="#52ffa5" stroke-width=".5" d="M573 312.6H586.3L576 358.5H564.7zM586.3 312.6H599.3L580.1 384.7H570zM581.9 378.1H592.1L586.1 397.8H576.6zM587.1 394.5H596.6L591 410.9H582.1zM592.1 407.6H601.1L597.4 417.4H588.8zM597.4 417.4H606L602 427.3H593.7zM603.4 424H611.8L608.9 430.6H600.7zM608.9 430.6H617.1L614.1 437.1H606zM614.1 437.1H622.1L618.9 443.7H611zM618.9 443.7H626.8L625.1 446.9H617.3zM625.1 446.9H632.9L631.2 450.2H623.4zM629.4 453.5H637.2L635.4 456.8H627.7zM635.4 456.8H643.2L641.3 460H633.6zM641.3 460H649.1L647.2 463.3H639.4zM647.2 463.3H655L653 466.6H645.3zM653 466.6H660.9L658.9 469.9H651.1zM668.7 479.7H676.7L674.7 483H666.6zM740 404.4H748.1L746.1 407.6H738zM804.9 312.6H812.5L810.5 315.9H802.9zM812.5 312.6H819.8L813.8 322.5H806.5zM819.8 312.6H826.8L815.1 332.3H807.9zM764.2 404.4H772.1L770.2 407.6H762.2zM821 322.5H827.8L814.5 345.4H807.3zM774.1 401.1H781.9L780 404.4H772.1zM822.1 332.3H828.9L812.1 361.8H804.9zM787.7 391.2H795.3L789.7 401.1H781.9zM819.6 348.7H826.4L802.8 391.2H795.3z"/><path fill="#58ff9f" stroke="#58ff9f" stroke-width=".5" d="M545.7 312.6H559.5L554.1 351.9H542.2zM559.5 312.6H573L561.1 378.1H550.5zM564.7 358.5H576L568.6 391.2H558.7zM570 384.7H580.1L574.9 404.4H565.6zM576.6 397.8H586.1L581.1 414.2H572.3zM582.1 410.9H591L587.7 420.7H579.1zM588.8 417.4H597.4L593.7 427.3H585.4zM593.7 427.3H602L599.4 433.8H591.3zM600.7 430.6H608.9L604.6 440.4H596.7zM606 437.1H614.1L611 443.7H603.2zM611 443.7H618.9L617.3 446.9H609.5zM617.3 446.9H625.1L623.4 450.2H615.7zM623.4 450.2H631.2L629.4 453.5H621.7zM633.6 460H641.3L639.4 463.3H631.8zM651.1 469.9H658.9L656.9 473.1H649.1zM656.9 473.1H664.8L662.7 476.4H654.9zM662.7 476.4H670.7L668.7 479.7H660.7zM672.6 486.2H680.8L678.7 489.5H670.6zM733.9 401.1H742.1L740 404.4H731.8zM754.2 407.6H762.2L760.2 410.9H752.2zM762.2 407.6H770.2L768.2 410.9H760.2zM826.8 312.6H833.6L827.8 322.5H821zM772.1 404.4H780L778.1 407.6H770.2zM833.6 312.6H840.1L828.9 332.3H822.1zM781.9 401.1H789.7L786 407.6H778.1zM840.1 312.6H846.3L826.4 348.7H819.6zM795.3 391.2H802.8L797.4 401.1H789.7zM840.9 322.5H847.1L808.6 394.5H801zM836.6 342.1H842.9L824.4 378.1H817.3z"/><path fill="#5eff98" stroke="#5eff98" stroke-width=".5" d="M531.6 312.6H545.7L539.5 381.4H528.9zM542.2 351.9H554.1L548.2 394.5H538.3zM550.5 378.1H561.1L556.3 404.4H546.9zM558.7 391.2H568.6L563.4 414.2H554.5zM565.6 404.4H574.9L570.5 420.7H561.9zM572.3 414.2H581.1L577.1 427.3H568.8zM579.1 420.7H587.7L584.3 430.6H576.1zM585.4 427.3H593.7L590 437.1H582.1zM591.3 433.8H599.4L596.7 440.4H588.8zM596.7 440.4H604.6L601.7 446.9H594zM603.2 443.7H611L608 450.2H600.3zM609.5 446.9H617.3L614.1 453.5H606.4zM615.7 450.2H623.4L620 456.8H612.4zM621.7 453.5H629.4L625.9 460H618.4zM627.7 456.8H635.4L633.6 460H625.9zM639.4 463.3H647.2L645.3 466.6H637.6zM645.3 466.6H653L651.1 469.9H643.3zM746.1 407.6H754.2L752.2 410.9H744.1zM770.2 407.6H778.1L776.2 410.9H768.2zM778.1 407.6H786L784.1 410.9H776.2zM789.7 401.1H797.4L793.8 407.6H786zM846.3 312.6H852.3L847.1 322.5H840.9zM801 394.5H808.6L803.3 404.4H795.6zM852.3 312.6H858.1L842.9 342.1H836.6zM817.3 378.1H824.4L814.3 397.8H806.8zM858.1 312.6H863.5L825 391.2H817.7zM863.5 312.6H868.7L838.3 378.1H831.4zM868.7 312.6H873.7L853.6 358.5H847.4z"/><path fill="#65ff92" stroke="#65ff92" stroke-width=".5" d="M528.9 381.4H539.5L537.5 404.4H528zM538.3 394.5H548.2L545.1 417.4H536.3zM546.9 404.4H556.3L552.7 424H544.2zM554.5 414.2H563.4L559.7 430.6H551.5zM561.9 420.7H570.5L567 433.8H559zM568.8 427.3H577.1L574.1 437.1H566.2zM576.1 430.6H584.3L579.8 443.7H572.1zM582.1 437.1H590L586.3 446.9H578.7zM588.8 440.4H596.7L592.7 450.2H585.1zM594 446.9H601.7L598.9 453.5H591.4zM600.3 450.2H608L606.4 453.5H598.9zM606.4 453.5H614.1L612.4 456.8H604.9zM612.4 456.8H620L618.4 460H610.8zM618.4 460H625.9L624.2 463.3H616.7zM625.9 460H633.6L631.8 463.3H624.2zM631.8 463.3H639.4L637.6 466.6H630zM637.6 466.6H645.3L643.3 469.9H635.7zM643.3 469.9H651.1L649.1 473.1H641.4zM649.1 473.1H656.9L654.9 476.4H647.2zM654.9 476.4H662.7L660.7 479.7H652.9zM660.7 479.7H668.7L666.6 483H658.7zM666.6 483H674.7L672.6 486.2H664.6zM752.2 410.9H760.2L758.2 414.2H750.2zM760.2 410.9H768.2L766.3 414.2H758.2zM768.2 410.9H776.2L774.3 414.2H766.3zM776.2 410.9H784.1L782.2 414.2H774.3zM786 407.6H793.8L790.2 414.2H782.2zM795.6 404.4H803.3L799.8 410.9H792zM806.8 397.8H814.3L809.3 407.6H801.6zM817.7 391.2H825L818.6 404.4H811zM831.4 378.1H838.3L827.6 401.1H820.2zM847.4 358.5H853.6L837.9 394.5H830.7zM873.7 312.6H878.4L847.7 388H840.7zM878.4 312.6H882.8L858.2 378.1H851.7zM882.8 312.6H887L866.8 371.6H860.6zM887 312.6H890.9L875.9 361.8H870.2zM889.9 315.9H893.6L884 351.9H878.9zM889.3 332.3H893.5L891.3 342.1H886.7z"/><path fill="#6bff8b" stroke="#6bff8b" stroke-width=".5" d="M536.3 417.4H545.1L542.4 437.1H534.5zM544.2 424H552.7L549.7 440.4H542zM551.5 430.6H559.7L556.7 443.7H549.1zM559 433.8H567L563.5 446.9H556zM566.2 437.1H574.1L570.1 450.2H562.7zM572.1 443.7H579.8L576.5 453.5H569.1zM578.7 446.9H586.3L583.9 453.5H576.5zM585.1 450.2H592.7L590 456.8H582.7zM591.4 453.5H598.9L596 460H588.7zM598.9 453.5H606.4L603.4 460H596zM604.9 456.8H612.4L609.2 463.3H601.9zM610.8 460H618.4L616.7 463.3H609.2zM616.7 463.3H624.2L622.4 466.6H615zM624.2 463.3H631.8L628.2 469.9H620.7zM630 466.6H637.6L635.7 469.9H628.2zM635.7 469.9H643.3L641.4 473.1H633.8zM670.6 489.5H678.7L676.7 492.8H668.5zM738 407.6H746.1L744.1 410.9H735.9zM744.1 410.9H752.2L750.2 414.2H742zM758.2 414.2H766.3L764.3 417.4H756.2zM766.3 414.2H774.3L772.4 417.4H764.3zM774.3 414.2H782.2L780.4 417.4H772.4zM782.2 414.2H790.2L788.3 417.4H780.4zM792 410.9H799.8L796.3 417.4H788.3zM801.6 407.6H809.3L805.9 414.2H798.1zM811 404.4H818.6L813.7 414.2H805.9zM820.2 401.1H827.6L823 410.9H815.3zM830.7 394.5H837.9L832.1 407.6H824.6zM840.7 388H847.7L841 404.4H833.6zM851.7 378.1H858.2L849.6 401.1H842.3zM860.6 371.6H866.8L857.9 397.8H850.8zM870.2 361.8H875.9L865.9 394.5H859zM878.9 351.9H884L874.4 388H867.9zM886.7 342.1H891.3L881.6 384.7H875.3zM889.8 348.7H894.5L888.5 381.4H882.4z"/><path fill="#72ff85" stroke="#72ff85" stroke-width=".5" d="M534.5 437.1H542.4L539.7 456.8H532.7zM542 440.4H549.7L546.7 456.8H539.7zM549.1 443.7H556.7L553 460H546.1zM556 446.9H563.5L560 460H553zM562.7 450.2H570.1L567.1 460H560zM569.1 453.5H576.5L573.1 463.3H566.1zM576.5 453.5H583.9L580.2 463.3H573.1zM582.7 456.8H590L587.3 463.3H580.2zM588.7 460H596L593.1 466.6H586zM596 460H603.4L600.3 466.6H593.1zM601.9 463.3H609.2L607.6 466.6H600.3zM609.2 463.3H616.7L613.3 469.9H606zM615 466.6H622.4L620.7 469.9H613.3zM620.7 469.9H628.2L626.3 473.1H618.9zM628.2 469.9H635.7L633.8 473.1H626.3zM633.8 473.1H641.4L639.5 476.4H632zM641.4 473.1H649.1L647.2 476.4H639.5zM647.2 476.4H654.9L652.9 479.7H645.2zM731.8 404.4H740L738 407.6H729.8zM750.2 414.2H758.2L756.2 417.4H748.1zM764.3 417.4H772.4L770.4 420.7H762.4zM772.4 417.4H780.4L778.5 420.7H770.4zM780.4 417.4H788.3L786.5 420.7H778.5zM788.3 417.4H796.3L794.6 420.7H786.5zM798.1 414.2H805.9L802.5 420.7H794.6zM805.9 414.2H813.7L810.5 420.7H802.5zM815.3 410.9H823L818.5 420.7H810.5zM824.6 407.6H832.1L827.8 417.4H820zM833.6 404.4H841L835.6 417.4H827.8zM842.3 401.1H849.6L844.7 414.2H837zM850.8 397.8H857.9L852.3 414.2H844.7zM859 394.5H865.9L860.9 410.9H853.4zM867.9 388H874.4L868.3 410.9H860.9zM875.3 384.7H881.6L876.5 407.6H869.2zM882.4 381.4H888.5L883.7 407.6H876.5zM889.7 374.9H895.3L891.3 404.4H884.3z"/><path fill="#78ff7f" stroke="#78ff7f" stroke-width=".5" d="M532.7 456.8H539.7L537.5 473.1H531.3zM539.7 456.8H546.7L543.7 473.1H537.5zM546.1 460H553L550.1 473.1H543.7zM553 460H560L556.6 473.1H550.1zM560 460H567.1L563.1 473.1H556.6zM566.1 463.3H573.1L569.8 473.1H563.1zM573.1 463.3H580.2L576.5 473.1H569.8zM580.2 463.3H587.3L583.3 473.1H576.5zM586 466.6H593.1L590.3 473.1H583.3zM593.1 466.6H600.3L597.3 473.1H590.3zM600.3 466.6H607.6L604.4 473.1H597.3zM606 469.9H613.3L611.6 473.1H604.4zM613.3 469.9H620.7L618.9 473.1H611.6zM618.9 473.1H626.3L624.5 476.4H617.2zM626.3 473.1H633.8L632 476.4H624.5zM639.5 476.4H647.2L645.2 479.7H637.6zM652.9 479.7H660.7L658.7 483H650.9zM658.7 483H666.6L664.6 486.2H656.7zM664.6 486.2H672.6L670.6 489.5H662.6zM756.2 417.4H764.3L762.4 420.7H754.3zM770.4 420.7H778.5L776.6 424H768.5zM778.5 420.7H786.5L784.7 424H776.6zM786.5 420.7H794.6L792.8 424H784.7zM794.6 420.7H802.5L799.2 427.3H791.1zM802.5 420.7H810.5L807.3 427.3H799.2zM810.5 420.7H818.5L815.4 427.3H807.3zM820 417.4H827.8L823.5 427.3H815.4zM827.8 417.4H835.6L831.6 427.3H823.5zM837 414.2H844.7L839.7 427.3H831.6zM844.7 414.2H852.3L847.8 427.3H839.7zM853.4 410.9H860.9L855.9 427.3H847.8zM860.9 410.9H868.3L864 427.3H855.9zM869.2 407.6H876.5L872 427.3H864zM876.5 407.6H883.7L880.1 427.3H872zM884.3 404.4H891.3L888.1 427.3H880.1zM889.5 417.4H897.1L896.2 427.3H888.1z"/><path fill="#7fff78" stroke="#7fff78" stroke-width=".5" d="M537.5 473.1H543.7L540.7 489.5H535.2zM543.7 473.1H550.1L546.4 489.5H540.7zM550.1 473.1H556.6L552.2 489.5H546.4zM556.6 473.1H563.1L559.1 486.2H553.1zM563.1 473.1H569.8L565.3 486.2H559.1zM569.8 473.1H576.5L572.8 483H566.4zM576.5 473.1H583.3L579.3 483H572.8zM583.3 473.1H590.3L586 483H579.3zM590.3 473.1H597.3L594.3 479.7H587.4zM597.3 473.1H604.4L601.2 479.7H594.3zM604.4 473.1H611.6L608.3 479.7H601.2zM611.6 473.1H618.9L615.4 479.7H608.3zM617.2 476.4H624.5L622.7 479.7H615.4zM624.5 476.4H632L630.1 479.7H622.7zM632 476.4H639.5L637.6 479.7H630.1zM645.2 479.7H652.9L650.9 483H643.2zM735.9 410.9H744.1L742 414.2H733.9zM742 414.2H750.2L748.1 417.4H740zM748.1 417.4H756.2L754.3 420.7H746.1zM762.4 420.7H770.4L768.5 424H760.4zM768.5 424H776.6L774.8 427.3H766.6zM776.6 424H784.7L782.9 427.3H774.8zM784.7 424H792.8L789.3 430.6H781.1zM791.1 427.3H799.2L797.5 430.6H789.3zM799.2 427.3H807.3L805.7 430.6H797.5zM807.3 427.3H815.4L812.4 433.8H804.1zM815.4 427.3H823.5L820.7 433.8H812.4zM823.5 427.3H831.6L827.6 437.1H819.2zM831.6 427.3H839.7L836 437.1H827.6zM839.7 427.3H847.8L844.5 437.1H836zM847.8 427.3H855.9L851.9 440.4H843.3zM855.9 427.3H864L860.5 440.4H851.9zM864 427.3H872L868.3 443.7H859.6zM872 427.3H880.1L877.1 443.7H868.3zM880.1 427.3H888.1L885.5 446.9H876.5zM888.1 427.3H896.2L894.4 446.9H885.5z"/><path fill="#85ff72" stroke="#85ff72" stroke-width=".5" d="M535.2 489.5H540.7L537.7 505.9H533zM540.7 489.5H546.4L542 509.2H537.1zM546.4 489.5H552.2L547.8 505.9H542.7zM553.1 486.2H559.1L554.1 502.6H548.7zM559.1 486.2H565.3L560.8 499.3H555.1zM566.4 483H572.8L567.9 496.1H561.9zM572.8 483H579.3L574 496.1H567.9zM579.3 483H586L581.7 492.8H575.3zM587.4 479.7H594.3L589.7 489.5H583.1zM594.3 479.7H601.2L598 486.2H591.2zM601.2 479.7H608.3L604.9 486.2H598zM608.3 479.7H615.4L611.9 486.2H604.9zM615.4 479.7H622.7L620.9 483H613.7zM622.7 479.7H630.1L628.2 483H620.9zM630.1 479.7H637.6L635.7 483H628.2zM637.6 479.7H645.2L643.2 483H635.7zM650.9 483H658.7L656.7 486.2H648.9zM668.5 492.8H676.7L674.6 496.1H666.5zM754.3 420.7H762.4L760.4 424H752.3zM760.4 424H768.5L766.6 427.3H758.5zM774.8 427.3H782.9L781.1 430.6H772.9zM781.1 430.6H789.3L787.5 433.8H779.3zM789.3 430.6H797.5L795.8 433.8H787.5zM797.5 430.6H805.7L802.5 437.1H794.1zM804.1 433.8H812.4L809.3 440.4H800.9zM812.4 433.8H820.7L817.8 440.4H809.3zM819.2 437.1H827.6L825 443.7H816.4zM827.6 437.1H836L832.3 446.9H823.6zM836 437.1H844.5L840 450.2H831.1zM843.3 440.4H851.9L847.9 453.5H838.9zM851.9 440.4H860.5L856.1 456.8H846.9zM859.6 443.7H868.3L864.6 460H855.2zM868.3 443.7H877.1L873.5 463.3H863.9zM876.5 446.9H885.5L882.8 466.6H872.9zM885.5 446.9H894.4L892.4 469.9H882.3z"/><path fill="#8bff6b" stroke="#8bff6b" stroke-width=".5" d="M537.1 509.2H542L537.5 528.8H533.6zM542.7 505.9H547.8L540 535.4H536.1zM548.7 502.6H554.1L546.1 528.8H541.7zM555.1 499.3H560.8L553 522.2H548.1zM561.9 496.1H567.9L560.5 515.7H555.2zM567.9 496.1H574L567.3 512.4H561.7zM575.3 492.8H581.7L575.9 505.9H570zM583.1 489.5H589.7L583.6 502.6H577.4zM591.2 486.2H598L593.2 496.1H586.6zM598 486.2H604.9L601.5 492.8H594.8zM604.9 486.2H611.9L610.2 489.5H603.2zM613.7 483H620.9L617.3 489.5H610.2zM620.9 483H628.2L626.4 486.2H619.1zM628.2 483H635.7L633.8 486.2H626.4zM635.7 483H643.2L641.3 486.2H633.8zM643.2 483H650.9L648.9 486.2H641.3zM656.7 486.2H664.6L662.6 489.5H654.7zM662.6 489.5H670.6L668.5 492.8H660.5zM729.8 407.6H738L735.9 410.9H727.8zM746.1 420.7H754.3L752.3 424H744.1zM766.6 427.3H774.8L772.9 430.6H764.7zM772.9 430.6H781.1L779.3 433.8H771zM779.3 433.8H787.5L785.8 437.1H777.5zM787.5 433.8H795.8L792.5 440.4H784zM794.1 437.1H802.5L799.3 443.7H790.8zM800.9 440.4H809.3L807.8 443.7H799.3zM809.3 440.4H817.8L814.9 446.9H806.3zM816.4 443.7H825L822.3 450.2H813.5zM823.6 446.9H832.3L828.7 456.8H819.6zM831.1 450.2H840L836.6 460H827.4zM838.9 453.5H847.9L844.9 463.3H835.5zM846.9 456.8H856.1L852.6 469.9H842.9zM855.2 460H864.6L861 476.4H850.9zM863.9 463.3H873.5L869.9 483H859.5zM872.9 466.6H882.8L879.6 489.5H868.7zM882.3 469.9H892.4L890 496.1H878.7zM889.4 502.6H901.2L900.9 509.2H888.8z"/><path fill="#92ff65" stroke="#92ff65" stroke-width=".5" d="M536.1 535.4H540L537.4 545.2H533.8zM541.7 528.8H546.1L540.1 548.5H536.5zM548.1 522.2H553L544 548.5H540.1zM555.2 515.7H560.5L548.2 548.5H544zM561.7 512.4H567.3L552.6 548.5H548.2zM570 505.9H575.9L563 535.4H558zM577.4 502.6H583.6L574.4 522.2H568.8zM586.6 496.1H593.2L585.1 512.4H579zM594.8 492.8H601.5L594.8 505.9H588.4zM603.2 489.5H610.2L604.9 499.3H598.2zM610.2 489.5H617.3L613.7 496.1H606.7zM619.1 486.2H626.4L622.6 492.8H615.5zM626.4 486.2H633.8L631.9 489.5H624.5zM633.8 486.2H641.3L639.3 489.5H631.9zM641.3 486.2H648.9L647 489.5H639.3zM648.9 486.2H656.7L654.7 489.5H647zM733.9 414.2H742L740 417.4H731.9zM740 417.4H748.1L746.1 420.7H738zM752.3 424H760.4L758.5 427.3H750.3zM758.5 427.3H766.6L764.7 430.6H756.5zM764.7 430.6H772.9L771 433.8H762.8zM771 433.8H779.3L777.5 437.1H769.2zM777.5 437.1H785.8L784 440.4H775.7zM784 440.4H792.5L790.8 443.7H782.3zM790.8 443.7H799.3L797.7 446.9H789.1zM799.3 443.7H807.8L804.8 450.2H796.1zM806.3 446.9H814.9L812.1 453.5H803.2zM813.5 450.2H822.3L818.3 460H809.2zM819.6 456.8H828.7L826.2 463.3H816.9zM827.4 460H836.6L833.3 469.9H823.7zM835.5 463.3H844.9L840.9 476.4H831zM842.9 469.9H852.6L849.1 483H838.9zM850.9 476.4H861L857.3 492.8H846.5zM859.5 483H869.9L866.3 502.6H855zM868.7 489.5H879.6L876 515.7H863.9zM878.7 496.1H890L886.5 535.4H873.3zM888.8 509.2H900.9L899.4 548.5H885.3z"/><path fill="#98ff5e" stroke="#98ff5e" stroke-width=".5" d="M558 535.4H563L557.3 548.5H552.6zM568.8 522.2H574.4L562.3 548.5H557.3zM579 512.4H585.1L567.5 548.5H562.3zM588.4 505.9H594.8L579.7 535.4H573.9zM569.1 545.2H574.6L572.9 548.5H567.5zM598.2 499.3H604.9L597.9 512.4H591.4zM606.7 496.1H613.7L610 502.6H603.2zM615.5 492.8H622.6L620.8 496.1H613.7zM624.5 489.5H631.9L629.9 492.8H622.6zM631.9 489.5H639.3L637.4 492.8H629.9zM654.7 489.5H662.6L660.5 492.8H652.7zM750.3 427.3H758.5L756.5 430.6H748.3zM756.5 430.6H764.7L762.8 433.8H754.5zM762.8 433.8H771L769.2 437.1H760.9zM769.2 437.1H777.5L775.7 440.4H767.3zM775.7 440.4H784L782.3 443.7H773.9zM782.3 443.7H790.8L789.1 446.9H780.5zM789.1 446.9H797.7L796.1 450.2H787.4zM796.1 450.2H804.8L801.7 456.8H792.8zM803.2 453.5H812.1L809.2 460H800.2zM809.2 460H818.3L815.6 466.6H806.3zM816.9 463.3H826.2L822.5 473.1H812.9zM823.7 469.9H833.3L829.9 479.7H820zM831 476.4H840.9L836.9 489.5H826.6zM838.9 483H849.1L844.8 499.3H833.9zM846.5 492.8H857.3L852.1 515.7H840.4zM855 502.6H866.3L860.4 535.4H847.7zM863.9 515.7H876L871.5 548.5H858zM873.3 535.4H886.5L885.3 548.5H871.5z"/><path fill="#9fff58" stroke="#9fff58" stroke-width=".5" d="M573.9 535.4H579.7L574.6 545.2H569.1zM591.4 512.4H597.9L578.7 548.5H572.9zM603.2 502.6H610L597.3 525.5H590.9zM585.7 535.4H591.9L584.7 548.5H578.7zM613.7 496.1H620.8L615.2 505.9H608.2zM622.6 492.8H629.9L626.1 499.3H618.9zM629.9 492.8H637.4L635.4 496.1H628zM639.3 489.5H647L645 492.8H637.4zM647 489.5H654.7L652.7 492.8H645zM660.5 492.8H668.5L666.5 496.1H658.5zM666.5 496.1H674.6L672.6 499.3H664.5zM727.8 410.9H735.9L733.9 414.2H725.7zM738 420.7H746.1L744.1 424H736zM744.1 424H752.3L750.3 427.3H742.1zM760.9 437.1H769.2L767.3 440.4H759zM767.3 440.4H775.7L773.9 443.7H765.4zM773.9 443.7H782.3L780.5 446.9H772zM780.5 446.9H789.1L787.4 450.2H778.8zM787.4 450.2H796.1L792.8 456.8H784zM792.8 456.8H801.7L800.2 460H791.2zM800.2 460H809.2L806.3 466.6H797.1zM806.3 466.6H815.6L812.9 473.1H803.5zM812.9 473.1H822.5L818.8 483H808.9zM820 479.7H829.9L825.4 492.8H815.1zM826.6 489.5H836.9L831.9 505.9H821zM833.9 499.3H844.8L838.7 522.2H826.9zM840.4 515.7H852.1L844.7 548.5H831.7zM847.7 535.4H860.4L858 548.5H844.7z"/><path fill="#a5ff52" stroke="#a5ff52" stroke-width=".5" d="M590.9 525.5H597.3L591.9 535.4H585.7zM608.2 505.9H615.2L590.9 548.5H584.7zM618.9 499.3H626.1L622.3 505.9H615.2zM592.8 545.2H599.3L597.4 548.5H590.9zM628 496.1H635.4L633.5 499.3H626.1zM637.4 492.8H645L643 496.1H635.4zM731.9 417.4H740L738 420.7H729.8zM748.3 430.6H756.5L754.5 433.8H746.3zM754.5 433.8H762.8L760.9 437.1H752.6zM765.4 443.7H773.9L772 446.9H763.6zM772 446.9H780.5L778.8 450.2H770.2zM778.8 450.2H787.4L784 456.8H775.3zM784 456.8H792.8L791.2 460H782.4zM791.2 460H800.2L797.1 466.6H788zM797.1 466.6H806.3L803.5 473.1H794.1zM803.5 473.1H812.9L808.9 483H799.2zM808.9 483H818.8L815.1 492.8H804.9zM815.1 492.8H825.4L821 505.9H810.2zM821 505.9H831.9L825.9 525.5H814.3zM826.9 522.2H838.7L831.7 548.5H818.9z"/><path fill="#acff4b" stroke="#acff4b" stroke-width=".5" d="M615.2 505.9H622.3L599.3 545.2H592.8zM626.1 499.3H633.5L631.5 502.6H624.2zM601.2 541.9H608.1L604.2 548.5H597.4zM635.4 496.1H643L641 499.3H633.5zM645 492.8H652.7L650.7 496.1H643zM652.7 492.8H660.5L658.5 496.1H650.7zM736 424H744.1L742.1 427.3H733.9zM742.1 427.3H750.3L748.3 430.6H740.1zM752.6 437.1H760.9L759 440.4H750.6zM759 440.4H767.3L765.4 443.7H757zM770.2 450.2H778.8L777 453.5H768.4zM775.3 456.8H784L782.4 460H773.5zM782.4 460H791.2L788 466.6H779zM788 466.6H797.1L794.1 473.1H784.8zM794.1 473.1H803.5L800.6 479.7H791.1zM799.2 483H808.9L804.9 492.8H794.9zM804.9 492.8H815.1L810.2 505.9H799.6zM810.2 505.9H821L813.1 528.8H801.6zM814.3 525.5H825.9L818.9 548.5H806.4z"/><path fill="#b2ff45" stroke="#b2ff45" stroke-width=".5" d="M624.2 502.6H631.5L608.1 541.9H601.2zM633.5 499.3H641L639 502.6H631.5zM610 538.6H617.2L611.2 548.5H604.2zM725.7 414.2H733.9L731.9 417.4H723.7zM746.3 433.8H754.5L752.6 437.1H744.3zM757 443.7H765.4L763.6 446.9H755.1zM763.6 446.9H772L770.2 450.2H761.7zM768.4 453.5H777L775.3 456.8H766.6zM773.5 460H782.4L780.7 463.3H771.8zM779 466.6H788L786.4 469.9H777.3zM784.8 473.1H794.1L791.1 479.7H781.6zM791.1 479.7H800.6L796.3 489.5H786.5zM794.9 492.8H804.9L800.9 502.6H790.6zM799.6 505.9H810.2L802.8 525.5H791.6zM801.6 528.8H813.1L806.4 548.5H794.2z"/><path fill="#b8ff3e" stroke="#b8ff3e" stroke-width=".5" d="M631.5 502.6H639L635 509.2H627.6zM617.9 525.5H625.1L617.2 538.6H610zM643 496.1H650.7L648.7 499.3H641zM615.2 541.9H622.5L618.5 548.5H611.2zM658.5 496.1H666.5L664.5 499.3H656.5zM729.8 420.7H738L736 424H727.8zM740.1 430.6H748.3L746.3 433.8H738.1zM750.6 440.4H759L757 443.7H748.7zM755.1 446.9H763.6L761.7 450.2H753.2zM761.7 450.2H770.2L768.4 453.5H759.8zM766.6 456.8H775.3L773.5 460H764.8zM771.8 463.3H780.7L779 466.6H770zM777.3 469.9H786.4L783.2 476.4H773.9zM781.6 479.7H791.1L788 486.2H778.4zM786.5 489.5H796.3L792 499.3H781.9zM790.6 502.6H800.9L794.2 519H783.4zM791.6 525.5H802.8L794.2 548.5H782.2z"/><path fill="#bfff38" stroke="#bfff38" stroke-width=".5" d="M627.6 509.2H635L625.1 525.5H617.9zM641 499.3H648.7L646.7 502.6H639zM621.1 532.1H628.6L622.5 541.9H615.2zM650.7 496.1H658.5L656.5 499.3H648.7zM620.5 545.2H628.1L626.1 548.5H618.5zM723.7 417.4H731.9L729.8 420.7H721.6zM733.9 427.3H742.1L740.1 430.6H731.9zM738.1 433.8H746.3L744.3 437.1H736.1zM744.3 437.1H752.6L750.6 440.4H742.3zM748.7 443.7H757L755.1 446.9H746.7zM759.8 453.5H768.4L766.6 456.8H758zM764.8 460H773.5L771.8 463.3H763zM770 466.6H779L775.6 473.1H766.5zM773.9 476.4H783.2L781.6 479.7H772.3zM778.4 486.2H788L785 492.8H775.2zM781.9 499.3H792L787.7 509.2H777.3zM783.4 519H794.2L782.2 548.5H770.5z"/><path fill="#c5ff31" stroke="#c5ff31" stroke-width=".5" d="M639 502.6H646.7L644.6 505.9H637zM627.1 522.2H634.6L628.6 532.1H621.1zM624.5 538.6H632.1L628.1 545.2H620.5zM628.1 545.2H635.9L633.9 548.5H626.1zM664.5 499.3H672.6L670.5 502.6H662.4zM727.8 424H736L733.9 427.3H725.7zM742.3 440.4H750.6L748.7 443.7H740.4zM753.2 450.2H761.7L759.8 453.5H751.3zM758 456.8H766.6L764.8 460H756.1zM763 463.3H771.8L770 466.6H761.2zM766.5 473.1H775.6L773.9 476.4H764.8zM772.3 479.7H781.6L778.4 486.2H768.9zM775.2 492.8H785L780.4 502.6H770.4zM777.3 509.2H787.7L770.5 548.5H759.1z"/><path fill="#ccff2b" stroke="#ccff2b" stroke-width=".5" d="M637 505.9H644.6L634.6 522.2H627.1zM648.7 499.3H656.5L654.5 502.6H646.7zM628.6 532.1H636.2L632.1 538.6H624.5zM630.1 541.9H637.9L635.9 545.2H628.1zM731.9 430.6H740.1L738.1 433.8H729.9zM736.1 437.1H744.3L742.3 440.4H734.1zM746.7 446.9H755.1L753.2 450.2H744.8zM751.3 453.5H759.8L758 456.8H749.4zM756.1 460H764.8L763 463.3H754.2zM761.2 466.6H770L766.5 473.1H757.5zM764.8 476.4H773.9L770.6 483H761.3zM768.9 486.2H778.4L775.2 492.8H765.5zM770.4 502.6H780.4L774.3 515.7H763.9z"/><path fill="#d2ff25" stroke="#d2ff25" stroke-width=".5" d="M632.6 525.5H640.3L636.2 532.1H628.6zM656.5 499.3H664.5L662.4 502.6H654.5zM632.1 538.6H640L637.9 541.9H630.1zM635.9 545.2H644L641.9 548.5H633.9zM721.6 420.7H729.8L727.8 424H719.6zM725.7 427.3H733.9L731.9 430.6H723.7zM740.4 443.7H748.7L746.7 446.9H738.4zM744.8 450.2H753.2L751.3 453.5H742.8zM749.4 456.8H758L756.1 460H747.5zM754.2 463.3H763L761.2 466.6H752.4zM757.5 473.1H766.5L764.8 476.4H755.7zM761.3 483H770.6L768.9 486.2H759.5zM765.5 492.8H775.2L770.4 502.6H760.5zM763.9 515.7H774.3L759.1 548.5H747.9z"/><path fill="#d9ff1e" stroke="#d9ff1e" stroke-width=".5" d="M646.7 502.6H654.5L652.4 505.9H644.6zM636.6 519H644.3L640.3 525.5H632.6zM636.2 532.1H644.1L640 538.6H632.1zM637.9 541.9H646L644 545.2H635.9zM729.9 433.8H738.1L736.1 437.1H727.8zM734.1 440.4H742.3L740.4 443.7H732.1zM738.4 446.9H746.7L744.8 450.2H736.4zM742.8 453.5H751.3L749.4 456.8H740.9zM747.5 460H756.1L754.2 463.3H745.6zM752.4 466.6H761.2L759.4 469.9H750.5zM755.7 476.4H764.8L763 479.7H753.9zM759.5 486.2H768.9L765.5 492.8H756zM760.5 502.6H770.4L763.9 515.7H753.8zM742 538.6H752.7L747.9 548.5H736.9z"/><path fill="#dfff18" stroke="#dfff18" stroke-width=".5" d="M644.6 505.9H652.4L644.3 519H636.6zM638.2 528.8H646.1L644.1 532.1H636.2zM640 538.6H648.1L646 541.9H637.9zM719.6 424H727.8L725.7 427.3H717.5zM644 545.2H652.3L650.3 548.5H641.9zM723.7 430.6H731.9L729.9 433.8H721.7zM727.8 437.1H736.1L734.1 440.4H725.8zM745.6 463.3H754.2L752.4 466.6H743.7zM750.5 469.9H759.4L757.5 473.1H748.6zM753.9 479.7H763L759.5 486.2H750.3zM756 492.8H765.5L760.5 502.6H750.8zM728 545.2H738.6L736.9 548.5H726.3zM753.8 515.7H763.9L752.7 538.6H742z"/><path fill="#e5ff11" stroke="#e5ff11" stroke-width=".5" d="M640.3 525.5H648.1L646.1 528.8H638.2zM642 535.4H650.1L648.1 538.6H640zM646 541.9H654.3L652.3 545.2H644zM732.1 443.7H740.4L738.4 446.9H730zM736.4 450.2H744.8L742.8 453.5H734.4zM740.9 456.8H749.4L747.5 460H738.9zM743.7 466.6H752.4L750.5 469.9H741.7zM748.6 473.1H757.5L753.9 479.7H744.9zM750.3 486.2H759.5L757.8 489.5H748.5zM750.8 502.6H760.5L753.8 515.7H743.8zM736.8 528.8H747L738.6 545.2H728z"/><path fill="#ecff0b" stroke="#ecff0b" stroke-width=".5" d="M654.5 502.6H662.4L660.4 505.9H652.4zM642.3 522.2H650.2L648.1 525.5H640.3zM662.4 502.6H670.5L668.5 505.9H660.4zM644.1 532.1H652.1L650.1 535.4H642zM717.5 427.3H725.7L723.7 430.6H715.5zM648.1 538.6H656.4L654.3 541.9H646zM721.7 433.8H729.9L727.8 437.1H719.6zM652.3 545.2H660.9L658.9 548.5H650.3zM725.8 440.4H734.1L732.1 443.7H723.8zM730 446.9H738.4L736.4 450.2H728zM734.4 453.5H742.8L740.9 456.8H732.4zM738.9 460H747.5L745.6 463.3H737zM741.7 469.9H750.5L748.6 473.1H739.8zM744.9 479.7H753.9L752.1 483H743zM748.5 489.5H757.8L752.5 499.3H743zM721.3 538.6H731.5L726.3 548.5H715.9zM743.8 515.7H753.8L747 528.8H736.8z"/><path fill="#f2fb04" stroke="#f2fb04" stroke-width=".5" d="M644.3 519H652.2L650.2 522.2H642.3zM646.1 528.8H654.2L652.1 532.1H644.1zM654.3 541.9H662.9L660.9 545.2H652.3zM660.9 545.2H669.7L667.7 548.5H658.9zM737 463.3H745.6L743.7 466.6H735zM739.8 473.1H748.6L746.8 476.4H737.9zM743 483H752.1L750.3 486.2H741.2zM709.4 541.9H719.5L715.9 548.5H705.7zM743 499.3H752.5L747.3 509.2H737.6zM726.7 528.8H736.8L731.5 538.6H721.3z"/><path fill="#f9f300" stroke="#f9f300" stroke-width=".5" d="M652.4 505.9H660.4L658.3 509.2H650.4zM648.4 512.4H656.3L652.2 519H644.3zM715.5 430.6H723.7L721.7 433.8H713.5zM650.1 535.4H658.4L656.4 538.6H648.1zM719.6 437.1H727.8L725.8 440.4H717.6zM656.4 538.6H664.9L662.9 541.9H654.3zM723.8 443.7H732.1L730 446.9H721.8zM662.9 541.9H671.7L669.7 545.2H660.9zM728 450.2H736.4L734.4 453.5H726zM669.7 545.2H678.8L676.8 548.5H667.7zM732.4 456.8H740.9L738.9 460H730.4zM735 466.6H743.7L741.7 469.9H733.1zM688.1 545.2H697.7L695.8 548.5H686.2zM737.9 476.4H746.8L744.9 479.7H736zM697.7 545.2H707.6L705.7 548.5H695.8zM741.2 486.2H750.3L746.7 492.8H737.4zM713.2 535.4H723.1L719.5 541.9H709.4zM737.6 509.2H747.3L736.8 528.8H726.7z"/><path fill="#ffec00" stroke="#ffec00" stroke-width=".5" d="M650.4 509.2H658.3L656.3 512.4H648.4zM648.1 525.5H656.2L654.2 528.8H646.1zM652.1 532.1H660.5L658.4 535.4H650.1zM726 453.5H734.4L732.4 456.8H724zM671.7 541.9H680.8L678.8 545.2H669.7zM730.4 460H738.9L737 463.3H728.4zM678.8 545.2H688.1L686.2 548.5H676.8zM733.1 469.9H741.7L739.8 473.1H731.1zM690.1 541.9H699.6L697.7 545.2H688.1zM736 479.7H744.9L743 483H734.1zM701.6 538.6H711.3L707.6 545.2H697.7zM737.4 492.8H746.7L743 499.3H733.7zM716.9 528.8H726.7L723.1 535.4H713.2z"/><path fill="#ffe500" stroke="#ffe500" stroke-width=".5" d="M713.5 433.8H721.7L719.6 437.1H711.4zM717.6 440.4H725.8L723.8 443.7H715.5zM658.4 535.4H667L664.9 538.6H656.4zM721.8 446.9H730L728 450.2H719.7zM664.9 538.6H673.7L671.7 541.9H662.9zM728.4 463.3H737L735 466.6H726.5zM680.8 541.9H690.1L688.1 545.2H678.8zM731.1 473.1H739.8L737.9 476.4H729.2zM692 538.6H701.6L699.6 541.9H690.1zM734.1 483H743L739.3 489.5H730.3zM703.5 535.4H713.2L711.3 538.6H701.6zM733.7 499.3H743L726.7 528.8H716.9z"/><path fill="#ffdd00" stroke="#ffdd00" stroke-width=".5" d="M650.2 522.2H658.3L656.2 525.5H648.1zM654.2 528.8H662.5L660.5 532.1H652.1zM719.7 450.2H728L726 453.5H717.7zM724 456.8H732.4L730.4 460H722zM673.7 538.6H682.8L680.8 541.9H671.7zM726.5 466.6H735L733.1 469.9H724.5zM682.8 538.6H692L690.1 541.9H680.8zM729.2 476.4H737.9L736 479.7H727.2zM694 535.4H703.5L701.6 538.6H692zM730.3 489.5H739.3L737.4 492.8H728.3zM707.3 528.8H716.9L713.2 535.4H703.5z"/><path fill="#ffd600" stroke="#ffd600" stroke-width=".5" d="M652.2 519H660.3L658.3 522.2H650.2zM711.4 437.1H719.6L717.6 440.4H709.4zM715.5 443.7H723.8L721.8 446.9H713.5zM660.5 532.1H669L667 535.4H658.4zM667 535.4H675.7L673.7 538.6H664.9zM722 460H730.4L728.4 463.3H720zM675.7 535.4H684.8L682.8 538.6H673.7zM684.8 535.4H694L692 538.6H682.8zM727.2 479.7H736L734.1 483H725.2zM695.9 532.1H705.4L703.5 535.4H694zM728.3 492.8H737.4L731.8 502.6H722.6zM711.1 522.2H720.6L716.9 528.8H707.3z"/><path fill="#ffce00" stroke="#ffce00" stroke-width=".5" d="M709.4 440.4H717.6L715.5 443.7H707.3zM713.5 446.9H721.8L719.7 450.2H711.5zM717.7 453.5H726L724 456.8H715.7zM724.5 469.9H733.1L731.1 473.1H722.5zM686.7 532.1H695.9L694 535.4H684.8zM725.2 483H734.1L732.2 486.2H723.3zM697.9 528.8H707.3L705.4 532.1H695.9zM722.6 502.6H731.8L720.6 522.2H711.1z"/><path fill="#ffc700" stroke="#ffc700" stroke-width=".5" d="M654.3 515.7H662.4L660.3 519H652.2zM656.2 525.5H664.5L662.5 528.8H654.2zM662.5 528.8H671L669 532.1H660.5zM715.7 456.8H724L722 460H713.6zM669 532.1H677.8L675.7 535.4H667zM720 463.3H728.4L726.5 466.6H718zM677.8 532.1H686.7L684.8 535.4H675.7zM722.5 473.1H731.1L729.2 476.4H720.5zM723.3 486.2H732.2L728.3 492.8H719.4zM699.9 525.5H709.2L707.3 528.8H697.9z"/><path fill="#ffc000" stroke="#ffc000" stroke-width=".5" d="M660.4 505.9H668.5L666.5 509.2H658.3zM707.3 443.7H715.5L713.5 446.9H705.3zM711.5 450.2H719.7L717.7 453.5H709.4zM718 466.6H726.5L724.5 469.9H716zM720.5 476.4H729.2L727.2 479.7H718.5zM688.7 528.8H697.9L695.9 532.1H686.7zM719.4 492.8H728.3L724.5 499.3H715.5zM703.8 519H713L709.2 525.5H699.9z"/><path fill="#ffb800" stroke="#ffb800" stroke-width=".5" d="M656.3 512.4H664.4L662.4 515.7H654.3zM709.4 453.5H717.7L715.7 456.8H707.4zM713.6 460H722L720 463.3H711.6zM671 528.8H679.8L677.8 532.1H669zM716 469.9H724.5L722.5 473.1H714zM679.8 528.8H688.7L686.7 532.1H677.8zM718.5 479.7H727.2L723.3 486.2H714.5zM690.7 525.5H699.9L697.9 528.8H688.7zM715.5 499.3H724.5L713 519H703.8z"/><path fill="#ffb100" stroke="#ffb100" stroke-width=".5" d="M705.3 446.9H713.5L711.5 450.2H703.2zM658.3 522.2H666.6L664.5 525.5H656.2zM664.5 525.5H673.1L671 528.8H662.5zM711.6 463.3H720L718 466.6H709.6zM714 473.1H722.5L720.5 476.4H711.9zM681.8 525.5H690.7L688.7 528.8H679.8zM714.5 486.2H723.3L721.3 489.5H712.6zM692.7 522.2H701.8L699.9 525.5H690.7z"/><path fill="#ffaa00" stroke="#ffaa00" stroke-width=".5" d="M658.3 509.2H666.5L664.4 512.4H656.3zM703.2 450.2H711.5L709.4 453.5H701.2zM707.4 456.8H715.7L713.6 460H705.3zM709.6 466.6H718L716 469.9H707.6zM673.1 525.5H681.8L679.8 528.8H671zM711.9 476.4H720.5L718.5 479.7H709.9zM712.6 489.5H721.3L717.4 496.1H708.6zM696.7 515.7H705.7L701.8 522.2H692.7z"/><path fill="#ffa200" stroke="#ffa200" stroke-width=".5" d="M705.3 460H713.6L711.6 463.3H703.3zM709.9 479.7H718.5L716.5 483H707.9zM683.8 522.2H692.7L690.7 525.5H681.8zM708.6 496.1H717.4L705.7 515.7H696.7z"/><path fill="#ff9b00" stroke="#ff9b00" stroke-width=".5" d="M701.2 453.5H709.4L707.4 456.8H699.2zM666.6 522.2H675.1L673.1 525.5H664.5zM707.6 469.9H716L714 473.1H705.5zM675.1 522.2H683.8L681.8 525.5H673.1zM707.9 483H716.5L714.5 486.2H705.9zM685.8 519H694.7L692.7 522.2H683.8z"/><path fill="#ff9300" stroke="#ff9300" stroke-width=".5" d="M699.2 456.8H707.4L705.3 460H697.1zM660.3 519H668.6L666.6 522.2H658.3zM703.3 463.3H711.6L709.6 466.6H701.3zM705.5 473.1H714L711.9 476.4H703.5zM705.9 486.2H714.5L712.6 489.5H703.9z"/><path fill="#ff8c00" stroke="#ff8c00" stroke-width=".5" d="M701.3 466.6H709.6L707.6 469.9H699.2zM703.5 476.4H711.9L709.9 479.7H701.5zM703.9 489.5H712.6L708.6 496.1H699.9zM689.8 512.4H698.7L694.7 519H685.8z"/><path fill="#ff8500" stroke="#ff8500" stroke-width=".5" d="M697.1 460H705.3L703.3 463.3H695.1zM699.2 469.9H707.6L705.5 473.1H697.2zM668.6 519H677.1L675.1 522.2H666.6zM701.5 479.7H709.9L707.9 483H699.4zM677.1 519H685.8L683.8 522.2H675.1zM699.9 496.1H708.6L698.7 512.4H689.8z"/><path fill="#ff7d00" stroke="#ff7d00" stroke-width=".5" d="M695.1 463.3H703.3L701.3 466.6H693zM699.4 483H707.9L705.9 486.2H697.4z"/><path fill="#ff7600" stroke="#ff7600" stroke-width=".5" d="M697.2 473.1H705.5L703.5 476.4H695.1zM697.4 486.2H705.9L703.9 489.5H695.4zM679.1 515.7H687.8L685.8 519H677.1z"/><path fill="#ff6f00" stroke="#ff6f00" stroke-width=".5" d="M693 466.6H701.3L699.2 469.9H691zM662.4 515.7H670.7L668.6 519H660.3zM695.1 476.4H703.5L701.5 479.7H693.1zM695.4 489.5H703.9L701.9 492.8H693.3zM681.2 512.4H689.8L687.8 515.7H679.1z"/><path fill="#ff6700" stroke="#ff6700" stroke-width=".5" d="M691 469.9H699.2L697.2 473.1H688.9zM693.1 479.7H701.5L699.4 483H691.1zM670.7 515.7H679.1L677.1 519H668.6zM693.3 492.8H701.9L697.9 499.3H689.3zM683.2 509.2H691.8L689.8 512.4H681.2z"/><path fill="#ff6000" stroke="#ff6000" stroke-width=".5" d="M691.1 483H699.4L697.4 486.2H689zM689.3 499.3H697.9L691.8 509.2H683.2z"/><path fill="#ff5800" stroke="#ff5800" stroke-width=".5" d="M688.9 473.1H697.2L695.1 476.4H686.9z"/><path fill="#ff5100" stroke="#ff5100" stroke-width=".5" d="M686.9 476.4H695.1L693.1 479.7H684.8zM689 486.2H697.4L695.4 489.5H687z"/><path fill="#ff4a00" stroke="#ff4a00" stroke-width=".5" d="M687 489.5H695.4L693.3 492.8H684.9zM672.7 512.4H681.2L679.1 515.7H670.7z"/><path fill="#ff4200" stroke="#ff4200" stroke-width=".5" d="M684.8 479.7H693.1L691.1 483H682.8zM664.4 512.4H672.7L670.7 515.7H662.4zM684.9 492.8H693.3L691.3 496.1H682.9z"/><path fill="#ff3b00" stroke="#ff3b00" stroke-width=".5" d="M682.8 483H691.1L689 486.2H680.8zM682.9 496.1H691.3L689.3 499.3H680.9zM674.7 509.2H683.2L681.2 512.4H672.7z"/><path fill="#ff3400" stroke="#ff3400" stroke-width=".5" d="M680.9 499.3H689.3L683.2 509.2H674.7z"/><path fill="#ff2c00" stroke="#ff2c00" stroke-width=".5" d="M680.8 486.2H689L687 489.5H678.7z"/><path fill="#ff2500" stroke="#ff2500" stroke-width=".5" d="M678.7 489.5H687L684.9 492.8H676.7z"/><path fill="#ff1600" stroke="#ff1600" stroke-width=".5" d="M676.7 492.8H684.9L682.9 496.1H674.6z"/><path fill="#f10700" stroke="#f10700" stroke-width=".5" d="M674.6 496.1H682.9L680.9 499.3H672.6z"/><path fill="#e80000" stroke="#e80000" stroke-width=".5" d="M672.6 499.3H680.9L678.8 502.6H670.5zM666.5 509.2H674.7L672.7 512.4H664.4z"/><path fill="#d60000" stroke="#d60000" stroke-width=".5" d="M670.5 502.6H678.8L676.8 505.9H668.5z"/><path fill="#cc0000" stroke="#cc0000" stroke-width=".5" d="M668.5 505.9H676.8L674.7 509.2H666.5z"/></g></g>
<rect x="543.5" y="318.5" width="340" height="222.1" fill="none" stroke="#000" stroke-width="1"/>
</g>
<g class="t">
<rect x="50.9" y="268.1" width="11.1" height="1.35"/><text x="63.8" y="273.4" font-size="15.3" textLength="33.8" lengthAdjust="spacingAndGlyphs">400</text>
<rect x="140.8" y="268.1" width="11.1" height="1.35"/><text x="153.8" y="273.4" font-size="15.3" textLength="33.8" lengthAdjust="spacingAndGlyphs">200</text>
<text x="247.6" y="273.4" font-size="15.3" textLength="11.3" lengthAdjust="spacingAndGlyphs">0</text>
<text x="326.3" y="273.4" font-size="15.3" textLength="33.8" lengthAdjust="spacingAndGlyphs">200</text>
<text x="416.2" y="273.4" font-size="15.3" textLength="33.8" lengthAdjust="spacingAndGlyphs">400</text>
<rect x="11.2" y="249.9" width="11.1" height="1.35"/><text x="24.1" y="255.2" font-size="15.3" textLength="33.8" lengthAdjust="spacingAndGlyphs">300</text>
<rect x="11.2" y="213.5" width="11.1" height="1.35"/><text x="24.1" y="218.8" font-size="15.3" textLength="33.8" lengthAdjust="spacingAndGlyphs">200</text>
<rect x="11.2" y="177.1" width="11.1" height="1.35"/><text x="24.1" y="182.4" font-size="15.3" textLength="33.8" lengthAdjust="spacingAndGlyphs">100</text>
<text x="46.6" y="146" font-size="15.3" textLength="11.3" lengthAdjust="spacingAndGlyphs">0</text>
<text x="24.1" y="109.6" font-size="15.3" textLength="33.8" lengthAdjust="spacingAndGlyphs">100</text>
<text x="24.1" y="73.2" font-size="15.3" textLength="33.8" lengthAdjust="spacingAndGlyphs">200</text>
<text x="24.1" y="36.9" font-size="15.3" textLength="33.8" lengthAdjust="spacingAndGlyphs">300</text>
<rect x="472.5" y="245.3" width="11.1" height="1.35"/><text x="485.4" y="250.7" font-size="15.3" textLength="22.5" lengthAdjust="spacingAndGlyphs">10</text>
<rect x="472.5" y="222.3" width="11.1" height="1.35"/><text x="485.4" y="227.7" font-size="15.3" textLength="11.3" lengthAdjust="spacingAndGlyphs">8</text>
<rect x="472.5" y="199.3" width="11.1" height="1.35"/><text x="485.4" y="204.7" font-size="15.3" textLength="11.3" lengthAdjust="spacingAndGlyphs">6</text>
<rect x="472.5" y="176.3" width="11.1" height="1.35"/><text x="485.4" y="181.7" font-size="15.3" textLength="11.3" lengthAdjust="spacingAndGlyphs">4</text>
<rect x="472.5" y="153.3" width="11.1" height="1.35"/><text x="485.4" y="158.7" font-size="15.3" textLength="11.3" lengthAdjust="spacingAndGlyphs">2</text>
<text x="470.6" y="135.7" font-size="15.3" textLength="11.3" lengthAdjust="spacingAndGlyphs">0</text>
<text x="470.6" y="112.7" font-size="15.3" textLength="11.3" lengthAdjust="spacingAndGlyphs">2</text>
<text x="470.6" y="89.7" font-size="15.3" textLength="11.3" lengthAdjust="spacingAndGlyphs">4</text>
<text x="470.6" y="66.7" font-size="15.3" textLength="11.3" lengthAdjust="spacingAndGlyphs">6</text>
<text x="470.6" y="43.7" font-size="15.3" textLength="11.3" lengthAdjust="spacingAndGlyphs">8</text>
<text class="b" x="125.6" y="53.5" font-size="16.2" textLength="222.5" lengthAdjust="spacingAndGlyphs">Permeable Fault - Analytical</text>
<text class="s" x="178.8" y="21" font-size="20.5" textLength="29.1" lengthAdjust="spacingAndGlyphs">(a)</text><text x="216.8" y="21" font-size="18.5" font-style="italic" textLength="13.9" lengthAdjust="spacingAndGlyphs">σ</text><text x="231" y="23.4" font-size="12.5" font-style="italic" textLength="16.8" lengthAdjust="spacingAndGlyphs">xy</text><text class="s" x="257.3" y="21" font-size="20.5" textLength="67.9" lengthAdjust="spacingAndGlyphs">(MPa)</text>
<rect x="56.6" y="559.7" width="11.1" height="1.35"/><text x="69.5" y="565.1" font-size="15.3" textLength="33.8" lengthAdjust="spacingAndGlyphs">400</text>
<rect x="144.7" y="559.7" width="11.1" height="1.35"/><text x="157.7" y="565.1" font-size="15.3" textLength="33.8" lengthAdjust="spacingAndGlyphs">200</text>
<text x="249.6" y="565.1" font-size="15.3" textLength="11.3" lengthAdjust="spacingAndGlyphs">0</text>
<text x="326.5" y="565.1" font-size="15.3" textLength="33.8" lengthAdjust="spacingAndGlyphs">200</text>
<text x="414.6" y="565.1" font-size="15.3" textLength="33.8" lengthAdjust="spacingAndGlyphs">400</text>
<rect x="16.9" y="541.5" width="11.1" height="1.35"/><text x="29.8" y="546.9" font-size="15.3" textLength="33.8" lengthAdjust="spacingAndGlyphs">300</text>
<rect x="16.9" y="504.1" width="11.1" height="1.35"/><text x="29.8" y="509.5" font-size="15.3" textLength="33.8" lengthAdjust="spacingAndGlyphs">200</text>
<rect x="16.9" y="466.8" width="11.1" height="1.35"/><text x="29.8" y="472.2" font-size="15.3" textLength="33.8" lengthAdjust="spacingAndGlyphs">100</text>
<text x="52.3" y="434.8" font-size="15.3" textLength="11.3" lengthAdjust="spacingAndGlyphs">0</text>
<text x="29.8" y="397.5" font-size="15.3" textLength="33.8" lengthAdjust="spacingAndGlyphs">100</text>
<text x="29.8" y="360.2" font-size="15.3" textLength="33.8" lengthAdjust="spacingAndGlyphs">200</text>
<text x="29.8" y="322.8" font-size="15.3" textLength="33.8" lengthAdjust="spacingAndGlyphs">300</text>
<rect x="470.9" y="521.1" width="11.1" height="1.35"/><text x="483.8" y="526.5" font-size="15.3" textLength="39.4" lengthAdjust="spacingAndGlyphs">9.00</text>
<rect x="470.9" y="498.2" width="11.1" height="1.35"/><text x="483.8" y="503.6" font-size="15.3" textLength="39.4" lengthAdjust="spacingAndGlyphs">6.75</text>
<rect x="470.9" y="475.3" width="11.1" height="1.35"/><text x="483.8" y="480.7" font-size="15.3" textLength="39.4" lengthAdjust="spacingAndGlyphs">4.50</text>
<rect x="470.9" y="452.4" width="11.1" height="1.35"/><text x="483.8" y="457.8" font-size="15.3" textLength="39.4" lengthAdjust="spacingAndGlyphs">2.25</text>
<text x="469" y="434.8" font-size="15.3" textLength="39.4" lengthAdjust="spacingAndGlyphs">0.00</text>
<text x="469" y="411.9" font-size="15.3" textLength="39.4" lengthAdjust="spacingAndGlyphs">2.25</text>
<text x="469" y="389" font-size="15.3" textLength="39.4" lengthAdjust="spacingAndGlyphs">4.50</text>
<text x="469" y="366.1" font-size="15.3" textLength="39.4" lengthAdjust="spacingAndGlyphs">6.75</text>
<text x="469" y="343.2" font-size="15.3" textLength="39.4" lengthAdjust="spacingAndGlyphs">9.00</text>
<text class="b" x="115.9" y="342.7" font-size="16.2" textLength="243.1" lengthAdjust="spacingAndGlyphs">Impermeable Fault - Analytical</text>
<text class="s" x="179.3" y="307.1" font-size="20.5" textLength="29.5" lengthAdjust="spacingAndGlyphs">(a)</text><text x="217.8" y="307.1" font-size="18.5" font-style="italic" textLength="14.1" lengthAdjust="spacingAndGlyphs">σ</text><text x="232.2" y="309.5" font-size="12.5" font-style="italic" textLength="17.1" lengthAdjust="spacingAndGlyphs">xy</text><text class="s" x="258.8" y="307.1" font-size="20.5" textLength="68.9" lengthAdjust="spacingAndGlyphs">(MPa)</text>
<text class="b" x="615.1" y="53.5" font-size="16.2" textLength="196.8" lengthAdjust="spacingAndGlyphs">Permeable Fault - GEOSX</text>
<text class="b" x="600.9" y="342.1" font-size="16.2" textLength="218.7" lengthAdjust="spacingAndGlyphs">Impermeable Fault - GEOSX</text>
</g>
</svg>
</body></html>
